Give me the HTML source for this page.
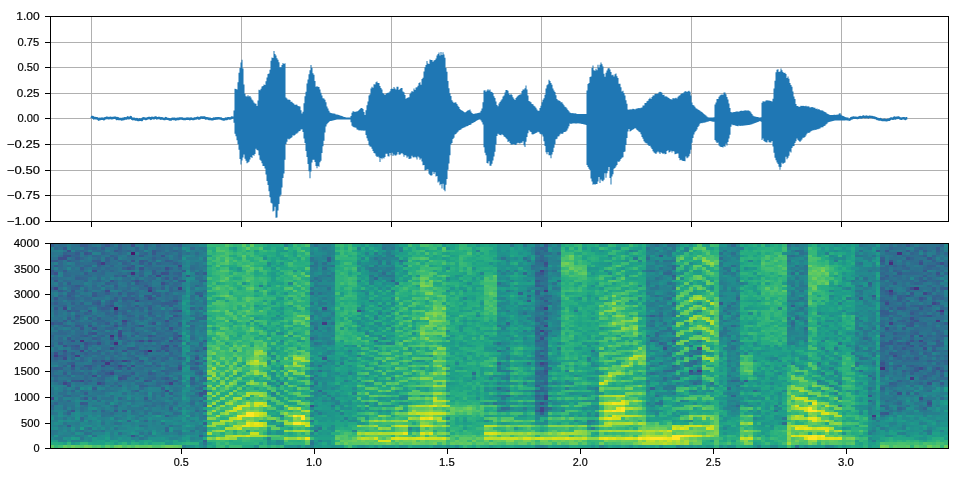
<!DOCTYPE html><html><head><meta charset="utf-8"><style>
html,body{margin:0;padding:0;background:#fff;width:960px;height:480px;overflow:hidden}
svg{display:block}
text{font-family:"Liberation Sans",sans-serif;font-size:11.1px;fill:#000}
.tx{will-change:transform}
.tx text{stroke:#000;stroke-width:0.2px}
</style></head><body>
<svg width="960" height="480" viewBox="0 0 960 480">
<defs><clipPath id="c1"><rect x="50" y="16" width="899" height="206"/></clipPath>
<clipPath id="c2"><rect x="50" y="243" width="899" height="206"/></clipPath></defs>
<g shape-rendering="crispEdges"><rect x="51" y="42" width="897" height="1" fill="#b0b0b0"/><rect x="51" y="67" width="897" height="1" fill="#b0b0b0"/><rect x="51" y="93" width="897" height="1" fill="#b0b0b0"/><rect x="51" y="118" width="897" height="1" fill="#b0b0b0"/><rect x="51" y="144" width="897" height="1" fill="#b0b0b0"/><rect x="51" y="170" width="897" height="1" fill="#b0b0b0"/><rect x="51" y="195" width="897" height="1" fill="#b0b0b0"/><rect x="91" y="17" width="1" height="204" fill="#b0b0b0"/><rect x="241" y="17" width="1" height="204" fill="#b0b0b0"/><rect x="391" y="17" width="1" height="204" fill="#b0b0b0"/><rect x="541" y="17" width="1" height="204" fill="#b0b0b0"/><rect x="691" y="17" width="1" height="204" fill="#b0b0b0"/><rect x="841" y="17" width="1" height="204" fill="#b0b0b0"/></g>
<g clip-path="url(#c1)"><polygon fill="#1f77b4" points="233.5,110.6 234.5,110.6 234.5,88.8 235.5,88.8 235.5,88.9 236.5,88.9 236.5,89.4 237.5,89.4 237.5,82.2 238.5,82.2 238.5,72.7 239.5,72.7 239.5,67.9 240.5,67.9 240.5,62.4 241.5,62.4 241.5,59.7 242.5,59.7 242.5,68.4 243.5,68.4 243.5,84.6 244.5,84.6 244.5,93.8 245.5,93.8 245.5,96.2 246.5,96.2 246.5,96.5 247.5,96.5 247.5,95.3 248.5,95.3 248.5,96.5 249.5,96.5 249.5,96.0 250.5,96.0 250.5,97.6 251.5,97.6 251.5,99.4 252.5,99.4 252.5,100.5 253.5,100.5 253.5,102.5 254.5,102.5 254.5,103.6 255.5,103.6 255.5,103.7 256.5,103.7 256.5,106.1 257.5,106.1 257.5,100.5 258.5,100.5 258.5,89.8 259.5,89.8 259.5,90.2 260.5,90.2 260.5,88.7 261.5,88.7 261.5,86.5 262.5,86.5 262.5,86.1 263.5,86.1 263.5,84.5 264.5,84.5 264.5,85.1 265.5,85.1 265.5,81.2 266.5,81.2 266.5,77.4 267.5,77.4 267.5,73.9 268.5,73.9 268.5,73.4 269.5,73.4 269.5,69.7 270.5,69.7 270.5,60.7 271.5,60.7 271.5,57.4 272.5,57.4 272.5,58.1 273.5,58.1 273.5,51.0 274.5,51.0 274.5,54.1 275.5,54.1 275.5,55.5 276.5,55.5 276.5,58.3 277.5,58.3 277.5,59.8 278.5,59.8 278.5,62.2 279.5,62.2 279.5,67.2 280.5,67.2 280.5,67.2 281.5,67.2 281.5,65.1 282.5,65.1 282.5,63.1 283.5,63.1 283.5,64.0 284.5,64.0 284.5,63.2 285.5,63.2 285.5,97.6 286.5,97.6 286.5,98.5 287.5,98.5 287.5,99.8 288.5,99.8 288.5,99.4 289.5,99.4 289.5,100.0 290.5,100.0 290.5,101.8 291.5,101.8 291.5,101.7 292.5,101.7 292.5,103.0 293.5,103.0 293.5,103.8 294.5,103.8 294.5,105.0 295.5,105.0 295.5,104.4 296.5,104.4 296.5,104.8 297.5,104.8 297.5,106.0 298.5,106.0 298.5,106.3 299.5,106.3 299.5,106.5 300.5,106.5 300.5,110.2 301.5,110.2 301.5,113.4 302.5,113.4 302.5,111.7 303.5,111.7 303.5,103.2 304.5,103.2 304.5,96.3 305.5,96.3 305.5,91.7 306.5,91.7 306.5,83.4 307.5,83.4 307.5,79.4 308.5,79.4 308.5,74.2 309.5,74.2 309.5,70.3 310.5,70.3 310.5,65.0 311.5,65.0 311.5,67.7 312.5,67.7 312.5,73.2 313.5,73.2 313.5,74.8 314.5,74.8 314.5,81.0 315.5,81.0 315.5,86.8 316.5,86.8 316.5,86.2 317.5,86.2 317.5,86.7 318.5,86.7 318.5,87.0 319.5,87.0 319.5,89.5 320.5,89.5 320.5,92.8 321.5,92.8 321.5,95.6 322.5,95.6 322.5,98.2 323.5,98.2 323.5,98.5 324.5,98.5 324.5,99.7 325.5,99.7 325.5,102.3 326.5,102.3 326.5,106.5 327.5,106.5 327.5,108.6 328.5,108.6 328.5,110.7 329.5,110.7 329.5,112.6 330.5,112.6 330.5,112.9 331.5,112.9 331.5,113.2 332.5,113.2 332.5,113.4 333.5,113.4 333.5,113.6 334.5,113.6 334.5,113.8 335.5,113.8 335.5,114.4 336.5,114.4 336.5,114.5 337.5,114.5 337.5,114.8 338.5,114.8 338.5,115.1 339.5,115.1 339.5,115.4 340.5,115.4 340.5,115.8 341.5,115.8 341.5,116.1 342.5,116.1 342.5,116.5 343.5,116.5 343.5,116.9 344.5,116.9 344.5,117.1 345.5,117.1 345.5,117.4 346.5,117.4 346.5,117.5 347.5,117.5 347.5,117.5 348.5,117.5 348.5,117.5 349.5,117.5 349.5,117.5 350.5,117.5 350.5,116.0 351.5,116.0 351.5,112.8 352.5,112.8 352.5,111.3 353.5,111.3 353.5,111.4 354.5,111.4 354.5,111.9 355.5,111.9 355.5,111.6 356.5,111.6 356.5,111.4 357.5,111.4 357.5,110.9 358.5,110.9 358.5,110.1 359.5,110.1 359.5,108.9 360.5,108.9 360.5,108.1 361.5,108.1 361.5,107.9 362.5,107.9 362.5,108.9 363.5,108.9 363.5,112.0 364.5,112.0 364.5,115.0 365.5,115.0 365.5,110.3 366.5,110.3 366.5,105.2 367.5,105.2 367.5,101.5 368.5,101.5 368.5,95.6 369.5,95.6 369.5,94.2 370.5,94.2 370.5,88.5 371.5,88.5 371.5,86.8 372.5,86.8 372.5,87.7 373.5,87.7 373.5,84.2 374.5,84.2 374.5,84.5 375.5,84.5 375.5,82.3 376.5,82.3 376.5,81.4 377.5,81.4 377.5,83.1 378.5,83.1 378.5,83.0 379.5,83.0 379.5,85.9 380.5,85.9 380.5,88.1 381.5,88.1 381.5,89.6 382.5,89.6 382.5,92.9 383.5,92.9 383.5,94.0 384.5,94.0 384.5,94.9 385.5,94.9 385.5,93.8 386.5,93.8 386.5,93.0 387.5,93.0 387.5,92.8 388.5,92.8 388.5,92.5 389.5,92.5 389.5,91.2 390.5,91.2 390.5,89.0 391.5,89.0 391.5,88.4 392.5,88.4 392.5,89.1 393.5,89.1 393.5,86.9 394.5,86.9 394.5,88.6 395.5,88.6 395.5,89.6 396.5,89.6 396.5,86.8 397.5,86.8 397.5,86.8 398.5,86.8 398.5,89.9 399.5,89.9 399.5,88.9 400.5,88.9 400.5,87.9 401.5,87.9 401.5,88.1 402.5,88.1 402.5,91.5 403.5,91.5 403.5,92.3 404.5,92.3 404.5,95.0 405.5,95.0 405.5,98.8 406.5,98.8 406.5,98.0 407.5,98.0 407.5,97.4 408.5,97.4 408.5,97.2 409.5,97.2 409.5,94.1 410.5,94.1 410.5,92.6 411.5,92.6 411.5,91.1 412.5,91.1 412.5,91.7 413.5,91.7 413.5,88.4 414.5,88.4 414.5,89.9 415.5,89.9 415.5,87.4 416.5,87.4 416.5,87.2 417.5,87.2 417.5,85.7 418.5,85.7 418.5,82.9 419.5,82.9 419.5,82.2 420.5,82.2 420.5,84.8 421.5,84.8 421.5,79.0 422.5,79.0 422.5,77.8 423.5,77.8 423.5,71.5 424.5,71.5 424.5,67.3 425.5,67.3 425.5,64.9 426.5,64.9 426.5,61.1 427.5,61.1 427.5,63.4 428.5,63.4 428.5,64.0 429.5,64.0 429.5,59.4 430.5,59.4 430.5,59.9 431.5,59.9 431.5,60.1 432.5,60.1 432.5,61.8 433.5,61.8 433.5,60.6 434.5,60.6 434.5,60.1 435.5,60.1 435.5,58.6 436.5,58.6 436.5,55.6 437.5,55.6 437.5,53.9 438.5,53.9 438.5,52.5 439.5,52.5 439.5,55.6 440.5,55.6 440.5,51.9 441.5,51.9 441.5,55.1 442.5,55.1 442.5,52.3 443.5,52.3 443.5,54.6 444.5,54.6 444.5,57.8 445.5,57.8 445.5,67.9 446.5,67.9 446.5,71.7 447.5,71.7 447.5,80.9 448.5,80.9 448.5,88.2 449.5,88.2 449.5,93.3 450.5,93.3 450.5,96.0 451.5,96.0 451.5,100.2 452.5,100.2 452.5,101.7 453.5,101.7 453.5,103.1 454.5,103.1 454.5,102.2 455.5,102.2 455.5,102.5 456.5,102.5 456.5,104.1 457.5,104.1 457.5,105.7 458.5,105.7 458.5,107.1 459.5,107.1 459.5,108.9 460.5,108.9 460.5,109.9 461.5,109.9 461.5,110.4 462.5,110.4 462.5,111.0 463.5,111.0 463.5,111.9 464.5,111.9 464.5,112.6 465.5,112.6 465.5,111.9 466.5,111.9 466.5,111.0 467.5,111.0 467.5,110.3 468.5,110.3 468.5,110.3 469.5,110.3 469.5,109.5 470.5,109.5 470.5,111.4 471.5,111.4 471.5,113.1 472.5,113.1 472.5,113.8 473.5,113.8 473.5,113.9 474.5,113.9 474.5,113.4 475.5,113.4 475.5,113.4 476.5,113.4 476.5,113.2 477.5,113.2 477.5,112.9 478.5,112.9 478.5,112.7 479.5,112.7 479.5,112.6 480.5,112.6 480.5,110.8 481.5,110.8 481.5,108.6 482.5,108.6 482.5,102.3 483.5,102.3 483.5,90.4 484.5,90.4 484.5,90.3 485.5,90.3 485.5,91.7 486.5,91.7 486.5,90.4 487.5,90.4 487.5,89.3 488.5,89.3 488.5,90.6 489.5,90.6 489.5,89.5 490.5,89.5 490.5,91.8 491.5,91.8 491.5,92.1 492.5,92.1 492.5,93.0 493.5,93.0 493.5,96.3 494.5,96.3 494.5,98.0 495.5,98.0 495.5,101.4 496.5,101.4 496.5,104.9 497.5,104.9 497.5,106.3 498.5,106.3 498.5,103.6 499.5,103.6 499.5,102.1 500.5,102.1 500.5,100.6 501.5,100.6 501.5,99.3 502.5,99.3 502.5,96.4 503.5,96.4 503.5,95.4 504.5,95.4 504.5,92.5 505.5,92.5 505.5,90.1 506.5,90.1 506.5,89.9 507.5,89.9 507.5,90.8 508.5,90.8 508.5,93.6 509.5,93.6 509.5,95.1 510.5,95.1 510.5,93.8 511.5,93.8 511.5,95.1 512.5,95.1 512.5,97.2 513.5,97.2 513.5,98.7 514.5,98.7 514.5,100.1 515.5,100.1 515.5,97.9 516.5,97.9 516.5,96.8 517.5,96.8 517.5,95.8 518.5,95.8 518.5,95.1 519.5,95.1 519.5,94.5 520.5,94.5 520.5,94.3 521.5,94.3 521.5,91.0 522.5,91.0 522.5,89.6 523.5,89.6 523.5,89.4 524.5,89.4 524.5,88.2 525.5,88.2 525.5,85.4 526.5,85.4 526.5,89.5 527.5,89.5 527.5,95.5 528.5,95.5 528.5,101.0 529.5,101.0 529.5,101.4 530.5,101.4 530.5,102.3 531.5,102.3 531.5,103.9 532.5,103.9 532.5,104.3 533.5,104.3 533.5,105.7 534.5,105.7 534.5,106.6 535.5,106.6 535.5,107.8 536.5,107.8 536.5,109.5 537.5,109.5 537.5,110.8 538.5,110.8 538.5,110.7 539.5,110.7 539.5,108.0 540.5,108.0 540.5,105.7 541.5,105.7 541.5,102.3 542.5,102.3 542.5,99.7 543.5,99.7 543.5,98.3 544.5,98.3 544.5,94.8 545.5,94.8 545.5,88.5 546.5,88.5 546.5,85.2 547.5,85.2 547.5,84.3 548.5,84.3 548.5,79.8 549.5,79.8 549.5,81.1 550.5,81.1 550.5,83.0 551.5,83.0 551.5,84.8 552.5,84.8 552.5,88.4 553.5,88.4 553.5,90.5 554.5,90.5 554.5,92.1 555.5,92.1 555.5,95.3 556.5,95.3 556.5,99.1 557.5,99.1 557.5,100.3 558.5,100.3 558.5,100.6 559.5,100.6 559.5,101.1 560.5,101.1 560.5,102.2 561.5,102.2 561.5,102.3 562.5,102.3 562.5,103.7 563.5,103.7 563.5,105.2 564.5,105.2 564.5,106.8 565.5,106.8 565.5,107.3 566.5,107.3 566.5,108.5 567.5,108.5 567.5,109.9 568.5,109.9 568.5,111.3 569.5,111.3 569.5,112.5 570.5,112.5 570.5,112.9 571.5,112.9 571.5,113.2 572.5,113.2 572.5,113.0 573.5,113.0 573.5,113.6 574.5,113.6 574.5,113.3 575.5,113.3 575.5,113.5 576.5,113.5 576.5,114.0 577.5,114.0 577.5,113.9 578.5,113.9 578.5,113.9 579.5,113.9 579.5,114.1 580.5,114.1 580.5,113.9 581.5,113.9 581.5,114.1 582.5,114.1 582.5,113.9 583.5,113.9 583.5,113.9 584.5,113.9 584.5,114.1 585.5,114.1 585.5,114.1 586.5,114.1 586.5,90.6 587.5,90.6 587.5,84.0 588.5,84.0 588.5,83.1 589.5,83.1 589.5,77.1 590.5,77.1 590.5,76.5 591.5,76.5 591.5,67.9 592.5,67.9 592.5,65.6 593.5,65.6 593.5,70.2 594.5,70.2 594.5,70.7 595.5,70.7 595.5,68.7 596.5,68.7 596.5,70.3 597.5,70.3 597.5,64.7 598.5,64.7 598.5,67.6 599.5,67.6 599.5,64.8 600.5,64.8 600.5,62.4 601.5,62.4 601.5,64.3 602.5,64.3 602.5,66.6 603.5,66.6 603.5,73.8 604.5,73.8 604.5,76.8 605.5,76.8 605.5,72.7 606.5,72.7 606.5,70.6 607.5,70.6 607.5,68.4 608.5,68.4 608.5,68.0 609.5,68.0 609.5,69.4 610.5,69.4 610.5,71.9 611.5,71.9 611.5,75.2 612.5,75.2 612.5,74.8 613.5,74.8 613.5,76.5 614.5,76.5 614.5,74.3 615.5,74.3 615.5,73.4 616.5,73.4 616.5,76.2 617.5,76.2 617.5,77.9 618.5,77.9 618.5,83.8 619.5,83.8 619.5,83.8 620.5,83.8 620.5,87.2 621.5,87.2 621.5,91.5 622.5,91.5 622.5,90.7 623.5,90.7 623.5,93.1 624.5,93.1 624.5,95.4 625.5,95.4 625.5,100.3 626.5,100.3 626.5,103.8 627.5,103.8 627.5,109.4 628.5,109.4 628.5,109.8 629.5,109.8 629.5,109.3 630.5,109.3 630.5,109.6 631.5,109.6 631.5,109.3 632.5,109.3 632.5,108.8 633.5,108.8 633.5,108.9 634.5,108.9 634.5,109.5 635.5,109.5 635.5,108.8 636.5,108.8 636.5,108.5 637.5,108.5 637.5,108.2 638.5,108.2 638.5,108.0 639.5,108.0 639.5,108.2 640.5,108.2 640.5,107.7 641.5,107.7 641.5,107.5 642.5,107.5 642.5,105.5 643.5,105.5 643.5,105.4 644.5,105.4 644.5,103.1 645.5,103.1 645.5,103.1 646.5,103.1 646.5,101.2 647.5,101.2 647.5,100.7 648.5,100.7 648.5,99.0 649.5,99.0 649.5,97.8 650.5,97.8 650.5,98.9 651.5,98.9 651.5,97.1 652.5,97.1 652.5,95.5 653.5,95.5 653.5,95.4 654.5,95.4 654.5,93.9 655.5,93.9 655.5,93.8 656.5,93.8 656.5,93.9 657.5,93.9 657.5,93.5 658.5,93.5 658.5,92.2 659.5,92.2 659.5,91.8 660.5,91.8 660.5,91.9 661.5,91.9 661.5,92.7 662.5,92.7 662.5,94.9 663.5,94.9 663.5,94.8 664.5,94.8 664.5,96.5 665.5,96.5 665.5,96.3 666.5,96.3 666.5,96.8 667.5,96.8 667.5,97.6 668.5,97.6 668.5,98.1 669.5,98.1 669.5,99.0 670.5,99.0 670.5,99.2 671.5,99.2 671.5,99.5 672.5,99.5 672.5,97.9 673.5,97.9 673.5,98.5 674.5,98.5 674.5,98.3 675.5,98.3 675.5,97.8 676.5,97.8 676.5,98.5 677.5,98.5 677.5,96.7 678.5,96.7 678.5,95.7 679.5,95.7 679.5,95.3 680.5,95.3 680.5,93.9 681.5,93.9 681.5,93.3 682.5,93.3 682.5,93.2 683.5,93.2 683.5,92.3 684.5,92.3 684.5,91.3 685.5,91.3 685.5,91.3 686.5,91.3 686.5,91.9 687.5,91.9 687.5,91.3 688.5,91.3 688.5,90.7 689.5,90.7 689.5,91.7 690.5,91.7 690.5,95.5 691.5,95.5 691.5,102.4 692.5,102.4 692.5,104.9 693.5,104.9 693.5,105.5 694.5,105.5 694.5,106.8 695.5,106.8 695.5,108.2 696.5,108.2 696.5,108.7 697.5,108.7 697.5,109.4 698.5,109.4 698.5,109.9 699.5,109.9 699.5,110.7 700.5,110.7 700.5,111.6 701.5,111.6 701.5,112.1 702.5,112.1 702.5,113.0 703.5,113.0 703.5,114.0 704.5,114.0 704.5,114.8 705.5,114.8 705.5,115.6 706.5,115.6 706.5,116.4 707.5,116.4 707.5,117.3 708.5,117.3 708.5,117.5 709.5,117.5 709.5,117.5 710.5,117.5 710.5,117.5 711.5,117.5 711.5,117.5 712.5,117.5 712.5,117.5 713.5,117.5 713.5,117.2 714.5,117.2 714.5,104.6 715.5,104.6 715.5,102.5 716.5,102.5 716.5,98.9 717.5,98.9 717.5,99.0 718.5,99.0 718.5,96.7 719.5,96.7 719.5,95.5 720.5,95.5 720.5,94.8 721.5,94.8 721.5,94.4 722.5,94.4 722.5,94.8 723.5,94.8 723.5,92.5 724.5,92.5 724.5,92.6 725.5,92.6 725.5,94.2 726.5,94.2 726.5,97.1 727.5,97.1 727.5,99.6 728.5,99.6 728.5,103.5 729.5,103.5 729.5,108.0 730.5,108.0 730.5,111.9 731.5,111.9 731.5,112.4 732.5,112.4 732.5,112.3 733.5,112.3 733.5,112.0 734.5,112.0 734.5,112.0 735.5,112.0 735.5,111.6 736.5,111.6 736.5,111.4 737.5,111.4 737.5,111.4 738.5,111.4 738.5,111.7 739.5,111.7 739.5,110.9 740.5,110.9 740.5,110.8 741.5,110.8 741.5,110.7 742.5,110.7 742.5,111.1 743.5,111.1 743.5,110.5 744.5,110.5 744.5,110.4 745.5,110.4 745.5,110.3 746.5,110.3 746.5,110.7 747.5,110.7 747.5,110.3 748.5,110.3 748.5,110.8 749.5,110.8 749.5,111.2 750.5,111.2 750.5,112.6 751.5,112.6 751.5,113.9 752.5,113.9 752.5,115.4 753.5,115.4 753.5,116.3 754.5,116.3 754.5,116.6 755.5,116.6 755.5,116.7 756.5,116.7 756.5,117.0 757.5,117.0 757.5,117.1 758.5,117.1 758.5,117.4 759.5,117.4 759.5,117.5 760.5,117.5 760.5,117.2 761.5,117.2 761.5,102.7 762.5,102.7 762.5,101.2 763.5,101.2 763.5,101.5 764.5,101.5 764.5,101.6 765.5,101.6 765.5,100.4 766.5,100.4 766.5,100.2 767.5,100.2 767.5,100.5 768.5,100.5 768.5,100.6 769.5,100.6 769.5,100.8 770.5,100.8 770.5,101.0 771.5,101.0 771.5,101.4 772.5,101.4 772.5,98.8 773.5,98.8 773.5,88.6 774.5,88.6 774.5,80.8 775.5,80.8 775.5,72.3 776.5,72.3 776.5,69.7 777.5,69.7 777.5,69.2 778.5,69.2 778.5,72.1 779.5,72.1 779.5,71.5 780.5,71.5 780.5,68.6 781.5,68.6 781.5,70.3 782.5,70.3 782.5,72.1 783.5,72.1 783.5,72.9 784.5,72.9 784.5,72.7 785.5,72.7 785.5,73.9 786.5,73.9 786.5,77.9 787.5,77.9 787.5,76.6 788.5,76.6 788.5,78.8 789.5,78.8 789.5,83.0 790.5,83.0 790.5,85.1 791.5,85.1 791.5,86.7 792.5,86.7 792.5,91.5 793.5,91.5 793.5,96.4 794.5,96.4 794.5,98.9 795.5,98.9 795.5,104.0 796.5,104.0 796.5,106.1 797.5,106.1 797.5,105.9 798.5,105.9 798.5,107.0 799.5,107.0 799.5,106.4 800.5,106.4 800.5,105.7 801.5,105.7 801.5,106.0 802.5,106.0 802.5,105.8 803.5,105.8 803.5,105.9 804.5,105.9 804.5,106.2 805.5,106.2 805.5,105.8 806.5,105.8 806.5,106.4 807.5,106.4 807.5,106.2 808.5,106.2 808.5,106.5 809.5,106.5 809.5,107.4 810.5,107.4 810.5,107.3 811.5,107.3 811.5,107.1 812.5,107.1 812.5,107.2 813.5,107.2 813.5,107.7 814.5,107.7 814.5,107.7 815.5,107.7 815.5,108.9 816.5,108.9 816.5,108.4 817.5,108.4 817.5,109.5 818.5,109.5 818.5,109.1 819.5,109.1 819.5,110.1 820.5,110.1 820.5,110.5 821.5,110.5 821.5,110.3 822.5,110.3 822.5,110.8 823.5,110.8 823.5,111.6 824.5,111.6 824.5,112.0 825.5,112.0 825.5,112.5 826.5,112.5 826.5,113.4 827.5,113.4 827.5,113.9 828.5,113.9 828.5,114.4 829.5,114.4 829.5,115.0 830.5,115.0 830.5,115.0 831.5,115.0 831.5,114.9 832.5,114.9 832.5,115.1 833.5,115.1 833.5,114.8 834.5,114.8 834.5,114.7 835.5,114.7 835.5,114.9 836.5,114.9 836.5,114.6 837.5,114.6 837.5,114.8 838.5,114.8 838.5,113.7 839.5,113.7 839.5,113.0 840.5,113.0 840.5,114.4 841.5,114.4 841.5,115.5 842.5,115.5 842.5,115.9 843.5,115.9 843.5,116.3 844.5,116.3 844.5,116.9 845.5,116.9 845.5,117.3 846.5,117.3 846.5,117.5 847.5,117.5 847.5,117.5 848.5,117.5 848.5,120.5 847.5,120.5 847.5,120.5 846.5,120.5 846.5,120.3 845.5,120.3 845.5,120.5 844.5,120.5 844.5,120.4 843.5,120.4 843.5,120.4 842.5,120.4 842.5,120.5 841.5,120.5 841.5,120.4 840.5,120.4 840.5,120.4 839.5,120.4 839.5,120.4 838.5,120.4 838.5,120.5 837.5,120.5 837.5,120.4 836.5,120.4 836.5,120.4 835.5,120.4 835.5,120.4 834.5,120.4 834.5,120.8 833.5,120.8 833.5,120.9 832.5,120.9 832.5,121.3 831.5,121.3 831.5,121.4 830.5,121.4 830.5,121.7 829.5,121.7 829.5,122.1 828.5,122.1 828.5,122.6 827.5,122.6 827.5,123.7 826.5,123.7 826.5,124.5 825.5,124.5 825.5,125.8 824.5,125.8 824.5,126.1 823.5,126.1 823.5,127.3 822.5,127.3 822.5,127.3 821.5,127.3 821.5,127.5 820.5,127.5 820.5,128.6 819.5,128.6 819.5,128.7 818.5,128.7 818.5,129.2 817.5,129.2 817.5,129.3 816.5,129.3 816.5,129.9 815.5,129.9 815.5,129.7 814.5,129.7 814.5,130.2 813.5,130.2 813.5,130.2 812.5,130.2 812.5,130.8 811.5,130.8 811.5,131.3 810.5,131.3 810.5,132.3 809.5,132.3 809.5,133.1 808.5,133.1 808.5,132.8 807.5,132.8 807.5,133.7 806.5,133.7 806.5,135.6 805.5,135.6 805.5,136.9 804.5,136.9 804.5,137.8 803.5,137.8 803.5,137.7 802.5,137.7 802.5,139.4 801.5,139.4 801.5,140.8 800.5,140.8 800.5,142.1 799.5,142.1 799.5,141.0 798.5,141.0 798.5,140.1 797.5,140.1 797.5,138.6 796.5,138.6 796.5,141.3 795.5,141.3 795.5,143.1 794.5,143.1 794.5,145.9 793.5,145.9 793.5,146.2 792.5,146.2 792.5,148.1 791.5,148.1 791.5,152.5 790.5,152.5 790.5,151.4 789.5,151.4 789.5,155.7 788.5,155.7 788.5,157.7 787.5,157.7 787.5,159.3 786.5,159.3 786.5,156.8 785.5,156.8 785.5,162.5 784.5,162.5 784.5,163.1 783.5,163.1 783.5,164.0 782.5,164.0 782.5,162.7 781.5,162.7 781.5,166.9 780.5,166.9 780.5,169.7 779.5,169.7 779.5,166.7 778.5,166.7 778.5,164.1 777.5,164.1 777.5,162.4 776.5,162.4 776.5,160.2 775.5,160.2 775.5,157.7 774.5,157.7 774.5,152.7 773.5,152.7 773.5,146.6 772.5,146.6 772.5,140.9 771.5,140.9 771.5,142.5 770.5,142.5 770.5,142.4 769.5,142.4 769.5,142.3 768.5,142.3 768.5,140.2 767.5,140.2 767.5,142.5 766.5,142.5 766.5,142.2 765.5,142.2 765.5,141.8 764.5,141.8 764.5,140.9 763.5,140.9 763.5,138.6 762.5,138.6 762.5,139.9 761.5,139.9 761.5,121.7 760.5,121.7 760.5,121.1 759.5,121.1 759.5,121.6 758.5,121.6 758.5,122.0 757.5,122.0 757.5,122.3 756.5,122.3 756.5,122.7 755.5,122.7 755.5,123.1 754.5,123.1 754.5,123.4 753.5,123.4 753.5,123.8 752.5,123.8 752.5,124.2 751.5,124.2 751.5,124.6 750.5,124.6 750.5,124.7 749.5,124.7 749.5,125.0 748.5,125.0 748.5,125.0 747.5,125.0 747.5,125.3 746.5,125.3 746.5,125.3 745.5,125.3 745.5,125.5 744.5,125.5 744.5,125.6 743.5,125.6 743.5,125.7 742.5,125.7 742.5,125.7 741.5,125.7 741.5,125.8 740.5,125.8 740.5,126.0 739.5,126.0 739.5,125.5 738.5,125.5 738.5,126.2 737.5,126.2 737.5,126.1 736.5,126.1 736.5,125.8 735.5,125.8 735.5,125.5 734.5,125.5 734.5,124.9 733.5,124.9 733.5,125.2 732.5,125.2 732.5,124.5 731.5,124.5 731.5,126.8 730.5,126.8 730.5,134.8 729.5,134.8 729.5,138.6 728.5,138.6 728.5,142.1 727.5,142.1 727.5,145.5 726.5,145.5 726.5,143.8 725.5,143.8 725.5,146.8 724.5,146.8 724.5,146.3 723.5,146.3 723.5,147.5 722.5,147.5 722.5,147.1 721.5,147.1 721.5,147.1 720.5,147.1 720.5,146.4 719.5,146.4 719.5,145.5 718.5,145.5 718.5,142.6 717.5,142.6 717.5,143.1 716.5,143.1 716.5,141.4 715.5,141.4 715.5,140.0 714.5,140.0 714.5,121.8 713.5,121.8 713.5,121.7 712.5,121.7 712.5,121.5 711.5,121.5 711.5,121.2 710.5,121.2 710.5,121.0 709.5,121.0 709.5,121.3 708.5,121.3 708.5,121.7 707.5,121.7 707.5,121.8 706.5,121.8 706.5,122.2 705.5,122.2 705.5,122.5 704.5,122.5 704.5,122.7 703.5,122.7 703.5,122.8 702.5,122.8 702.5,123.2 701.5,123.2 701.5,123.0 700.5,123.0 700.5,123.7 699.5,123.7 699.5,125.7 698.5,125.7 698.5,127.1 697.5,127.1 697.5,129.5 696.5,129.5 696.5,131.1 695.5,131.1 695.5,132.3 694.5,132.3 694.5,134.6 693.5,134.6 693.5,137.9 692.5,137.9 692.5,142.8 691.5,142.8 691.5,149.7 690.5,149.7 690.5,153.7 689.5,153.7 689.5,156.2 688.5,156.2 688.5,157.5 687.5,157.5 687.5,158.2 686.5,158.2 686.5,156.5 685.5,156.5 685.5,161.2 684.5,161.2 684.5,160.9 683.5,160.9 683.5,160.9 682.5,160.9 682.5,160.6 681.5,160.6 681.5,159.8 680.5,159.8 680.5,160.3 679.5,160.3 679.5,158.1 678.5,158.1 678.5,153.6 677.5,153.6 677.5,153.5 676.5,153.5 676.5,154.0 675.5,154.0 675.5,154.2 674.5,154.2 674.5,151.4 673.5,151.4 673.5,151.1 672.5,151.1 672.5,152.6 671.5,152.6 671.5,150.7 670.5,150.7 670.5,152.0 669.5,152.0 669.5,152.5 668.5,152.5 668.5,150.3 667.5,150.3 667.5,150.9 666.5,150.9 666.5,154.1 665.5,154.1 665.5,154.3 664.5,154.3 664.5,153.3 663.5,153.3 663.5,153.9 662.5,153.9 662.5,153.1 661.5,153.1 661.5,152.2 660.5,152.2 660.5,153.9 659.5,153.9 659.5,152.5 658.5,152.5 658.5,151.6 657.5,151.6 657.5,152.6 656.5,152.6 656.5,153.9 655.5,153.9 655.5,153.3 654.5,153.3 654.5,152.5 653.5,152.5 653.5,151.2 652.5,151.2 652.5,148.9 651.5,148.9 651.5,147.5 650.5,147.5 650.5,145.8 649.5,145.8 649.5,145.9 648.5,145.9 648.5,144.9 647.5,144.9 647.5,143.6 646.5,143.6 646.5,143.2 645.5,143.2 645.5,142.4 644.5,142.4 644.5,141.2 643.5,141.2 643.5,138.8 642.5,138.8 642.5,137.1 641.5,137.1 641.5,134.2 640.5,134.2 640.5,132.3 639.5,132.3 639.5,131.7 638.5,131.7 638.5,130.7 637.5,130.7 637.5,130.1 636.5,130.1 636.5,128.8 635.5,128.8 635.5,127.9 634.5,127.9 634.5,128.9 633.5,128.9 633.5,129.5 632.5,129.5 632.5,130.0 631.5,130.0 631.5,131.1 630.5,131.1 630.5,131.5 629.5,131.5 629.5,129.0 628.5,129.0 628.5,131.5 627.5,131.5 627.5,138.1 626.5,138.1 626.5,144.9 625.5,144.9 625.5,151.5 624.5,151.5 624.5,152.1 623.5,152.1 623.5,157.2 622.5,157.2 622.5,157.8 621.5,157.8 621.5,159.0 620.5,159.0 620.5,160.8 619.5,160.8 619.5,162.1 618.5,162.1 618.5,161.5 617.5,161.5 617.5,164.9 616.5,164.9 616.5,166.4 615.5,166.4 615.5,168.1 614.5,168.1 614.5,168.8 613.5,168.8 613.5,174.3 612.5,174.3 612.5,176.4 611.5,176.4 611.5,184.6 610.5,184.6 610.5,177.9 609.5,177.9 609.5,166.9 608.5,166.9 608.5,170.7 607.5,170.7 607.5,173.3 606.5,173.3 606.5,177.8 605.5,177.8 605.5,173.3 604.5,173.3 604.5,179.8 603.5,179.8 603.5,181.2 602.5,181.2 602.5,180.8 601.5,180.8 601.5,179.5 600.5,179.5 600.5,183.0 599.5,183.0 599.5,176.9 598.5,176.9 598.5,181.5 597.5,181.5 597.5,184.0 596.5,184.0 596.5,183.9 595.5,183.9 595.5,184.8 594.5,184.8 594.5,184.1 593.5,184.1 593.5,184.7 592.5,184.7 592.5,181.6 591.5,181.6 591.5,178.6 590.5,178.6 590.5,169.9 589.5,169.9 589.5,168.7 588.5,168.7 588.5,166.9 587.5,166.9 587.5,164.9 586.5,164.9 586.5,124.9 585.5,124.9 585.5,124.4 584.5,124.4 584.5,124.5 583.5,124.5 583.5,124.0 582.5,124.0 582.5,124.0 581.5,124.0 581.5,123.7 580.5,123.7 580.5,123.4 579.5,123.4 579.5,123.4 578.5,123.4 578.5,123.2 577.5,123.2 577.5,123.6 576.5,123.6 576.5,123.5 575.5,123.5 575.5,123.4 574.5,123.4 574.5,123.3 573.5,123.3 573.5,123.4 572.5,123.4 572.5,123.4 571.5,123.4 571.5,123.9 570.5,123.9 570.5,123.6 569.5,123.6 569.5,126.3 568.5,126.3 568.5,128.4 567.5,128.4 567.5,130.4 566.5,130.4 566.5,131.5 565.5,131.5 565.5,132.0 564.5,132.0 564.5,132.0 563.5,132.0 563.5,133.5 562.5,133.5 562.5,134.1 561.5,134.1 561.5,133.4 560.5,133.4 560.5,134.4 559.5,134.4 559.5,136.2 558.5,136.2 558.5,136.6 557.5,136.6 557.5,138.7 556.5,138.7 556.5,139.3 555.5,139.3 555.5,144.2 554.5,144.2 554.5,147.7 553.5,147.7 553.5,151.9 552.5,151.9 552.5,154.5 551.5,154.5 551.5,158.3 550.5,158.3 550.5,155.2 549.5,155.2 549.5,155.2 548.5,155.2 548.5,151.9 547.5,151.9 547.5,154.3 546.5,154.3 546.5,152.3 545.5,152.3 545.5,145.9 544.5,145.9 544.5,141.2 543.5,141.2 543.5,136.6 542.5,136.6 542.5,134.6 541.5,134.6 541.5,134.2 540.5,134.2 540.5,133.7 539.5,133.7 539.5,132.3 538.5,132.3 538.5,131.8 537.5,131.8 537.5,132.4 536.5,132.4 536.5,133.1 535.5,133.1 535.5,133.5 534.5,133.5 534.5,134.1 533.5,134.1 533.5,134.5 532.5,134.5 532.5,134.2 531.5,134.2 531.5,132.0 530.5,132.0 530.5,131.4 529.5,131.4 529.5,130.3 528.5,130.3 528.5,133.2 527.5,133.2 527.5,137.1 526.5,137.1 526.5,141.8 525.5,141.8 525.5,147.1 524.5,147.1 524.5,145.3 523.5,145.3 523.5,141.3 522.5,141.3 522.5,142.7 521.5,142.7 521.5,142.8 520.5,142.8 520.5,143.5 519.5,143.5 519.5,143.2 518.5,143.2 518.5,142.7 517.5,142.7 517.5,143.6 516.5,143.6 516.5,145.0 515.5,145.0 515.5,144.7 514.5,144.7 514.5,144.3 513.5,144.3 513.5,144.3 512.5,144.3 512.5,144.7 511.5,144.7 511.5,144.4 510.5,144.4 510.5,143.0 509.5,143.0 509.5,141.3 508.5,141.3 508.5,142.0 507.5,142.0 507.5,139.3 506.5,139.3 506.5,138.2 505.5,138.2 505.5,137.0 504.5,137.0 504.5,136.5 503.5,136.5 503.5,135.1 502.5,135.1 502.5,134.3 501.5,134.3 501.5,135.2 500.5,135.2 500.5,135.0 499.5,135.0 499.5,134.5 498.5,134.5 498.5,133.8 497.5,133.8 497.5,136.0 496.5,136.0 496.5,144.6 495.5,144.6 495.5,151.7 494.5,151.7 494.5,156.5 493.5,156.5 493.5,160.5 492.5,160.5 492.5,163.7 491.5,163.7 491.5,165.8 490.5,165.8 490.5,165.8 489.5,165.8 489.5,161.3 488.5,161.3 488.5,163.5 487.5,163.5 487.5,163.0 486.5,163.0 486.5,155.3 485.5,155.3 485.5,152.8 484.5,152.8 484.5,147.3 483.5,147.3 483.5,124.5 482.5,124.5 482.5,122.3 481.5,122.3 481.5,120.6 480.5,120.6 480.5,119.5 479.5,119.5 479.5,119.5 478.5,119.5 478.5,119.9 477.5,119.9 477.5,120.5 476.5,120.5 476.5,121.0 475.5,121.0 475.5,121.9 474.5,121.9 474.5,122.3 473.5,122.3 473.5,123.1 472.5,123.1 472.5,123.3 471.5,123.3 471.5,124.4 470.5,124.4 470.5,124.9 469.5,124.9 469.5,125.0 468.5,125.0 468.5,125.9 467.5,125.9 467.5,126.3 466.5,126.3 466.5,126.5 465.5,126.5 465.5,127.2 464.5,127.2 464.5,127.4 463.5,127.4 463.5,127.9 462.5,127.9 462.5,128.4 461.5,128.4 461.5,129.4 460.5,129.4 460.5,130.0 459.5,130.0 459.5,130.5 458.5,130.5 458.5,131.8 457.5,131.8 457.5,132.8 456.5,132.8 456.5,134.0 455.5,134.0 455.5,134.4 454.5,134.4 454.5,137.7 453.5,137.7 453.5,138.9 452.5,138.9 452.5,142.9 451.5,142.9 451.5,144.4 450.5,144.4 450.5,155.3 449.5,155.3 449.5,163.6 448.5,163.6 448.5,169.7 447.5,169.7 447.5,178.9 446.5,178.9 446.5,184.8 445.5,184.8 445.5,191.3 444.5,191.3 444.5,189.7 443.5,189.7 443.5,183.8 442.5,183.8 442.5,188.4 441.5,188.4 441.5,184.1 440.5,184.1 440.5,185.3 439.5,185.3 439.5,181.4 438.5,181.4 438.5,182.5 437.5,182.5 437.5,175.9 436.5,175.9 436.5,176.6 435.5,176.6 435.5,172.2 434.5,172.2 434.5,174.1 433.5,174.1 433.5,171.8 432.5,171.8 432.5,175.2 431.5,175.2 431.5,175.7 430.5,175.7 430.5,175.1 429.5,175.1 429.5,173.7 428.5,173.7 428.5,169.4 427.5,169.4 427.5,169.6 426.5,169.6 426.5,170.1 425.5,170.1 425.5,170.6 424.5,170.6 424.5,165.0 423.5,165.0 423.5,165.2 422.5,165.2 422.5,161.4 421.5,161.4 421.5,158.5 420.5,158.5 420.5,159.7 419.5,159.7 419.5,157.4 418.5,157.4 418.5,156.4 417.5,156.4 417.5,159.6 416.5,159.6 416.5,157.4 415.5,157.4 415.5,156.7 414.5,156.7 414.5,157.5 413.5,157.5 413.5,157.3 412.5,157.3 412.5,155.7 411.5,155.7 411.5,158.5 410.5,158.5 410.5,158.8 409.5,158.8 409.5,158.9 408.5,158.9 408.5,156.5 407.5,156.5 407.5,157.7 406.5,157.7 406.5,155.6 405.5,155.6 405.5,155.1 404.5,155.1 404.5,156.8 403.5,156.8 403.5,154.3 402.5,154.3 402.5,153.1 401.5,153.1 401.5,153.7 400.5,153.7 400.5,154.8 399.5,154.8 399.5,154.4 398.5,154.4 398.5,152.0 397.5,152.0 397.5,154.5 396.5,154.5 396.5,155.6 395.5,155.6 395.5,155.4 394.5,155.4 394.5,154.5 393.5,154.5 393.5,156.0 392.5,156.0 392.5,152.8 391.5,152.8 391.5,155.3 390.5,155.3 390.5,153.0 389.5,153.0 389.5,156.5 388.5,156.5 388.5,156.2 387.5,156.2 387.5,153.7 386.5,153.7 386.5,153.8 385.5,153.8 385.5,156.9 384.5,156.9 384.5,158.5 383.5,158.5 383.5,157.8 382.5,157.8 382.5,159.3 381.5,159.3 381.5,158.1 380.5,158.1 380.5,162.1 379.5,162.1 379.5,157.5 378.5,157.5 378.5,156.4 377.5,156.4 377.5,157.1 376.5,157.1 376.5,155.8 375.5,155.8 375.5,153.4 374.5,153.4 374.5,152.9 373.5,152.9 373.5,151.0 372.5,151.0 372.5,148.7 371.5,148.7 371.5,146.8 370.5,146.8 370.5,146.4 369.5,146.4 369.5,145.3 368.5,145.3 368.5,140.7 367.5,140.7 367.5,138.3 366.5,138.3 366.5,134.9 365.5,134.9 365.5,130.6 364.5,130.6 364.5,130.8 363.5,130.8 363.5,130.4 362.5,130.4 362.5,130.4 361.5,130.4 361.5,130.6 360.5,130.6 360.5,130.2 359.5,130.2 359.5,130.6 358.5,130.6 358.5,129.7 357.5,129.7 357.5,129.4 356.5,129.4 356.5,127.8 355.5,127.8 355.5,127.5 354.5,127.5 354.5,127.2 353.5,127.2 353.5,126.8 352.5,126.8 352.5,125.7 351.5,125.7 351.5,122.2 350.5,122.2 350.5,119.5 349.5,119.5 349.5,119.5 348.5,119.5 348.5,119.5 347.5,119.5 347.5,119.5 346.5,119.5 346.5,119.5 345.5,119.5 345.5,119.5 344.5,119.5 344.5,119.5 343.5,119.5 343.5,119.5 342.5,119.5 342.5,119.5 341.5,119.5 341.5,119.5 340.5,119.5 340.5,119.5 339.5,119.5 339.5,119.5 338.5,119.5 338.5,119.5 337.5,119.5 337.5,119.6 336.5,119.6 336.5,119.8 335.5,119.8 335.5,119.9 334.5,119.9 334.5,120.2 333.5,120.2 333.5,120.5 332.5,120.5 332.5,120.7 331.5,120.7 331.5,120.9 330.5,120.9 330.5,121.1 329.5,121.1 329.5,121.9 328.5,121.9 328.5,123.0 327.5,123.0 327.5,124.2 326.5,124.2 326.5,126.6 325.5,126.6 325.5,132.4 324.5,132.4 324.5,140.7 323.5,140.7 323.5,146.3 322.5,146.3 322.5,153.1 321.5,153.1 321.5,160.7 320.5,160.7 320.5,162.2 319.5,162.2 319.5,166.8 318.5,166.8 318.5,166.0 317.5,166.0 317.5,168.2 316.5,168.2 316.5,166.1 315.5,166.1 315.5,162.1 314.5,162.1 314.5,159.8 313.5,159.8 313.5,159.7 312.5,159.7 312.5,162.5 311.5,162.5 311.5,171.4 310.5,171.4 310.5,178.3 309.5,178.3 309.5,171.3 308.5,171.3 308.5,164.1 307.5,164.1 307.5,157.0 306.5,157.0 306.5,151.0 305.5,151.0 305.5,143.1 304.5,143.1 304.5,138.5 303.5,138.5 303.5,132.0 302.5,132.0 302.5,129.2 301.5,129.2 301.5,129.6 300.5,129.6 300.5,131.0 299.5,131.0 299.5,131.2 298.5,131.2 298.5,132.6 297.5,132.6 297.5,133.4 296.5,133.4 296.5,133.7 295.5,133.7 295.5,135.0 294.5,135.0 294.5,135.7 293.5,135.7 293.5,135.2 292.5,135.2 292.5,137.2 291.5,137.2 291.5,137.9 290.5,137.9 290.5,138.7 289.5,138.7 289.5,139.5 288.5,139.5 288.5,138.8 287.5,138.8 287.5,141.7 286.5,141.7 286.5,144.1 285.5,144.1 285.5,159.8 284.5,159.8 284.5,173.5 283.5,173.5 283.5,177.9 282.5,177.9 282.5,187.5 281.5,187.5 281.5,194.7 280.5,194.7 280.5,196.6 279.5,196.6 279.5,204.0 278.5,204.0 278.5,210.6 277.5,210.6 277.5,217.6 276.5,217.6 276.5,217.7 275.5,217.7 275.5,206.7 274.5,206.7 274.5,210.7 273.5,210.7 273.5,211.6 272.5,211.6 272.5,203.5 271.5,203.5 271.5,202.8 270.5,202.8 270.5,197.3 269.5,197.3 269.5,191.2 268.5,191.2 268.5,185.1 267.5,185.1 267.5,181.1 266.5,181.1 266.5,174.4 265.5,174.4 265.5,168.4 264.5,168.4 264.5,166.1 263.5,166.1 263.5,166.0 262.5,166.0 262.5,163.3 261.5,163.3 261.5,160.7 260.5,160.7 260.5,159.7 259.5,159.7 259.5,155.3 258.5,155.3 258.5,150.6 257.5,150.6 257.5,149.9 256.5,149.9 256.5,148.7 255.5,148.7 255.5,154.1 254.5,154.1 254.5,155.7 253.5,155.7 253.5,154.9 252.5,154.9 252.5,158.1 251.5,158.1 251.5,157.1 250.5,157.1 250.5,159.4 249.5,159.4 249.5,161.8 248.5,161.8 248.5,162.4 247.5,162.4 247.5,163.3 246.5,163.3 246.5,160.8 245.5,160.8 245.5,158.7 244.5,158.7 244.5,154.5 243.5,154.5 243.5,157.4 242.5,157.4 242.5,160.4 241.5,160.4 241.5,164.6 240.5,164.6 240.5,159.1 239.5,159.1 239.5,149.7 238.5,149.7 238.5,144.2 237.5,144.2 237.5,140.2 236.5,140.2 236.5,136.3 235.5,136.3 235.5,133.7 234.5,133.7 234.5,122.7 233.5,122.7"/><polyline fill="none" stroke="#1f77b4" stroke-width="2.5" stroke-linejoin="round" stroke-linecap="butt" points="90.8,116.83 91.8,117.18 92.8,116.94 93.8,118.36 94.8,117.92 95.8,118.24 96.8,118.29 97.8,118.67 98.8,119.60 99.8,118.83 100.8,118.92 101.8,118.60 102.8,118.64 103.8,119.24 104.8,118.34 105.8,118.27 106.8,117.66 107.8,118.10 108.8,118.23 109.8,117.90 110.8,117.86 111.8,118.20 112.8,118.03 113.8,117.86 114.8,117.80 115.8,117.72 116.8,119.03 117.8,118.06 118.8,119.02 119.8,118.90 120.8,118.89 121.8,119.59 122.8,118.77 123.8,119.22 124.8,118.16 125.8,118.44 126.8,118.47 127.8,117.42 128.8,118.25 129.8,117.89 130.8,117.11 131.8,118.68 132.8,119.17 133.8,118.70 134.8,119.03 135.8,119.53 136.8,119.03 137.8,119.92 138.8,120.05 139.8,119.38 140.8,119.82 141.8,120.05 142.8,118.44 143.8,118.35 144.8,118.59 145.8,118.96 146.8,118.78 147.8,118.22 148.8,118.06 149.8,118.10 150.8,118.87 151.8,117.84 152.8,117.88 153.8,118.33 154.8,117.80 155.8,117.46 156.8,118.41 157.8,118.12 158.8,117.86 159.8,118.07 160.8,118.63 161.8,118.27 162.8,118.59 163.8,118.91 164.8,119.05 165.8,118.15 166.8,118.72 167.8,118.88 168.8,119.13 169.8,119.47 170.8,119.58 171.8,118.95 172.8,118.66 173.8,119.06 174.8,118.72 175.8,119.48 176.8,118.94 177.8,118.77 178.8,119.04 179.8,118.40 180.8,118.45 181.8,118.46 182.8,118.78 183.8,119.03 184.8,118.88 185.8,118.89 186.8,118.57 187.8,118.81 188.8,118.62 189.8,119.14 190.8,118.53 191.8,118.76 192.8,118.89 193.8,119.04 194.8,118.38 195.8,118.44 196.8,118.11 197.8,117.81 198.8,118.54 199.8,118.20 200.8,117.39 201.8,117.46 202.8,117.87 203.8,117.51 204.8,117.55 205.8,118.56 206.8,118.16 207.8,118.40 208.8,118.93 209.8,118.68 210.8,119.14 211.8,119.34 212.8,119.27 213.8,118.47 214.8,118.83 215.8,118.29 216.8,118.57 217.8,118.23 218.8,118.17 219.8,118.38 220.8,118.39 221.8,118.99 222.8,119.18 223.8,119.53 224.8,119.05 225.8,118.53 226.8,118.99 227.8,118.28 228.8,118.34 229.8,118.56 230.8,118.36 231.8,117.54 232.8,117.63 233.8,118.03"/><polyline fill="none" stroke="#1f77b4" stroke-width="2.5" stroke-linejoin="round" stroke-linecap="butt" points="848.3,120.15 849.3,119.64 850.3,119.40 851.3,117.97 852.3,118.26 853.3,117.50 854.3,117.66 855.3,117.63 856.3,117.81 857.3,117.93 858.3,117.68 859.3,117.38 860.3,117.06 861.3,117.59 862.3,117.19 863.3,116.44 864.3,117.00 865.3,117.15 866.3,116.60 867.3,116.97 868.3,117.39 869.3,116.72 870.3,116.85 871.3,117.12 872.3,117.06 873.3,117.50 874.3,117.59 875.3,118.11 876.3,118.19 877.3,119.09 878.3,118.98 879.3,119.59 880.3,119.07 881.3,119.62 882.3,119.95 883.3,120.11 884.3,119.77 885.3,120.07 886.3,120.26 887.3,120.00 888.3,119.71 889.3,119.78 890.3,118.92 891.3,118.44 892.3,118.65 893.3,118.66 894.3,117.49 895.3,118.52 896.3,117.81 897.3,117.93 898.3,117.51 899.3,117.88 900.3,118.62 901.3,118.72 902.3,118.37 903.3,118.13 904.3,118.27 905.3,118.86 906.3,118.23 907.3,118.23"/></g>
<g clip-path="url(#c2)"><g transform="translate(49.9,242.3) scale(4.259,2.5)" shape-rendering="crispEdges"><path fill="#48186a" d="M19 4h1v1h-1zM15 26h1v1h-1zM23 43h1v1h-1z"/><path fill="#472d7b" d="M197 8h1v1h-1zM14 37h1v1h-1zM7 39h1v1h-1zM15 40h1v1h-1zM195 50h1v1h-1z"/><path fill="#46327e" d="M199 4h1v1h-1zM19 12h1v1h-1zM203 18h1v1h-1zM209 27h1v1h-1z"/><path fill="#453781" d="M23 19h1v1h-1zM197 19h1v1h-1zM208 31h1v1h-1zM13 48h1v1h-1zM202 54h1v1h-1zM193 69h1v1h-1z"/><path fill="#433d84" d="M12 8h1v1h-1zM30 18h1v1h-1zM116 19h1v1h-1zM116 26h1v1h-1zM64 32h1v1h-1zM115 35h1v1h-1zM1 45h1v1h-1zM6 45h1v1h-1zM152 51h1v1h-1z"/><path fill="#424186" d="M115 11h1v1h-1zM17 31h1v1h-1zM197 32h1v1h-1zM7 43h1v1h-1zM17 47h1v1h-1zM28 56h1v1h-1zM115 67h1v1h-1z"/><path fill="#404688" d="M25 13h1v1h-1zM1 18h1v1h-1zM205 20h1v1h-1zM207 24h1v1h-1zM3 26h1v1h-1zM116 33h1v1h-1zM16 37h1v1h-1zM23 39h1v1h-1zM204 39h1v1h-1zM115 48h1v1h-1zM5 49h1v1h-1zM16 49h1v1h-1zM14 52h1v1h-1zM7 55h1v1h-1zM3 56h1v1h-1zM115 66h1v1h-1z"/><path fill="#3e4a89" d="M30 9h1v1h-1zM23 18h1v1h-1zM13 19h1v1h-1zM20 23h1v1h-1zM196 24h1v1h-1zM72 27h1v1h-1zM16 36h1v1h-1zM30 37h1v1h-1zM204 37h1v1h-1zM21 39h1v1h-1zM27 41h1v1h-1zM152 42h1v1h-1zM198 45h1v1h-1zM3 46h1v1h-1zM14 47h1v1h-1zM19 49h1v1h-1zM204 50h1v1h-1zM150 51h1v1h-1zM10 53h1v1h-1zM11 56h1v1h-1zM27 59h1v1h-1zM116 61h1v1h-1zM0 62h1v1h-1zM116 62h1v1h-1z"/><path fill="#3c4f8a" d="M19 0h1v1h-1zM19 1h1v1h-1zM4 3h1v1h-1zM4 5h1v1h-1zM2 6h2v1h-2zM116 8h1v1h-1zM204 8h1v1h-1zM209 8h1v1h-1zM27 10h1v1h-1zM10 11h1v1h-1zM1 12h1v1h-1zM26 12h1v1h-1zM20 15h1v1h-1zM26 16h1v1h-1zM202 18h1v1h-1zM197 20h1v1h-1zM23 22h1v1h-1zM29 23h1v1h-1zM14 25h1v1h-1zM64 26h1v1h-1zM30 27h1v1h-1zM202 30h1v1h-1zM27 31h1v1h-1zM15 33h1v1h-1zM28 34h1v1h-1zM16 35h1v1h-1zM115 38h1v1h-1zM5 39h1v1h-1zM28 39h1v1h-1zM11 40h1v1h-1zM3 41h1v1h-1zM14 42h1v1h-1zM205 42h1v1h-1zM3 43h1v1h-1zM1 44h1v1h-1zM12 47h1v1h-1zM12 49h1v1h-1zM30 50h1v1h-1zM16 54h1v1h-1zM199 60h1v1h-1zM204 62h1v1h-1zM115 64h1v1h-1zM206 64h1v1h-1zM61 65h1v1h-1z"/><path fill="#3a538b" d="M8 4h1v1h-1zM3 5h1v1h-1zM26 5h1v1h-1zM19 7h1v1h-1zM197 7h1v1h-1zM18 10h1v1h-1zM21 10h1v1h-1zM27 12h1v1h-1zM208 12h1v1h-1zM14 15h1v1h-1zM201 21h1v1h-1zM204 22h1v1h-1zM9 27h1v1h-1zM208 27h1v1h-1zM29 29h1v1h-1zM206 29h1v1h-1zM203 31h1v1h-1zM0 32h1v1h-1zM24 32h1v1h-1zM9 33h1v1h-1zM21 33h1v1h-1zM10 34h1v1h-1zM196 34h1v1h-1zM10 36h1v1h-1zM23 37h1v1h-1zM14 38h1v1h-1zM202 39h1v1h-1zM8 40h1v1h-1zM201 40h1v1h-1zM6 41h1v1h-1zM202 41h1v1h-1zM144 42h1v1h-1zM17 43h1v1h-1zM22 43h1v1h-1zM27 43h1v1h-1zM34 46h1v1h-1zM195 48h1v1h-1zM208 50h1v1h-1zM116 51h1v1h-1zM209 51h1v1h-1zM22 55h1v1h-1zM206 56h1v1h-1zM4 57h1v1h-1zM36 59h1v1h-1zM35 60h1v1h-1zM5 67h1v1h-1zM19 77h1v1h-1z"/><path fill="#38588c" d="M13 0h1v1h-1zM13 1h1v1h-1zM3 2h1v1h-1zM15 3h1v1h-1zM24 3h1v1h-1zM196 3h1v1h-1zM24 4h1v1h-1zM143 5h1v1h-1zM201 6h1v1h-1zM206 6h1v1h-1zM1 7h1v1h-1zM21 7h1v1h-1zM195 7h1v1h-1zM11 8h1v1h-1zM19 9h1v1h-1zM116 9h1v1h-1zM0 11h1v1h-1zM205 11h1v1h-1zM115 12h1v1h-1zM199 12h1v1h-1zM17 13h1v1h-1zM32 13h1v1h-1zM27 14h1v1h-1zM1 15h1v1h-1zM31 15h1v1h-1zM114 15h1v1h-1zM6 17h1v1h-1zM22 17h1v1h-1zM5 19h1v1h-1zM202 20h1v1h-1zM4 21h1v1h-1zM10 21h1v1h-1zM22 21h2v1h-2zM35 21h1v1h-1zM193 21h1v1h-1zM1 22h1v1h-1zM112 23h1v1h-1zM116 23h1v1h-1zM11 24h1v1h-1zM157 24h1v1h-1zM208 24h1v1h-1zM20 25h1v1h-1zM206 25h1v1h-1zM1 26h1v1h-1zM23 26h1v1h-1zM199 26h1v1h-1zM204 26h1v1h-1zM4 27h1v1h-1zM15 27h1v1h-1zM29 27h1v1h-1zM202 28h1v1h-1zM209 28h1v1h-1zM6 29h1v1h-1zM202 32h1v1h-1zM6 33h1v1h-1zM202 33h1v1h-1zM7 34h1v1h-1zM8 37h1v1h-1zM195 37h1v1h-1zM202 37h1v1h-1zM4 38h1v1h-1zM29 38h1v1h-1zM146 39h1v1h-1zM208 39h1v1h-1zM197 40h1v1h-1zM29 41h1v1h-1zM19 42h1v1h-1zM26 42h1v1h-1zM36 42h1v1h-1zM200 42h1v1h-1zM115 45h1v1h-1zM64 46h1v1h-1zM203 46h1v1h-1zM10 47h1v1h-1zM18 47h1v1h-1zM21 47h1v1h-1zM34 48h1v1h-1zM116 48h1v1h-1zM8 49h2v1h-2zM17 49h1v1h-1zM18 50h1v1h-1zM203 51h1v1h-1zM13 52h1v1h-1zM17 53h1v1h-1zM17 54h1v1h-1zM27 54h1v1h-1zM5 55h2v1h-2zM192 61h1v1h-1zM8 62h1v1h-1zM7 64h1v1h-1zM196 68h1v1h-1z"/><path fill="#365c8d" d="M0 0h1v1h-1zM7 0h2v1h-2zM116 0h1v1h-1zM201 0h1v1h-1zM0 1h1v1h-1zM7 1h2v1h-2zM116 1h1v1h-1zM201 1h1v1h-1zM12 2h1v1h-1zM208 2h1v1h-1zM194 3h1v1h-1zM201 3h1v1h-1zM205 3h1v1h-1zM6 4h1v1h-1zM9 4h1v1h-1zM21 5h1v1h-1zM205 5h1v1h-1zM6 6h1v1h-1zM15 6h1v1h-1zM65 6h1v1h-1zM0 7h1v1h-1zM4 7h1v1h-1zM10 7h2v1h-2zM27 7h1v1h-1zM204 7h1v1h-1zM21 8h1v1h-1zM23 8h1v1h-1zM1 9h1v1h-1zM7 10h1v1h-1zM3 11h1v1h-1zM24 11h1v1h-1zM31 11h1v1h-1zM0 12h1v1h-1zM8 12h1v1h-1zM24 12h1v1h-1zM36 12h1v1h-1zM196 13h1v1h-1zM205 13h1v1h-1zM29 14h1v1h-1zM30 15h1v1h-1zM205 15h1v1h-1zM4 16h1v1h-1zM20 16h1v1h-1zM198 16h1v1h-1zM15 17h1v1h-1zM114 17h1v1h-1zM210 18h1v1h-1zM2 19h1v1h-1zM196 19h1v1h-1zM10 20h1v1h-1zM16 20h1v1h-1zM25 21h1v1h-1zM15 22h1v1h-1zM17 22h1v1h-1zM19 22h1v1h-1zM190 22h1v1h-1zM199 22h1v1h-1zM14 23h1v1h-1zM1 24h1v1h-1zM27 24h1v1h-1zM13 25h1v1h-1zM28 25h1v1h-1zM174 25h1v1h-1zM12 26h1v1h-1zM200 26h1v1h-1zM195 27h1v1h-1zM15 28h1v1h-1zM23 28h1v1h-1zM196 28h1v1h-1zM141 29h1v1h-1zM4 30h1v1h-1zM11 30h1v1h-1zM116 30h1v1h-1zM3 31h1v1h-1zM2 32h1v1h-1zM13 32h1v1h-1zM17 32h1v1h-1zM30 32h1v1h-1zM201 33h1v1h-1zM200 34h1v1h-1zM9 36h1v1h-1zM116 36h1v1h-1zM198 36h1v1h-1zM24 37h1v1h-1zM10 38h1v1h-1zM16 38h1v1h-1zM30 39h1v1h-1zM197 39h1v1h-1zM2 40h1v1h-1zM196 40h1v1h-1zM199 40h1v1h-1zM5 41h1v1h-1zM8 41h1v1h-1zM26 41h1v1h-1zM195 41h1v1h-1zM204 41h1v1h-1zM208 41h1v1h-1zM8 42h1v1h-1zM18 42h1v1h-1zM25 43h1v1h-1zM34 43h1v1h-1zM115 43h1v1h-1zM202 43h1v1h-1zM207 43h1v1h-1zM5 44h1v1h-1zM22 44h1v1h-1zM197 44h1v1h-1zM2 45h2v1h-2zM5 48h1v1h-1zM30 49h1v1h-1zM195 49h1v1h-1zM199 49h1v1h-1zM202 49h1v1h-1zM1 50h1v1h-1zM5 50h1v1h-1zM9 50h1v1h-1zM16 50h1v1h-1zM203 50h1v1h-1zM200 51h1v1h-1zM3 52h1v1h-1zM19 52h1v1h-1zM23 52h1v1h-1zM116 52h1v1h-1zM205 53h1v1h-1zM209 53h1v1h-1zM33 54h1v1h-1zM29 55h1v1h-1zM163 55h1v1h-1zM4 56h1v1h-1zM12 56h1v1h-1zM209 56h1v1h-1zM10 58h1v1h-1zM114 59h1v1h-1zM8 60h1v1h-1zM36 60h1v1h-1zM35 61h1v1h-1zM114 61h1v1h-1zM22 62h1v1h-1zM8 64h1v1h-1zM15 67h1v1h-1zM17 67h1v1h-1zM114 67h1v1h-1zM195 68h1v1h-1zM4 73h1v1h-1z"/><path fill="#34608d" d="M16 0h1v1h-1zM30 0h1v1h-1zM16 1h1v1h-1zM30 1h1v1h-1zM16 2h1v1h-1zM115 2h1v1h-1zM208 3h1v1h-1zM3 4h1v1h-1zM14 5h1v1h-1zM13 6h1v1h-1zM24 6h1v1h-1zM195 6h1v1h-1zM13 7h1v1h-1zM22 7h1v1h-1zM28 7h1v1h-1zM65 7h1v1h-1zM115 7h1v1h-1zM207 7h1v1h-1zM17 8h1v1h-1zM29 8h1v1h-1zM208 8h1v1h-1zM11 9h1v1h-1zM198 9h1v1h-1zM200 9h1v1h-1zM206 9h2v1h-2zM17 10h1v1h-1zM19 10h1v1h-1zM198 11h1v1h-1zM30 12h1v1h-1zM114 12h1v1h-1zM15 13h1v1h-1zM21 13h1v1h-1zM146 13h1v1h-1zM6 14h1v1h-1zM195 14h1v1h-1zM204 14h1v1h-1zM19 15h1v1h-1zM21 15h1v1h-1zM13 16h1v1h-1zM192 16h1v1h-1zM0 18h1v1h-1zM26 18h1v1h-1zM207 18h1v1h-1zM209 18h1v1h-1zM8 19h1v1h-1zM114 19h1v1h-1zM4 20h2v1h-2zM13 20h1v1h-1zM18 20h2v1h-2zM24 20h1v1h-1zM34 20h1v1h-1zM114 20h1v1h-1zM206 20h1v1h-1zM199 21h1v1h-1zM208 21h1v1h-1zM5 22h1v1h-1zM24 22h1v1h-1zM205 22h1v1h-1zM207 22h1v1h-1zM11 23h1v1h-1zM15 23h1v1h-1zM196 23h1v1h-1zM199 23h1v1h-1zM201 23h1v1h-1zM204 23h1v1h-1zM5 24h1v1h-1zM7 24h1v1h-1zM10 24h1v1h-1zM14 24h1v1h-1zM26 24h1v1h-1zM28 24h1v1h-1zM3 25h1v1h-1zM23 25h1v1h-1zM203 25h2v1h-2zM13 26h1v1h-1zM197 26h1v1h-1zM6 27h1v1h-1zM196 27h1v1h-1zM8 28h1v1h-1zM17 28h1v1h-1zM195 28h1v1h-1zM18 29h1v1h-1zM205 29h1v1h-1zM9 30h1v1h-1zM28 30h1v1h-1zM5 31h1v1h-1zM200 31h1v1h-1zM202 31h1v1h-1zM1 32h1v1h-1zM210 32h1v1h-1zM3 33h1v1h-1zM19 35h1v1h-1zM20 36h1v1h-1zM29 36h1v1h-1zM114 36h1v1h-1zM203 36h1v1h-1zM7 37h1v1h-1zM12 37h1v1h-1zM19 37h1v1h-1zM29 37h1v1h-1zM209 37h2v1h-2zM198 38h1v1h-1zM20 39h1v1h-1zM24 39h1v1h-1zM36 39h1v1h-1zM114 39h1v1h-1zM9 40h1v1h-1zM195 40h1v1h-1zM205 40h1v1h-1zM208 40h1v1h-1zM0 41h1v1h-1zM207 41h1v1h-1zM6 42h1v1h-1zM27 42h1v1h-1zM207 42h1v1h-1zM11 43h1v1h-1zM21 43h1v1h-1zM3 44h1v1h-1zM8 44h1v1h-1zM198 44h1v1h-1zM205 44h1v1h-1zM1 46h1v1h-1zM20 46h1v1h-1zM24 46h1v1h-1zM30 46h1v1h-1zM206 47h1v1h-1zM3 49h1v1h-1zM14 49h1v1h-1zM25 49h1v1h-1zM115 49h1v1h-1zM2 50h1v1h-1zM33 50h1v1h-1zM12 51h1v1h-1zM26 51h1v1h-1zM207 51h1v1h-1zM35 52h1v1h-1zM150 52h1v1h-1zM202 52h1v1h-1zM18 53h1v1h-1zM20 54h1v1h-1zM9 55h1v1h-1zM23 55h1v1h-1zM199 55h1v1h-1zM27 56h1v1h-1zM116 56h1v1h-1zM197 56h1v1h-1zM16 57h1v1h-1zM21 57h2v1h-2zM114 57h1v1h-1zM26 58h1v1h-1zM20 59h1v1h-1zM115 59h1v1h-1zM28 60h1v1h-1zM206 63h1v1h-1zM15 65h1v1h-1zM206 65h1v1h-1zM28 66h1v1h-1zM115 68h1v1h-1zM27 69h1v1h-1zM36 72h1v1h-1z"/><path fill="#32648e" d="M22 0h1v1h-1zM25 0h1v1h-1zM209 0h1v1h-1zM22 1h1v1h-1zM25 1h1v1h-1zM209 1h1v1h-1zM8 2h1v1h-1zM10 2h1v1h-1zM20 2h1v1h-1zM197 2h1v1h-1zM204 2h1v1h-1zM7 3h1v1h-1zM16 3h1v1h-1zM18 3h1v1h-1zM20 3h1v1h-1zM25 3h1v1h-1zM29 3h1v1h-1zM116 3h1v1h-1zM203 3h1v1h-1zM12 4h1v1h-1zM22 4h1v1h-1zM114 4h1v1h-1zM202 4h1v1h-1zM5 5h2v1h-2zM10 5h1v1h-1zM30 5h1v1h-1zM207 5h1v1h-1zM202 6h1v1h-1zM16 7h1v1h-1zM25 8h1v1h-1zM195 8h1v1h-1zM8 9h2v1h-2zM14 9h1v1h-1zM210 9h1v1h-1zM28 10h1v1h-1zM30 10h1v1h-1zM201 10h1v1h-1zM206 10h1v1h-1zM14 11h1v1h-1zM27 11h1v1h-1zM29 12h1v1h-1zM34 12h1v1h-1zM23 13h1v1h-1zM30 13h1v1h-1zM114 13h1v1h-1zM198 13h1v1h-1zM208 13h1v1h-1zM7 14h1v1h-1zM206 14h1v1h-1zM8 15h1v1h-1zM11 15h1v1h-1zM36 15h1v1h-1zM80 15h1v1h-1zM204 15h1v1h-1zM208 15h1v1h-1zM27 16h1v1h-1zM203 16h1v1h-1zM5 17h1v1h-1zM7 17h1v1h-1zM12 17h1v1h-1zM34 17h1v1h-1zM115 17h1v1h-1zM5 18h2v1h-2zM15 18h1v1h-1zM28 18h1v1h-1zM195 18h1v1h-1zM28 19h1v1h-1zM201 19h1v1h-1zM207 19h1v1h-1zM25 20h1v1h-1zM27 20h1v1h-1zM35 20h1v1h-1zM110 20h1v1h-1zM196 20h1v1h-1zM198 20h1v1h-1zM2 21h1v1h-1zM18 21h1v1h-1zM112 21h1v1h-1zM197 21h1v1h-1zM200 21h1v1h-1zM202 21h1v1h-1zM207 21h1v1h-1zM4 22h1v1h-1zM18 22h1v1h-1zM115 22h1v1h-1zM209 22h1v1h-1zM17 23h1v1h-1zM28 23h1v1h-1zM195 23h1v1h-1zM29 24h1v1h-1zM200 24h1v1h-1zM11 25h1v1h-1zM26 25h1v1h-1zM200 25h1v1h-1zM202 25h1v1h-1zM5 26h1v1h-1zM11 26h1v1h-1zM19 26h1v1h-1zM21 26h1v1h-1zM33 26h1v1h-1zM115 26h1v1h-1zM209 26h1v1h-1zM5 27h1v1h-1zM17 27h1v1h-1zM202 27h2v1h-2zM13 28h1v1h-1zM197 28h1v1h-1zM19 29h1v1h-1zM24 29h1v1h-1zM30 29h1v1h-1zM36 29h1v1h-1zM195 29h1v1h-1zM204 29h1v1h-1zM6 30h1v1h-1zM21 30h1v1h-1zM114 30h1v1h-1zM197 30h1v1h-1zM12 31h1v1h-1zM18 31h1v1h-1zM114 31h1v1h-1zM199 31h1v1h-1zM15 32h1v1h-1zM201 32h1v1h-1zM205 32h1v1h-1zM4 33h1v1h-1zM7 33h1v1h-1zM17 33h1v1h-1zM20 33h1v1h-1zM27 33h1v1h-1zM30 33h1v1h-1zM195 33h1v1h-1zM13 34h2v1h-2zM19 34h1v1h-1zM114 34h1v1h-1zM24 35h1v1h-1zM208 35h1v1h-1zM0 37h1v1h-1zM115 37h2v1h-2zM206 37h1v1h-1zM11 38h1v1h-1zM26 38h1v1h-1zM202 38h1v1h-1zM18 39h1v1h-1zM25 39h1v1h-1zM141 39h1v1h-1zM160 39h1v1h-1zM10 40h1v1h-1zM14 40h1v1h-1zM143 40h1v1h-1zM200 40h1v1h-1zM209 40h1v1h-1zM201 41h1v1h-1zM5 42h1v1h-1zM20 42h1v1h-1zM30 42h1v1h-1zM198 42h1v1h-1zM9 43h1v1h-1zM30 43h1v1h-1zM15 44h1v1h-1zM28 44h1v1h-1zM34 45h1v1h-1zM208 45h1v1h-1zM5 46h1v1h-1zM7 46h1v1h-1zM27 46h1v1h-1zM199 46h1v1h-1zM201 46h1v1h-1zM7 47h1v1h-1zM15 47h2v1h-2zM26 47h1v1h-1zM195 47h1v1h-1zM210 47h1v1h-1zM4 48h1v1h-1zM15 48h1v1h-1zM24 48h1v1h-1zM105 48h1v1h-1zM208 48h1v1h-1zM15 49h1v1h-1zM22 49h2v1h-2zM116 49h1v1h-1zM146 49h1v1h-1zM198 49h1v1h-1zM201 49h1v1h-1zM0 50h1v1h-1zM7 50h1v1h-1zM34 50h1v1h-1zM116 50h1v1h-1zM198 50h1v1h-1zM205 50h1v1h-1zM207 50h1v1h-1zM14 51h1v1h-1zM202 51h1v1h-1zM5 52h1v1h-1zM7 52h1v1h-1zM9 52h1v1h-1zM11 52h1v1h-1zM24 52h1v1h-1zM114 52h1v1h-1zM207 52h1v1h-1zM209 52h1v1h-1zM1 53h1v1h-1zM4 53h1v1h-1zM12 53h1v1h-1zM12 54h1v1h-1zM24 54h1v1h-1zM26 54h1v1h-1zM205 54h1v1h-1zM1 55h1v1h-1zM207 55h1v1h-1zM33 56h1v1h-1zM198 56h1v1h-1zM204 56h1v1h-1zM36 57h1v1h-1zM115 58h1v1h-1zM141 58h1v1h-1zM195 58h1v1h-1zM5 59h1v1h-1zM201 60h1v1h-1zM4 61h1v1h-1zM160 61h1v1h-1zM10 62h1v1h-1zM192 63h1v1h-1zM1 64h1v1h-1zM0 65h1v1h-1zM36 65h1v1h-1zM195 65h1v1h-1zM199 66h1v1h-1zM205 66h1v1h-1zM12 67h1v1h-1zM4 68h1v1h-1zM18 71h1v1h-1zM27 75h1v1h-1zM35 77h1v1h-1zM36 79h1v1h-1z"/><path fill="#31688e" d="M12 0h1v1h-1zM160 0h1v1h-1zM12 1h1v1h-1zM160 1h1v1h-1zM1 2h1v1h-1zM22 2h1v1h-1zM33 2h1v1h-1zM116 2h1v1h-1zM11 3h1v1h-1zM4 4h2v1h-2zM16 4h1v1h-1zM27 4h1v1h-1zM30 4h1v1h-1zM208 4h1v1h-1zM210 4h1v1h-1zM11 5h1v1h-1zM15 5h1v1h-1zM18 5h1v1h-1zM115 5h1v1h-1zM200 5h1v1h-1zM204 5h1v1h-1zM7 6h1v1h-1zM11 6h1v1h-1zM30 6h1v1h-1zM115 6h1v1h-1zM2 7h1v1h-1zM5 7h1v1h-1zM17 7h1v1h-1zM24 7h1v1h-1zM114 7h1v1h-1zM200 7h1v1h-1zM2 8h1v1h-1zM6 8h1v1h-1zM13 8h1v1h-1zM18 8h1v1h-1zM210 8h1v1h-1zM2 9h1v1h-1zM18 9h1v1h-1zM22 9h2v1h-2zM146 9h1v1h-1zM196 9h1v1h-1zM10 10h2v1h-2zM13 10h1v1h-1zM25 10h1v1h-1zM146 10h1v1h-1zM195 10h2v1h-2zM200 10h1v1h-1zM205 10h1v1h-1zM208 10h1v1h-1zM7 11h1v1h-1zM12 11h1v1h-1zM21 11h1v1h-1zM116 11h1v1h-1zM196 11h1v1h-1zM199 11h1v1h-1zM3 12h1v1h-1zM12 12h1v1h-1zM18 12h1v1h-1zM21 12h1v1h-1zM111 12h1v1h-1zM144 12h2v1h-2zM195 12h1v1h-1zM200 12h4v1h-4zM206 12h1v1h-1zM210 12h1v1h-1zM3 13h2v1h-2zM6 13h1v1h-1zM9 13h1v1h-1zM16 13h1v1h-1zM115 13h1v1h-1zM209 13h1v1h-1zM0 14h2v1h-2zM8 14h1v1h-1zM11 14h1v1h-1zM24 14h1v1h-1zM26 14h1v1h-1zM76 14h1v1h-1zM196 14h1v1h-1zM3 15h1v1h-1zM15 15h1v1h-1zM23 15h1v1h-1zM28 15h1v1h-1zM35 15h1v1h-1zM115 15h1v1h-1zM119 15h1v1h-1zM197 15h1v1h-1zM202 15h1v1h-1zM207 15h1v1h-1zM209 15h1v1h-1zM2 16h1v1h-1zM15 16h1v1h-1zM18 16h1v1h-1zM21 16h2v1h-2zM29 16h1v1h-1zM114 16h1v1h-1zM204 16h1v1h-1zM208 16h1v1h-1zM2 17h1v1h-1zM10 17h1v1h-1zM26 17h1v1h-1zM29 17h1v1h-1zM206 17h1v1h-1zM8 18h1v1h-1zM18 18h1v1h-1zM21 18h1v1h-1zM24 18h1v1h-1zM116 18h1v1h-1zM201 18h1v1h-1zM3 19h1v1h-1zM17 19h1v1h-1zM195 19h1v1h-1zM61 20h1v1h-1zM5 21h1v1h-1zM7 21h1v1h-1zM11 21h1v1h-1zM20 21h1v1h-1zM29 21h1v1h-1zM116 21h1v1h-1zM209 21h1v1h-1zM8 22h2v1h-2zM20 22h1v1h-1zM22 22h1v1h-1zM29 22h1v1h-1zM161 22h1v1h-1zM195 22h1v1h-1zM200 22h1v1h-1zM208 22h1v1h-1zM1 23h1v1h-1zM10 23h1v1h-1zM21 23h1v1h-1zM30 23h1v1h-1zM207 23h1v1h-1zM0 24h1v1h-1zM13 24h1v1h-1zM18 24h1v1h-1zM24 24h2v1h-2zM146 24h1v1h-1zM2 25h1v1h-1zM6 25h1v1h-1zM8 25h2v1h-2zM18 25h1v1h-1zM22 25h1v1h-1zM115 25h1v1h-1zM205 25h1v1h-1zM209 25h1v1h-1zM8 26h1v1h-1zM18 26h1v1h-1zM29 26h1v1h-1zM35 26h1v1h-1zM1 27h1v1h-1zM12 27h1v1h-1zM16 27h1v1h-1zM21 27h1v1h-1zM23 27h1v1h-1zM28 27h1v1h-1zM204 27h1v1h-1zM206 27h1v1h-1zM1 28h1v1h-1zM9 28h1v1h-1zM116 28h1v1h-1zM198 28h1v1h-1zM203 28h1v1h-1zM10 29h1v1h-1zM14 29h1v1h-1zM21 29h1v1h-1zM23 29h1v1h-1zM143 29h1v1h-1zM196 29h1v1h-1zM199 29h1v1h-1zM207 29h1v1h-1zM15 30h1v1h-1zM25 30h1v1h-1zM35 30h2v1h-2zM175 30h1v1h-1zM203 30h1v1h-1zM1 31h1v1h-1zM10 31h2v1h-2zM33 31h1v1h-1zM6 32h1v1h-1zM9 32h1v1h-1zM11 32h1v1h-1zM19 32h1v1h-1zM23 32h1v1h-1zM27 32h1v1h-1zM107 32h1v1h-1zM115 32h1v1h-1zM174 32h1v1h-1zM204 32h1v1h-1zM16 33h1v1h-1zM33 33h1v1h-1zM160 33h1v1h-1zM205 33h1v1h-1zM24 34h1v1h-1zM198 34h1v1h-1zM207 34h1v1h-1zM2 35h1v1h-1zM12 35h1v1h-1zM17 35h1v1h-1zM27 35h2v1h-2zM114 35h1v1h-1zM116 35h1v1h-1zM196 35h1v1h-1zM202 35h2v1h-2zM207 35h1v1h-1zM2 36h2v1h-2zM7 36h1v1h-1zM13 36h1v1h-1zM25 36h1v1h-1zM199 36h2v1h-2zM202 36h1v1h-1zM208 36h2v1h-2zM9 37h1v1h-1zM11 37h1v1h-1zM17 37h1v1h-1zM22 37h1v1h-1zM208 37h1v1h-1zM2 38h1v1h-1zM6 38h1v1h-1zM17 38h1v1h-1zM23 38h1v1h-1zM61 38h1v1h-1zM191 38h1v1h-1zM199 38h1v1h-1zM205 38h1v1h-1zM208 38h2v1h-2zM4 39h1v1h-1zM11 39h1v1h-1zM22 39h1v1h-1zM29 39h1v1h-1zM207 39h1v1h-1zM17 40h1v1h-1zM35 40h1v1h-1zM116 40h1v1h-1zM4 41h1v1h-1zM15 41h1v1h-1zM20 41h1v1h-1zM22 41h1v1h-1zM24 41h1v1h-1zM198 41h1v1h-1zM209 41h1v1h-1zM15 42h1v1h-1zM195 42h2v1h-2zM201 42h1v1h-1zM2 43h1v1h-1zM195 43h1v1h-1zM199 43h1v1h-1zM208 43h1v1h-1zM10 44h2v1h-2zM13 44h1v1h-1zM20 44h1v1h-1zM199 44h1v1h-1zM202 44h2v1h-2zM206 44h1v1h-1zM0 45h1v1h-1zM5 45h1v1h-1zM8 45h1v1h-1zM12 45h1v1h-1zM18 45h2v1h-2zM28 45h2v1h-2zM114 45h1v1h-1zM150 45h1v1h-1zM196 45h1v1h-1zM199 45h1v1h-1zM206 45h1v1h-1zM210 45h1v1h-1zM2 46h1v1h-1zM14 46h1v1h-1zM26 46h1v1h-1zM115 46h2v1h-2zM11 47h1v1h-1zM13 47h1v1h-1zM33 47h1v1h-1zM36 47h1v1h-1zM151 47h1v1h-1zM200 47h1v1h-1zM202 47h2v1h-2zM207 47h1v1h-1zM209 47h1v1h-1zM10 48h1v1h-1zM210 48h1v1h-1zM10 49h1v1h-1zM27 49h1v1h-1zM196 49h1v1h-1zM203 49h1v1h-1zM15 50h1v1h-1zM28 50h1v1h-1zM209 50h1v1h-1zM0 51h1v1h-1zM27 51h1v1h-1zM115 51h1v1h-1zM145 51h1v1h-1zM196 51h1v1h-1zM210 51h1v1h-1zM6 52h1v1h-1zM12 52h1v1h-1zM27 52h1v1h-1zM34 52h1v1h-1zM115 52h1v1h-1zM152 52h1v1h-1zM206 52h1v1h-1zM0 53h1v1h-1zM8 53h1v1h-1zM13 53h1v1h-1zM16 53h1v1h-1zM115 53h1v1h-1zM192 53h1v1h-1zM195 53h1v1h-1zM206 53h1v1h-1zM8 54h1v1h-1zM11 54h1v1h-1zM23 54h1v1h-1zM30 54h1v1h-1zM36 54h1v1h-1zM204 54h1v1h-1zM209 54h2v1h-2zM3 55h1v1h-1zM16 55h1v1h-1zM33 55h1v1h-1zM160 55h1v1h-1zM208 55h1v1h-1zM8 56h1v1h-1zM15 56h1v1h-1zM25 56h1v1h-1zM115 56h1v1h-1zM151 56h1v1h-1zM14 57h1v1h-1zM25 57h1v1h-1zM198 57h1v1h-1zM6 58h1v1h-1zM35 58h1v1h-1zM159 58h1v1h-1zM63 59h1v1h-1zM116 59h1v1h-1zM203 60h1v1h-1zM3 61h1v1h-1zM26 61h1v1h-1zM107 61h1v1h-1zM115 61h1v1h-1zM16 62h1v1h-1zM114 62h1v1h-1zM4 63h1v1h-1zM35 63h1v1h-1zM114 64h1v1h-1zM116 64h1v1h-1zM199 64h1v1h-1zM22 65h1v1h-1zM161 65h1v1h-1zM116 66h1v1h-1zM34 67h1v1h-1zM36 67h1v1h-1zM7 70h1v1h-1zM22 71h1v1h-1zM27 74h1v1h-1z"/><path fill="#2f6c8e" d="M2 0h1v1h-1zM9 0h1v1h-1zM14 0h1v1h-1zM29 0h1v1h-1zM197 0h1v1h-1zM199 0h1v1h-1zM2 1h1v1h-1zM9 1h1v1h-1zM14 1h1v1h-1zM29 1h1v1h-1zM197 1h1v1h-1zM199 1h1v1h-1zM9 2h1v1h-1zM25 2h2v1h-2zM28 2h1v1h-1zM114 2h1v1h-1zM198 2h1v1h-1zM203 2h1v1h-1zM205 2h1v1h-1zM6 3h1v1h-1zM8 3h1v1h-1zM10 3h1v1h-1zM12 3h1v1h-1zM17 3h1v1h-1zM21 3h1v1h-1zM26 3h1v1h-1zM28 3h1v1h-1zM30 3h1v1h-1zM114 3h1v1h-1zM175 3h1v1h-1zM209 3h1v1h-1zM13 4h1v1h-1zM21 4h1v1h-1zM34 4h1v1h-1zM119 4h1v1h-1zM197 4h2v1h-2zM203 4h1v1h-1zM2 5h1v1h-1zM8 5h1v1h-1zM19 5h1v1h-1zM24 5h1v1h-1zM174 5h1v1h-1zM198 5h1v1h-1zM201 5h1v1h-1zM5 6h1v1h-1zM19 6h1v1h-1zM25 6h1v1h-1zM27 6h1v1h-1zM140 6h1v1h-1zM157 6h1v1h-1zM207 6h1v1h-1zM6 7h1v1h-1zM116 7h1v1h-1zM202 7h1v1h-1zM7 8h1v1h-1zM9 8h2v1h-2zM26 8h1v1h-1zM28 8h1v1h-1zM30 8h1v1h-1zM200 8h1v1h-1zM203 8h1v1h-1zM206 8h2v1h-2zM4 9h1v1h-1zM6 9h1v1h-1zM12 9h1v1h-1zM113 9h1v1h-1zM160 9h1v1h-1zM197 9h1v1h-1zM199 9h1v1h-1zM205 9h1v1h-1zM2 10h1v1h-1zM23 10h2v1h-2zM33 10h1v1h-1zM64 10h1v1h-1zM198 10h1v1h-1zM207 10h1v1h-1zM1 11h1v1h-1zM141 11h1v1h-1zM202 11h1v1h-1zM209 11h1v1h-1zM4 12h1v1h-1zM11 12h1v1h-1zM16 12h1v1h-1zM25 12h1v1h-1zM78 12h1v1h-1zM174 12h1v1h-1zM204 12h1v1h-1zM7 13h2v1h-2zM11 13h1v1h-1zM19 13h1v1h-1zM199 13h1v1h-1zM18 14h1v1h-1zM20 14h1v1h-1zM23 14h1v1h-1zM115 14h2v1h-2zM199 14h1v1h-1zM201 14h1v1h-1zM203 14h1v1h-1zM4 15h1v1h-1zM10 15h1v1h-1zM17 15h1v1h-1zM200 15h2v1h-2zM206 15h1v1h-1zM14 16h1v1h-1zM30 16h1v1h-1zM81 16h1v1h-1zM202 16h1v1h-1zM4 17h1v1h-1zM18 17h2v1h-2zM21 17h1v1h-1zM23 17h1v1h-1zM28 17h1v1h-1zM192 17h1v1h-1zM200 17h1v1h-1zM209 17h1v1h-1zM10 18h2v1h-2zM13 18h1v1h-1zM22 18h1v1h-1zM197 18h1v1h-1zM12 19h1v1h-1zM20 19h1v1h-1zM24 19h1v1h-1zM29 19h2v1h-2zM209 19h1v1h-1zM6 20h1v1h-1zM11 20h2v1h-2zM14 20h1v1h-1zM20 20h1v1h-1zM195 20h1v1h-1zM208 20h1v1h-1zM12 21h1v1h-1zM16 21h1v1h-1zM27 21h1v1h-1zM117 21h1v1h-1zM142 21h1v1h-1zM3 22h1v1h-1zM6 22h1v1h-1zM27 22h1v1h-1zM145 22h1v1h-1zM203 22h1v1h-1zM5 23h1v1h-1zM8 23h2v1h-2zM13 23h1v1h-1zM22 23h4v1h-4zM198 23h1v1h-1zM2 24h1v1h-1zM17 24h1v1h-1zM117 24h1v1h-1zM197 24h1v1h-1zM7 25h1v1h-1zM159 25h1v1h-1zM196 25h1v1h-1zM198 25h2v1h-2zM6 26h2v1h-2zM14 26h1v1h-1zM17 26h1v1h-1zM114 26h1v1h-1zM195 26h1v1h-1zM201 26h1v1h-1zM205 26h2v1h-2zM210 26h1v1h-1zM13 27h1v1h-1zM19 27h1v1h-1zM24 27h1v1h-1zM26 27h1v1h-1zM198 27h1v1h-1zM200 27h1v1h-1zM6 28h1v1h-1zM14 28h1v1h-1zM18 28h1v1h-1zM26 28h1v1h-1zM28 28h1v1h-1zM205 28h1v1h-1zM207 28h1v1h-1zM4 29h1v1h-1zM7 29h1v1h-1zM26 29h1v1h-1zM146 29h1v1h-1zM198 29h1v1h-1zM203 29h1v1h-1zM209 29h1v1h-1zM18 30h1v1h-1zM34 30h1v1h-1zM200 30h2v1h-2zM209 30h1v1h-1zM26 31h1v1h-1zM195 31h1v1h-1zM7 32h1v1h-1zM12 32h1v1h-1zM116 32h1v1h-1zM195 32h1v1h-1zM198 32h1v1h-1zM200 32h1v1h-1zM207 32h1v1h-1zM209 32h1v1h-1zM0 33h1v1h-1zM14 33h1v1h-1zM26 33h1v1h-1zM204 33h1v1h-1zM207 33h1v1h-1zM1 34h1v1h-1zM5 34h1v1h-1zM15 34h1v1h-1zM23 34h1v1h-1zM26 34h1v1h-1zM29 34h1v1h-1zM62 34h1v1h-1zM177 34h1v1h-1zM203 34h1v1h-1zM4 35h1v1h-1zM6 35h2v1h-2zM9 35h1v1h-1zM11 35h1v1h-1zM197 35h1v1h-1zM1 36h1v1h-1zM6 36h1v1h-1zM26 36h1v1h-1zM142 36h1v1h-1zM195 36h1v1h-1zM5 37h2v1h-2zM21 37h1v1h-1zM27 37h2v1h-2zM142 37h1v1h-1zM207 37h1v1h-1zM0 38h1v1h-1zM25 38h1v1h-1zM27 38h1v1h-1zM33 38h1v1h-1zM2 39h1v1h-1zM9 39h1v1h-1zM14 39h1v1h-1zM26 39h1v1h-1zM115 39h2v1h-2zM195 39h1v1h-1zM198 39h1v1h-1zM201 39h1v1h-1zM203 39h1v1h-1zM0 40h1v1h-1zM4 40h1v1h-1zM12 40h1v1h-1zM25 40h1v1h-1zM28 40h1v1h-1zM198 40h1v1h-1zM204 40h1v1h-1zM9 41h1v1h-1zM16 41h1v1h-1zM35 41h1v1h-1zM115 41h2v1h-2zM200 41h1v1h-1zM206 41h1v1h-1zM12 42h2v1h-2zM29 42h1v1h-1zM116 42h1v1h-1zM199 42h1v1h-1zM202 42h1v1h-1zM12 43h1v1h-1zM105 43h1v1h-1zM114 43h1v1h-1zM116 43h1v1h-1zM203 43h1v1h-1zM205 43h1v1h-1zM210 43h1v1h-1zM0 44h1v1h-1zM4 44h1v1h-1zM7 44h1v1h-1zM9 44h1v1h-1zM18 44h1v1h-1zM114 44h1v1h-1zM200 44h1v1h-1zM9 45h1v1h-1zM14 45h1v1h-1zM16 45h1v1h-1zM22 45h1v1h-1zM25 45h1v1h-1zM27 45h1v1h-1zM203 45h2v1h-2zM207 45h1v1h-1zM0 46h1v1h-1zM10 46h1v1h-1zM12 46h1v1h-1zM19 46h1v1h-1zM23 46h1v1h-1zM196 46h1v1h-1zM198 46h1v1h-1zM202 46h1v1h-1zM208 46h1v1h-1zM1 47h1v1h-1zM6 47h1v1h-1zM23 47h1v1h-1zM197 47h1v1h-1zM201 47h1v1h-1zM11 48h2v1h-2zM20 48h2v1h-2zM30 48h1v1h-1zM33 48h1v1h-1zM35 48h1v1h-1zM114 48h1v1h-1zM151 48h1v1h-1zM196 48h1v1h-1zM13 49h1v1h-1zM205 49h1v1h-1zM207 49h1v1h-1zM8 50h1v1h-1zM12 50h1v1h-1zM21 50h1v1h-1zM29 50h1v1h-1zM196 50h1v1h-1zM202 50h1v1h-1zM3 51h1v1h-1zM5 51h1v1h-1zM13 51h1v1h-1zM23 51h1v1h-1zM28 51h3v1h-3zM35 51h1v1h-1zM63 51h1v1h-1zM114 51h1v1h-1zM144 51h1v1h-1zM146 51h1v1h-1zM190 51h1v1h-1zM201 51h1v1h-1zM0 52h1v1h-1zM15 52h2v1h-2zM18 52h1v1h-1zM99 52h1v1h-1zM151 52h1v1h-1zM200 52h1v1h-1zM2 53h1v1h-1zM21 53h1v1h-1zM23 53h2v1h-2zM30 53h1v1h-1zM200 53h1v1h-1zM1 54h1v1h-1zM5 54h1v1h-1zM28 54h1v1h-1zM61 54h1v1h-1zM115 54h2v1h-2zM144 54h1v1h-1zM147 54h1v1h-1zM193 54h1v1h-1zM8 55h1v1h-1zM11 55h2v1h-2zM19 55h1v1h-1zM27 55h2v1h-2zM35 55h2v1h-2zM116 55h1v1h-1zM161 55h1v1h-1zM2 56h1v1h-1zM20 56h2v1h-2zM26 56h1v1h-1zM30 56h1v1h-1zM197 57h1v1h-1zM202 57h1v1h-1zM205 57h1v1h-1zM21 58h1v1h-1zM105 58h1v1h-1zM3 59h1v1h-1zM7 59h1v1h-1zM12 59h1v1h-1zM19 59h1v1h-1zM165 59h1v1h-1zM198 59h1v1h-1zM206 59h1v1h-1zM26 60h1v1h-1zM34 60h1v1h-1zM7 62h1v1h-1zM36 62h1v1h-1zM209 62h1v1h-1zM11 63h1v1h-1zM23 63h1v1h-1zM196 63h1v1h-1zM204 63h1v1h-1zM26 64h1v1h-1zM29 64h1v1h-1zM33 64h1v1h-1zM24 65h1v1h-1zM0 66h1v1h-1zM3 66h1v1h-1zM106 66h1v1h-1zM196 66h1v1h-1zM4 67h1v1h-1zM10 67h1v1h-1zM19 67h1v1h-1zM116 67h1v1h-1zM14 68h1v1h-1zM29 68h1v1h-1zM193 70h1v1h-1zM172 72h1v1h-1zM62 75h1v1h-1z"/><path fill="#2d708e" d="M1 0h1v1h-1zM3 0h1v1h-1zM6 0h1v1h-1zM17 0h1v1h-1zM26 0h1v1h-1zM28 0h1v1h-1zM62 0h1v1h-1zM142 0h1v1h-1zM145 0h1v1h-1zM173 0h1v1h-1zM202 0h1v1h-1zM205 0h1v1h-1zM208 0h1v1h-1zM1 1h1v1h-1zM3 1h1v1h-1zM6 1h1v1h-1zM17 1h1v1h-1zM26 1h1v1h-1zM28 1h1v1h-1zM62 1h1v1h-1zM142 1h1v1h-1zM145 1h1v1h-1zM173 1h1v1h-1zM202 1h1v1h-1zM205 1h1v1h-1zM208 1h1v1h-1zM2 2h1v1h-1zM11 2h1v1h-1zM15 2h1v1h-1zM17 2h1v1h-1zM30 2h1v1h-1zM199 2h2v1h-2zM207 2h1v1h-1zM176 3h1v1h-1zM190 3h1v1h-1zM206 3h1v1h-1zM17 4h1v1h-1zM25 4h1v1h-1zM28 4h1v1h-1zM32 4h1v1h-1zM115 4h1v1h-1zM157 4h1v1h-1zM160 4h1v1h-1zM176 4h1v1h-1zM196 4h1v1h-1zM205 4h1v1h-1zM20 5h1v1h-1zM25 5h1v1h-1zM29 5h1v1h-1zM202 5h2v1h-2zM0 6h2v1h-2zM10 6h1v1h-1zM14 6h1v1h-1zM18 6h1v1h-1zM23 6h1v1h-1zM26 6h1v1h-1zM29 6h1v1h-1zM111 6h1v1h-1zM114 6h1v1h-1zM116 6h1v1h-1zM197 6h3v1h-3zM203 6h1v1h-1zM14 7h1v1h-1zM26 7h1v1h-1zM29 7h1v1h-1zM82 7h1v1h-1zM112 7h1v1h-1zM144 7h1v1h-1zM198 7h1v1h-1zM201 7h1v1h-1zM203 7h1v1h-1zM210 7h1v1h-1zM8 8h1v1h-1zM14 8h2v1h-2zM22 8h1v1h-1zM27 8h1v1h-1zM64 8h1v1h-1zM114 8h2v1h-2zM198 8h1v1h-1zM202 8h1v1h-1zM0 9h1v1h-1zM33 9h1v1h-1zM61 9h1v1h-1zM175 9h1v1h-1zM0 10h1v1h-1zM5 10h1v1h-1zM8 10h1v1h-1zM14 10h2v1h-2zM26 10h1v1h-1zM199 10h1v1h-1zM203 10h1v1h-1zM2 11h1v1h-1zM6 11h1v1h-1zM13 11h1v1h-1zM15 11h1v1h-1zM35 11h1v1h-1zM118 11h1v1h-1zM145 11h1v1h-1zM159 11h1v1h-1zM195 11h1v1h-1zM203 11h1v1h-1zM208 11h1v1h-1zM5 12h2v1h-2zM9 12h2v1h-2zM28 12h1v1h-1zM35 12h1v1h-1zM116 12h1v1h-1zM176 12h1v1h-1zM196 12h1v1h-1zM1 13h1v1h-1zM12 13h1v1h-1zM27 13h3v1h-3zM65 13h1v1h-1zM195 13h1v1h-1zM201 13h1v1h-1zM2 14h1v1h-1zM17 14h1v1h-1zM22 14h1v1h-1zM30 14h1v1h-1zM34 14h2v1h-2zM62 14h1v1h-1zM114 14h1v1h-1zM146 14h1v1h-1zM191 14h1v1h-1zM197 14h1v1h-1zM207 14h1v1h-1zM5 15h1v1h-1zM7 15h1v1h-1zM12 15h1v1h-1zM18 15h1v1h-1zM26 15h1v1h-1zM63 15h1v1h-1zM116 15h1v1h-1zM195 15h1v1h-1zM198 15h1v1h-1zM7 16h1v1h-1zM10 16h1v1h-1zM23 16h1v1h-1zM145 16h1v1h-1zM196 16h1v1h-1zM200 16h1v1h-1zM207 16h1v1h-1zM0 17h1v1h-1zM3 17h1v1h-1zM20 17h1v1h-1zM116 17h1v1h-1zM190 17h1v1h-1zM196 17h1v1h-1zM4 18h1v1h-1zM17 18h1v1h-1zM65 18h1v1h-1zM146 18h1v1h-1zM204 18h1v1h-1zM0 19h2v1h-2zM9 19h1v1h-1zM31 19h1v1h-1zM36 19h1v1h-1zM204 19h1v1h-1zM28 20h1v1h-1zM200 20h1v1h-1zM209 20h1v1h-1zM3 21h1v1h-1zM8 21h1v1h-1zM14 21h1v1h-1zM28 21h1v1h-1zM30 21h1v1h-1zM33 21h1v1h-1zM196 21h1v1h-1zM0 22h1v1h-1zM2 22h1v1h-1zM14 22h1v1h-1zM116 22h1v1h-1zM176 22h1v1h-1zM196 22h2v1h-2zM210 22h1v1h-1zM2 23h1v1h-1zM4 23h1v1h-1zM6 23h1v1h-1zM18 23h2v1h-2zM27 23h1v1h-1zM197 23h1v1h-1zM3 24h1v1h-1zM6 24h1v1h-1zM22 24h1v1h-1zM33 24h1v1h-1zM36 24h1v1h-1zM116 24h1v1h-1zM198 24h1v1h-1zM202 24h1v1h-1zM205 24h1v1h-1zM1 25h1v1h-1zM10 25h1v1h-1zM12 25h1v1h-1zM24 25h1v1h-1zM177 25h1v1h-1zM195 25h1v1h-1zM197 25h1v1h-1zM208 25h1v1h-1zM20 26h1v1h-1zM198 26h1v1h-1zM202 26h1v1h-1zM11 27h1v1h-1zM25 27h1v1h-1zM114 27h2v1h-2zM158 27h1v1h-1zM205 27h1v1h-1zM4 28h1v1h-1zM7 28h1v1h-1zM24 28h1v1h-1zM29 28h1v1h-1zM34 28h1v1h-1zM111 28h1v1h-1zM143 28h1v1h-1zM1 29h1v1h-1zM13 29h1v1h-1zM17 29h1v1h-1zM33 29h2v1h-2zM140 29h1v1h-1zM161 29h1v1h-1zM202 29h1v1h-1zM2 30h1v1h-1zM12 30h2v1h-2zM19 30h1v1h-1zM22 30h1v1h-1zM24 30h1v1h-1zM26 30h1v1h-1zM29 30h2v1h-2zM208 30h1v1h-1zM6 31h1v1h-1zM13 31h1v1h-1zM19 31h1v1h-1zM21 31h1v1h-1zM24 31h2v1h-2zM29 31h1v1h-1zM115 31h1v1h-1zM141 31h1v1h-1zM197 31h1v1h-1zM204 31h1v1h-1zM206 31h1v1h-1zM8 32h1v1h-1zM26 32h1v1h-1zM28 32h1v1h-1zM144 32h1v1h-1zM203 32h1v1h-1zM2 33h1v1h-1zM11 33h1v1h-1zM19 33h1v1h-1zM25 33h1v1h-1zM114 33h1v1h-1zM141 33h1v1h-1zM174 33h1v1h-1zM206 33h1v1h-1zM209 33h1v1h-1zM11 34h2v1h-2zM17 34h1v1h-1zM33 34h1v1h-1zM145 34h1v1h-1zM190 34h1v1h-1zM193 34h1v1h-1zM197 34h1v1h-1zM204 34h2v1h-2zM208 34h1v1h-1zM210 34h1v1h-1zM3 35h1v1h-1zM14 35h1v1h-1zM18 35h1v1h-1zM21 35h1v1h-1zM25 35h1v1h-1zM117 35h1v1h-1zM144 35h1v1h-1zM204 35h1v1h-1zM209 35h1v1h-1zM0 36h1v1h-1zM4 36h1v1h-1zM12 36h1v1h-1zM14 36h1v1h-1zM19 36h1v1h-1zM21 36h2v1h-2zM28 36h1v1h-1zM201 36h1v1h-1zM206 36h1v1h-1zM25 37h2v1h-2zM33 37h1v1h-1zM114 37h1v1h-1zM140 37h1v1h-1zM198 37h3v1h-3zM5 38h1v1h-1zM7 38h1v1h-1zM9 38h1v1h-1zM24 38h1v1h-1zM206 38h1v1h-1zM1 39h1v1h-1zM3 39h1v1h-1zM12 39h1v1h-1zM15 39h1v1h-1zM17 39h1v1h-1zM19 39h1v1h-1zM76 39h1v1h-1zM142 39h1v1h-1zM205 39h1v1h-1zM5 40h3v1h-3zM20 40h2v1h-2zM29 40h1v1h-1zM114 40h1v1h-1zM144 40h1v1h-1zM203 40h1v1h-1zM12 41h2v1h-2zM23 41h1v1h-1zM25 41h1v1h-1zM150 41h1v1h-1zM196 41h1v1h-1zM199 41h1v1h-1zM205 41h1v1h-1zM1 42h1v1h-1zM7 42h1v1h-1zM25 42h1v1h-1zM28 42h1v1h-1zM203 42h1v1h-1zM1 43h1v1h-1zM6 43h1v1h-1zM15 43h1v1h-1zM20 43h1v1h-1zM28 43h1v1h-1zM33 43h1v1h-1zM127 43h1v1h-1zM197 43h1v1h-1zM200 43h1v1h-1zM209 43h1v1h-1zM2 44h1v1h-1zM16 44h1v1h-1zM21 44h1v1h-1zM30 44h1v1h-1zM152 44h1v1h-1zM195 44h1v1h-1zM4 45h1v1h-1zM11 45h1v1h-1zM24 45h1v1h-1zM36 45h1v1h-1zM116 45h1v1h-1zM193 45h1v1h-1zM195 45h1v1h-1zM197 45h1v1h-1zM209 45h1v1h-1zM11 46h1v1h-1zM15 46h1v1h-1zM29 46h1v1h-1zM31 46h1v1h-1zM114 46h1v1h-1zM190 46h1v1h-1zM195 46h1v1h-1zM200 46h1v1h-1zM206 46h1v1h-1zM210 46h1v1h-1zM0 47h1v1h-1zM8 47h1v1h-1zM20 47h1v1h-1zM196 47h1v1h-1zM198 47h1v1h-1zM204 47h2v1h-2zM208 47h1v1h-1zM2 48h1v1h-1zM14 48h1v1h-1zM16 48h1v1h-1zM18 48h1v1h-1zM150 48h1v1h-1zM189 48h1v1h-1zM199 48h2v1h-2zM206 48h1v1h-1zM209 48h1v1h-1zM6 49h2v1h-2zM63 49h1v1h-1zM197 49h1v1h-1zM208 49h1v1h-1zM13 50h1v1h-1zM20 50h1v1h-1zM27 50h1v1h-1zM1 51h1v1h-1zM11 51h1v1h-1zM17 51h1v1h-1zM205 51h1v1h-1zM17 52h1v1h-1zM141 52h1v1h-1zM195 52h1v1h-1zM198 52h1v1h-1zM204 52h1v1h-1zM3 53h1v1h-1zM9 53h1v1h-1zM14 53h1v1h-1zM116 53h1v1h-1zM204 53h1v1h-1zM6 54h1v1h-1zM9 54h1v1h-1zM22 54h1v1h-1zM25 54h1v1h-1zM114 54h1v1h-1zM208 54h1v1h-1zM0 55h1v1h-1zM2 55h1v1h-1zM18 55h1v1h-1zM25 55h1v1h-1zM152 55h1v1h-1zM200 55h2v1h-2zM206 55h1v1h-1zM34 56h1v1h-1zM114 56h1v1h-1zM201 56h1v1h-1zM203 56h1v1h-1zM12 57h1v1h-1zM23 57h2v1h-2zM61 57h1v1h-1zM196 57h1v1h-1zM209 57h1v1h-1zM34 58h1v1h-1zM10 59h1v1h-1zM14 59h1v1h-1zM29 59h1v1h-1zM107 59h1v1h-1zM195 59h1v1h-1zM2 60h2v1h-2zM17 60h1v1h-1zM22 60h1v1h-1zM24 60h1v1h-1zM6 61h1v1h-1zM14 61h1v1h-1zM24 61h1v1h-1zM29 61h1v1h-1zM142 61h1v1h-1zM2 62h1v1h-1zM24 62h1v1h-1zM28 62h1v1h-1zM115 62h1v1h-1zM2 63h1v1h-1zM19 63h1v1h-1zM22 63h1v1h-1zM33 63h1v1h-1zM0 64h1v1h-1zM13 64h1v1h-1zM24 64h1v1h-1zM143 64h1v1h-1zM3 65h1v1h-1zM8 65h1v1h-1zM26 65h1v1h-1zM28 65h1v1h-1zM196 65h1v1h-1zM201 65h1v1h-1zM7 66h1v1h-1zM15 66h1v1h-1zM30 66h1v1h-1zM107 66h1v1h-1zM114 66h1v1h-1zM117 66h1v1h-1zM200 66h1v1h-1zM7 67h1v1h-1zM22 67h1v1h-1zM28 67h1v1h-1zM197 67h1v1h-1zM199 67h1v1h-1zM22 68h1v1h-1zM25 68h1v1h-1zM30 68h1v1h-1zM12 69h1v1h-1zM21 69h1v1h-1zM36 69h1v1h-1zM15 72h1v1h-1zM26 72h1v1h-1zM21 73h1v1h-1zM28 73h1v1h-1zM9 74h1v1h-1zM7 75h1v1h-1zM12 75h1v1h-1zM36 75h1v1h-1zM8 76h1v1h-1zM16 76h1v1h-1zM23 76h1v1h-1zM10 77h1v1h-1z"/><path fill="#2c738e" d="M5 0h1v1h-1zM18 0h1v1h-1zM23 0h1v1h-1zM27 0h1v1h-1zM114 0h1v1h-1zM146 0h1v1h-1zM190 0h1v1h-1zM200 0h1v1h-1zM204 0h1v1h-1zM206 0h2v1h-2zM5 1h1v1h-1zM18 1h1v1h-1zM23 1h1v1h-1zM27 1h1v1h-1zM114 1h1v1h-1zM146 1h1v1h-1zM190 1h1v1h-1zM200 1h1v1h-1zM204 1h1v1h-1zM206 1h2v1h-2zM5 2h1v1h-1zM13 2h1v1h-1zM27 2h1v1h-1zM35 2h1v1h-1zM78 2h1v1h-1zM140 2h1v1h-1zM146 2h1v1h-1zM196 2h1v1h-1zM206 2h1v1h-1zM209 2h1v1h-1zM14 3h1v1h-1zM19 3h1v1h-1zM115 3h1v1h-1zM200 3h1v1h-1zM0 4h1v1h-1zM15 4h1v1h-1zM26 4h1v1h-1zM116 4h2v1h-2zM200 4h1v1h-1zM209 4h1v1h-1zM12 5h1v1h-1zM22 5h1v1h-1zM173 5h1v1h-1zM189 5h2v1h-2zM193 5h1v1h-1zM195 5h1v1h-1zM208 5h1v1h-1zM210 5h1v1h-1zM8 6h1v1h-1zM20 6h1v1h-1zM36 6h1v1h-1zM61 6h1v1h-1zM76 6h1v1h-1zM106 6h1v1h-1zM204 6h2v1h-2zM209 6h1v1h-1zM8 7h1v1h-1zM15 7h1v1h-1zM36 7h1v1h-1zM142 7h1v1h-1zM145 7h2v1h-2zM173 7h1v1h-1zM20 8h1v1h-1zM34 8h1v1h-1zM62 8h1v1h-1zM190 8h1v1h-1zM205 8h1v1h-1zM3 9h1v1h-1zM7 9h1v1h-1zM13 9h1v1h-1zM16 9h2v1h-2zM24 9h1v1h-1zM27 9h1v1h-1zM34 9h1v1h-1zM36 9h1v1h-1zM66 9h1v1h-1zM114 9h2v1h-2zM177 9h1v1h-1zM201 9h2v1h-2zM3 10h1v1h-1zM12 10h1v1h-1zM22 10h1v1h-1zM29 10h1v1h-1zM34 10h1v1h-1zM113 10h1v1h-1zM143 10h1v1h-1zM158 10h1v1h-1zM202 10h1v1h-1zM204 10h1v1h-1zM209 10h2v1h-2zM4 11h2v1h-2zM11 11h1v1h-1zM25 11h2v1h-2zM28 11h3v1h-3zM33 11h1v1h-1zM76 11h1v1h-1zM140 11h1v1h-1zM175 11h1v1h-1zM192 11h1v1h-1zM204 11h1v1h-1zM15 12h1v1h-1zM17 12h1v1h-1zM20 12h1v1h-1zM197 12h1v1h-1zM205 12h1v1h-1zM207 12h1v1h-1zM5 13h1v1h-1zM10 13h1v1h-1zM24 13h1v1h-1zM35 13h1v1h-1zM79 13h1v1h-1zM197 13h1v1h-1zM202 13h1v1h-1zM204 13h1v1h-1zM206 13h2v1h-2zM3 14h1v1h-1zM5 14h1v1h-1zM13 14h1v1h-1zM28 14h1v1h-1zM142 14h1v1h-1zM198 14h1v1h-1zM200 14h1v1h-1zM6 15h1v1h-1zM16 15h1v1h-1zM22 15h1v1h-1zM61 15h1v1h-1zM199 15h1v1h-1zM5 16h2v1h-2zM28 16h1v1h-1zM35 16h1v1h-1zM105 16h1v1h-1zM116 16h1v1h-1zM118 16h1v1h-1zM197 16h1v1h-1zM8 17h1v1h-1zM30 17h1v1h-1zM35 17h1v1h-1zM142 17h1v1h-1zM174 17h1v1h-1zM195 17h1v1h-1zM208 17h1v1h-1zM2 18h1v1h-1zM14 18h1v1h-1zM16 18h1v1h-1zM25 18h1v1h-1zM29 18h1v1h-1zM33 18h1v1h-1zM61 18h1v1h-1zM205 18h2v1h-2zM208 18h1v1h-1zM7 19h1v1h-1zM18 19h1v1h-1zM22 19h1v1h-1zM112 19h1v1h-1zM115 19h1v1h-1zM176 19h1v1h-1zM189 19h2v1h-2zM202 19h2v1h-2zM206 19h1v1h-1zM2 20h1v1h-1zM15 20h1v1h-1zM17 20h1v1h-1zM26 20h1v1h-1zM63 20h1v1h-1zM0 21h1v1h-1zM15 21h1v1h-1zM26 21h1v1h-1zM114 21h1v1h-1zM146 21h1v1h-1zM195 21h1v1h-1zM204 21h1v1h-1zM206 21h1v1h-1zM7 22h1v1h-1zM11 22h2v1h-2zM16 22h1v1h-1zM21 22h1v1h-1zM26 22h1v1h-1zM28 22h1v1h-1zM30 22h1v1h-1zM33 22h1v1h-1zM114 22h1v1h-1zM193 22h1v1h-1zM36 23h1v1h-1zM119 23h1v1h-1zM142 23h1v1h-1zM175 23h1v1h-1zM200 23h1v1h-1zM205 23h1v1h-1zM210 23h1v1h-1zM16 24h1v1h-1zM19 24h1v1h-1zM115 24h1v1h-1zM160 24h1v1h-1zM195 24h1v1h-1zM203 24h1v1h-1zM0 25h1v1h-1zM5 25h1v1h-1zM17 25h1v1h-1zM19 25h1v1h-1zM21 25h1v1h-1zM27 25h1v1h-1zM116 25h1v1h-1zM146 25h1v1h-1zM201 25h1v1h-1zM2 26h1v1h-1zM16 26h1v1h-1zM24 26h2v1h-2zM27 26h1v1h-1zM143 26h1v1h-1zM176 26h1v1h-1zM203 26h1v1h-1zM2 27h2v1h-2zM27 27h1v1h-1zM146 27h1v1h-1zM201 27h1v1h-1zM2 28h1v1h-1zM11 28h1v1h-1zM16 28h1v1h-1zM19 28h1v1h-1zM21 28h2v1h-2zM25 28h1v1h-1zM146 28h1v1h-1zM159 28h1v1h-1zM201 28h1v1h-1zM15 29h1v1h-1zM61 29h1v1h-1zM114 29h2v1h-2zM142 29h1v1h-1zM175 29h1v1h-1zM208 29h1v1h-1zM1 30h1v1h-1zM7 30h1v1h-1zM10 30h1v1h-1zM14 30h1v1h-1zM17 30h1v1h-1zM20 30h1v1h-1zM115 30h1v1h-1zM173 30h1v1h-1zM189 30h1v1h-1zM204 30h2v1h-2zM0 31h1v1h-1zM2 31h1v1h-1zM8 31h1v1h-1zM14 31h1v1h-1zM23 31h1v1h-1zM28 31h1v1h-1zM34 31h1v1h-1zM143 31h1v1h-1zM158 31h1v1h-1zM174 31h1v1h-1zM177 31h1v1h-1zM196 31h1v1h-1zM201 31h1v1h-1zM207 31h1v1h-1zM3 32h1v1h-1zM32 32h1v1h-1zM61 32h1v1h-1zM66 32h1v1h-1zM199 32h1v1h-1zM208 32h1v1h-1zM5 33h1v1h-1zM10 33h1v1h-1zM18 33h1v1h-1zM29 33h1v1h-1zM115 33h1v1h-1zM198 33h1v1h-1zM6 34h1v1h-1zM9 34h1v1h-1zM18 34h1v1h-1zM22 34h1v1h-1zM158 34h1v1h-1zM206 34h1v1h-1zM209 34h1v1h-1zM20 35h1v1h-1zM23 35h1v1h-1zM26 35h1v1h-1zM30 35h1v1h-1zM33 35h1v1h-1zM145 35h1v1h-1zM158 35h1v1h-1zM191 35h1v1h-1zM200 35h1v1h-1zM205 35h2v1h-2zM11 36h1v1h-1zM15 36h1v1h-1zM23 36h1v1h-1zM27 36h1v1h-1zM146 36h1v1h-1zM157 36h1v1h-1zM197 36h1v1h-1zM2 37h2v1h-2zM15 37h1v1h-1zM157 37h1v1h-1zM159 37h1v1h-1zM196 37h1v1h-1zM205 37h1v1h-1zM8 38h1v1h-1zM13 38h1v1h-1zM18 38h1v1h-1zM20 38h2v1h-2zM30 38h1v1h-1zM114 38h1v1h-1zM195 38h1v1h-1zM201 38h1v1h-1zM207 38h1v1h-1zM0 39h1v1h-1zM6 39h1v1h-1zM8 39h1v1h-1zM206 39h1v1h-1zM209 39h1v1h-1zM3 40h1v1h-1zM23 40h1v1h-1zM27 40h1v1h-1zM30 40h1v1h-1zM32 40h1v1h-1zM62 40h1v1h-1zM105 40h1v1h-1zM115 40h1v1h-1zM185 40h1v1h-1zM11 41h1v1h-1zM21 41h1v1h-1zM28 41h1v1h-1zM33 41h1v1h-1zM114 41h1v1h-1zM144 41h1v1h-1zM203 41h1v1h-1zM10 42h1v1h-1zM16 42h2v1h-2zM22 42h1v1h-1zM34 42h1v1h-1zM160 42h1v1h-1zM189 42h1v1h-1zM18 43h2v1h-2zM24 43h1v1h-1zM26 43h1v1h-1zM29 43h1v1h-1zM35 43h1v1h-1zM151 43h2v1h-2zM201 43h1v1h-1zM204 43h1v1h-1zM6 44h1v1h-1zM14 44h1v1h-1zM26 44h1v1h-1zM29 44h1v1h-1zM116 44h1v1h-1zM145 44h1v1h-1zM193 44h1v1h-1zM209 44h1v1h-1zM13 45h1v1h-1zM17 45h1v1h-1zM23 45h1v1h-1zM33 45h1v1h-1zM144 45h1v1h-1zM201 45h1v1h-1zM8 46h1v1h-1zM18 46h1v1h-1zM25 46h1v1h-1zM146 46h1v1h-1zM191 46h1v1h-1zM204 46h1v1h-1zM5 47h1v1h-1zM19 47h1v1h-1zM25 47h1v1h-1zM27 47h1v1h-1zM3 48h1v1h-1zM25 48h1v1h-1zM29 48h1v1h-1zM112 48h1v1h-1zM143 48h1v1h-1zM193 48h1v1h-1zM198 48h1v1h-1zM201 48h4v1h-4zM2 49h1v1h-1zM24 49h1v1h-1zM26 49h1v1h-1zM114 49h1v1h-1zM149 49h2v1h-2zM204 49h1v1h-1zM206 49h1v1h-1zM209 49h1v1h-1zM3 50h2v1h-2zM10 50h1v1h-1zM17 50h1v1h-1zM23 50h2v1h-2zM117 50h1v1h-1zM146 50h1v1h-1zM201 50h1v1h-1zM4 51h1v1h-1zM6 51h1v1h-1zM8 51h2v1h-2zM19 51h3v1h-3zM34 51h1v1h-1zM195 51h1v1h-1zM208 51h1v1h-1zM8 52h1v1h-1zM21 52h2v1h-2zM25 52h1v1h-1zM28 52h1v1h-1zM196 52h1v1h-1zM203 52h1v1h-1zM6 53h2v1h-2zM22 53h1v1h-1zM26 53h1v1h-1zM29 53h1v1h-1zM35 53h1v1h-1zM4 54h1v1h-1zM7 54h1v1h-1zM197 54h1v1h-1zM206 54h1v1h-1zM10 55h1v1h-1zM17 55h1v1h-1zM204 55h1v1h-1zM6 56h1v1h-1zM9 56h1v1h-1zM13 56h1v1h-1zM62 56h1v1h-1zM155 56h1v1h-1zM199 56h1v1h-1zM205 56h1v1h-1zM18 57h1v1h-1zM35 57h1v1h-1zM195 57h1v1h-1zM3 58h1v1h-1zM13 58h1v1h-1zM29 58h1v1h-1zM116 58h1v1h-1zM146 58h1v1h-1zM192 58h1v1h-1zM197 58h1v1h-1zM8 59h1v1h-1zM13 59h1v1h-1zM26 59h1v1h-1zM202 59h1v1h-1zM0 60h1v1h-1zM5 60h1v1h-1zM7 60h1v1h-1zM11 60h2v1h-2zM116 60h1v1h-1zM197 60h1v1h-1zM5 61h1v1h-1zM9 61h1v1h-1zM33 61h1v1h-1zM106 61h1v1h-1zM198 61h1v1h-1zM12 62h3v1h-3zM198 62h1v1h-1zM18 63h1v1h-1zM199 63h1v1h-1zM3 64h1v1h-1zM16 64h1v1h-1zM25 64h1v1h-1zM27 64h1v1h-1zM36 64h1v1h-1zM104 64h1v1h-1zM142 64h1v1h-1zM198 64h1v1h-1zM5 65h1v1h-1zM10 65h1v1h-1zM14 65h1v1h-1zM18 65h1v1h-1zM23 65h1v1h-1zM204 65h1v1h-1zM5 66h1v1h-1zM21 66h1v1h-1zM204 66h1v1h-1zM23 67h1v1h-1zM170 67h1v1h-1zM0 68h1v1h-1zM3 68h1v1h-1zM12 68h2v1h-2zM19 68h1v1h-1zM24 68h1v1h-1zM195 69h1v1h-1zM3 70h1v1h-1zM15 70h1v1h-1zM7 71h1v1h-1zM3 72h1v1h-1zM12 72h1v1h-1zM16 72h1v1h-1zM15 74h1v1h-1zM33 75h1v1h-1zM9 76h1v1h-1zM21 76h1v1h-1zM30 76h1v1h-1zM20 77h1v1h-1zM21 78h1v1h-1zM175 81h1v1h-1zM175 82h1v1h-1z"/><path fill="#2a778e" d="M10 0h1v1h-1zM108 0h1v1h-1zM111 0h1v1h-1zM175 0h1v1h-1zM195 0h1v1h-1zM10 1h1v1h-1zM108 1h1v1h-1zM111 1h1v1h-1zM175 1h1v1h-1zM195 1h1v1h-1zM6 2h1v1h-1zM14 2h1v1h-1zM18 2h2v1h-2zM21 2h1v1h-1zM24 2h1v1h-1zM36 2h1v1h-1zM64 2h1v1h-1zM80 2h1v1h-1zM144 2h1v1h-1zM195 2h1v1h-1zM3 3h1v1h-1zM23 3h1v1h-1zM31 3h1v1h-1zM36 3h1v1h-1zM142 3h1v1h-1zM145 3h1v1h-1zM158 3h1v1h-1zM195 3h1v1h-1zM197 3h2v1h-2zM202 3h1v1h-1zM1 4h2v1h-2zM7 4h1v1h-1zM14 4h1v1h-1zM23 4h1v1h-1zM29 4h1v1h-1zM31 4h1v1h-1zM145 4h1v1h-1zM177 4h1v1h-1zM0 5h1v1h-1zM7 5h1v1h-1zM9 5h1v1h-1zM13 5h1v1h-1zM16 5h1v1h-1zM23 5h1v1h-1zM27 5h1v1h-1zM34 5h1v1h-1zM80 5h1v1h-1zM175 5h1v1h-1zM197 5h1v1h-1zM199 5h1v1h-1zM4 6h1v1h-1zM17 6h1v1h-1zM22 6h1v1h-1zM137 6h1v1h-1zM200 6h1v1h-1zM3 7h1v1h-1zM9 7h1v1h-1zM18 7h1v1h-1zM23 7h1v1h-1zM61 7h1v1h-1zM77 7h1v1h-1zM205 7h2v1h-2zM208 7h1v1h-1zM0 8h1v1h-1zM3 8h1v1h-1zM24 8h1v1h-1zM77 8h1v1h-1zM79 8h1v1h-1zM157 8h1v1h-1zM199 8h1v1h-1zM5 9h1v1h-1zM15 9h1v1h-1zM25 9h2v1h-2zM28 9h2v1h-2zM62 9h1v1h-1zM76 9h1v1h-1zM145 9h1v1h-1zM204 9h1v1h-1zM208 9h2v1h-2zM6 10h1v1h-1zM9 10h1v1h-1zM16 10h1v1h-1zM20 10h1v1h-1zM35 10h1v1h-1zM75 10h1v1h-1zM114 10h1v1h-1zM116 10h1v1h-1zM159 10h1v1h-1zM177 10h1v1h-1zM197 10h1v1h-1zM8 11h1v1h-1zM16 11h1v1h-1zM22 11h2v1h-2zM114 11h1v1h-1zM161 11h1v1h-1zM201 11h1v1h-1zM7 12h1v1h-1zM13 12h2v1h-2zM158 12h1v1h-1zM160 12h1v1h-1zM13 13h2v1h-2zM20 13h1v1h-1zM26 13h1v1h-1zM75 13h1v1h-1zM77 13h1v1h-1zM80 13h1v1h-1zM116 13h1v1h-1zM200 13h1v1h-1zM203 13h1v1h-1zM4 14h1v1h-1zM9 14h1v1h-1zM15 14h1v1h-1zM175 14h1v1h-1zM189 14h1v1h-1zM205 14h1v1h-1zM208 14h1v1h-1zM0 15h1v1h-1zM2 15h1v1h-1zM25 15h1v1h-1zM27 15h1v1h-1zM161 15h1v1h-1zM188 15h1v1h-1zM203 15h1v1h-1zM0 16h1v1h-1zM11 16h1v1h-1zM17 16h1v1h-1zM115 16h1v1h-1zM140 16h1v1h-1zM195 16h1v1h-1zM199 16h1v1h-1zM205 16h1v1h-1zM1 17h1v1h-1zM13 17h1v1h-1zM16 17h1v1h-1zM25 17h1v1h-1zM62 17h1v1h-1zM176 17h2v1h-2zM199 17h1v1h-1zM201 17h2v1h-2zM205 17h1v1h-1zM9 18h1v1h-1zM20 18h1v1h-1zM115 18h1v1h-1zM118 18h1v1h-1zM141 18h2v1h-2zM198 18h1v1h-1zM200 18h1v1h-1zM4 19h1v1h-1zM6 19h1v1h-1zM11 19h1v1h-1zM19 19h1v1h-1zM107 19h1v1h-1zM160 19h1v1h-1zM198 19h1v1h-1zM8 20h1v1h-1zM21 20h3v1h-3zM30 20h1v1h-1zM145 20h1v1h-1zM174 20h1v1h-1zM190 20h1v1h-1zM199 20h1v1h-1zM9 21h1v1h-1zM13 21h1v1h-1zM19 21h1v1h-1zM115 21h1v1h-1zM143 21h1v1h-1zM157 21h1v1h-1zM161 21h1v1h-1zM174 21h1v1h-1zM189 21h1v1h-1zM198 21h1v1h-1zM203 21h1v1h-1zM205 21h1v1h-1zM10 22h1v1h-1zM25 22h1v1h-1zM36 22h1v1h-1zM117 22h1v1h-1zM144 22h1v1h-1zM202 22h1v1h-1zM0 23h1v1h-1zM34 23h1v1h-1zM115 23h1v1h-1zM173 23h2v1h-2zM203 23h1v1h-1zM206 23h1v1h-1zM208 23h1v1h-1zM4 24h1v1h-1zM12 24h1v1h-1zM21 24h1v1h-1zM23 24h1v1h-1zM61 24h1v1h-1zM199 24h1v1h-1zM206 24h1v1h-1zM4 25h1v1h-1zM15 25h1v1h-1zM30 25h1v1h-1zM114 25h1v1h-1zM207 25h1v1h-1zM9 26h1v1h-1zM22 26h1v1h-1zM30 26h1v1h-1zM34 26h1v1h-1zM159 26h1v1h-1zM196 26h1v1h-1zM207 26h1v1h-1zM0 27h1v1h-1zM8 27h1v1h-1zM14 27h1v1h-1zM20 27h1v1h-1zM36 27h1v1h-1zM64 27h1v1h-1zM116 27h1v1h-1zM175 27h1v1h-1zM199 27h1v1h-1zM207 27h1v1h-1zM12 28h1v1h-1zM20 28h1v1h-1zM30 28h1v1h-1zM35 28h1v1h-1zM114 28h1v1h-1zM117 28h1v1h-1zM204 28h1v1h-1zM208 28h1v1h-1zM2 29h2v1h-2zM5 29h1v1h-1zM8 29h2v1h-2zM12 29h1v1h-1zM116 29h1v1h-1zM157 29h1v1h-1zM201 29h1v1h-1zM210 29h1v1h-1zM0 30h1v1h-1zM5 30h1v1h-1zM65 30h1v1h-1zM157 30h1v1h-1zM195 30h1v1h-1zM199 30h1v1h-1zM206 30h2v1h-2zM210 30h1v1h-1zM4 31h1v1h-1zM9 31h1v1h-1zM16 31h1v1h-1zM190 31h1v1h-1zM205 31h1v1h-1zM209 31h1v1h-1zM5 32h1v1h-1zM14 32h1v1h-1zM18 32h1v1h-1zM20 32h1v1h-1zM29 32h1v1h-1zM36 32h1v1h-1zM146 32h1v1h-1zM196 32h1v1h-1zM206 32h1v1h-1zM13 33h1v1h-1zM28 33h1v1h-1zM105 33h1v1h-1zM197 33h1v1h-1zM210 33h1v1h-1zM2 34h1v1h-1zM8 34h1v1h-1zM20 34h1v1h-1zM27 34h1v1h-1zM30 34h1v1h-1zM36 34h1v1h-1zM115 34h1v1h-1zM195 34h1v1h-1zM202 34h1v1h-1zM8 35h1v1h-1zM35 35h1v1h-1zM143 35h1v1h-1zM146 35h1v1h-1zM159 35h1v1h-1zM177 35h1v1h-1zM192 35h1v1h-1zM198 35h2v1h-2zM201 35h1v1h-1zM5 36h1v1h-1zM8 36h1v1h-1zM33 36h1v1h-1zM158 36h1v1h-1zM189 36h1v1h-1zM191 36h1v1h-1zM196 36h1v1h-1zM204 36h2v1h-2zM1 37h1v1h-1zM13 37h1v1h-1zM197 37h1v1h-1zM201 37h1v1h-1zM1 38h1v1h-1zM12 38h1v1h-1zM19 38h1v1h-1zM141 38h1v1h-1zM146 38h2v1h-2zM192 38h1v1h-1zM196 38h2v1h-2zM200 38h1v1h-1zM203 38h2v1h-2zM10 39h1v1h-1zM13 39h1v1h-1zM177 39h1v1h-1zM192 39h1v1h-1zM1 40h1v1h-1zM13 40h1v1h-1zM18 40h1v1h-1zM202 40h1v1h-1zM17 41h1v1h-1zM145 41h1v1h-1zM160 41h1v1h-1zM3 42h1v1h-1zM21 42h1v1h-1zM23 42h2v1h-2zM35 42h1v1h-1zM184 42h1v1h-1zM192 42h1v1h-1zM204 42h1v1h-1zM208 42h1v1h-1zM4 43h2v1h-2zM13 43h1v1h-1zM16 43h1v1h-1zM146 43h1v1h-1zM150 43h1v1h-1zM191 43h2v1h-2zM196 43h1v1h-1zM206 43h1v1h-1zM23 44h3v1h-3zM151 44h1v1h-1zM196 44h1v1h-1zM201 44h1v1h-1zM210 44h1v1h-1zM7 45h1v1h-1zM21 45h1v1h-1zM26 45h1v1h-1zM30 45h1v1h-1zM189 45h1v1h-1zM202 45h1v1h-1zM4 46h1v1h-1zM16 46h1v1h-1zM205 46h1v1h-1zM209 46h1v1h-1zM2 47h2v1h-2zM24 47h1v1h-1zM28 47h3v1h-3zM150 47h1v1h-1zM152 47h1v1h-1zM159 47h1v1h-1zM199 47h1v1h-1zM0 48h2v1h-2zM6 48h2v1h-2zM9 48h1v1h-1zM27 48h2v1h-2zM32 48h1v1h-1zM11 49h1v1h-1zM18 49h1v1h-1zM20 49h2v1h-2zM33 49h2v1h-2zM141 49h1v1h-1zM147 49h1v1h-1zM6 50h1v1h-1zM11 50h1v1h-1zM14 50h1v1h-1zM22 50h1v1h-1zM25 50h1v1h-1zM147 50h1v1h-1zM152 50h1v1h-1zM199 50h1v1h-1zM18 51h1v1h-1zM25 51h1v1h-1zM105 51h3v1h-3zM198 51h1v1h-1zM204 51h1v1h-1zM206 51h1v1h-1zM1 52h2v1h-2zM10 52h1v1h-1zM36 52h1v1h-1zM201 52h1v1h-1zM205 52h1v1h-1zM208 52h1v1h-1zM19 53h1v1h-1zM25 53h1v1h-1zM27 53h1v1h-1zM62 53h1v1h-1zM114 53h1v1h-1zM159 53h1v1h-1zM198 53h2v1h-2zM203 53h1v1h-1zM207 53h2v1h-2zM2 54h2v1h-2zM10 54h1v1h-1zM13 54h1v1h-1zM18 54h2v1h-2zM35 54h1v1h-1zM107 54h1v1h-1zM146 54h1v1h-1zM200 54h1v1h-1zM14 55h1v1h-1zM26 55h1v1h-1zM30 55h1v1h-1zM144 55h1v1h-1zM150 55h2v1h-2zM159 55h1v1h-1zM203 55h1v1h-1zM1 56h1v1h-1zM7 56h1v1h-1zM10 56h1v1h-1zM14 56h1v1h-1zM16 56h1v1h-1zM18 56h1v1h-1zM24 56h1v1h-1zM29 56h1v1h-1zM54 56h1v1h-1zM152 56h1v1h-1zM200 56h1v1h-1zM202 56h1v1h-1zM6 57h1v1h-1zM10 57h1v1h-1zM15 57h1v1h-1zM28 57h1v1h-1zM33 57h1v1h-1zM145 57h2v1h-2zM161 57h1v1h-1zM183 57h1v1h-1zM199 57h1v1h-1zM206 57h1v1h-1zM0 58h1v1h-1zM15 58h1v1h-1zM18 58h1v1h-1zM30 58h1v1h-1zM144 58h1v1h-1zM203 58h1v1h-1zM205 58h2v1h-2zM0 59h1v1h-1zM4 59h1v1h-1zM11 59h1v1h-1zM15 59h1v1h-1zM30 59h1v1h-1zM33 59h1v1h-1zM201 59h1v1h-1zM205 59h1v1h-1zM6 60h1v1h-1zM10 60h1v1h-1zM19 60h1v1h-1zM21 60h1v1h-1zM25 60h1v1h-1zM114 60h1v1h-1zM10 61h1v1h-1zM30 61h1v1h-1zM34 61h1v1h-1zM202 61h1v1h-1zM17 62h1v1h-1zM19 62h1v1h-1zM106 62h1v1h-1zM195 62h1v1h-1zM197 62h1v1h-1zM205 62h3v1h-3zM3 63h1v1h-1zM14 63h1v1h-1zM25 63h1v1h-1zM29 63h1v1h-1zM143 63h1v1h-1zM197 63h1v1h-1zM205 63h1v1h-1zM2 64h1v1h-1zM4 64h2v1h-2zM19 64h1v1h-1zM203 64h1v1h-1zM4 65h1v1h-1zM7 65h1v1h-1zM11 65h1v1h-1zM33 65h1v1h-1zM66 65h1v1h-1zM114 65h1v1h-1zM170 65h1v1h-1zM8 66h1v1h-1zM12 66h1v1h-1zM18 66h3v1h-3zM23 66h1v1h-1zM26 66h1v1h-1zM34 66h1v1h-1zM13 67h1v1h-1zM204 67h2v1h-2zM1 68h1v1h-1zM20 68h1v1h-1zM8 69h1v1h-1zM13 69h2v1h-2zM28 69h1v1h-1zM33 69h1v1h-1zM20 70h1v1h-1zM172 70h1v1h-1zM9 71h1v1h-1zM24 71h1v1h-1zM61 71h1v1h-1zM2 73h1v1h-1zM22 73h1v1h-1zM34 74h1v1h-1zM63 74h1v1h-1zM0 75h2v1h-2zM6 75h1v1h-1zM10 75h1v1h-1zM29 75h2v1h-2zM206 75h1v1h-1zM0 76h1v1h-1zM22 77h1v1h-1zM7 78h1v1h-1zM36 80h1v1h-1zM61 80h1v1h-1z"/><path fill="#297b8e" d="M11 0h1v1h-1zM15 0h1v1h-1zM20 0h2v1h-2zM24 0h1v1h-1zM33 0h1v1h-1zM78 0h2v1h-2zM119 0h1v1h-1zM141 0h1v1h-1zM191 0h1v1h-1zM196 0h1v1h-1zM198 0h1v1h-1zM11 1h1v1h-1zM15 1h1v1h-1zM20 1h2v1h-2zM24 1h1v1h-1zM33 1h1v1h-1zM78 1h2v1h-2zM119 1h1v1h-1zM141 1h1v1h-1zM191 1h1v1h-1zM196 1h1v1h-1zM198 1h1v1h-1zM7 2h1v1h-1zM23 2h1v1h-1zM29 2h1v1h-1zM34 2h1v1h-1zM162 2h1v1h-1zM192 2h1v1h-1zM0 3h1v1h-1zM27 3h1v1h-1zM34 3h1v1h-1zM82 3h1v1h-1zM146 3h1v1h-1zM199 3h1v1h-1zM204 3h1v1h-1zM207 3h1v1h-1zM33 4h1v1h-1zM35 4h1v1h-1zM76 4h1v1h-1zM79 4h1v1h-1zM195 4h1v1h-1zM201 4h1v1h-1zM207 4h1v1h-1zM1 5h1v1h-1zM17 5h1v1h-1zM114 5h1v1h-1zM140 5h1v1h-1zM145 5h1v1h-1zM160 5h1v1h-1zM191 5h1v1h-1zM196 5h1v1h-1zM209 5h1v1h-1zM9 6h1v1h-1zM12 6h1v1h-1zM21 6h1v1h-1zM28 6h1v1h-1zM32 6h3v1h-3zM78 6h1v1h-1zM192 6h1v1h-1zM196 6h1v1h-1zM7 7h1v1h-1zM12 7h1v1h-1zM20 7h1v1h-1zM30 7h1v1h-1zM62 7h1v1h-1zM119 7h1v1h-1zM158 7h1v1h-1zM184 7h1v1h-1zM196 7h1v1h-1zM5 8h1v1h-1zM16 8h1v1h-1zM19 8h1v1h-1zM33 8h1v1h-1zM35 8h1v1h-1zM142 8h1v1h-1zM189 8h1v1h-1zM196 8h1v1h-1zM201 8h1v1h-1zM20 9h1v1h-1zM35 9h1v1h-1zM65 9h1v1h-1zM157 9h1v1h-1zM195 9h1v1h-1zM203 9h1v1h-1zM36 10h1v1h-1zM62 10h1v1h-1zM79 10h2v1h-2zM174 10h1v1h-1zM176 10h1v1h-1zM193 10h1v1h-1zM18 11h2v1h-2zM75 11h1v1h-1zM78 11h2v1h-2zM107 11h1v1h-1zM117 11h1v1h-1zM142 11h1v1h-1zM144 11h1v1h-1zM177 11h1v1h-1zM197 11h1v1h-1zM200 11h1v1h-1zM207 11h1v1h-1zM66 12h1v1h-1zM177 12h1v1h-1zM198 12h1v1h-1zM209 12h1v1h-1zM18 13h1v1h-1zM22 13h1v1h-1zM34 13h1v1h-1zM63 13h2v1h-2zM78 13h1v1h-1zM143 13h1v1h-1zM10 14h1v1h-1zM19 14h1v1h-1zM21 14h1v1h-1zM63 14h1v1h-1zM143 14h1v1h-1zM210 14h1v1h-1zM9 15h1v1h-1zM13 15h1v1h-1zM24 15h1v1h-1zM140 15h1v1h-1zM191 15h1v1h-1zM3 16h1v1h-1zM9 16h1v1h-1zM12 16h1v1h-1zM16 16h1v1h-1zM24 16h2v1h-2zM33 16h2v1h-2zM146 16h1v1h-1zM157 16h1v1h-1zM162 16h1v1h-1zM174 16h1v1h-1zM176 16h1v1h-1zM201 16h1v1h-1zM206 16h1v1h-1zM210 16h1v1h-1zM9 17h1v1h-1zM11 17h1v1h-1zM14 17h1v1h-1zM17 17h1v1h-1zM24 17h1v1h-1zM27 17h1v1h-1zM33 17h1v1h-1zM36 17h1v1h-1zM49 17h1v1h-1zM63 17h2v1h-2zM140 17h1v1h-1zM146 17h1v1h-1zM189 17h1v1h-1zM198 17h1v1h-1zM203 17h2v1h-2zM207 17h1v1h-1zM19 18h1v1h-1zM27 18h1v1h-1zM119 18h1v1h-1zM158 18h1v1h-1zM175 18h1v1h-1zM191 18h1v1h-1zM196 18h1v1h-1zM10 19h1v1h-1zM16 19h1v1h-1zM21 19h1v1h-1zM35 19h1v1h-1zM174 19h1v1h-1zM208 19h1v1h-1zM0 20h1v1h-1zM7 20h1v1h-1zM9 20h1v1h-1zM31 20h1v1h-1zM36 20h1v1h-1zM116 20h1v1h-1zM140 20h1v1h-1zM203 20h2v1h-2zM207 20h1v1h-1zM6 21h1v1h-1zM17 21h1v1h-1zM141 21h1v1h-1zM13 22h1v1h-1zM35 22h1v1h-1zM64 22h1v1h-1zM187 22h1v1h-1zM198 22h1v1h-1zM201 22h1v1h-1zM7 23h1v1h-1zM26 23h1v1h-1zM33 23h1v1h-1zM176 23h2v1h-2zM191 23h1v1h-1zM209 23h1v1h-1zM8 24h2v1h-2zM30 24h1v1h-1zM34 24h2v1h-2zM63 24h2v1h-2zM114 24h1v1h-1zM118 24h1v1h-1zM141 24h1v1h-1zM143 24h2v1h-2zM201 24h1v1h-1zM209 24h1v1h-1zM25 25h1v1h-1zM29 25h1v1h-1zM118 25h1v1h-1zM140 25h2v1h-2zM0 26h1v1h-1zM118 26h1v1h-1zM160 26h1v1h-1zM7 27h1v1h-1zM34 27h1v1h-1zM62 27h1v1h-1zM107 27h1v1h-1zM123 27h1v1h-1zM176 27h1v1h-1zM210 27h1v1h-1zM0 28h1v1h-1zM3 28h1v1h-1zM10 28h1v1h-1zM27 28h1v1h-1zM66 28h1v1h-1zM177 28h1v1h-1zM199 28h2v1h-2zM206 28h1v1h-1zM11 29h1v1h-1zM20 29h1v1h-1zM27 29h1v1h-1zM35 29h1v1h-1zM197 29h1v1h-1zM200 29h1v1h-1zM3 30h1v1h-1zM16 30h1v1h-1zM64 30h1v1h-1zM112 30h1v1h-1zM143 30h1v1h-1zM160 30h1v1h-1zM176 30h1v1h-1zM196 30h1v1h-1zM198 30h1v1h-1zM7 31h1v1h-1zM30 31h1v1h-1zM198 31h1v1h-1zM10 32h1v1h-1zM16 32h1v1h-1zM22 32h1v1h-1zM33 32h3v1h-3zM62 32h1v1h-1zM141 32h1v1h-1zM192 32h1v1h-1zM1 33h1v1h-1zM8 33h1v1h-1zM12 33h1v1h-1zM22 33h3v1h-3zM34 33h1v1h-1zM62 33h1v1h-1zM140 33h1v1h-1zM143 33h1v1h-1zM161 33h1v1h-1zM189 33h1v1h-1zM0 34h1v1h-1zM4 34h1v1h-1zM21 34h1v1h-1zM25 34h1v1h-1zM32 34h1v1h-1zM35 34h1v1h-1zM65 34h1v1h-1zM116 34h1v1h-1zM119 34h1v1h-1zM174 34h1v1h-1zM189 34h1v1h-1zM199 34h1v1h-1zM201 34h1v1h-1zM0 35h2v1h-2zM5 35h1v1h-1zM61 35h1v1h-1zM111 35h1v1h-1zM195 35h1v1h-1zM17 36h2v1h-2zM30 36h1v1h-1zM143 36h1v1h-1zM177 36h1v1h-1zM4 37h1v1h-1zM18 37h1v1h-1zM36 37h1v1h-1zM191 37h1v1h-1zM3 38h1v1h-1zM34 38h1v1h-1zM62 38h1v1h-1zM116 38h1v1h-1zM142 38h1v1h-1zM27 39h1v1h-1zM33 39h2v1h-2zM145 39h1v1h-1zM152 39h1v1h-1zM196 39h1v1h-1zM200 39h1v1h-1zM22 40h1v1h-1zM26 40h1v1h-1zM63 40h1v1h-1zM65 40h1v1h-1zM146 40h1v1h-1zM159 40h1v1h-1zM174 40h1v1h-1zM191 40h1v1h-1zM206 40h1v1h-1zM1 41h2v1h-2zM7 41h1v1h-1zM10 41h1v1h-1zM14 41h1v1h-1zM30 41h1v1h-1zM189 41h1v1h-1zM197 41h1v1h-1zM4 42h1v1h-1zM9 42h1v1h-1zM33 42h1v1h-1zM107 42h1v1h-1zM115 42h1v1h-1zM119 42h1v1h-1zM146 42h1v1h-1zM197 42h1v1h-1zM209 42h1v1h-1zM0 43h1v1h-1zM8 43h1v1h-1zM147 43h1v1h-1zM189 43h1v1h-1zM194 43h1v1h-1zM12 44h1v1h-1zM19 44h1v1h-1zM32 44h1v1h-1zM34 44h1v1h-1zM161 44h1v1h-1zM188 44h1v1h-1zM208 44h1v1h-1zM10 45h1v1h-1zM15 45h1v1h-1zM20 45h1v1h-1zM72 45h1v1h-1zM145 45h1v1h-1zM200 45h1v1h-1zM9 46h1v1h-1zM13 46h1v1h-1zM17 46h1v1h-1zM33 46h1v1h-1zM35 46h1v1h-1zM107 46h1v1h-1zM126 46h1v1h-1zM141 46h1v1h-1zM148 46h1v1h-1zM152 46h1v1h-1zM4 47h1v1h-1zM22 47h1v1h-1zM8 48h1v1h-1zM22 48h1v1h-1zM68 48h1v1h-1zM149 48h1v1h-1zM180 48h1v1h-1zM205 48h1v1h-1zM28 49h2v1h-2zM36 49h1v1h-1zM159 49h1v1h-1zM189 49h1v1h-1zM210 49h1v1h-1zM19 50h1v1h-1zM35 50h1v1h-1zM105 50h1v1h-1zM200 50h1v1h-1zM210 50h1v1h-1zM2 51h1v1h-1zM15 51h1v1h-1zM22 51h1v1h-1zM160 51h1v1h-1zM199 51h1v1h-1zM4 52h1v1h-1zM20 52h1v1h-1zM26 52h1v1h-1zM29 52h1v1h-1zM142 52h1v1h-1zM181 52h1v1h-1zM184 52h1v1h-1zM193 52h1v1h-1zM197 52h1v1h-1zM199 52h1v1h-1zM20 53h1v1h-1zM107 53h1v1h-1zM146 53h1v1h-1zM202 53h1v1h-1zM0 54h1v1h-1zM14 54h1v1h-1zM21 54h1v1h-1zM161 54h1v1h-1zM199 54h1v1h-1zM207 54h1v1h-1zM15 55h1v1h-1zM21 55h1v1h-1zM114 55h1v1h-1zM140 55h1v1h-1zM180 55h1v1h-1zM195 55h1v1h-1zM198 55h1v1h-1zM205 55h1v1h-1zM0 56h1v1h-1zM5 56h1v1h-1zM17 56h1v1h-1zM22 56h2v1h-2zM35 56h1v1h-1zM111 56h1v1h-1zM162 56h1v1h-1zM185 56h1v1h-1zM208 56h1v1h-1zM210 56h1v1h-1zM7 57h1v1h-1zM11 57h1v1h-1zM19 57h1v1h-1zM26 57h1v1h-1zM29 57h1v1h-1zM31 57h1v1h-1zM115 57h1v1h-1zM200 57h1v1h-1zM208 57h1v1h-1zM5 58h1v1h-1zM14 58h1v1h-1zM16 58h1v1h-1zM22 58h1v1h-1zM28 58h1v1h-1zM128 58h1v1h-1zM145 58h1v1h-1zM198 58h1v1h-1zM200 58h1v1h-1zM207 58h1v1h-1zM9 59h1v1h-1zM22 59h1v1h-1zM199 59h1v1h-1zM9 60h1v1h-1zM29 60h1v1h-1zM64 60h1v1h-1zM146 60h1v1h-1zM195 60h1v1h-1zM198 60h1v1h-1zM209 60h1v1h-1zM1 61h2v1h-2zM8 61h1v1h-1zM12 61h1v1h-1zM22 61h1v1h-1zM65 61h1v1h-1zM105 61h1v1h-1zM195 61h2v1h-2zM199 61h1v1h-1zM201 61h1v1h-1zM204 61h1v1h-1zM206 61h1v1h-1zM208 61h1v1h-1zM5 62h1v1h-1zM25 62h1v1h-1zM30 62h1v1h-1zM33 62h1v1h-1zM66 62h1v1h-1zM196 62h1v1h-1zM1 63h1v1h-1zM9 63h1v1h-1zM13 63h1v1h-1zM17 63h1v1h-1zM20 63h2v1h-2zM26 63h1v1h-1zM30 63h1v1h-1zM34 63h1v1h-1zM148 63h1v1h-1zM202 63h1v1h-1zM22 64h2v1h-2zM32 64h1v1h-1zM106 64h1v1h-1zM193 64h1v1h-1zM196 64h1v1h-1zM204 64h1v1h-1zM16 65h1v1h-1zM21 65h1v1h-1zM25 65h1v1h-1zM29 65h1v1h-1zM160 65h1v1h-1zM185 65h1v1h-1zM199 65h1v1h-1zM205 65h1v1h-1zM208 65h1v1h-1zM111 66h1v1h-1zM192 66h1v1h-1zM197 66h1v1h-1zM203 66h1v1h-1zM0 67h1v1h-1zM8 67h1v1h-1zM20 67h2v1h-2zM29 67h1v1h-1zM35 67h1v1h-1zM105 67h1v1h-1zM198 67h1v1h-1zM206 67h1v1h-1zM15 68h1v1h-1zM26 68h1v1h-1zM33 68h1v1h-1zM35 68h1v1h-1zM63 68h1v1h-1zM197 68h1v1h-1zM205 68h1v1h-1zM4 69h1v1h-1zM17 69h1v1h-1zM29 69h1v1h-1zM35 69h1v1h-1zM1 70h1v1h-1zM5 70h1v1h-1zM16 70h1v1h-1zM35 70h2v1h-2zM12 71h1v1h-1zM21 71h1v1h-1zM33 71h1v1h-1zM126 71h2v1h-2zM194 71h1v1h-1zM6 72h1v1h-1zM29 73h2v1h-2zM35 73h1v1h-1zM8 74h1v1h-1zM36 74h1v1h-1zM127 74h1v1h-1zM195 74h1v1h-1zM4 75h1v1h-1zM11 75h1v1h-1zM35 75h1v1h-1zM193 75h1v1h-1zM1 76h1v1h-1zM5 76h1v1h-1zM192 76h1v1h-1zM206 76h1v1h-1zM3 77h1v1h-1zM6 77h1v1h-1zM2 78h1v1h-1z"/><path fill="#277f8e" d="M4 0h1v1h-1zM31 0h1v1h-1zM34 0h1v1h-1zM65 0h1v1h-1zM80 0h1v1h-1zM117 0h1v1h-1zM143 0h1v1h-1zM159 0h1v1h-1zM203 0h1v1h-1zM4 1h1v1h-1zM31 1h1v1h-1zM34 1h1v1h-1zM65 1h1v1h-1zM80 1h1v1h-1zM117 1h1v1h-1zM143 1h1v1h-1zM159 1h1v1h-1zM203 1h1v1h-1zM79 2h1v1h-1zM113 2h1v1h-1zM141 2h1v1h-1zM161 2h1v1h-1zM173 2h1v1h-1zM201 2h1v1h-1zM1 3h1v1h-1zM9 3h1v1h-1zM13 3h1v1h-1zM33 3h1v1h-1zM35 3h1v1h-1zM65 3h1v1h-1zM113 3h1v1h-1zM136 3h1v1h-1zM140 3h2v1h-2zM149 3h1v1h-1zM161 3h1v1h-1zM174 3h1v1h-1zM210 3h1v1h-1zM11 4h1v1h-1zM65 4h1v1h-1zM141 4h1v1h-1zM144 4h1v1h-1zM182 4h1v1h-1zM189 4h1v1h-1zM191 4h1v1h-1zM206 4h1v1h-1zM28 5h1v1h-1zM35 5h1v1h-1zM64 5h2v1h-2zM79 5h1v1h-1zM161 5h1v1h-1zM176 5h1v1h-1zM206 5h1v1h-1zM16 6h1v1h-1zM117 6h1v1h-1zM161 6h1v1h-1zM173 6h1v1h-1zM177 6h1v1h-1zM191 6h1v1h-1zM210 6h1v1h-1zM33 7h1v1h-1zM35 7h1v1h-1zM79 7h1v1h-1zM118 7h1v1h-1zM176 7h1v1h-1zM192 7h1v1h-1zM199 7h1v1h-1zM209 7h1v1h-1zM31 8h1v1h-1zM144 8h2v1h-2zM173 8h1v1h-1zM64 9h1v1h-1zM141 9h1v1h-1zM1 10h1v1h-1zM31 10h1v1h-1zM76 10h2v1h-2zM115 10h1v1h-1zM118 10h1v1h-1zM144 10h2v1h-2zM192 10h1v1h-1zM17 11h1v1h-1zM61 11h1v1h-1zM64 11h2v1h-2zM105 11h1v1h-1zM109 11h1v1h-1zM139 11h1v1h-1zM193 11h2v1h-2zM210 11h1v1h-1zM22 12h2v1h-2zM64 12h1v1h-1zM77 12h1v1h-1zM80 12h1v1h-1zM106 12h1v1h-1zM119 12h1v1h-1zM146 12h1v1h-1zM159 12h1v1h-1zM0 13h1v1h-1zM33 13h1v1h-1zM66 13h1v1h-1zM119 13h1v1h-1zM160 13h1v1h-1zM190 13h1v1h-1zM193 13h1v1h-1zM210 13h1v1h-1zM12 14h1v1h-1zM16 14h1v1h-1zM25 14h1v1h-1zM36 14h1v1h-1zM66 14h1v1h-1zM80 14h1v1h-1zM161 14h1v1h-1zM29 15h1v1h-1zM34 15h1v1h-1zM65 15h1v1h-1zM79 15h1v1h-1zM141 15h2v1h-2zM157 15h1v1h-1zM173 15h2v1h-2zM176 15h1v1h-1zM193 15h1v1h-1zM1 16h1v1h-1zM19 16h1v1h-1zM62 16h1v1h-1zM158 16h1v1h-1zM173 16h1v1h-1zM209 16h1v1h-1zM144 17h1v1h-1zM158 17h1v1h-1zM197 17h1v1h-1zM7 18h1v1h-1zM31 18h1v1h-1zM114 18h1v1h-1zM160 18h1v1h-1zM176 18h1v1h-1zM187 18h1v1h-1zM199 18h1v1h-1zM27 19h1v1h-1zM33 19h2v1h-2zM65 19h1v1h-1zM157 19h2v1h-2zM199 19h2v1h-2zM205 19h1v1h-1zM3 20h1v1h-1zM29 20h1v1h-1zM33 20h1v1h-1zM64 20h1v1h-1zM141 20h1v1h-1zM146 20h1v1h-1zM21 21h1v1h-1zM24 21h1v1h-1zM144 21h1v1h-1zM177 21h1v1h-1zM192 21h1v1h-1zM210 21h1v1h-1zM119 22h1v1h-1zM206 22h1v1h-1zM3 23h1v1h-1zM16 23h1v1h-1zM63 23h1v1h-1zM75 23h1v1h-1zM114 23h1v1h-1zM118 23h1v1h-1zM144 23h1v1h-1zM161 23h1v1h-1zM15 24h1v1h-1zM20 24h1v1h-1zM119 24h1v1h-1zM174 24h1v1h-1zM185 24h1v1h-1zM191 24h1v1h-1zM204 24h1v1h-1zM210 24h1v1h-1zM16 25h1v1h-1zM34 25h3v1h-3zM63 25h1v1h-1zM77 25h1v1h-1zM111 25h1v1h-1zM145 25h1v1h-1zM192 25h1v1h-1zM10 26h1v1h-1zM28 26h1v1h-1zM36 26h1v1h-1zM119 26h1v1h-1zM144 26h2v1h-2zM158 26h1v1h-1zM208 26h1v1h-1zM18 27h1v1h-1zM22 27h1v1h-1zM33 27h1v1h-1zM65 27h1v1h-1zM73 27h1v1h-1zM111 27h1v1h-1zM142 27h2v1h-2zM192 27h1v1h-1zM62 28h1v1h-1zM113 28h1v1h-1zM145 28h1v1h-1zM161 28h1v1h-1zM174 28h1v1h-1zM193 28h1v1h-1zM0 29h1v1h-1zM16 29h1v1h-1zM22 29h1v1h-1zM25 29h1v1h-1zM119 29h1v1h-1zM145 29h1v1h-1zM160 29h1v1h-1zM23 30h1v1h-1zM27 30h1v1h-1zM61 30h1v1h-1zM76 30h1v1h-1zM193 30h1v1h-1zM15 31h1v1h-1zM20 31h1v1h-1zM22 31h1v1h-1zM64 31h1v1h-1zM146 31h1v1h-1zM159 31h1v1h-1zM189 31h1v1h-1zM193 31h1v1h-1zM4 32h1v1h-1zM114 32h1v1h-1zM140 32h1v1h-1zM173 32h1v1h-1zM177 32h1v1h-1zM189 32h1v1h-1zM191 32h1v1h-1zM36 33h1v1h-1zM192 33h2v1h-2zM200 33h1v1h-1zM203 33h1v1h-1zM208 33h1v1h-1zM3 34h1v1h-1zM34 34h1v1h-1zM106 34h1v1h-1zM142 34h1v1h-1zM173 34h1v1h-1zM10 35h1v1h-1zM15 35h1v1h-1zM29 35h1v1h-1zM36 35h1v1h-1zM63 35h1v1h-1zM65 35h1v1h-1zM157 35h1v1h-1zM173 35h1v1h-1zM35 36h1v1h-1zM74 36h1v1h-1zM115 36h1v1h-1zM207 36h1v1h-1zM210 36h1v1h-1zM10 37h1v1h-1zM20 37h1v1h-1zM34 37h1v1h-1zM62 37h1v1h-1zM66 37h1v1h-1zM118 37h1v1h-1zM158 37h1v1h-1zM161 37h1v1h-1zM203 37h1v1h-1zM15 38h1v1h-1zM22 38h1v1h-1zM64 38h1v1h-1zM78 38h1v1h-1zM143 38h1v1h-1zM145 38h1v1h-1zM175 38h1v1h-1zM177 38h1v1h-1zM190 38h1v1h-1zM31 39h1v1h-1zM161 39h1v1h-1zM181 39h1v1h-1zM16 40h1v1h-1zM19 40h1v1h-1zM24 40h1v1h-1zM36 40h1v1h-1zM79 40h1v1h-1zM173 40h1v1h-1zM190 40h1v1h-1zM193 40h1v1h-1zM207 40h1v1h-1zM18 41h1v1h-1zM34 41h1v1h-1zM159 41h1v1h-1zM187 41h1v1h-1zM0 42h1v1h-1zM2 42h1v1h-1zM11 42h1v1h-1zM158 42h2v1h-2zM181 42h1v1h-1zM193 42h1v1h-1zM206 42h1v1h-1zM10 43h1v1h-1zM14 43h1v1h-1zM36 43h1v1h-1zM70 43h1v1h-1zM141 43h1v1h-1zM159 43h1v1h-1zM198 43h1v1h-1zM17 44h1v1h-1zM27 44h1v1h-1zM35 44h1v1h-1zM150 44h1v1h-1zM204 44h1v1h-1zM107 45h1v1h-1zM159 45h1v1h-1zM190 45h1v1h-1zM205 45h1v1h-1zM6 46h1v1h-1zM21 46h1v1h-1zM28 46h1v1h-1zM197 46h1v1h-1zM207 46h1v1h-1zM9 47h1v1h-1zM34 47h1v1h-1zM65 47h1v1h-1zM114 47h1v1h-1zM116 47h1v1h-1zM145 47h2v1h-2zM193 47h1v1h-1zM17 48h1v1h-1zM19 48h1v1h-1zM61 48h1v1h-1zM190 48h1v1h-1zM207 48h1v1h-1zM0 49h1v1h-1zM4 49h1v1h-1zM61 49h1v1h-1zM200 49h1v1h-1zM160 50h1v1h-1zM183 50h1v1h-1zM197 50h1v1h-1zM206 50h1v1h-1zM7 51h1v1h-1zM10 51h1v1h-1zM16 51h1v1h-1zM33 51h1v1h-1zM61 51h1v1h-1zM121 51h1v1h-1zM197 51h1v1h-1zM30 52h1v1h-1zM70 52h1v1h-1zM144 52h1v1h-1zM148 52h1v1h-1zM11 53h1v1h-1zM34 53h1v1h-1zM193 53h1v1h-1zM197 53h1v1h-1zM106 54h1v1h-1zM160 54h1v1h-1zM195 54h1v1h-1zM198 54h1v1h-1zM203 54h1v1h-1zM4 55h1v1h-1zM13 55h1v1h-1zM20 55h1v1h-1zM24 55h1v1h-1zM62 55h1v1h-1zM69 55h1v1h-1zM210 55h1v1h-1zM19 56h1v1h-1zM105 56h1v1h-1zM118 56h1v1h-1zM147 56h1v1h-1zM196 56h1v1h-1zM3 57h1v1h-1zM13 57h1v1h-1zM17 57h1v1h-1zM30 57h1v1h-1zM144 57h1v1h-1zM149 57h1v1h-1zM210 57h1v1h-1zM2 58h1v1h-1zM19 58h1v1h-1zM121 58h1v1h-1zM193 58h1v1h-1zM196 58h1v1h-1zM201 58h1v1h-1zM1 59h2v1h-2zM25 59h1v1h-1zM106 59h1v1h-1zM113 59h1v1h-1zM150 59h2v1h-2zM197 59h1v1h-1zM200 59h1v1h-1zM204 59h1v1h-1zM1 60h1v1h-1zM4 60h1v1h-1zM13 60h1v1h-1zM30 60h1v1h-1zM159 60h1v1h-1zM192 60h1v1h-1zM204 60h1v1h-1zM210 60h1v1h-1zM0 61h1v1h-1zM11 61h1v1h-1zM20 61h2v1h-2zM25 61h1v1h-1zM197 61h1v1h-1zM200 61h1v1h-1zM11 62h1v1h-1zM21 62h1v1h-1zM26 62h2v1h-2zM34 62h1v1h-1zM210 62h1v1h-1zM0 63h1v1h-1zM5 63h1v1h-1zM16 63h1v1h-1zM24 63h1v1h-1zM116 63h2v1h-2zM160 63h1v1h-1zM193 63h1v1h-1zM195 63h1v1h-1zM198 63h1v1h-1zM200 63h1v1h-1zM10 64h1v1h-1zM12 64h1v1h-1zM17 64h1v1h-1zM20 64h1v1h-1zM28 64h1v1h-1zM35 64h1v1h-1zM67 64h1v1h-1zM105 64h1v1h-1zM161 64h1v1h-1zM197 64h1v1h-1zM1 65h1v1h-1zM27 65h1v1h-1zM31 65h1v1h-1zM34 65h2v1h-2zM116 65h1v1h-1zM200 65h1v1h-1zM1 66h2v1h-2zM6 66h1v1h-1zM11 66h1v1h-1zM14 66h1v1h-1zM17 66h1v1h-1zM25 66h1v1h-1zM27 66h1v1h-1zM32 66h1v1h-1zM14 67h1v1h-1zM24 67h2v1h-2zM27 67h1v1h-1zM62 67h1v1h-1zM106 67h1v1h-1zM10 68h1v1h-1zM16 68h2v1h-2zM68 68h1v1h-1zM114 68h1v1h-1zM192 68h1v1h-1zM201 68h2v1h-2zM206 68h3v1h-3zM20 69h1v1h-1zM54 69h1v1h-1zM116 69h1v1h-1zM128 69h1v1h-1zM198 69h1v1h-1zM205 69h1v1h-1zM12 70h1v1h-1zM22 70h1v1h-1zM69 70h1v1h-1zM0 71h2v1h-2zM30 71h1v1h-1zM208 71h1v1h-1zM4 72h2v1h-2zM9 72h1v1h-1zM14 72h1v1h-1zM19 72h1v1h-1zM24 72h1v1h-1zM126 72h1v1h-1zM204 72h1v1h-1zM3 73h1v1h-1zM6 73h1v1h-1zM194 73h1v1h-1zM200 73h1v1h-1zM2 74h1v1h-1zM4 74h1v1h-1zM6 74h1v1h-1zM13 74h1v1h-1zM22 74h1v1h-1zM35 74h1v1h-1zM200 74h1v1h-1zM8 75h1v1h-1zM23 75h1v1h-1zM205 75h1v1h-1zM14 76h1v1h-1zM27 76h1v1h-1zM29 76h1v1h-1zM35 76h1v1h-1zM200 76h1v1h-1zM0 77h1v1h-1zM2 77h1v1h-1zM4 77h1v1h-1zM7 77h1v1h-1zM24 77h1v1h-1zM36 77h1v1h-1zM1 78h1v1h-1zM22 78h1v1h-1zM5 79h2v1h-2zM61 79h1v1h-1zM193 79h1v1h-1z"/><path fill="#26828e" d="M32 0h1v1h-1zM55 0h1v1h-1zM61 0h1v1h-1zM63 0h2v1h-2zM174 0h1v1h-1zM176 0h1v1h-1zM192 0h2v1h-2zM32 1h1v1h-1zM55 1h1v1h-1zM61 1h1v1h-1zM63 1h2v1h-2zM174 1h1v1h-1zM176 1h1v1h-1zM192 1h2v1h-2zM0 2h1v1h-1zM4 2h1v1h-1zM63 2h1v1h-1zM65 2h1v1h-1zM72 2h1v1h-1zM82 2h1v1h-1zM118 2h1v1h-1zM149 2h1v1h-1zM176 2h1v1h-1zM191 2h1v1h-1zM202 2h1v1h-1zM210 2h1v1h-1zM2 3h1v1h-1zM5 3h1v1h-1zM64 3h1v1h-1zM66 3h1v1h-1zM79 3h1v1h-1zM100 3h1v1h-1zM144 3h1v1h-1zM10 4h1v1h-1zM18 4h1v1h-1zM20 4h1v1h-1zM36 4h1v1h-1zM61 4h1v1h-1zM66 4h1v1h-1zM74 4h1v1h-1zM113 4h1v1h-1zM118 4h1v1h-1zM143 4h1v1h-1zM159 4h1v1h-1zM31 5h1v1h-1zM33 5h1v1h-1zM36 5h1v1h-1zM77 5h1v1h-1zM118 5h1v1h-1zM142 5h1v1h-1zM158 5h1v1h-1zM62 6h1v1h-1zM64 6h1v1h-1zM66 6h1v1h-1zM77 6h1v1h-1zM79 6h1v1h-1zM81 6h1v1h-1zM112 6h1v1h-1zM118 6h1v1h-1zM146 6h1v1h-1zM158 6h2v1h-2zM208 6h1v1h-1zM31 7h1v1h-1zM34 7h1v1h-1zM107 7h1v1h-1zM117 7h1v1h-1zM138 7h1v1h-1zM140 7h1v1h-1zM164 7h1v1h-1zM1 8h1v1h-1zM4 8h1v1h-1zM117 8h3v1h-3zM143 8h1v1h-1zM193 8h1v1h-1zM10 9h1v1h-1zM21 9h1v1h-1zM80 9h1v1h-1zM140 9h1v1h-1zM144 9h1v1h-1zM161 9h1v1h-1zM176 9h1v1h-1zM189 9h2v1h-2zM193 9h1v1h-1zM32 10h1v1h-1zM61 10h1v1h-1zM74 10h1v1h-1zM78 10h1v1h-1zM119 10h1v1h-1zM140 10h2v1h-2zM173 10h1v1h-1zM175 10h1v1h-1zM191 10h1v1h-1zM194 10h1v1h-1zM9 11h1v1h-1zM20 11h1v1h-1zM34 11h1v1h-1zM36 11h1v1h-1zM62 11h1v1h-1zM190 11h1v1h-1zM206 11h1v1h-1zM2 12h1v1h-1zM61 12h1v1h-1zM101 12h1v1h-1zM118 12h1v1h-1zM142 12h1v1h-1zM2 13h1v1h-1zM31 13h1v1h-1zM36 13h1v1h-1zM117 13h1v1h-1zM145 13h1v1h-1zM175 13h1v1h-1zM14 14h1v1h-1zM31 14h1v1h-1zM61 14h1v1h-1zM64 14h1v1h-1zM75 14h1v1h-1zM140 14h1v1h-1zM33 15h1v1h-1zM62 15h1v1h-1zM66 15h1v1h-1zM75 15h1v1h-1zM108 15h1v1h-1zM112 15h1v1h-1zM190 15h1v1h-1zM196 15h1v1h-1zM8 16h1v1h-1zM75 16h1v1h-1zM31 17h1v1h-1zM65 17h1v1h-1zM106 17h2v1h-2zM210 17h1v1h-1zM3 18h1v1h-1zM12 18h1v1h-1zM35 18h2v1h-2zM63 18h1v1h-1zM113 18h1v1h-1zM140 18h1v1h-1zM143 18h3v1h-3zM177 18h1v1h-1zM192 18h1v1h-1zM14 19h2v1h-2zM25 19h2v1h-2zM62 19h1v1h-1zM80 19h1v1h-1zM141 19h1v1h-1zM145 19h1v1h-1zM161 19h1v1h-1zM1 20h1v1h-1zM144 20h1v1h-1zM161 20h1v1h-1zM189 20h1v1h-1zM201 20h1v1h-1zM210 20h1v1h-1zM1 21h1v1h-1zM34 21h1v1h-1zM62 21h1v1h-1zM118 21h1v1h-1zM158 21h1v1h-1zM190 21h1v1h-1zM106 22h1v1h-1zM112 22h1v1h-1zM118 22h1v1h-1zM173 22h1v1h-1zM175 22h1v1h-1zM66 23h1v1h-1zM117 23h1v1h-1zM202 23h1v1h-1zM66 24h1v1h-1zM140 24h1v1h-1zM142 24h1v1h-1zM159 24h1v1h-1zM192 24h1v1h-1zM105 25h1v1h-1zM142 25h1v1h-1zM193 25h1v1h-1zM210 25h1v1h-1zM4 26h1v1h-1zM142 26h1v1h-1zM161 26h1v1h-1zM171 26h1v1h-1zM175 26h1v1h-1zM10 27h1v1h-1zM61 27h1v1h-1zM118 27h1v1h-1zM174 27h1v1h-1zM177 27h1v1h-1zM5 28h1v1h-1zM33 28h1v1h-1zM63 28h1v1h-1zM77 28h1v1h-1zM110 28h1v1h-1zM115 28h1v1h-1zM118 28h1v1h-1zM142 28h1v1h-1zM173 28h1v1h-1zM189 28h1v1h-1zM210 28h1v1h-1zM63 29h1v1h-1zM66 29h1v1h-1zM113 29h1v1h-1zM117 29h1v1h-1zM144 29h1v1h-1zM174 29h1v1h-1zM190 29h1v1h-1zM193 29h1v1h-1zM8 30h1v1h-1zM113 30h1v1h-1zM117 30h1v1h-1zM192 30h1v1h-1zM116 31h1v1h-1zM119 31h1v1h-1zM161 31h1v1h-1zM21 32h1v1h-1zM25 32h1v1h-1zM65 32h1v1h-1zM119 32h1v1h-1zM157 32h1v1h-1zM107 33h1v1h-1zM144 33h1v1h-1zM159 33h1v1h-1zM196 33h1v1h-1zM199 33h1v1h-1zM16 34h1v1h-1zM118 34h1v1h-1zM192 34h1v1h-1zM13 35h1v1h-1zM22 35h1v1h-1zM113 35h1v1h-1zM174 35h1v1h-1zM194 35h1v1h-1zM210 35h1v1h-1zM24 36h1v1h-1zM36 36h1v1h-1zM144 36h1v1h-1zM173 36h3v1h-3zM193 36h1v1h-1zM35 37h1v1h-1zM173 37h1v1h-1zM189 37h1v1h-1zM28 38h1v1h-1zM36 38h1v1h-1zM65 38h1v1h-1zM111 38h1v1h-1zM159 38h1v1h-1zM176 38h1v1h-1zM210 38h1v1h-1zM16 39h1v1h-1zM35 39h1v1h-1zM61 39h1v1h-1zM65 39h2v1h-2zM190 39h1v1h-1zM199 39h1v1h-1zM66 40h1v1h-1zM140 40h1v1h-1zM19 41h1v1h-1zM142 41h1v1h-1zM161 41h1v1h-1zM210 41h1v1h-1zM190 42h1v1h-1zM65 43h2v1h-2zM106 43h1v1h-1zM144 43h1v1h-1zM182 43h1v1h-1zM190 43h1v1h-1zM33 44h1v1h-1zM36 44h1v1h-1zM65 44h1v1h-1zM115 44h1v1h-1zM149 44h1v1h-1zM163 44h1v1h-1zM192 44h1v1h-1zM63 45h2v1h-2zM143 45h1v1h-1zM157 45h1v1h-1zM22 46h1v1h-1zM161 46h1v1h-1zM170 46h1v1h-1zM192 46h1v1h-1zM31 47h1v1h-1zM35 47h1v1h-1zM140 47h1v1h-1zM23 48h1v1h-1zM26 48h1v1h-1zM64 48h1v1h-1zM117 48h1v1h-1zM152 48h1v1h-1zM161 48h1v1h-1zM174 48h1v1h-1zM31 49h1v1h-1zM107 49h1v1h-1zM142 49h1v1h-1zM161 49h1v1h-1zM193 49h1v1h-1zM26 50h1v1h-1zM36 50h1v1h-1zM114 50h2v1h-2zM151 51h1v1h-1zM184 51h1v1h-1zM61 52h1v1h-1zM140 52h1v1h-1zM210 52h1v1h-1zM5 53h1v1h-1zM15 53h1v1h-1zM28 53h1v1h-1zM104 53h1v1h-1zM148 53h2v1h-2zM196 53h1v1h-1zM201 53h1v1h-1zM210 53h1v1h-1zM29 54h1v1h-1zM145 54h1v1h-1zM34 55h1v1h-1zM115 55h1v1h-1zM143 55h1v1h-1zM196 55h1v1h-1zM202 55h1v1h-1zM209 55h1v1h-1zM150 56h1v1h-1zM159 56h1v1h-1zM192 56h2v1h-2zM207 56h1v1h-1zM1 57h2v1h-2zM5 57h1v1h-1zM8 57h2v1h-2zM27 57h1v1h-1zM34 57h1v1h-1zM53 57h1v1h-1zM4 58h1v1h-1zM8 58h1v1h-1zM12 58h1v1h-1zM20 58h1v1h-1zM24 58h2v1h-2zM33 58h1v1h-1zM106 58h1v1h-1zM117 58h1v1h-1zM199 58h1v1h-1zM209 58h1v1h-1zM6 59h1v1h-1zM16 59h1v1h-1zM18 59h1v1h-1zM21 59h1v1h-1zM23 59h2v1h-2zM34 59h2v1h-2zM140 59h1v1h-1zM155 59h1v1h-1zM192 59h1v1h-1zM196 59h1v1h-1zM209 59h1v1h-1zM15 60h1v1h-1zM18 60h1v1h-1zM20 60h1v1h-1zM27 60h1v1h-1zM32 60h1v1h-1zM52 60h1v1h-1zM62 60h1v1h-1zM71 60h1v1h-1zM160 60h1v1h-1zM184 60h1v1h-1zM193 60h1v1h-1zM205 60h1v1h-1zM208 60h1v1h-1zM7 61h1v1h-1zM13 61h1v1h-1zM15 61h1v1h-1zM17 61h1v1h-1zM19 61h1v1h-1zM27 61h1v1h-1zM32 61h1v1h-1zM203 61h1v1h-1zM209 61h1v1h-1zM3 62h2v1h-2zM6 62h1v1h-1zM9 62h1v1h-1zM23 62h1v1h-1zM29 62h1v1h-1zM185 62h1v1h-1zM199 62h2v1h-2zM202 62h1v1h-1zM28 63h1v1h-1zM61 63h1v1h-1zM64 63h1v1h-1zM159 63h1v1h-1zM6 64h1v1h-1zM9 64h1v1h-1zM11 64h1v1h-1zM15 64h1v1h-1zM21 64h1v1h-1zM30 64h1v1h-1zM140 64h1v1h-1zM200 64h1v1h-1zM205 64h1v1h-1zM2 65h1v1h-1zM9 65h1v1h-1zM12 65h1v1h-1zM17 65h1v1h-1zM115 65h1v1h-1zM141 65h1v1h-1zM159 65h1v1h-1zM192 65h1v1h-1zM4 66h1v1h-1zM13 66h1v1h-1zM16 66h1v1h-1zM24 66h1v1h-1zM33 66h1v1h-1zM35 66h1v1h-1zM159 66h1v1h-1zM161 66h1v1h-1zM3 67h1v1h-1zM9 67h1v1h-1zM11 67h1v1h-1zM16 67h1v1h-1zM26 67h1v1h-1zM120 67h1v1h-1zM160 67h1v1h-1zM192 67h1v1h-1zM195 67h2v1h-2zM200 67h1v1h-1zM202 67h1v1h-1zM7 68h1v1h-1zM11 68h1v1h-1zM21 68h1v1h-1zM28 68h1v1h-1zM142 68h1v1h-1zM199 68h1v1h-1zM1 69h1v1h-1zM10 69h1v1h-1zM23 69h1v1h-1zM61 69h1v1h-1zM115 69h1v1h-1zM2 70h1v1h-1zM8 70h1v1h-1zM11 70h1v1h-1zM13 70h1v1h-1zM17 70h1v1h-1zM19 70h1v1h-1zM28 70h1v1h-1zM32 70h1v1h-1zM14 71h2v1h-2zM25 71h1v1h-1zM17 72h1v1h-1zM21 72h2v1h-2zM197 72h2v1h-2zM205 72h1v1h-1zM0 73h2v1h-2zM5 73h1v1h-1zM10 73h1v1h-1zM12 73h3v1h-3zM16 73h1v1h-1zM19 73h1v1h-1zM24 73h2v1h-2zM27 73h1v1h-1zM34 73h1v1h-1zM11 74h1v1h-1zM16 74h2v1h-2zM25 74h2v1h-2zM30 74h1v1h-1zM206 74h1v1h-1zM2 75h1v1h-1zM14 75h1v1h-1zM20 75h2v1h-2zM25 75h1v1h-1zM209 75h1v1h-1zM3 76h2v1h-2zM17 76h1v1h-1zM22 76h1v1h-1zM26 76h1v1h-1zM28 76h1v1h-1zM31 76h1v1h-1zM33 76h1v1h-1zM199 76h1v1h-1zM14 77h1v1h-1zM18 77h1v1h-1zM23 77h1v1h-1zM30 77h1v1h-1zM19 78h1v1h-1zM28 78h2v1h-2zM33 78h1v1h-1zM51 78h1v1h-1zM2 79h2v1h-2zM63 79h1v1h-1zM31 81h1v1h-1zM61 81h1v1h-1zM115 81h1v1h-1zM129 81h1v1h-1zM166 81h1v1h-1zM31 82h1v1h-1zM61 82h1v1h-1zM115 82h1v1h-1zM129 82h1v1h-1zM166 82h1v1h-1z"/><path fill="#24868e" d="M115 0h1v1h-1zM177 0h1v1h-1zM115 1h1v1h-1zM177 1h1v1h-1zM119 2h1v1h-1zM143 2h1v1h-1zM157 2h1v1h-1zM159 2h2v1h-2zM22 3h1v1h-1zM63 3h1v1h-1zM160 3h1v1h-1zM177 3h1v1h-1zM78 4h1v1h-1zM140 4h1v1h-1zM174 4h1v1h-1zM192 4h1v1h-1zM204 4h1v1h-1zM116 5h1v1h-1zM119 5h1v1h-1zM192 5h1v1h-1zM63 6h1v1h-1zM73 6h1v1h-1zM75 6h1v1h-1zM80 6h1v1h-1zM174 6h1v1h-1zM25 7h1v1h-1zM63 7h1v1h-1zM66 7h1v1h-1zM76 7h1v1h-1zM83 7h1v1h-1zM141 7h1v1h-1zM159 7h1v1h-1zM189 7h1v1h-1zM32 8h1v1h-1zM36 8h1v1h-1zM63 8h1v1h-1zM72 8h1v1h-1zM113 8h1v1h-1zM161 8h1v1h-1zM174 8h1v1h-1zM176 8h1v1h-1zM31 9h1v1h-1zM63 9h1v1h-1zM74 9h1v1h-1zM83 9h1v1h-1zM118 9h1v1h-1zM147 9h1v1h-1zM4 10h1v1h-1zM117 10h1v1h-1zM161 10h1v1h-1zM190 10h1v1h-1zM143 11h1v1h-1zM157 11h2v1h-2zM174 11h1v1h-1zM189 11h1v1h-1zM191 11h1v1h-1zM31 12h1v1h-1zM33 12h1v1h-1zM113 12h1v1h-1zM173 12h1v1h-1zM192 12h1v1h-1zM61 13h1v1h-1zM112 13h2v1h-2zM118 13h1v1h-1zM141 13h1v1h-1zM191 13h2v1h-2zM65 14h1v1h-1zM78 14h2v1h-2zM107 14h1v1h-1zM117 14h1v1h-1zM141 14h1v1h-1zM144 14h1v1h-1zM157 14h2v1h-2zM173 14h1v1h-1zM176 14h1v1h-1zM192 14h2v1h-2zM202 14h1v1h-1zM209 14h1v1h-1zM72 15h1v1h-1zM145 15h1v1h-1zM158 15h1v1h-1zM189 15h1v1h-1zM194 15h1v1h-1zM31 16h1v1h-1zM56 16h1v1h-1zM106 16h1v1h-1zM117 16h1v1h-1zM141 16h2v1h-2zM159 16h1v1h-1zM161 16h1v1h-1zM163 16h1v1h-1zM189 16h1v1h-1zM66 17h1v1h-1zM105 17h1v1h-1zM118 17h1v1h-1zM143 17h1v1h-1zM185 17h1v1h-1zM64 18h1v1h-1zM112 18h1v1h-1zM189 18h2v1h-2zM61 19h1v1h-1zM63 19h2v1h-2zM73 19h1v1h-1zM119 19h1v1h-1zM140 19h1v1h-1zM144 19h1v1h-1zM173 19h1v1h-1zM183 19h1v1h-1zM193 19h1v1h-1zM210 19h1v1h-1zM62 20h1v1h-1zM65 20h2v1h-2zM74 20h1v1h-1zM115 20h1v1h-1zM117 20h1v1h-1zM157 20h1v1h-1zM175 20h2v1h-2zM192 20h1v1h-1zM65 21h1v1h-1zM145 21h1v1h-1zM173 21h1v1h-1zM175 21h1v1h-1zM183 21h1v1h-1zM34 22h1v1h-1zM63 22h1v1h-1zM65 22h2v1h-2zM97 22h1v1h-1zM105 22h1v1h-1zM142 22h1v1h-1zM174 22h1v1h-1zM177 22h1v1h-1zM189 22h1v1h-1zM12 23h1v1h-1zM35 23h1v1h-1zM65 23h1v1h-1zM140 23h1v1h-1zM143 23h1v1h-1zM194 23h1v1h-1zM106 24h1v1h-1zM161 24h1v1h-1zM177 24h1v1h-1zM73 25h1v1h-1zM144 25h1v1h-1zM161 25h1v1h-1zM173 25h1v1h-1zM175 25h1v1h-1zM190 25h1v1h-1zM61 26h1v1h-1zM140 26h2v1h-2zM173 26h1v1h-1zM105 27h1v1h-1zM110 27h1v1h-1zM112 27h1v1h-1zM117 27h1v1h-1zM140 27h1v1h-1zM144 27h1v1h-1zM152 27h1v1h-1zM159 27h2v1h-2zM186 27h1v1h-1zM190 27h1v1h-1zM194 27h1v1h-1zM197 27h1v1h-1zM112 28h1v1h-1zM141 28h1v1h-1zM157 28h2v1h-2zM164 28h1v1h-1zM180 28h1v1h-1zM192 28h1v1h-1zM28 29h1v1h-1zM31 29h2v1h-2zM65 29h1v1h-1zM76 29h1v1h-1zM100 29h1v1h-1zM118 29h1v1h-1zM192 29h1v1h-1zM31 30h1v1h-1zM106 30h1v1h-1zM141 30h2v1h-2zM177 30h1v1h-1zM35 31h2v1h-2zM62 31h2v1h-2zM117 31h2v1h-2zM140 31h1v1h-1zM142 31h1v1h-1zM157 31h1v1h-1zM173 31h1v1h-1zM176 31h1v1h-1zM192 31h1v1h-1zM63 32h1v1h-1zM111 32h1v1h-1zM118 32h1v1h-1zM194 32h1v1h-1zM35 33h1v1h-1zM73 33h1v1h-1zM79 33h1v1h-1zM106 33h1v1h-1zM113 33h1v1h-1zM158 33h1v1h-1zM64 34h1v1h-1zM117 34h1v1h-1zM141 34h1v1h-1zM176 34h1v1h-1zM34 35h1v1h-1zM66 35h1v1h-1zM190 35h1v1h-1zM32 36h1v1h-1zM34 36h1v1h-1zM64 36h2v1h-2zM117 36h1v1h-1zM160 36h1v1h-1zM61 37h1v1h-1zM77 37h1v1h-1zM177 37h1v1h-1zM190 37h1v1h-1zM63 38h1v1h-1zM144 38h1v1h-1zM157 38h1v1h-1zM161 38h1v1h-1zM173 38h1v1h-1zM144 39h1v1h-1zM159 39h1v1h-1zM173 39h3v1h-3zM193 39h1v1h-1zM33 40h2v1h-2zM64 40h1v1h-1zM80 40h1v1h-1zM104 40h1v1h-1zM106 40h1v1h-1zM119 40h1v1h-1zM142 40h1v1h-1zM161 40h2v1h-2zM189 40h1v1h-1zM192 40h1v1h-1zM31 41h1v1h-1zM61 41h2v1h-2zM147 41h1v1h-1zM193 41h1v1h-1zM114 42h1v1h-1zM145 42h1v1h-1zM210 42h1v1h-1zM142 43h1v1h-1zM145 43h1v1h-1zM160 43h1v1h-1zM159 44h1v1h-1zM207 44h1v1h-1zM35 45h1v1h-1zM52 45h1v1h-1zM142 45h1v1h-1zM160 45h2v1h-2zM113 46h1v1h-1zM159 46h1v1h-1zM169 46h1v1h-1zM185 46h1v1h-1zM53 47h1v1h-1zM117 47h1v1h-1zM126 47h1v1h-1zM144 47h1v1h-1zM160 47h1v1h-1zM171 47h1v1h-1zM95 48h1v1h-1zM106 48h1v1h-1zM118 48h1v1h-1zM144 48h1v1h-1zM159 48h1v1h-1zM184 48h1v1h-1zM191 48h2v1h-2zM1 49h1v1h-1zM105 49h1v1h-1zM127 49h2v1h-2zM172 49h1v1h-1zM140 50h1v1h-1zM145 50h1v1h-1zM65 51h1v1h-1zM142 51h1v1h-1zM33 52h1v1h-1zM143 52h1v1h-1zM159 52h1v1h-1zM171 52h1v1h-1zM191 52h2v1h-2zM33 53h1v1h-1zM105 53h2v1h-2zM143 53h1v1h-1zM63 54h1v1h-1zM80 54h1v1h-1zM99 54h1v1h-1zM103 54h1v1h-1zM201 54h1v1h-1zM32 55h1v1h-1zM53 55h1v1h-1zM142 55h1v1h-1zM184 55h2v1h-2zM193 55h1v1h-1zM197 55h1v1h-1zM31 56h1v1h-1zM64 56h1v1h-1zM107 56h1v1h-1zM122 56h1v1h-1zM140 56h1v1h-1zM160 56h1v1h-1zM169 56h1v1h-1zM0 57h1v1h-1zM20 57h1v1h-1zM116 57h1v1h-1zM156 57h1v1h-1zM159 57h1v1h-1zM193 57h1v1h-1zM203 57h2v1h-2zM207 57h1v1h-1zM11 58h1v1h-1zM17 58h1v1h-1zM23 58h1v1h-1zM27 58h1v1h-1zM66 58h1v1h-1zM126 58h2v1h-2zM161 58h2v1h-2zM184 58h1v1h-1zM202 58h1v1h-1zM105 59h1v1h-1zM161 59h1v1h-1zM166 59h1v1h-1zM172 59h1v1h-1zM189 59h1v1h-1zM16 60h1v1h-1zM33 60h1v1h-1zM61 60h1v1h-1zM115 60h1v1h-1zM142 60h4v1h-4zM158 60h1v1h-1zM161 60h1v1h-1zM200 60h1v1h-1zM206 60h2v1h-2zM16 61h1v1h-1zM28 61h1v1h-1zM62 61h1v1h-1zM113 61h1v1h-1zM117 61h1v1h-1zM125 61h1v1h-1zM1 62h1v1h-1zM15 62h1v1h-1zM20 62h1v1h-1zM35 62h1v1h-1zM82 62h1v1h-1zM208 62h1v1h-1zM7 63h2v1h-2zM10 63h1v1h-1zM12 63h1v1h-1zM66 63h2v1h-2zM114 63h1v1h-1zM149 63h1v1h-1zM161 63h1v1h-1zM208 63h1v1h-1zM31 64h1v1h-1zM74 64h1v1h-1zM102 64h1v1h-1zM111 64h1v1h-1zM118 64h1v1h-1zM159 64h1v1h-1zM163 64h1v1h-1zM195 64h1v1h-1zM202 64h1v1h-1zM208 64h1v1h-1zM6 65h1v1h-1zM13 65h1v1h-1zM19 65h2v1h-2zM62 65h1v1h-1zM164 65h1v1h-1zM193 65h1v1h-1zM203 65h1v1h-1zM22 66h1v1h-1zM61 66h1v1h-1zM158 66h1v1h-1zM160 66h1v1h-1zM171 66h1v1h-1zM207 66h1v1h-1zM1 67h2v1h-2zM6 67h1v1h-1zM30 67h1v1h-1zM33 67h1v1h-1zM67 67h1v1h-1zM141 67h2v1h-2zM201 67h1v1h-1zM209 67h1v1h-1zM5 68h1v1h-1zM8 68h2v1h-2zM18 68h1v1h-1zM23 68h1v1h-1zM27 68h1v1h-1zM32 68h1v1h-1zM34 68h1v1h-1zM116 68h1v1h-1zM190 68h1v1h-1zM203 68h2v1h-2zM3 69h1v1h-1zM5 69h1v1h-1zM7 69h1v1h-1zM15 69h2v1h-2zM22 69h1v1h-1zM26 69h1v1h-1zM34 69h1v1h-1zM114 69h1v1h-1zM196 69h1v1h-1zM4 70h1v1h-1zM21 70h1v1h-1zM24 70h4v1h-4zM114 70h1v1h-1zM165 70h1v1h-1zM195 70h1v1h-1zM203 70h1v1h-1zM6 71h1v1h-1zM10 71h1v1h-1zM13 71h1v1h-1zM23 71h1v1h-1zM29 71h1v1h-1zM35 71h1v1h-1zM116 71h1v1h-1zM0 72h1v1h-1zM8 72h1v1h-1zM10 72h1v1h-1zM13 72h1v1h-1zM18 72h1v1h-1zM20 72h1v1h-1zM23 72h1v1h-1zM25 72h1v1h-1zM27 72h2v1h-2zM31 72h1v1h-1zM34 72h1v1h-1zM7 73h1v1h-1zM23 73h1v1h-1zM26 73h1v1h-1zM197 73h1v1h-1zM3 74h1v1h-1zM23 74h2v1h-2zM29 74h1v1h-1zM32 74h2v1h-2zM62 74h1v1h-1zM84 74h1v1h-1zM158 74h1v1h-1zM193 74h1v1h-1zM196 74h1v1h-1zM9 75h1v1h-1zM13 75h1v1h-1zM15 75h1v1h-1zM71 75h1v1h-1zM192 75h1v1h-1zM196 75h1v1h-1zM2 76h1v1h-1zM10 76h3v1h-3zM32 76h1v1h-1zM61 76h1v1h-1zM5 77h1v1h-1zM8 77h1v1h-1zM16 77h1v1h-1zM9 78h1v1h-1zM14 78h1v1h-1zM20 78h1v1h-1zM35 78h1v1h-1zM9 79h1v1h-1zM36 81h1v1h-1zM147 81h1v1h-1zM182 81h1v1h-1zM36 82h1v1h-1zM147 82h1v1h-1zM182 82h1v1h-1z"/><path fill="#238a8d" d="M35 0h2v1h-2zM140 0h1v1h-1zM147 0h1v1h-1zM161 0h1v1h-1zM210 0h1v1h-1zM35 1h2v1h-2zM140 1h1v1h-1zM147 1h1v1h-1zM161 1h1v1h-1zM210 1h1v1h-1zM32 2h1v1h-1zM61 2h1v1h-1zM66 2h1v1h-1zM145 2h1v1h-1zM158 2h1v1h-1zM190 2h1v1h-1zM194 2h1v1h-1zM61 3h1v1h-1zM112 3h1v1h-1zM118 3h2v1h-2zM137 3h1v1h-1zM184 3h1v1h-1zM189 3h1v1h-1zM191 3h2v1h-2zM64 4h1v1h-1zM142 4h1v1h-1zM158 4h1v1h-1zM161 4h1v1h-1zM173 4h1v1h-1zM193 4h1v1h-1zM32 5h1v1h-1zM62 5h2v1h-2zM66 5h1v1h-1zM112 5h1v1h-1zM117 5h1v1h-1zM157 5h1v1h-1zM183 5h1v1h-1zM35 6h1v1h-1zM105 6h1v1h-1zM107 6h1v1h-1zM109 6h1v1h-1zM119 6h1v1h-1zM141 6h1v1h-1zM160 6h1v1h-1zM175 6h1v1h-1zM184 6h1v1h-1zM186 6h1v1h-1zM193 6h1v1h-1zM32 7h1v1h-1zM75 7h1v1h-1zM160 7h1v1h-1zM175 7h1v1h-1zM177 7h1v1h-1zM51 8h1v1h-1zM65 8h1v1h-1zM75 8h1v1h-1zM82 8h1v1h-1zM160 8h1v1h-1zM32 9h1v1h-1zM73 9h1v1h-1zM78 9h1v1h-1zM110 9h1v1h-1zM112 9h1v1h-1zM159 9h1v1h-1zM173 9h1v1h-1zM65 10h1v1h-1zM72 10h1v1h-1zM142 10h1v1h-1zM157 10h1v1h-1zM63 11h1v1h-1zM72 11h1v1h-1zM113 11h1v1h-1zM130 11h1v1h-1zM176 11h1v1h-1zM65 12h1v1h-1zM75 12h2v1h-2zM108 12h1v1h-1zM117 12h1v1h-1zM131 12h1v1h-1zM140 12h1v1h-1zM148 12h1v1h-1zM157 12h1v1h-1zM189 12h3v1h-3zM193 12h1v1h-1zM62 13h1v1h-1zM140 13h1v1h-1zM142 13h1v1h-1zM144 13h1v1h-1zM157 13h1v1h-1zM174 13h1v1h-1zM176 13h1v1h-1zM93 14h1v1h-1zM105 14h1v1h-1zM148 14h1v1h-1zM177 14h1v1h-1zM186 14h1v1h-1zM64 15h1v1h-1zM143 15h1v1h-1zM192 15h1v1h-1zM210 15h1v1h-1zM32 16h1v1h-1zM36 16h1v1h-1zM63 16h3v1h-3zM78 16h1v1h-1zM144 16h1v1h-1zM175 16h1v1h-1zM177 16h1v1h-1zM188 16h1v1h-1zM193 16h1v1h-1zM32 17h1v1h-1zM109 17h1v1h-1zM113 17h1v1h-1zM138 17h1v1h-1zM145 17h1v1h-1zM159 17h3v1h-3zM193 17h1v1h-1zM34 18h1v1h-1zM62 18h1v1h-1zM77 18h1v1h-1zM79 18h1v1h-1zM186 18h1v1h-1zM193 18h1v1h-1zM66 19h1v1h-1zM108 19h1v1h-1zM117 19h2v1h-2zM142 19h2v1h-2zM159 19h1v1h-1zM191 19h1v1h-1zM191 20h1v1h-1zM36 21h1v1h-1zM159 21h2v1h-2zM31 22h1v1h-1zM61 22h1v1h-1zM80 22h1v1h-1zM110 22h1v1h-1zM138 22h1v1h-1zM141 22h1v1h-1zM158 22h1v1h-1zM160 22h1v1h-1zM191 22h2v1h-2zM62 23h1v1h-1zM107 23h1v1h-1zM111 23h1v1h-1zM145 23h1v1h-1zM159 23h1v1h-1zM189 23h1v1h-1zM193 23h1v1h-1zM32 24h1v1h-1zM65 24h1v1h-1zM80 24h1v1h-1zM105 24h1v1h-1zM107 24h1v1h-1zM158 24h1v1h-1zM173 24h1v1h-1zM33 25h1v1h-1zM62 25h1v1h-1zM65 25h2v1h-2zM110 25h1v1h-1zM112 25h2v1h-2zM119 25h1v1h-1zM157 25h1v1h-1zM160 25h1v1h-1zM176 25h1v1h-1zM189 25h1v1h-1zM26 26h1v1h-1zM62 26h1v1h-1zM65 26h1v1h-1zM72 26h1v1h-1zM106 26h1v1h-1zM117 26h1v1h-1zM177 26h1v1h-1zM191 26h1v1h-1zM35 27h1v1h-1zM63 27h1v1h-1zM66 27h1v1h-1zM80 27h1v1h-1zM106 27h1v1h-1zM113 27h1v1h-1zM145 27h1v1h-1zM193 27h1v1h-1zM31 28h1v1h-1zM79 28h1v1h-1zM188 28h1v1h-1zM191 28h1v1h-1zM53 29h1v1h-1zM176 29h1v1h-1zM32 30h1v1h-1zM63 30h1v1h-1zM105 30h1v1h-1zM118 30h1v1h-1zM140 30h1v1h-1zM144 30h2v1h-2zM159 30h1v1h-1zM32 31h1v1h-1zM66 31h1v1h-1zM105 31h1v1h-1zM110 31h1v1h-1zM113 31h1v1h-1zM160 31h1v1h-1zM182 31h2v1h-2zM210 31h1v1h-1zM76 32h2v1h-2zM143 32h1v1h-1zM145 32h1v1h-1zM160 32h1v1h-1zM180 32h1v1h-1zM193 32h1v1h-1zM61 33h1v1h-1zM63 33h1v1h-1zM65 33h1v1h-1zM118 33h2v1h-2zM157 33h1v1h-1zM182 33h1v1h-1zM31 34h1v1h-1zM66 34h1v1h-1zM140 34h1v1h-1zM159 34h2v1h-2zM191 34h1v1h-1zM93 35h1v1h-1zM105 35h1v1h-1zM118 35h2v1h-2zM160 35h1v1h-1zM175 35h2v1h-2zM184 35h1v1h-1zM54 36h1v1h-1zM61 36h2v1h-2zM66 36h1v1h-1zM112 36h1v1h-1zM141 36h1v1h-1zM152 36h1v1h-1zM159 36h1v1h-1zM161 36h1v1h-1zM176 36h1v1h-1zM184 36h1v1h-1zM192 36h1v1h-1zM31 37h1v1h-1zM64 37h2v1h-2zM107 37h1v1h-1zM117 37h1v1h-1zM174 37h3v1h-3zM192 37h2v1h-2zM108 38h1v1h-1zM182 38h1v1h-1zM54 39h1v1h-1zM64 39h1v1h-1zM140 39h1v1h-1zM143 39h1v1h-1zM157 39h1v1h-1zM189 39h1v1h-1zM191 39h1v1h-1zM210 39h1v1h-1zM61 40h1v1h-1zM77 40h1v1h-1zM107 40h1v1h-1zM149 40h1v1h-1zM165 40h1v1h-1zM175 40h1v1h-1zM36 41h1v1h-1zM63 41h1v1h-1zM69 41h1v1h-1zM71 41h1v1h-1zM143 41h1v1h-1zM175 41h1v1h-1zM191 41h2v1h-2zM64 42h1v1h-1zM76 42h1v1h-1zM140 42h1v1h-1zM161 42h1v1h-1zM164 43h1v1h-1zM64 44h1v1h-1zM128 44h1v1h-1zM144 44h1v1h-1zM157 44h1v1h-1zM160 44h1v1h-1zM184 45h1v1h-1zM68 46h1v1h-1zM106 46h1v1h-1zM140 46h1v1h-1zM144 46h1v1h-1zM160 46h1v1h-1zM177 46h1v1h-1zM181 46h1v1h-1zM66 47h1v1h-1zM70 47h1v1h-1zM115 47h1v1h-1zM165 47h1v1h-1zM192 47h1v1h-1zM66 48h1v1h-1zM107 48h1v1h-1zM119 48h1v1h-1zM127 48h1v1h-1zM141 48h1v1h-1zM145 48h1v1h-1zM183 48h1v1h-1zM197 48h1v1h-1zM35 49h1v1h-1zM62 49h1v1h-1zM67 49h1v1h-1zM74 49h1v1h-1zM140 49h1v1h-1zM145 49h1v1h-1zM180 49h1v1h-1zM54 50h1v1h-1zM144 50h1v1h-1zM24 51h1v1h-1zM62 51h1v1h-1zM64 51h1v1h-1zM108 51h1v1h-1zM128 51h1v1h-1zM143 51h1v1h-1zM159 51h1v1h-1zM193 51h1v1h-1zM31 52h2v1h-2zM67 52h1v1h-1zM145 52h1v1h-1zM161 52h1v1h-1zM65 53h1v1h-1zM123 53h1v1h-1zM147 53h1v1h-1zM160 53h1v1h-1zM166 53h2v1h-2zM183 53h1v1h-1zM185 53h1v1h-1zM15 54h1v1h-1zM31 54h1v1h-1zM34 54h1v1h-1zM64 54h1v1h-1zM66 54h1v1h-1zM112 54h1v1h-1zM143 54h1v1h-1zM152 54h1v1h-1zM159 54h1v1h-1zM121 55h1v1h-1zM192 55h1v1h-1zM32 56h1v1h-1zM51 56h1v1h-1zM74 56h1v1h-1zM106 56h1v1h-1zM117 56h1v1h-1zM119 56h1v1h-1zM143 56h1v1h-1zM145 56h1v1h-1zM148 56h1v1h-1zM161 56h1v1h-1zM181 56h2v1h-2zM190 56h1v1h-1zM195 56h1v1h-1zM64 57h1v1h-1zM67 57h1v1h-1zM143 57h1v1h-1zM154 57h2v1h-2zM160 57h1v1h-1zM192 57h1v1h-1zM201 57h1v1h-1zM1 58h1v1h-1zM31 58h1v1h-1zM61 58h1v1h-1zM64 58h1v1h-1zM71 58h1v1h-1zM107 58h1v1h-1zM140 58h1v1h-1zM17 59h1v1h-1zM28 59h1v1h-1zM111 59h2v1h-2zM145 59h1v1h-1zM154 59h1v1h-1zM159 59h1v1h-1zM14 60h1v1h-1zM128 60h1v1h-1zM171 60h1v1h-1zM196 60h1v1h-1zM202 60h1v1h-1zM18 61h1v1h-1zM23 61h1v1h-1zM63 61h1v1h-1zM83 61h1v1h-1zM104 61h1v1h-1zM110 61h2v1h-2zM143 61h1v1h-1zM159 61h1v1h-1zM193 61h1v1h-1zM207 61h1v1h-1zM60 62h2v1h-2zM83 62h1v1h-1zM159 62h4v1h-4zM165 62h1v1h-1zM167 62h1v1h-1zM193 62h1v1h-1zM201 62h1v1h-1zM203 62h1v1h-1zM6 63h1v1h-1zM15 63h1v1h-1zM27 63h1v1h-1zM31 63h1v1h-1zM65 63h1v1h-1zM115 63h1v1h-1zM125 63h3v1h-3zM203 63h1v1h-1zM18 64h1v1h-1zM34 64h1v1h-1zM113 64h1v1h-1zM119 64h1v1h-1zM160 64h1v1h-1zM162 64h1v1h-1zM171 64h1v1h-1zM192 64h1v1h-1zM201 64h1v1h-1zM207 64h1v1h-1zM30 65h1v1h-1zM68 65h1v1h-1zM127 65h2v1h-2zM190 65h1v1h-1zM197 65h2v1h-2zM202 65h1v1h-1zM207 65h1v1h-1zM9 66h1v1h-1zM29 66h1v1h-1zM105 66h1v1h-1zM108 66h1v1h-1zM118 66h1v1h-1zM125 66h1v1h-1zM128 66h1v1h-1zM193 66h1v1h-1zM195 66h1v1h-1zM198 66h1v1h-1zM206 66h1v1h-1zM209 66h2v1h-2zM18 67h1v1h-1zM107 67h1v1h-1zM117 67h1v1h-1zM161 67h1v1h-1zM166 67h1v1h-1zM193 67h2v1h-2zM207 67h1v1h-1zM2 68h1v1h-1zM61 68h1v1h-1zM126 68h1v1h-1zM128 68h1v1h-1zM160 68h2v1h-2zM193 68h1v1h-1zM200 68h1v1h-1zM209 68h1v1h-1zM0 69h1v1h-1zM18 69h2v1h-2zM30 69h2v1h-2zM126 69h1v1h-1zM200 69h1v1h-1zM207 69h1v1h-1zM9 70h1v1h-1zM29 70h2v1h-2zM93 70h1v1h-1zM200 70h2v1h-2zM206 70h2v1h-2zM3 71h1v1h-1zM5 71h1v1h-1zM17 71h1v1h-1zM19 71h1v1h-1zM70 71h2v1h-2zM102 71h1v1h-1zM123 71h1v1h-1zM150 71h1v1h-1zM202 71h1v1h-1zM204 71h1v1h-1zM209 71h1v1h-1zM2 72h1v1h-1zM7 72h1v1h-1zM11 72h1v1h-1zM30 72h1v1h-1zM33 72h1v1h-1zM115 72h2v1h-2zM193 72h1v1h-1zM200 72h1v1h-1zM208 72h1v1h-1zM17 73h2v1h-2zM20 73h1v1h-1zM54 73h1v1h-1zM66 73h1v1h-1zM208 73h1v1h-1zM0 74h1v1h-1zM14 74h1v1h-1zM18 74h2v1h-2zM21 74h1v1h-1zM199 74h1v1h-1zM3 75h1v1h-1zM5 75h1v1h-1zM18 75h1v1h-1zM22 75h1v1h-1zM26 75h1v1h-1zM7 76h1v1h-1zM18 76h1v1h-1zM25 76h1v1h-1zM34 76h1v1h-1zM193 76h1v1h-1zM204 76h1v1h-1zM15 77h1v1h-1zM25 77h3v1h-3zM29 77h1v1h-1zM196 77h2v1h-2zM201 77h1v1h-1zM0 78h1v1h-1zM8 78h1v1h-1zM15 78h1v1h-1zM30 78h1v1h-1zM34 78h1v1h-1zM192 78h1v1h-1zM7 79h1v1h-1zM53 79h1v1h-1zM58 81h1v1h-1zM114 81h1v1h-1zM116 81h1v1h-1zM169 81h2v1h-2zM183 81h1v1h-1zM58 82h1v1h-1zM114 82h1v1h-1zM116 82h1v1h-1zM169 82h2v1h-2zM183 82h1v1h-1z"/><path fill="#218e8d" d="M66 0h1v1h-1zM76 0h1v1h-1zM112 0h1v1h-1zM118 0h1v1h-1zM144 0h1v1h-1zM184 0h1v1h-1zM66 1h1v1h-1zM76 1h1v1h-1zM112 1h1v1h-1zM118 1h1v1h-1zM144 1h1v1h-1zM184 1h1v1h-1zM111 2h1v1h-1zM142 2h1v1h-1zM174 2h2v1h-2zM177 2h1v1h-1zM189 2h1v1h-1zM80 3h1v1h-1zM105 3h1v1h-1zM107 3h1v1h-1zM148 3h1v1h-1zM157 3h1v1h-1zM159 3h1v1h-1zM62 4h2v1h-2zM80 4h1v1h-1zM172 4h1v1h-1zM190 4h1v1h-1zM76 5h1v1h-1zM106 5h1v1h-1zM131 5h1v1h-1zM144 5h1v1h-1zM159 5h1v1h-1zM177 5h1v1h-1zM186 5h1v1h-1zM194 5h1v1h-1zM50 6h1v1h-1zM143 6h3v1h-3zM176 6h1v1h-1zM185 6h1v1h-1zM189 6h2v1h-2zM64 7h1v1h-1zM72 7h1v1h-1zM80 7h1v1h-1zM111 7h1v1h-1zM113 7h1v1h-1zM143 7h1v1h-1zM157 7h1v1h-1zM161 7h1v1h-1zM190 7h1v1h-1zM61 8h1v1h-1zM74 8h1v1h-1zM76 8h1v1h-1zM80 8h1v1h-1zM107 8h1v1h-1zM110 8h1v1h-1zM140 8h2v1h-2zM150 8h1v1h-1zM158 8h2v1h-2zM177 8h1v1h-1zM77 9h1v1h-1zM79 9h1v1h-1zM107 9h1v1h-1zM111 9h1v1h-1zM142 9h1v1h-1zM174 9h1v1h-1zM63 10h1v1h-1zM93 10h1v1h-1zM111 10h2v1h-2zM163 10h1v1h-1zM80 11h1v1h-1zM83 11h1v1h-1zM112 11h1v1h-1zM146 11h1v1h-1zM149 11h1v1h-1zM173 11h1v1h-1zM62 12h1v1h-1zM79 12h1v1h-1zM105 12h1v1h-1zM107 12h1v1h-1zM141 12h1v1h-1zM147 12h1v1h-1zM161 12h1v1h-1zM159 13h1v1h-1zM161 13h1v1h-1zM177 13h1v1h-1zM33 14h1v1h-1zM106 14h1v1h-1zM111 14h1v1h-1zM145 14h1v1h-1zM159 14h2v1h-2zM174 14h1v1h-1zM77 15h1v1h-1zM144 15h1v1h-1zM159 15h2v1h-2zM175 15h1v1h-1zM177 15h1v1h-1zM187 15h1v1h-1zM66 16h1v1h-1zM98 16h1v1h-1zM160 16h1v1h-1zM190 16h1v1h-1zM111 17h2v1h-2zM119 17h1v1h-1zM127 17h1v1h-1zM141 17h1v1h-1zM157 17h1v1h-1zM175 17h1v1h-1zM66 18h1v1h-1zM155 18h1v1h-1zM157 18h1v1h-1zM173 18h1v1h-1zM93 19h1v1h-1zM97 19h1v1h-1zM105 19h1v1h-1zM111 19h1v1h-1zM175 19h1v1h-1zM192 19h1v1h-1zM32 20h1v1h-1zM105 20h2v1h-2zM112 20h2v1h-2zM118 20h1v1h-1zM143 20h1v1h-1zM158 20h3v1h-3zM177 20h1v1h-1zM193 20h1v1h-1zM31 21h1v1h-1zM61 21h1v1h-1zM63 21h2v1h-2zM66 21h1v1h-1zM113 21h1v1h-1zM119 21h1v1h-1zM191 21h1v1h-1zM32 22h1v1h-1zM62 22h1v1h-1zM124 22h1v1h-1zM143 22h1v1h-1zM157 22h1v1h-1zM159 22h1v1h-1zM188 22h1v1h-1zM61 23h1v1h-1zM136 23h1v1h-1zM157 23h2v1h-2zM192 23h1v1h-1zM78 24h1v1h-1zM109 24h1v1h-1zM175 24h1v1h-1zM193 24h1v1h-1zM64 25h1v1h-1zM106 25h1v1h-1zM191 25h1v1h-1zM32 26h1v1h-1zM78 26h1v1h-1zM110 26h1v1h-1zM112 26h1v1h-1zM157 26h1v1h-1zM189 26h2v1h-2zM193 26h1v1h-1zM77 27h1v1h-1zM119 27h1v1h-1zM173 27h1v1h-1zM189 27h1v1h-1zM191 27h1v1h-1zM64 28h2v1h-2zM119 28h1v1h-1zM140 28h1v1h-1zM144 28h1v1h-1zM147 28h1v1h-1zM160 28h1v1h-1zM175 28h1v1h-1zM190 28h1v1h-1zM64 29h1v1h-1zM110 29h1v1h-1zM173 29h1v1h-1zM183 29h1v1h-1zM191 29h1v1h-1zM33 30h1v1h-1zM66 30h1v1h-1zM73 30h1v1h-1zM161 30h1v1h-1zM65 31h1v1h-1zM72 31h1v1h-1zM106 31h1v1h-1zM144 31h1v1h-1zM185 31h1v1h-1zM72 32h1v1h-1zM105 32h1v1h-1zM112 32h1v1h-1zM142 32h1v1h-1zM159 32h1v1h-1zM161 32h1v1h-1zM175 32h1v1h-1zM190 32h1v1h-1zM31 33h1v1h-1zM64 33h1v1h-1zM66 33h1v1h-1zM77 33h1v1h-1zM112 33h1v1h-1zM145 33h1v1h-1zM175 33h2v1h-2zM191 33h1v1h-1zM61 34h1v1h-1zM63 34h1v1h-1zM72 34h1v1h-1zM80 34h1v1h-1zM143 34h2v1h-2zM31 35h2v1h-2zM62 35h1v1h-1zM74 35h1v1h-1zM76 35h1v1h-1zM80 35h1v1h-1zM106 35h2v1h-2zM141 35h1v1h-1zM161 35h1v1h-1zM53 36h1v1h-1zM63 36h1v1h-1zM111 36h1v1h-1zM118 36h2v1h-2zM145 36h1v1h-1zM187 36h1v1h-1zM190 36h1v1h-1zM194 36h1v1h-1zM63 37h1v1h-1zM75 37h2v1h-2zM141 37h1v1h-1zM143 37h2v1h-2zM163 37h1v1h-1zM185 37h1v1h-1zM35 38h1v1h-1zM140 38h1v1h-1zM174 38h1v1h-1zM158 39h1v1h-1zM111 40h2v1h-2zM128 40h1v1h-1zM157 40h2v1h-2zM160 40h1v1h-1zM177 40h1v1h-1zM210 40h1v1h-1zM65 41h1v1h-1zM105 41h2v1h-2zM126 41h1v1h-1zM140 41h1v1h-1zM188 41h1v1h-1zM104 42h1v1h-1zM72 43h1v1h-1zM117 43h1v1h-1zM140 43h1v1h-1zM162 43h1v1h-1zM167 43h1v1h-1zM193 43h1v1h-1zM66 44h1v1h-1zM113 44h1v1h-1zM119 44h1v1h-1zM142 44h2v1h-2zM174 44h1v1h-1zM189 44h2v1h-2zM194 44h1v1h-1zM32 45h1v1h-1zM89 45h1v1h-1zM106 45h1v1h-1zM128 45h1v1h-1zM141 45h1v1h-1zM147 45h1v1h-1zM181 45h1v1h-1zM192 45h1v1h-1zM61 46h1v1h-1zM112 46h1v1h-1zM176 46h1v1h-1zM86 47h1v1h-1zM161 47h1v1h-1zM169 47h1v1h-1zM190 47h1v1h-1zM51 48h1v1h-1zM63 48h1v1h-1zM111 48h1v1h-1zM142 48h1v1h-1zM148 48h1v1h-1zM160 48h1v1h-1zM70 49h1v1h-1zM168 49h1v1h-1zM176 49h1v1h-1zM192 49h1v1h-1zM148 50h1v1h-1zM159 50h1v1h-1zM176 50h1v1h-1zM181 50h1v1h-1zM188 50h1v1h-1zM36 51h1v1h-1zM93 51h1v1h-1zM180 51h1v1h-1zM189 51h1v1h-1zM192 51h1v1h-1zM52 52h1v1h-1zM65 52h1v1h-1zM128 52h1v1h-1zM149 52h1v1h-1zM160 52h1v1h-1zM68 53h1v1h-1zM74 53h1v1h-1zM117 53h1v1h-1zM140 53h1v1h-1zM144 53h1v1h-1zM62 54h1v1h-1zM65 54h1v1h-1zM113 54h1v1h-1zM127 54h1v1h-1zM141 54h2v1h-2zM169 54h1v1h-1zM185 54h1v1h-1zM192 54h1v1h-1zM196 54h1v1h-1zM61 55h1v1h-1zM63 55h2v1h-2zM66 55h1v1h-1zM72 55h1v1h-1zM76 55h1v1h-1zM145 55h1v1h-1zM149 55h1v1h-1zM157 55h1v1h-1zM162 55h1v1h-1zM165 55h1v1h-1zM181 55h1v1h-1zM52 56h1v1h-1zM108 56h1v1h-1zM113 56h1v1h-1zM121 56h1v1h-1zM166 56h1v1h-1zM180 56h1v1h-1zM142 57h1v1h-1zM7 58h1v1h-1zM9 58h1v1h-1zM32 58h1v1h-1zM62 58h1v1h-1zM102 58h1v1h-1zM104 58h1v1h-1zM114 58h1v1h-1zM142 58h1v1h-1zM160 58h1v1h-1zM204 58h1v1h-1zM62 59h1v1h-1zM81 59h1v1h-1zM102 59h1v1h-1zM128 59h1v1h-1zM160 59h1v1h-1zM163 59h1v1h-1zM181 59h1v1h-1zM203 59h1v1h-1zM208 59h1v1h-1zM23 60h1v1h-1zM31 60h1v1h-1zM63 60h1v1h-1zM122 60h1v1h-1zM151 60h1v1h-1zM189 60h1v1h-1zM52 61h1v1h-1zM67 61h1v1h-1zM93 61h1v1h-1zM108 61h1v1h-1zM119 61h1v1h-1zM145 61h1v1h-1zM148 61h1v1h-1zM161 61h1v1h-1zM164 61h1v1h-1zM205 61h1v1h-1zM18 62h1v1h-1zM32 62h1v1h-1zM62 62h1v1h-1zM64 62h1v1h-1zM100 62h1v1h-1zM128 62h1v1h-1zM141 62h1v1h-1zM164 62h1v1h-1zM32 63h1v1h-1zM118 63h1v1h-1zM128 63h1v1h-1zM141 63h1v1h-1zM190 63h1v1h-1zM207 63h1v1h-1zM70 64h1v1h-1zM76 64h1v1h-1zM82 64h1v1h-1zM107 64h3v1h-3zM141 64h1v1h-1zM147 64h1v1h-1zM151 64h1v1h-1zM157 64h1v1h-1zM166 64h1v1h-1zM32 65h1v1h-1zM76 65h1v1h-1zM78 65h1v1h-1zM80 65h1v1h-1zM143 65h1v1h-1zM189 65h1v1h-1zM191 65h1v1h-1zM209 65h2v1h-2zM10 66h1v1h-1zM31 66h1v1h-1zM66 66h1v1h-1zM68 66h1v1h-1zM70 66h1v1h-1zM74 66h1v1h-1zM170 66h1v1h-1zM191 66h1v1h-1zM202 66h1v1h-1zM72 67h1v1h-1zM77 67h1v1h-1zM110 67h2v1h-2zM143 67h1v1h-1zM164 67h1v1h-1zM190 67h1v1h-1zM6 68h1v1h-1zM64 68h1v1h-1zM159 68h1v1h-1zM166 68h1v1h-1zM198 68h1v1h-1zM210 68h1v1h-1zM2 69h1v1h-1zM6 69h1v1h-1zM9 69h1v1h-1zM11 69h1v1h-1zM24 69h1v1h-1zM147 69h1v1h-1zM160 69h1v1h-1zM170 69h1v1h-1zM197 69h1v1h-1zM208 69h2v1h-2zM10 70h1v1h-1zM18 70h1v1h-1zM23 70h1v1h-1zM33 70h1v1h-1zM158 70h1v1h-1zM192 70h1v1h-1zM196 70h1v1h-1zM198 70h1v1h-1zM210 70h1v1h-1zM4 71h1v1h-1zM27 71h2v1h-2zM32 71h1v1h-1zM34 71h1v1h-1zM52 71h1v1h-1zM68 71h1v1h-1zM198 71h1v1h-1zM201 71h1v1h-1zM1 72h1v1h-1zM29 72h1v1h-1zM32 72h1v1h-1zM114 72h1v1h-1zM127 72h1v1h-1zM194 72h1v1h-1zM196 72h1v1h-1zM8 73h1v1h-1zM11 73h1v1h-1zM15 73h1v1h-1zM62 73h1v1h-1zM169 73h1v1h-1zM193 73h1v1h-1zM198 73h1v1h-1zM201 73h2v1h-2zM206 73h1v1h-1zM1 74h1v1h-1zM10 74h1v1h-1zM12 74h1v1h-1zM31 74h1v1h-1zM61 74h1v1h-1zM66 74h1v1h-1zM204 74h1v1h-1zM207 74h1v1h-1zM16 75h2v1h-2zM19 75h1v1h-1zM34 75h1v1h-1zM201 75h2v1h-2zM15 76h1v1h-1zM20 76h1v1h-1zM51 76h1v1h-1zM11 77h1v1h-1zM17 77h1v1h-1zM28 77h1v1h-1zM31 77h1v1h-1zM33 77h2v1h-2zM4 78h1v1h-1zM17 78h1v1h-1zM27 78h1v1h-1zM20 79h1v1h-1zM33 79h1v1h-1zM35 80h1v1h-1zM53 80h1v1h-1zM48 81h1v1h-1zM60 81h1v1h-1zM93 81h1v1h-1zM95 81h1v1h-1zM157 81h1v1h-1zM159 81h1v1h-1zM177 81h1v1h-1zM48 82h1v1h-1zM60 82h1v1h-1zM93 82h1v1h-1zM95 82h1v1h-1zM157 82h1v1h-1zM159 82h1v1h-1zM177 82h1v1h-1z"/><path fill="#20928c" d="M81 0h1v1h-1zM105 0h1v1h-1zM113 0h1v1h-1zM150 0h1v1h-1zM157 0h1v1h-1zM81 1h1v1h-1zM105 1h1v1h-1zM113 1h1v1h-1zM150 1h1v1h-1zM157 1h1v1h-1zM31 2h1v1h-1zM74 2h1v1h-1zM81 2h1v1h-1zM93 2h1v1h-1zM105 2h1v1h-1zM112 2h1v1h-1zM133 2h1v1h-1zM181 2h1v1h-1zM186 2h1v1h-1zM32 3h1v1h-1zM62 3h1v1h-1zM129 3h1v1h-1zM143 3h1v1h-1zM173 3h1v1h-1zM183 3h1v1h-1zM187 3h1v1h-1zM105 4h2v1h-2zM110 4h1v1h-1zM147 4h1v1h-1zM175 4h1v1h-1zM61 5h1v1h-1zM75 5h1v1h-1zM105 5h1v1h-1zM107 5h1v1h-1zM31 6h1v1h-1zM108 6h1v1h-1zM142 6h1v1h-1zM78 7h1v1h-1zM81 7h1v1h-1zM135 7h1v1h-1zM174 7h1v1h-1zM54 8h1v1h-1zM66 8h1v1h-1zM73 8h1v1h-1zM103 8h1v1h-1zM105 8h1v1h-1zM112 8h1v1h-1zM131 8h1v1h-1zM175 8h1v1h-1zM191 8h2v1h-2zM51 9h1v1h-1zM105 9h2v1h-2zM108 9h1v1h-1zM119 9h1v1h-1zM143 9h1v1h-1zM158 9h1v1h-1zM66 10h1v1h-1zM99 10h1v1h-1zM106 10h1v1h-1zM160 10h1v1h-1zM188 10h2v1h-2zM32 11h1v1h-1zM57 11h1v1h-1zM66 11h1v1h-1zM77 11h1v1h-1zM106 11h1v1h-1zM63 12h1v1h-1zM110 12h1v1h-1zM112 12h1v1h-1zM143 12h1v1h-1zM186 12h1v1h-1zM72 13h1v1h-1zM76 13h1v1h-1zM95 13h1v1h-1zM105 13h2v1h-2zM135 13h1v1h-1zM188 13h2v1h-2zM32 14h1v1h-1zM77 14h1v1h-1zM112 14h2v1h-2zM118 14h2v1h-2zM132 14h1v1h-1zM190 14h1v1h-1zM32 15h1v1h-1zM83 15h1v1h-1zM107 15h1v1h-1zM111 15h1v1h-1zM45 16h1v1h-1zM79 16h2v1h-2zM107 16h1v1h-1zM143 16h1v1h-1zM147 16h1v1h-1zM51 17h1v1h-1zM74 17h1v1h-1zM76 17h1v1h-1zM78 17h1v1h-1zM80 17h1v1h-1zM110 17h1v1h-1zM117 17h1v1h-1zM173 17h1v1h-1zM32 18h1v1h-1zM161 18h1v1h-1zM174 18h1v1h-1zM72 19h1v1h-1zM74 19h1v1h-1zM110 19h1v1h-1zM76 20h1v1h-1zM80 20h1v1h-1zM142 20h1v1h-1zM173 20h1v1h-1zM126 21h1v1h-1zM74 22h1v1h-1zM111 22h1v1h-1zM140 22h1v1h-1zM183 22h1v1h-1zM64 23h1v1h-1zM77 23h1v1h-1zM141 23h1v1h-1zM160 23h1v1h-1zM166 23h1v1h-1zM186 23h1v1h-1zM190 23h1v1h-1zM101 24h1v1h-1zM113 24h1v1h-1zM139 24h1v1h-1zM152 24h1v1h-1zM189 24h1v1h-1zM31 25h1v1h-1zM61 25h1v1h-1zM79 25h2v1h-2zM108 25h1v1h-1zM158 25h1v1h-1zM54 26h1v1h-1zM73 26h1v1h-1zM174 26h1v1h-1zM192 26h1v1h-1zM31 27h1v1h-1zM109 27h1v1h-1zM157 27h1v1h-1zM161 27h1v1h-1zM36 28h1v1h-1zM61 28h1v1h-1zM107 28h2v1h-2zM181 28h1v1h-1zM185 28h1v1h-1zM187 28h1v1h-1zM62 29h1v1h-1zM72 29h1v1h-1zM105 29h1v1h-1zM138 29h2v1h-2zM148 29h1v1h-1zM177 29h1v1h-1zM189 29h1v1h-1zM107 30h1v1h-1zM110 30h2v1h-2zM190 30h1v1h-1zM31 31h1v1h-1zM61 31h1v1h-1zM74 31h1v1h-1zM97 31h1v1h-1zM108 31h1v1h-1zM145 31h1v1h-1zM31 32h1v1h-1zM110 32h1v1h-1zM117 32h1v1h-1zM149 32h1v1h-1zM158 32h1v1h-1zM49 33h1v1h-1zM75 33h1v1h-1zM96 33h1v1h-1zM109 33h1v1h-1zM111 33h1v1h-1zM117 33h1v1h-1zM142 33h1v1h-1zM173 33h1v1h-1zM177 33h1v1h-1zM181 33h1v1h-1zM76 34h1v1h-1zM96 34h1v1h-1zM129 34h1v1h-1zM157 34h1v1h-1zM161 34h1v1h-1zM175 34h1v1h-1zM185 34h1v1h-1zM64 35h1v1h-1zM72 35h1v1h-1zM96 35h1v1h-1zM109 35h1v1h-1zM142 35h1v1h-1zM183 35h1v1h-1zM189 35h1v1h-1zM193 35h1v1h-1zM85 36h1v1h-1zM105 36h1v1h-1zM110 36h1v1h-1zM113 36h1v1h-1zM140 36h1v1h-1zM188 36h1v1h-1zM51 37h1v1h-1zM56 37h1v1h-1zM80 37h1v1h-1zM94 37h1v1h-1zM102 37h1v1h-1zM106 37h1v1h-1zM145 37h1v1h-1zM31 38h1v1h-1zM77 38h1v1h-1zM93 38h1v1h-1zM112 38h1v1h-1zM158 38h1v1h-1zM160 38h1v1h-1zM184 38h1v1h-1zM186 38h1v1h-1zM188 38h2v1h-2zM193 38h1v1h-1zM58 39h1v1h-1zM62 39h1v1h-1zM106 39h1v1h-1zM111 39h1v1h-1zM78 40h1v1h-1zM109 40h1v1h-1zM113 40h1v1h-1zM125 40h1v1h-1zM151 40h1v1h-1zM187 40h1v1h-1zM66 41h1v1h-1zM73 41h1v1h-1zM112 41h1v1h-1zM165 41h1v1h-1zM168 41h1v1h-1zM170 41h1v1h-1zM173 41h1v1h-1zM176 41h2v1h-2zM190 41h1v1h-1zM32 42h1v1h-1zM62 42h2v1h-2zM84 42h1v1h-1zM117 42h1v1h-1zM143 42h1v1h-1zM147 42h1v1h-1zM171 42h1v1h-1zM188 42h1v1h-1zM61 43h4v1h-4zM107 43h1v1h-1zM111 43h1v1h-1zM161 43h1v1h-1zM166 43h1v1h-1zM184 43h2v1h-2zM31 44h1v1h-1zM51 44h1v1h-1zM61 44h2v1h-2zM70 44h1v1h-1zM106 44h2v1h-2zM127 44h1v1h-1zM166 44h1v1h-1zM182 44h1v1h-1zM191 44h1v1h-1zM31 45h1v1h-1zM118 45h1v1h-1zM127 45h1v1h-1zM148 45h2v1h-2zM174 45h1v1h-1zM177 45h1v1h-1zM183 45h1v1h-1zM191 45h1v1h-1zM69 46h1v1h-1zM75 46h1v1h-1zM97 46h1v1h-1zM105 46h1v1h-1zM109 46h2v1h-2zM143 46h1v1h-1zM168 46h1v1h-1zM51 47h1v1h-1zM62 47h1v1h-1zM68 47h1v1h-1zM71 47h1v1h-1zM87 47h1v1h-1zM189 47h1v1h-1zM191 47h1v1h-1zM31 48h1v1h-1zM36 48h1v1h-1zM62 48h1v1h-1zM65 48h1v1h-1zM77 48h1v1h-1zM157 48h1v1h-1zM65 49h1v1h-1zM93 49h1v1h-1zM111 49h2v1h-2zM148 49h1v1h-1zM160 49h1v1h-1zM175 49h1v1h-1zM184 49h1v1h-1zM63 50h1v1h-1zM65 50h1v1h-1zM76 50h1v1h-1zM106 50h1v1h-1zM151 50h1v1h-1zM161 50h1v1h-1zM170 50h1v1h-1zM193 50h1v1h-1zM32 51h1v1h-1zM70 51h1v1h-1zM112 51h1v1h-1zM119 51h1v1h-1zM157 51h1v1h-1zM169 51h1v1h-1zM62 52h1v1h-1zM66 52h1v1h-1zM71 52h1v1h-1zM107 52h1v1h-1zM129 52h1v1h-1zM165 52h1v1h-1zM170 52h1v1h-1zM180 52h1v1h-1zM185 52h1v1h-1zM36 53h1v1h-1zM52 53h1v1h-1zM69 53h1v1h-1zM113 53h1v1h-1zM145 53h1v1h-1zM157 53h1v1h-1zM181 53h1v1h-1zM126 54h1v1h-1zM182 54h1v1h-1zM65 55h1v1h-1zM70 55h1v1h-1zM118 55h1v1h-1zM141 55h1v1h-1zM93 56h1v1h-1zM102 56h1v1h-1zM109 56h1v1h-1zM149 56h1v1h-1zM154 56h1v1h-1zM157 56h1v1h-1zM59 57h1v1h-1zM62 57h1v1h-1zM65 57h1v1h-1zM126 57h1v1h-1zM147 57h1v1h-1zM158 57h1v1h-1zM184 57h1v1h-1zM63 58h1v1h-1zM65 58h1v1h-1zM67 58h1v1h-1zM118 58h1v1h-1zM152 58h1v1h-1zM163 58h4v1h-4zM169 58h1v1h-1zM185 58h1v1h-1zM191 58h1v1h-1zM208 58h1v1h-1zM32 59h1v1h-1zM37 59h1v1h-1zM53 59h1v1h-1zM93 59h1v1h-1zM103 59h1v1h-1zM117 59h1v1h-1zM153 59h1v1h-1zM185 59h1v1h-1zM187 59h1v1h-1zM207 59h1v1h-1zM67 60h1v1h-1zM123 60h1v1h-1zM140 60h1v1h-1zM153 60h1v1h-1zM194 60h1v1h-1zM31 61h1v1h-1zM69 61h1v1h-1zM82 61h1v1h-1zM140 61h1v1h-1zM166 61h1v1h-1zM169 61h1v1h-1zM171 61h1v1h-1zM210 61h1v1h-1zM77 62h1v1h-1zM80 62h1v1h-1zM107 62h1v1h-1zM158 62h1v1h-1zM166 62h1v1h-1zM171 62h1v1h-1zM190 62h1v1h-1zM192 62h1v1h-1zM70 63h1v1h-1zM105 63h2v1h-2zM120 63h1v1h-1zM14 64h1v1h-1zM66 64h1v1h-1zM69 64h1v1h-1zM83 64h1v1h-1zM103 64h1v1h-1zM112 64h1v1h-1zM154 64h1v1h-1zM38 65h1v1h-1zM79 65h1v1h-1zM140 65h1v1h-1zM163 65h1v1h-1zM69 66h1v1h-1zM110 66h1v1h-1zM113 66h1v1h-1zM120 66h1v1h-1zM126 66h2v1h-2zM168 66h1v1h-1zM190 66h1v1h-1zM201 66h1v1h-1zM32 67h1v1h-1zM63 67h1v1h-1zM73 67h1v1h-1zM79 67h1v1h-1zM82 67h1v1h-1zM118 67h1v1h-1zM140 67h1v1h-1zM147 67h1v1h-1zM159 67h1v1h-1zM208 67h1v1h-1zM62 68h1v1h-1zM146 68h1v1h-1zM148 68h1v1h-1zM165 68h1v1h-1zM168 68h1v1h-1zM194 68h1v1h-1zM65 69h1v1h-1zM110 69h2v1h-2zM124 69h1v1h-1zM157 69h1v1h-1zM192 69h1v1h-1zM203 69h2v1h-2zM210 69h1v1h-1zM0 70h1v1h-1zM6 70h1v1h-1zM14 70h1v1h-1zM34 70h1v1h-1zM166 70h2v1h-2zM170 70h2v1h-2zM194 70h1v1h-1zM202 70h1v1h-1zM208 70h2v1h-2zM2 71h1v1h-1zM8 71h1v1h-1zM11 71h1v1h-1zM63 71h1v1h-1zM128 71h1v1h-1zM158 71h1v1h-1zM193 71h1v1h-1zM195 71h1v1h-1zM203 71h1v1h-1zM207 71h1v1h-1zM210 71h1v1h-1zM35 72h1v1h-1zM167 72h1v1h-1zM171 72h1v1h-1zM192 72h1v1h-1zM195 72h1v1h-1zM199 72h1v1h-1zM201 72h1v1h-1zM206 72h1v1h-1zM9 73h1v1h-1zM31 73h1v1h-1zM33 73h1v1h-1zM53 73h1v1h-1zM63 73h1v1h-1zM159 73h1v1h-1zM192 73h1v1h-1zM195 73h1v1h-1zM199 73h1v1h-1zM203 73h1v1h-1zM207 73h1v1h-1zM209 73h2v1h-2zM5 74h1v1h-1zM20 74h1v1h-1zM65 74h1v1h-1zM126 74h1v1h-1zM192 74h1v1h-1zM197 74h2v1h-2zM202 74h1v1h-1zM24 75h1v1h-1zM32 75h1v1h-1zM53 75h1v1h-1zM66 75h1v1h-1zM194 75h1v1h-1zM203 75h1v1h-1zM6 76h1v1h-1zM13 76h1v1h-1zM36 76h1v1h-1zM53 76h1v1h-1zM158 76h1v1h-1zM186 76h1v1h-1zM194 76h1v1h-1zM201 76h1v1h-1zM12 77h1v1h-1zM21 77h1v1h-1zM3 78h1v1h-1zM11 78h2v1h-2zM18 78h1v1h-1zM23 78h3v1h-3zM204 78h2v1h-2zM8 79h1v1h-1zM16 79h1v1h-1zM18 79h1v1h-1zM25 79h2v1h-2zM30 79h1v1h-1zM34 79h1v1h-1zM51 79h1v1h-1zM54 79h1v1h-1zM65 79h1v1h-1zM51 80h1v1h-1zM54 80h1v1h-1zM62 80h1v1h-1zM32 81h2v1h-2zM35 81h1v1h-1zM56 81h1v1h-1zM66 81h1v1h-1zM73 81h1v1h-1zM82 81h1v1h-1zM90 81h2v1h-2zM127 81h1v1h-1zM136 81h1v1h-1zM143 81h1v1h-1zM148 81h1v1h-1zM150 81h1v1h-1zM160 81h1v1h-1zM32 82h2v1h-2zM35 82h1v1h-1zM56 82h1v1h-1zM66 82h1v1h-1zM73 82h1v1h-1zM82 82h1v1h-1zM90 82h2v1h-2zM127 82h1v1h-1zM136 82h1v1h-1zM143 82h1v1h-1zM148 82h1v1h-1zM150 82h1v1h-1zM160 82h1v1h-1z"/><path fill="#1f968b" d="M73 0h1v1h-1zM75 0h1v1h-1zM77 0h1v1h-1zM92 0h1v1h-1zM100 0h1v1h-1zM106 0h2v1h-2zM109 0h1v1h-1zM129 0h1v1h-1zM158 0h1v1h-1zM180 0h1v1h-1zM185 0h1v1h-1zM187 0h1v1h-1zM189 0h1v1h-1zM73 1h1v1h-1zM75 1h1v1h-1zM77 1h1v1h-1zM92 1h1v1h-1zM100 1h1v1h-1zM106 1h2v1h-2zM109 1h1v1h-1zM129 1h1v1h-1zM158 1h1v1h-1zM180 1h1v1h-1zM185 1h1v1h-1zM187 1h1v1h-1zM189 1h1v1h-1zM62 2h1v1h-1zM77 2h1v1h-1zM106 2h2v1h-2zM109 2h1v1h-1zM117 2h1v1h-1zM125 2h1v1h-1zM183 2h1v1h-1zM193 2h1v1h-1zM55 3h1v1h-1zM72 3h1v1h-1zM77 3h1v1h-1zM111 3h1v1h-1zM117 3h1v1h-1zM127 3h1v1h-1zM185 3h2v1h-2zM193 3h1v1h-1zM77 4h1v1h-1zM81 4h1v1h-1zM107 4h1v1h-1zM112 4h1v1h-1zM135 4h1v1h-1zM148 4h1v1h-1zM72 5h1v1h-1zM74 5h1v1h-1zM78 5h1v1h-1zM141 5h1v1h-1zM146 5h1v1h-1zM184 5h1v1h-1zM83 6h1v1h-1zM183 6h1v1h-1zM191 7h1v1h-1zM146 8h1v1h-1zM186 8h1v1h-1zM117 9h1v1h-1zM191 9h2v1h-2zM44 10h1v1h-1zM52 10h1v1h-1zM81 10h1v1h-1zM105 10h1v1h-1zM108 10h2v1h-2zM126 10h3v1h-3zM134 10h1v1h-1zM149 10h1v1h-1zM165 10h1v1h-1zM74 11h1v1h-1zM81 11h1v1h-1zM108 11h1v1h-1zM119 11h1v1h-1zM148 11h1v1h-1zM32 12h1v1h-1zM74 12h1v1h-1zM83 12h1v1h-1zM127 12h1v1h-1zM165 12h1v1h-1zM82 13h1v1h-1zM84 13h1v1h-1zM86 13h1v1h-1zM96 13h1v1h-1zM158 13h1v1h-1zM173 13h1v1h-1zM99 14h1v1h-1zM164 14h1v1h-1zM76 15h1v1h-1zM93 15h1v1h-1zM96 15h1v1h-1zM109 15h2v1h-2zM117 15h2v1h-2zM186 15h1v1h-1zM61 16h1v1h-1zM119 16h1v1h-1zM150 16h1v1h-1zM191 16h1v1h-1zM61 17h1v1h-1zM73 17h1v1h-1zM77 17h1v1h-1zM155 17h1v1h-1zM165 17h1v1h-1zM191 17h1v1h-1zM75 18h1v1h-1zM94 18h1v1h-1zM96 18h1v1h-1zM110 18h2v1h-2zM117 18h1v1h-1zM129 18h1v1h-1zM159 18h1v1h-1zM32 19h1v1h-1zM76 19h1v1h-1zM78 19h1v1h-1zM146 19h1v1h-1zM162 19h1v1h-1zM177 19h1v1h-1zM188 19h1v1h-1zM52 20h1v1h-1zM55 20h1v1h-1zM107 20h1v1h-1zM111 20h1v1h-1zM119 20h1v1h-1zM166 20h1v1h-1zM74 21h1v1h-1zM78 21h1v1h-1zM105 21h1v1h-1zM140 21h1v1h-1zM176 21h1v1h-1zM184 21h1v1h-1zM54 22h1v1h-1zM73 22h1v1h-1zM107 22h1v1h-1zM113 22h1v1h-1zM128 22h1v1h-1zM185 22h1v1h-1zM31 23h1v1h-1zM76 23h1v1h-1zM79 23h1v1h-1zM130 23h1v1h-1zM52 24h1v1h-1zM62 24h1v1h-1zM73 24h1v1h-1zM76 24h1v1h-1zM176 24h1v1h-1zM190 24h1v1h-1zM32 25h1v1h-1zM48 25h1v1h-1zM107 25h1v1h-1zM117 25h1v1h-1zM143 25h1v1h-1zM31 26h1v1h-1zM66 26h1v1h-1zM107 26h1v1h-1zM109 26h1v1h-1zM123 26h1v1h-1zM163 26h1v1h-1zM141 27h1v1h-1zM151 27h1v1h-1zM185 27h1v1h-1zM32 28h1v1h-1zM54 28h1v1h-1zM73 28h1v1h-1zM105 28h1v1h-1zM109 28h1v1h-1zM151 28h1v1h-1zM176 28h1v1h-1zM183 28h2v1h-2zM80 29h1v1h-1zM111 29h1v1h-1zM194 29h1v1h-1zM52 30h1v1h-1zM54 30h1v1h-1zM62 30h1v1h-1zM74 30h1v1h-1zM79 30h1v1h-1zM127 30h1v1h-1zM147 30h1v1h-1zM158 30h1v1h-1zM185 30h1v1h-1zM191 30h1v1h-1zM71 31h1v1h-1zM75 31h1v1h-1zM79 31h1v1h-1zM85 31h1v1h-1zM99 31h1v1h-1zM111 31h1v1h-1zM191 31h1v1h-1zM73 32h1v1h-1zM80 32h1v1h-1zM106 32h1v1h-1zM108 32h1v1h-1zM164 32h1v1h-1zM184 32h1v1h-1zM97 33h1v1h-1zM190 33h1v1h-1zM38 34h1v1h-1zM50 34h1v1h-1zM68 34h1v1h-1zM75 34h1v1h-1zM85 34h1v1h-1zM180 34h1v1h-1zM112 35h1v1h-1zM75 36h1v1h-1zM180 36h1v1h-1zM182 36h1v1h-1zM79 37h1v1h-1zM105 37h1v1h-1zM111 37h1v1h-1zM119 37h1v1h-1zM138 37h1v1h-1zM146 37h1v1h-1zM160 37h1v1h-1zM32 38h1v1h-1zM66 38h1v1h-1zM103 38h4v1h-4zM109 38h1v1h-1zM113 38h1v1h-1zM117 38h1v1h-1zM148 38h1v1h-1zM32 39h1v1h-1zM63 39h1v1h-1zM80 39h1v1h-1zM107 39h1v1h-1zM112 39h2v1h-2zM150 39h2v1h-2zM176 39h1v1h-1zM188 39h1v1h-1zM194 39h1v1h-1zM54 40h1v1h-1zM76 40h1v1h-1zM96 40h1v1h-1zM118 40h1v1h-1zM141 40h1v1h-1zM152 40h1v1h-1zM180 40h1v1h-1zM32 41h1v1h-1zM70 41h1v1h-1zM98 41h1v1h-1zM166 41h1v1h-1zM180 41h1v1h-1zM31 42h1v1h-1zM66 42h1v1h-1zM95 42h1v1h-1zM102 42h2v1h-2zM106 42h1v1h-1zM123 42h2v1h-2zM173 42h1v1h-1zM31 43h1v1h-1zM43 43h1v1h-1zM52 43h1v1h-1zM103 43h1v1h-1zM113 43h1v1h-1zM119 43h1v1h-1zM168 43h1v1h-1zM174 43h1v1h-1zM177 43h1v1h-1zM98 44h1v1h-1zM140 44h1v1h-1zM154 44h1v1h-1zM70 45h2v1h-2zM77 45h1v1h-1zM105 45h1v1h-1zM111 45h1v1h-1zM119 45h1v1h-1zM169 45h1v1h-1zM171 45h2v1h-2zM175 45h2v1h-2zM52 46h1v1h-1zM65 46h2v1h-2zM74 46h1v1h-1zM117 46h1v1h-1zM142 46h1v1h-1zM145 46h1v1h-1zM182 46h1v1h-1zM184 46h1v1h-1zM189 46h1v1h-1zM193 46h1v1h-1zM77 47h1v1h-1zM118 47h1v1h-1zM123 47h1v1h-1zM158 47h1v1h-1zM173 47h2v1h-2zM183 47h1v1h-1zM84 48h1v1h-1zM113 48h1v1h-1zM128 48h1v1h-1zM32 49h1v1h-1zM64 49h1v1h-1zM106 49h1v1h-1zM109 49h1v1h-1zM113 49h1v1h-1zM118 49h1v1h-1zM123 49h1v1h-1zM143 49h1v1h-1zM177 49h1v1h-1zM181 49h1v1h-1zM185 49h1v1h-1zM191 49h1v1h-1zM31 50h2v1h-2zM64 50h1v1h-1zM87 50h1v1h-1zM96 50h1v1h-1zM143 50h1v1h-1zM166 50h1v1h-1zM171 50h1v1h-1zM182 50h1v1h-1zM192 50h1v1h-1zM31 51h1v1h-1zM66 51h1v1h-1zM73 51h1v1h-1zM117 51h1v1h-1zM141 51h1v1h-1zM154 51h1v1h-1zM167 51h1v1h-1zM172 51h1v1h-1zM191 51h1v1h-1zM63 52h1v1h-1zM80 52h1v1h-1zM126 52h2v1h-2zM146 52h1v1h-1zM167 52h1v1h-1zM190 52h1v1h-1zM31 53h1v1h-1zM63 53h1v1h-1zM66 53h1v1h-1zM77 53h1v1h-1zM84 53h1v1h-1zM93 53h1v1h-1zM103 53h1v1h-1zM109 53h1v1h-1zM124 53h1v1h-1zM161 53h1v1h-1zM170 53h1v1h-1zM52 54h1v1h-1zM55 54h1v1h-1zM59 54h1v1h-1zM76 54h1v1h-1zM105 54h1v1h-1zM111 54h1v1h-1zM167 54h1v1h-1zM170 54h1v1h-1zM183 54h2v1h-2zM189 54h1v1h-1zM191 54h1v1h-1zM98 55h1v1h-1zM107 55h1v1h-1zM166 55h1v1h-1zM172 55h1v1h-1zM68 56h1v1h-1zM75 56h1v1h-1zM104 56h1v1h-1zM112 56h1v1h-1zM146 56h1v1h-1zM168 56h1v1h-1zM189 56h1v1h-1zM66 57h1v1h-1zM112 57h2v1h-2zM140 57h1v1h-1zM171 57h1v1h-1zM191 57h1v1h-1zM36 58h1v1h-1zM86 58h1v1h-1zM119 58h1v1h-1zM123 58h1v1h-1zM143 58h1v1h-1zM31 59h1v1h-1zM51 59h1v1h-1zM54 59h1v1h-1zM68 59h1v1h-1zM104 59h1v1h-1zM110 59h1v1h-1zM119 59h1v1h-1zM164 59h1v1h-1zM168 59h1v1h-1zM193 59h1v1h-1zM54 60h1v1h-1zM65 60h1v1h-1zM79 60h1v1h-1zM124 60h3v1h-3zM129 60h1v1h-1zM150 60h1v1h-1zM152 60h1v1h-1zM170 60h1v1h-1zM183 60h1v1h-1zM36 61h1v1h-1zM66 61h1v1h-1zM68 61h1v1h-1zM103 61h1v1h-1zM112 61h1v1h-1zM118 61h1v1h-1zM146 61h1v1h-1zM162 61h2v1h-2zM185 61h1v1h-1zM194 61h1v1h-1zM71 62h1v1h-1zM78 62h1v1h-1zM103 62h1v1h-1zM105 62h1v1h-1zM109 62h2v1h-2zM112 62h2v1h-2zM140 62h1v1h-1zM157 62h1v1h-1zM169 62h1v1h-1zM194 62h1v1h-1zM51 63h1v1h-1zM63 63h1v1h-1zM79 63h1v1h-1zM122 63h1v1h-1zM171 63h1v1h-1zM201 63h1v1h-1zM209 63h1v1h-1zM62 64h1v1h-1zM64 64h1v1h-1zM120 64h2v1h-2zM123 64h1v1h-1zM168 64h1v1h-1zM209 64h1v1h-1zM65 65h1v1h-1zM146 65h1v1h-1zM158 65h1v1h-1zM165 65h1v1h-1zM168 65h1v1h-1zM54 66h1v1h-1zM72 66h1v1h-1zM109 66h1v1h-1zM112 66h1v1h-1zM119 66h1v1h-1zM141 66h1v1h-1zM189 66h1v1h-1zM208 66h1v1h-1zM64 67h2v1h-2zM75 67h1v1h-1zM108 67h2v1h-2zM119 67h1v1h-1zM203 67h1v1h-1zM31 68h1v1h-1zM65 68h2v1h-2zM141 68h1v1h-1zM149 68h1v1h-1zM66 69h1v1h-1zM119 69h1v1h-1zM122 69h1v1h-1zM127 69h1v1h-1zM146 69h1v1h-1zM159 69h1v1h-1zM167 69h1v1h-1zM171 69h1v1h-1zM206 69h1v1h-1zM31 70h1v1h-1zM64 70h1v1h-1zM66 70h1v1h-1zM71 70h1v1h-1zM74 70h1v1h-1zM159 70h1v1h-1zM199 70h1v1h-1zM204 70h2v1h-2zM16 71h1v1h-1zM20 71h1v1h-1zM31 71h1v1h-1zM64 71h1v1h-1zM66 71h1v1h-1zM97 71h1v1h-1zM140 71h1v1h-1zM146 71h1v1h-1zM149 71h1v1h-1zM157 71h1v1h-1zM169 71h1v1h-1zM205 71h1v1h-1zM54 72h1v1h-1zM72 72h2v1h-2zM93 72h1v1h-1zM128 72h1v1h-1zM168 72h1v1h-1zM203 72h1v1h-1zM209 72h2v1h-2zM158 73h1v1h-1zM167 73h1v1h-1zM204 73h1v1h-1zM28 74h1v1h-1zM109 74h1v1h-1zM169 74h1v1h-1zM186 74h1v1h-1zM203 74h1v1h-1zM28 75h1v1h-1zM51 75h1v1h-1zM198 75h1v1h-1zM204 75h1v1h-1zM207 75h2v1h-2zM19 76h1v1h-1zM54 76h1v1h-1zM63 76h1v1h-1zM65 76h1v1h-1zM196 76h1v1h-1zM202 76h1v1h-1zM205 76h1v1h-1zM209 76h2v1h-2zM1 77h1v1h-1zM13 77h1v1h-1zM61 77h2v1h-2zM193 77h1v1h-1zM205 77h1v1h-1zM209 77h1v1h-1zM16 78h1v1h-1zM26 78h1v1h-1zM193 78h2v1h-2zM4 79h1v1h-1zM13 79h1v1h-1zM17 79h1v1h-1zM24 79h1v1h-1zM28 79h1v1h-1zM31 79h1v1h-1zM64 79h1v1h-1zM192 79h1v1h-1zM5 80h1v1h-1zM27 80h2v1h-2zM65 80h1v1h-1zM55 81h1v1h-1zM57 81h1v1h-1zM63 81h1v1h-1zM67 81h2v1h-2zM72 81h1v1h-1zM76 81h1v1h-1zM78 81h1v1h-1zM83 81h1v1h-1zM121 81h1v1h-1zM130 81h1v1h-1zM152 81h1v1h-1zM154 81h1v1h-1zM165 81h1v1h-1zM55 82h1v1h-1zM57 82h1v1h-1zM63 82h1v1h-1zM67 82h2v1h-2zM72 82h1v1h-1zM76 82h1v1h-1zM78 82h1v1h-1zM83 82h1v1h-1zM121 82h1v1h-1zM130 82h1v1h-1zM152 82h1v1h-1zM154 82h1v1h-1zM165 82h1v1h-1z"/><path fill="#1f9a8a" d="M110 0h1v1h-1zM130 0h1v1h-1zM154 0h1v1h-1zM168 0h1v1h-1zM183 0h1v1h-1zM194 0h1v1h-1zM110 1h1v1h-1zM130 1h1v1h-1zM154 1h1v1h-1zM168 1h1v1h-1zM183 1h1v1h-1zM194 1h1v1h-1zM43 2h1v1h-1zM76 2h1v1h-1zM127 2h1v1h-1zM138 2h1v1h-1zM147 2h1v1h-1zM54 3h1v1h-1zM74 3h2v1h-2zM78 3h1v1h-1zM106 3h1v1h-1zM110 3h1v1h-1zM135 3h1v1h-1zM181 3h1v1h-1zM73 4h1v1h-1zM111 4h1v1h-1zM180 4h1v1h-1zM187 4h1v1h-1zM194 4h1v1h-1zM111 5h1v1h-1zM113 5h1v1h-1zM137 5h1v1h-1zM162 5h1v1h-1zM187 5h1v1h-1zM54 6h1v1h-1zM92 6h1v1h-1zM110 6h1v1h-1zM131 6h1v1h-1zM106 7h1v1h-1zM108 7h2v1h-2zM134 7h1v1h-1zM186 7h1v1h-1zM193 7h2v1h-2zM78 8h1v1h-1zM106 8h1v1h-1zM111 8h1v1h-1zM129 8h2v1h-2zM138 8h1v1h-1zM53 9h1v1h-1zM75 9h1v1h-1zM104 9h1v1h-1zM109 9h1v1h-1zM130 9h1v1h-1zM149 9h1v1h-1zM194 9h1v1h-1zM73 10h1v1h-1zM82 10h1v1h-1zM164 10h1v1h-1zM44 11h1v1h-1zM110 11h1v1h-1zM126 11h1v1h-1zM136 11h2v1h-2zM151 11h2v1h-2zM160 11h1v1h-1zM52 12h1v1h-1zM73 12h1v1h-1zM82 12h1v1h-1zM175 12h1v1h-1zM188 12h1v1h-1zM52 13h1v1h-1zM81 13h1v1h-1zM107 13h1v1h-1zM166 13h1v1h-1zM184 13h1v1h-1zM73 14h1v1h-1zM81 14h1v1h-1zM83 14h1v1h-1zM95 14h1v1h-1zM101 14h1v1h-1zM110 14h1v1h-1zM74 15h1v1h-1zM105 15h1v1h-1zM113 15h1v1h-1zM155 15h1v1h-1zM76 16h1v1h-1zM128 16h1v1h-1zM153 16h1v1h-1zM172 16h1v1h-1zM194 16h1v1h-1zM86 17h1v1h-1zM100 17h1v1h-1zM162 17h1v1h-1zM183 17h2v1h-2zM194 17h1v1h-1zM78 18h1v1h-1zM97 18h1v1h-1zM99 18h1v1h-1zM107 18h1v1h-1zM165 18h1v1h-1zM188 18h1v1h-1zM48 19h1v1h-1zM99 19h1v1h-1zM106 19h1v1h-1zM109 19h1v1h-1zM139 19h1v1h-1zM151 19h1v1h-1zM165 19h1v1h-1zM184 19h2v1h-2zM68 20h1v1h-1zM77 20h1v1h-1zM79 20h1v1h-1zM109 20h1v1h-1zM138 20h1v1h-1zM150 20h1v1h-1zM186 20h1v1h-1zM188 20h1v1h-1zM32 21h1v1h-1zM72 21h1v1h-1zM79 21h1v1h-1zM107 21h1v1h-1zM110 21h2v1h-2zM136 21h1v1h-1zM185 21h1v1h-1zM188 21h1v1h-1zM53 22h1v1h-1zM76 22h2v1h-2zM99 22h1v1h-1zM109 22h1v1h-1zM126 22h1v1h-1zM194 22h1v1h-1zM32 23h1v1h-1zM50 23h1v1h-1zM80 23h1v1h-1zM106 23h1v1h-1zM146 23h1v1h-1zM164 23h1v1h-1zM184 23h1v1h-1zM97 24h1v1h-1zM112 24h1v1h-1zM137 24h1v1h-1zM145 24h1v1h-1zM183 24h1v1h-1zM56 25h1v1h-1zM74 25h1v1h-1zM181 25h1v1h-1zM184 25h1v1h-1zM63 26h1v1h-1zM105 26h1v1h-1zM108 26h1v1h-1zM111 26h1v1h-1zM113 26h1v1h-1zM138 26h1v1h-1zM146 26h1v1h-1zM164 26h1v1h-1zM180 26h1v1h-1zM187 26h1v1h-1zM53 27h1v1h-1zM74 27h1v1h-1zM76 27h1v1h-1zM96 27h1v1h-1zM98 27h1v1h-1zM108 27h1v1h-1zM180 27h1v1h-1zM74 28h2v1h-2zM78 28h1v1h-1zM82 28h1v1h-1zM100 28h1v1h-1zM127 28h1v1h-1zM166 28h1v1h-1zM182 28h1v1h-1zM73 29h1v1h-1zM78 29h1v1h-1zM94 29h1v1h-1zM106 29h2v1h-2zM109 29h1v1h-1zM112 29h1v1h-1zM158 29h2v1h-2zM184 29h1v1h-1zM48 30h1v1h-1zM80 30h1v1h-1zM83 30h1v1h-1zM109 30h1v1h-1zM119 30h1v1h-1zM180 30h1v1h-1zM194 30h1v1h-1zM42 31h1v1h-1zM47 31h1v1h-1zM78 31h1v1h-1zM94 31h1v1h-1zM112 31h1v1h-1zM147 31h1v1h-1zM175 31h1v1h-1zM113 32h1v1h-1zM176 32h1v1h-1zM53 33h1v1h-1zM74 33h1v1h-1zM78 33h1v1h-1zM149 33h1v1h-1zM184 33h1v1h-1zM78 34h1v1h-1zM100 34h1v1h-1zM110 34h1v1h-1zM113 34h1v1h-1zM139 34h1v1h-1zM182 34h1v1h-1zM194 34h1v1h-1zM51 35h2v1h-2zM73 35h1v1h-1zM77 35h1v1h-1zM79 35h1v1h-1zM102 35h2v1h-2zM127 35h1v1h-1zM140 35h1v1h-1zM187 35h1v1h-1zM78 36h1v1h-1zM106 36h2v1h-2zM151 36h1v1h-1zM100 37h1v1h-1zM108 37h1v1h-1zM110 37h1v1h-1zM126 37h1v1h-1zM133 37h1v1h-1zM162 37h1v1h-1zM79 38h1v1h-1zM126 38h1v1h-1zM128 38h1v1h-1zM138 38h1v1h-1zM181 38h1v1h-1zM183 38h1v1h-1zM194 38h1v1h-1zM59 39h1v1h-1zM68 39h1v1h-1zM82 39h1v1h-1zM94 39h1v1h-1zM136 39h1v1h-1zM184 39h1v1h-1zM94 40h1v1h-1zM97 40h1v1h-1zM108 40h1v1h-1zM110 40h1v1h-1zM120 40h1v1h-1zM126 40h2v1h-2zM145 40h1v1h-1zM186 40h1v1h-1zM64 41h1v1h-1zM96 41h1v1h-1zM107 41h1v1h-1zM113 41h1v1h-1zM136 41h1v1h-1zM149 41h1v1h-1zM157 41h1v1h-1zM181 41h1v1h-1zM184 41h1v1h-1zM194 41h1v1h-1zM52 42h1v1h-1zM58 42h1v1h-1zM68 42h1v1h-1zM94 42h1v1h-1zM127 42h1v1h-1zM142 42h1v1h-1zM168 42h1v1h-1zM170 42h1v1h-1zM175 42h1v1h-1zM177 42h1v1h-1zM180 42h1v1h-1zM191 42h1v1h-1zM67 43h3v1h-3zM73 43h1v1h-1zM77 43h1v1h-1zM84 43h1v1h-1zM102 43h1v1h-1zM104 43h1v1h-1zM108 43h1v1h-1zM112 43h1v1h-1zM129 43h1v1h-1zM143 43h1v1h-1zM158 43h1v1h-1zM165 43h1v1h-1zM69 44h1v1h-1zM94 44h1v1h-1zM125 44h1v1h-1zM155 44h1v1h-1zM162 44h1v1h-1zM165 44h1v1h-1zM172 44h1v1h-1zM175 44h1v1h-1zM180 44h1v1h-1zM183 44h1v1h-1zM62 45h1v1h-1zM66 45h1v1h-1zM73 45h1v1h-1zM96 45h1v1h-1zM104 45h1v1h-1zM108 45h2v1h-2zM117 45h1v1h-1zM158 45h1v1h-1zM166 45h3v1h-3zM180 45h1v1h-1zM32 46h1v1h-1zM36 46h1v1h-1zM82 46h1v1h-1zM108 46h1v1h-1zM111 46h1v1h-1zM118 46h1v1h-1zM128 46h1v1h-1zM194 46h1v1h-1zM67 47h1v1h-1zM107 47h1v1h-1zM120 47h1v1h-1zM142 47h1v1h-1zM177 47h2v1h-2zM181 47h1v1h-1zM110 48h1v1h-1zM133 48h1v1h-1zM54 49h1v1h-1zM66 49h1v1h-1zM121 49h1v1h-1zM144 49h1v1h-1zM155 49h1v1h-1zM158 49h1v1h-1zM167 49h1v1h-1zM170 49h1v1h-1zM182 49h1v1h-1zM194 49h1v1h-1zM52 50h1v1h-1zM62 50h1v1h-1zM66 50h1v1h-1zM70 50h2v1h-2zM95 50h1v1h-1zM101 50h1v1h-1zM142 50h1v1h-1zM157 50h1v1h-1zM60 51h1v1h-1zM74 51h2v1h-2zM101 51h1v1h-1zM113 51h1v1h-1zM118 51h1v1h-1zM140 51h1v1h-1zM161 51h1v1h-1zM182 51h1v1h-1zM69 52h1v1h-1zM75 52h2v1h-2zM82 52h1v1h-1zM101 52h1v1h-1zM122 52h1v1h-1zM166 52h1v1h-1zM175 52h2v1h-2zM32 53h1v1h-1zM71 53h1v1h-1zM99 53h1v1h-1zM112 53h1v1h-1zM119 53h1v1h-1zM141 53h1v1h-1zM152 53h1v1h-1zM155 53h1v1h-1zM182 53h1v1h-1zM32 54h1v1h-1zM53 54h1v1h-1zM69 54h1v1h-1zM71 54h1v1h-1zM94 54h1v1h-1zM128 54h1v1h-1zM157 54h2v1h-2zM179 54h1v1h-1zM190 54h1v1h-1zM78 55h1v1h-1zM80 55h1v1h-1zM119 55h1v1h-1zM128 55h1v1h-1zM158 55h1v1h-1zM164 55h1v1h-1zM170 55h1v1h-1zM45 56h1v1h-1zM65 56h1v1h-1zM69 56h1v1h-1zM71 56h1v1h-1zM94 56h1v1h-1zM120 56h1v1h-1zM164 56h1v1h-1zM170 56h2v1h-2zM194 56h1v1h-1zM63 57h1v1h-1zM75 57h1v1h-1zM82 57h1v1h-1zM128 57h1v1h-1zM148 57h1v1h-1zM150 57h1v1h-1zM189 57h1v1h-1zM83 58h1v1h-1zM100 58h1v1h-1zM103 58h1v1h-1zM122 58h1v1h-1zM57 59h1v1h-1zM64 59h3v1h-3zM71 59h1v1h-1zM83 59h1v1h-1zM118 59h1v1h-1zM142 59h1v1h-1zM146 59h1v1h-1zM158 59h1v1h-1zM162 59h1v1h-1zM167 59h1v1h-1zM190 59h1v1h-1zM194 59h1v1h-1zM210 59h1v1h-1zM81 60h1v1h-1zM100 60h1v1h-1zM105 60h1v1h-1zM127 60h1v1h-1zM147 60h1v1h-1zM167 60h1v1h-1zM191 60h1v1h-1zM53 61h1v1h-1zM56 61h1v1h-1zM87 61h1v1h-1zM102 61h1v1h-1zM126 61h1v1h-1zM141 61h1v1h-1zM147 61h1v1h-1zM149 61h1v1h-1zM155 61h1v1h-1zM178 61h1v1h-1zM31 62h1v1h-1zM53 62h2v1h-2zM58 62h1v1h-1zM63 62h1v1h-1zM65 62h1v1h-1zM69 62h1v1h-1zM74 62h1v1h-1zM81 62h1v1h-1zM104 62h1v1h-1zM143 62h1v1h-1zM156 62h1v1h-1zM36 63h1v1h-1zM62 63h1v1h-1zM119 63h1v1h-1zM124 63h1v1h-1zM162 63h1v1h-1zM189 63h1v1h-1zM210 63h1v1h-1zM65 64h1v1h-1zM68 64h1v1h-1zM72 64h1v1h-1zM101 64h1v1h-1zM117 64h1v1h-1zM144 64h1v1h-1zM146 64h1v1h-1zM158 64h1v1h-1zM164 64h2v1h-2zM63 65h2v1h-2zM70 65h1v1h-1zM75 65h1v1h-1zM107 65h1v1h-1zM126 65h1v1h-1zM147 65h2v1h-2zM166 65h1v1h-1zM172 65h1v1h-1zM188 65h1v1h-1zM64 66h2v1h-2zM124 66h1v1h-1zM140 66h1v1h-1zM157 66h1v1h-1zM31 67h1v1h-1zM66 67h1v1h-1zM127 67h1v1h-1zM169 67h1v1h-1zM171 67h2v1h-2zM36 68h1v1h-1zM67 68h1v1h-1zM70 68h1v1h-1zM122 68h1v1h-1zM124 68h1v1h-1zM140 68h1v1h-1zM163 68h1v1h-1zM25 69h1v1h-1zM62 69h1v1h-1zM72 69h3v1h-3zM102 69h2v1h-2zM118 69h1v1h-1zM142 69h1v1h-1zM161 69h1v1h-1zM201 69h2v1h-2zM62 70h2v1h-2zM65 70h1v1h-1zM67 70h1v1h-1zM144 70h1v1h-1zM165 71h1v1h-1zM171 71h1v1h-1zM192 71h1v1h-1zM196 71h2v1h-2zM199 71h1v1h-1zM206 71h1v1h-1zM52 72h1v1h-1zM61 72h1v1h-1zM106 72h1v1h-1zM125 72h1v1h-1zM169 72h1v1h-1zM202 72h1v1h-1zM36 73h1v1h-1zM69 73h1v1h-1zM161 73h1v1h-1zM166 73h1v1h-1zM189 73h1v1h-1zM196 73h1v1h-1zM86 74h1v1h-1zM97 74h1v1h-1zM157 74h1v1h-1zM159 74h2v1h-2zM194 74h1v1h-1zM205 74h1v1h-1zM208 74h1v1h-1zM31 75h1v1h-1zM54 75h1v1h-1zM64 75h1v1h-1zM84 75h1v1h-1zM86 75h1v1h-1zM115 75h1v1h-1zM160 75h1v1h-1zM195 75h1v1h-1zM200 75h1v1h-1zM210 75h1v1h-1zM24 76h1v1h-1zM64 76h1v1h-1zM167 76h1v1h-1zM195 76h1v1h-1zM203 76h1v1h-1zM9 77h1v1h-1zM32 77h1v1h-1zM66 77h1v1h-1zM168 77h1v1h-1zM194 77h1v1h-1zM198 77h1v1h-1zM202 77h1v1h-1zM207 77h1v1h-1zM6 78h1v1h-1zM10 78h1v1h-1zM31 78h2v1h-2zM203 78h1v1h-1zM210 78h1v1h-1zM10 79h1v1h-1zM35 79h1v1h-1zM62 79h1v1h-1zM15 80h1v1h-1zM52 80h1v1h-1zM62 81h1v1h-1zM65 81h1v1h-1zM74 81h1v1h-1zM79 81h2v1h-2zM92 81h1v1h-1zM103 81h1v1h-1zM120 81h1v1h-1zM133 81h1v1h-1zM138 81h1v1h-1zM149 81h1v1h-1zM155 81h1v1h-1zM179 81h2v1h-2zM184 81h1v1h-1zM186 81h1v1h-1zM192 81h1v1h-1zM62 82h1v1h-1zM65 82h1v1h-1zM74 82h1v1h-1zM79 82h2v1h-2zM92 82h1v1h-1zM103 82h1v1h-1zM120 82h1v1h-1zM133 82h1v1h-1zM138 82h1v1h-1zM149 82h1v1h-1zM155 82h1v1h-1zM179 82h2v1h-2zM184 82h1v1h-1zM186 82h1v1h-1zM192 82h1v1h-1z"/><path fill="#1f9e89" d="M56 0h1v1h-1zM133 0h1v1h-1zM148 0h1v1h-1zM182 0h1v1h-1zM186 0h1v1h-1zM56 1h1v1h-1zM133 1h1v1h-1zM148 1h1v1h-1zM182 1h1v1h-1zM186 1h1v1h-1zM110 2h1v1h-1zM121 2h1v1h-1zM137 2h1v1h-1zM155 2h1v1h-1zM187 2h1v1h-1zM48 3h1v1h-1zM53 3h1v1h-1zM81 3h1v1h-1zM88 3h1v1h-1zM109 3h1v1h-1zM128 3h1v1h-1zM130 3h1v1h-1zM180 3h1v1h-1zM53 4h1v1h-1zM57 4h1v1h-1zM75 4h1v1h-1zM82 4h2v1h-2zM93 4h1v1h-1zM129 4h1v1h-1zM146 4h1v1h-1zM181 4h1v1h-1zM37 5h1v1h-1zM53 5h1v1h-1zM57 5h1v1h-1zM94 5h1v1h-1zM110 5h1v1h-1zM132 5h1v1h-1zM136 5h1v1h-1zM180 5h1v1h-1zM55 6h1v1h-1zM104 6h1v1h-1zM113 6h1v1h-1zM135 6h1v1h-1zM187 6h1v1h-1zM194 6h1v1h-1zM67 7h1v1h-1zM74 7h1v1h-1zM88 7h1v1h-1zM93 7h1v1h-1zM110 7h1v1h-1zM166 7h1v1h-1zM183 7h1v1h-1zM52 8h1v1h-1zM67 8h1v1h-1zM128 8h1v1h-1zM136 8h1v1h-1zM151 8h1v1h-1zM183 8h1v1h-1zM185 8h1v1h-1zM89 9h1v1h-1zM129 9h1v1h-1zM135 9h2v1h-2zM188 9h1v1h-1zM42 10h1v1h-1zM107 10h1v1h-1zM187 10h1v1h-1zM53 11h1v1h-1zM73 11h1v1h-1zM90 11h1v1h-1zM92 11h1v1h-1zM128 11h1v1h-1zM131 11h1v1h-1zM97 12h1v1h-1zM135 12h2v1h-2zM152 12h1v1h-1zM187 12h1v1h-1zM73 13h2v1h-2zM100 13h1v1h-1zM139 13h1v1h-1zM186 13h2v1h-2zM52 14h1v1h-1zM84 14h1v1h-1zM94 14h1v1h-1zM108 14h1v1h-1zM137 14h1v1h-1zM187 14h1v1h-1zM194 14h1v1h-1zM52 15h1v1h-1zM78 15h1v1h-1zM82 15h1v1h-1zM99 15h1v1h-1zM106 15h1v1h-1zM152 15h1v1h-1zM51 16h1v1h-1zM54 16h1v1h-1zM72 16h2v1h-2zM77 16h1v1h-1zM110 16h2v1h-2zM113 16h1v1h-1zM124 16h1v1h-1zM132 16h1v1h-1zM166 16h1v1h-1zM168 16h1v1h-1zM183 16h1v1h-1zM186 16h1v1h-1zM99 17h1v1h-1zM101 17h1v1h-1zM108 17h1v1h-1zM130 17h1v1h-1zM149 17h1v1h-1zM153 17h1v1h-1zM186 17h1v1h-1zM74 18h1v1h-1zM105 18h1v1h-1zM126 18h1v1h-1zM194 18h1v1h-1zM52 19h1v1h-1zM71 19h1v1h-1zM113 19h1v1h-1zM138 19h1v1h-1zM153 19h1v1h-1zM51 20h1v1h-1zM73 20h1v1h-1zM108 20h1v1h-1zM151 20h1v1h-1zM184 20h2v1h-2zM187 20h1v1h-1zM73 21h1v1h-1zM75 21h1v1h-1zM77 21h1v1h-1zM106 21h1v1h-1zM180 21h1v1h-1zM56 22h1v1h-1zM72 22h1v1h-1zM96 22h1v1h-1zM123 22h1v1h-1zM38 23h1v1h-1zM41 23h1v1h-1zM72 23h2v1h-2zM78 23h1v1h-1zM88 23h1v1h-1zM96 23h1v1h-1zM101 23h1v1h-1zM108 23h3v1h-3zM113 23h1v1h-1zM138 23h1v1h-1zM155 23h1v1h-1zM165 23h1v1h-1zM181 23h1v1h-1zM31 24h1v1h-1zM75 24h1v1h-1zM81 24h1v1h-1zM108 24h1v1h-1zM111 24h1v1h-1zM126 24h1v1h-1zM147 24h1v1h-1zM186 24h3v1h-3zM194 24h1v1h-1zM76 25h1v1h-1zM78 25h1v1h-1zM96 25h1v1h-1zM109 25h1v1h-1zM180 25h1v1h-1zM183 25h1v1h-1zM186 25h1v1h-1zM52 26h1v1h-1zM68 26h1v1h-1zM75 26h1v1h-1zM79 26h1v1h-1zM81 26h1v1h-1zM84 26h1v1h-1zM99 26h1v1h-1zM165 26h1v1h-1zM182 26h1v1h-1zM184 26h1v1h-1zM186 26h1v1h-1zM188 26h1v1h-1zM32 27h1v1h-1zM97 27h1v1h-1zM147 27h1v1h-1zM182 27h1v1h-1zM188 27h1v1h-1zM124 28h1v1h-1zM75 29h1v1h-1zM53 30h1v1h-1zM70 30h1v1h-1zM77 30h1v1h-1zM97 30h1v1h-1zM148 30h2v1h-2zM182 30h1v1h-1zM184 30h1v1h-1zM73 31h1v1h-1zM86 31h1v1h-1zM96 31h1v1h-1zM98 31h1v1h-1zM100 31h1v1h-1zM103 31h1v1h-1zM107 31h1v1h-1zM164 31h1v1h-1zM180 31h1v1h-1zM184 31h1v1h-1zM194 31h1v1h-1zM46 32h1v1h-1zM51 32h1v1h-1zM97 32h1v1h-1zM102 32h1v1h-1zM165 32h1v1h-1zM182 32h1v1h-1zM32 33h1v1h-1zM108 33h1v1h-1zM162 33h1v1h-1zM185 33h1v1h-1zM194 33h1v1h-1zM54 34h1v1h-1zM73 34h1v1h-1zM82 34h1v1h-1zM107 34h1v1h-1zM130 34h1v1h-1zM164 34h1v1h-1zM183 34h1v1h-1zM110 35h1v1h-1zM124 35h1v1h-1zM138 35h1v1h-1zM164 35h1v1h-1zM180 35h2v1h-2zM186 35h1v1h-1zM188 35h1v1h-1zM31 36h1v1h-1zM57 36h1v1h-1zM97 36h1v1h-1zM109 36h1v1h-1zM125 36h1v1h-1zM183 36h1v1h-1zM186 36h1v1h-1zM49 37h1v1h-1zM98 37h1v1h-1zM123 37h1v1h-1zM148 37h1v1h-1zM164 37h1v1h-1zM180 37h1v1h-1zM182 37h2v1h-2zM188 37h1v1h-1zM37 38h1v1h-1zM73 38h1v1h-1zM97 38h1v1h-1zM107 38h1v1h-1zM110 38h1v1h-1zM119 38h1v1h-1zM123 38h1v1h-1zM135 38h1v1h-1zM164 38h1v1h-1zM52 39h1v1h-1zM75 39h1v1h-1zM105 39h1v1h-1zM108 39h1v1h-1zM117 39h1v1h-1zM123 39h1v1h-1zM131 39h1v1h-1zM133 39h1v1h-1zM147 39h1v1h-1zM166 39h1v1h-1zM117 40h1v1h-1zM139 40h1v1h-1zM163 40h1v1h-1zM166 40h1v1h-1zM176 40h1v1h-1zM188 40h1v1h-1zM51 41h1v1h-1zM99 41h1v1h-1zM102 41h2v1h-2zM111 41h1v1h-1zM118 41h1v1h-1zM141 41h1v1h-1zM155 41h1v1h-1zM163 41h1v1h-1zM167 41h1v1h-1zM54 42h1v1h-1zM65 42h1v1h-1zM70 42h1v1h-1zM86 42h1v1h-1zM118 42h1v1h-1zM133 42h1v1h-1zM141 42h1v1h-1zM148 42h1v1h-1zM150 42h1v1h-1zM155 42h1v1h-1zM157 42h1v1h-1zM163 42h2v1h-2zM174 42h1v1h-1zM176 42h1v1h-1zM32 43h1v1h-1zM51 43h1v1h-1zM53 43h1v1h-1zM71 43h1v1h-1zM74 43h1v1h-1zM79 43h1v1h-1zM93 43h1v1h-1zM96 43h1v1h-1zM118 43h1v1h-1zM126 43h1v1h-1zM128 43h1v1h-1zM169 43h1v1h-1zM171 43h1v1h-1zM181 43h1v1h-1zM71 44h1v1h-1zM75 44h2v1h-2zM111 44h2v1h-2zM171 44h1v1h-1zM173 44h1v1h-1zM185 44h1v1h-1zM65 45h1v1h-1zM67 45h2v1h-2zM84 45h1v1h-1zM87 45h1v1h-1zM101 45h1v1h-1zM113 45h1v1h-1zM133 45h1v1h-1zM140 45h1v1h-1zM165 45h1v1h-1zM62 46h2v1h-2zM71 46h1v1h-1zM93 46h1v1h-1zM100 46h1v1h-1zM124 46h1v1h-1zM131 46h1v1h-1zM147 46h1v1h-1zM157 46h1v1h-1zM165 46h1v1h-1zM167 46h1v1h-1zM171 46h1v1h-1zM174 46h1v1h-1zM32 47h1v1h-1zM63 47h2v1h-2zM85 47h1v1h-1zM97 47h2v1h-2zM119 47h1v1h-1zM121 47h2v1h-2zM127 47h1v1h-1zM141 47h1v1h-1zM143 47h1v1h-1zM166 47h1v1h-1zM170 47h1v1h-1zM182 47h1v1h-1zM74 48h1v1h-1zM82 48h1v1h-1zM88 48h1v1h-1zM109 48h1v1h-1zM167 48h1v1h-1zM172 48h1v1h-1zM175 48h1v1h-1zM185 48h1v1h-1zM44 49h1v1h-1zM69 49h1v1h-1zM110 49h1v1h-1zM126 49h1v1h-1zM152 49h1v1h-1zM157 49h1v1h-1zM77 50h1v1h-1zM80 50h1v1h-1zM112 50h1v1h-1zM118 50h2v1h-2zM126 50h1v1h-1zM150 50h1v1h-1zM68 51h1v1h-1zM78 51h1v1h-1zM89 51h1v1h-1zM94 51h1v1h-1zM103 51h1v1h-1zM111 51h1v1h-1zM171 51h1v1h-1zM179 51h1v1h-1zM183 51h1v1h-1zM188 51h1v1h-1zM51 52h1v1h-1zM54 52h1v1h-1zM60 52h1v1h-1zM68 52h1v1h-1zM79 52h1v1h-1zM95 52h1v1h-1zM138 52h1v1h-1zM154 52h1v1h-1zM172 52h1v1h-1zM189 52h1v1h-1zM194 52h1v1h-1zM67 53h1v1h-1zM72 53h2v1h-2zM79 53h1v1h-1zM101 53h1v1h-1zM118 53h1v1h-1zM158 53h1v1h-1zM165 53h1v1h-1zM172 53h1v1h-1zM189 53h1v1h-1zM194 53h1v1h-1zM58 54h1v1h-1zM68 54h1v1h-1zM97 54h1v1h-1zM102 54h1v1h-1zM109 54h1v1h-1zM140 54h1v1h-1zM151 54h1v1h-1zM166 54h1v1h-1zM194 54h1v1h-1zM31 55h1v1h-1zM51 55h1v1h-1zM54 55h2v1h-2zM77 55h1v1h-1zM79 55h1v1h-1zM97 55h1v1h-1zM105 55h1v1h-1zM126 55h2v1h-2zM169 55h1v1h-1zM171 55h1v1h-1zM191 55h1v1h-1zM36 56h1v1h-1zM44 56h1v1h-1zM56 56h1v1h-1zM63 56h1v1h-1zM66 56h1v1h-1zM70 56h1v1h-1zM95 56h1v1h-1zM137 56h2v1h-2zM144 56h1v1h-1zM153 56h1v1h-1zM158 56h1v1h-1zM165 56h1v1h-1zM167 56h1v1h-1zM173 56h1v1h-1zM52 57h1v1h-1zM55 57h1v1h-1zM58 57h1v1h-1zM60 57h1v1h-1zM68 57h1v1h-1zM74 57h1v1h-1zM127 57h1v1h-1zM151 57h1v1h-1zM164 57h1v1h-1zM57 58h1v1h-1zM70 58h1v1h-1zM88 58h1v1h-1zM93 58h1v1h-1zM109 58h1v1h-1zM124 58h1v1h-1zM178 58h1v1h-1zM180 58h1v1h-1zM210 58h1v1h-1zM69 59h2v1h-2zM74 59h1v1h-1zM82 59h1v1h-1zM88 59h1v1h-1zM109 59h1v1h-1zM141 59h1v1h-1zM152 59h1v1h-1zM188 59h1v1h-1zM66 60h1v1h-1zM68 60h1v1h-1zM75 60h1v1h-1zM78 60h1v1h-1zM80 60h1v1h-1zM98 60h1v1h-1zM155 60h1v1h-1zM168 60h1v1h-1zM64 61h1v1h-1zM70 61h1v1h-1zM74 61h1v1h-1zM121 61h2v1h-2zM144 61h1v1h-1zM157 61h1v1h-1zM172 61h1v1h-1zM67 62h2v1h-2zM70 62h1v1h-1zM73 62h1v1h-1zM76 62h1v1h-1zM79 62h1v1h-1zM102 62h1v1h-1zM111 62h1v1h-1zM142 62h1v1h-1zM146 62h1v1h-1zM163 62h1v1h-1zM189 62h1v1h-1zM191 62h1v1h-1zM77 63h1v1h-1zM123 63h1v1h-1zM144 63h1v1h-1zM157 63h2v1h-2zM167 63h1v1h-1zM170 63h1v1h-1zM184 63h1v1h-1zM194 63h1v1h-1zM40 64h1v1h-1zM52 64h1v1h-1zM56 64h1v1h-1zM63 64h1v1h-1zM71 64h1v1h-1zM73 64h1v1h-1zM110 64h1v1h-1zM148 64h2v1h-2zM153 64h1v1h-1zM169 64h1v1h-1zM210 64h1v1h-1zM54 65h1v1h-1zM67 65h1v1h-1zM71 65h1v1h-1zM77 65h1v1h-1zM157 65h1v1h-1zM62 66h2v1h-2zM142 66h1v1h-1zM151 66h1v1h-1zM167 66h1v1h-1zM194 66h1v1h-1zM52 67h1v1h-1zM71 67h1v1h-1zM76 67h1v1h-1zM78 67h1v1h-1zM102 67h1v1h-1zM113 67h1v1h-1zM125 67h1v1h-1zM148 67h2v1h-2zM165 67h1v1h-1zM187 67h1v1h-1zM210 67h1v1h-1zM69 68h1v1h-1zM77 68h1v1h-1zM79 68h1v1h-1zM127 68h1v1h-1zM171 68h2v1h-2zM186 68h1v1h-1zM52 69h1v1h-1zM63 69h1v1h-1zM67 69h2v1h-2zM70 69h1v1h-1zM107 69h1v1h-1zM125 69h1v1h-1zM145 69h1v1h-1zM172 69h1v1h-1zM199 69h1v1h-1zM54 70h1v1h-1zM68 70h1v1h-1zM70 70h1v1h-1zM97 70h1v1h-1zM140 70h1v1h-1zM142 70h2v1h-2zM145 70h1v1h-1zM168 70h1v1h-1zM197 70h1v1h-1zM26 71h1v1h-1zM36 71h1v1h-1zM65 71h1v1h-1zM72 71h1v1h-1zM114 71h1v1h-1zM124 71h1v1h-1zM141 71h1v1h-1zM147 71h1v1h-1zM166 71h1v1h-1zM168 71h1v1h-1zM170 71h1v1h-1zM172 71h1v1h-1zM188 71h2v1h-2zM200 71h1v1h-1zM51 72h1v1h-1zM65 72h1v1h-1zM97 72h1v1h-1zM107 72h1v1h-1zM113 72h1v1h-1zM119 72h1v1h-1zM161 72h1v1h-1zM170 72h1v1h-1zM207 72h1v1h-1zM32 73h1v1h-1zM65 73h1v1h-1zM7 74h1v1h-1zM166 74h3v1h-3zM187 74h1v1h-1zM201 74h1v1h-1zM210 74h1v1h-1zM65 75h1v1h-1zM93 75h1v1h-1zM159 75h1v1h-1zM161 75h1v1h-1zM168 75h1v1h-1zM199 75h1v1h-1zM52 76h1v1h-1zM159 76h2v1h-2zM63 77h3v1h-3zM166 77h1v1h-1zM190 77h1v1h-1zM195 77h1v1h-1zM200 77h1v1h-1zM208 77h1v1h-1zM5 78h1v1h-1zM13 78h1v1h-1zM0 79h2v1h-2zM11 79h1v1h-1zM21 79h1v1h-1zM27 79h1v1h-1zM155 79h1v1h-1zM160 79h1v1h-1zM189 79h1v1h-1zM195 79h1v1h-1zM205 79h1v1h-1zM3 80h1v1h-1zM18 80h1v1h-1zM23 80h1v1h-1zM37 80h1v1h-1zM49 80h1v1h-1zM63 80h1v1h-1zM165 80h1v1h-1zM192 80h2v1h-2zM64 81h1v1h-1zM87 81h2v1h-2zM94 81h1v1h-1zM110 81h1v1h-1zM118 81h2v1h-2zM126 81h1v1h-1zM132 81h1v1h-1zM135 81h1v1h-1zM139 81h1v1h-1zM141 81h1v1h-1zM151 81h1v1h-1zM158 81h1v1h-1zM168 81h1v1h-1zM176 81h1v1h-1zM178 81h1v1h-1zM64 82h1v1h-1zM87 82h2v1h-2zM94 82h1v1h-1zM110 82h1v1h-1zM118 82h2v1h-2zM126 82h1v1h-1zM132 82h1v1h-1zM135 82h1v1h-1zM139 82h1v1h-1zM141 82h1v1h-1zM151 82h1v1h-1zM158 82h1v1h-1zM168 82h1v1h-1zM176 82h1v1h-1zM178 82h1v1h-1z"/><path fill="#1fa187" d="M51 0h1v1h-1zM72 0h1v1h-1zM82 0h2v1h-2zM94 0h1v1h-1zM103 0h1v1h-1zM125 0h1v1h-1zM134 0h1v1h-1zM138 0h1v1h-1zM163 0h1v1h-1zM166 0h1v1h-1zM181 0h1v1h-1zM188 0h1v1h-1zM51 1h1v1h-1zM72 1h1v1h-1zM82 1h2v1h-2zM94 1h1v1h-1zM103 1h1v1h-1zM125 1h1v1h-1zM134 1h1v1h-1zM138 1h1v1h-1zM163 1h1v1h-1zM166 1h1v1h-1zM181 1h1v1h-1zM188 1h1v1h-1zM50 2h2v1h-2zM53 2h2v1h-2zM84 2h1v1h-1zM86 2h1v1h-1zM91 2h1v1h-1zM94 2h1v1h-1zM99 2h1v1h-1zM104 2h1v1h-1zM128 2h1v1h-1zM132 2h1v1h-1zM154 2h1v1h-1zM164 2h1v1h-1zM185 2h1v1h-1zM57 3h1v1h-1zM73 3h1v1h-1zM83 3h2v1h-2zM103 3h2v1h-2zM108 3h1v1h-1zM182 3h1v1h-1zM67 4h1v1h-1zM92 4h1v1h-1zM101 4h1v1h-1zM108 4h2v1h-2zM128 4h1v1h-1zM130 4h1v1h-1zM134 4h1v1h-1zM150 4h1v1h-1zM166 4h1v1h-1zM188 4h1v1h-1zM50 5h1v1h-1zM54 5h1v1h-1zM82 5h1v1h-1zM84 5h1v1h-1zM90 5h1v1h-1zM100 5h1v1h-1zM109 5h1v1h-1zM165 5h1v1h-1zM52 6h1v1h-1zM58 6h1v1h-1zM72 6h1v1h-1zM93 6h1v1h-1zM125 6h1v1h-1zM129 6h2v1h-2zM52 7h1v1h-1zM56 7h1v1h-1zM73 7h1v1h-1zM86 7h1v1h-1zM100 7h2v1h-2zM133 7h1v1h-1zM148 7h1v1h-1zM152 7h1v1h-1zM188 7h1v1h-1zM81 8h1v1h-1zM99 8h1v1h-1zM104 8h1v1h-1zM127 8h1v1h-1zM137 8h1v1h-1zM162 8h1v1h-1zM187 8h1v1h-1zM37 9h1v1h-1zM54 9h1v1h-1zM72 9h1v1h-1zM92 9h2v1h-2zM128 9h1v1h-1zM131 9h1v1h-1zM153 9h1v1h-1zM186 9h1v1h-1zM129 10h1v1h-1zM133 10h1v1h-1zM138 10h1v1h-1zM185 10h1v1h-1zM59 11h1v1h-1zM82 11h1v1h-1zM111 11h1v1h-1zM127 11h1v1h-1zM133 11h1v1h-1zM138 11h1v1h-1zM163 11h1v1h-1zM188 11h1v1h-1zM51 12h1v1h-1zM54 12h1v1h-1zM60 12h1v1h-1zM70 12h1v1h-1zM100 12h1v1h-1zM128 12h1v1h-1zM137 12h1v1h-1zM151 12h1v1h-1zM194 12h1v1h-1zM53 13h1v1h-1zM110 13h2v1h-2zM126 13h2v1h-2zM133 13h1v1h-1zM109 14h1v1h-1zM136 14h1v1h-1zM154 14h1v1h-1zM162 14h1v1h-1zM166 14h1v1h-1zM188 14h1v1h-1zM81 15h1v1h-1zM53 16h1v1h-1zM97 16h1v1h-1zM112 16h1v1h-1zM148 16h1v1h-1zM152 16h1v1h-1zM79 17h1v1h-1zM93 17h1v1h-1zM123 17h1v1h-1zM126 17h1v1h-1zM188 17h1v1h-1zM72 18h1v1h-1zM106 18h1v1h-1zM108 18h1v1h-1zM127 18h1v1h-1zM135 18h1v1h-1zM154 18h1v1h-1zM164 18h1v1h-1zM184 18h2v1h-2zM75 19h1v1h-1zM95 19h1v1h-1zM100 19h1v1h-1zM131 19h1v1h-1zM147 19h1v1h-1zM166 19h1v1h-1zM187 19h1v1h-1zM194 19h1v1h-1zM60 20h1v1h-1zM72 20h1v1h-1zM121 20h1v1h-1zM126 20h1v1h-1zM130 20h1v1h-1zM194 20h1v1h-1zM48 21h1v1h-1zM68 21h1v1h-1zM94 21h1v1h-1zM98 21h2v1h-2zM127 21h1v1h-1zM39 22h1v1h-1zM98 22h1v1h-1zM108 22h1v1h-1zM146 22h1v1h-1zM149 22h1v1h-1zM184 22h1v1h-1zM37 23h1v1h-1zM52 23h2v1h-2zM74 23h1v1h-1zM82 23h1v1h-1zM123 23h1v1h-1zM126 23h1v1h-1zM129 23h1v1h-1zM163 23h1v1h-1zM179 23h1v1h-1zM183 23h1v1h-1zM72 24h1v1h-1zM74 24h1v1h-1zM92 24h1v1h-1zM124 24h2v1h-2zM127 24h1v1h-1zM135 24h2v1h-2zM182 24h1v1h-1zM50 25h1v1h-1zM83 25h1v1h-1zM93 25h1v1h-1zM97 25h1v1h-1zM101 25h1v1h-1zM122 25h1v1h-1zM125 25h1v1h-1zM164 25h1v1h-1zM182 25h1v1h-1zM188 25h1v1h-1zM194 25h1v1h-1zM53 26h1v1h-1zM60 26h1v1h-1zM86 26h1v1h-1zM101 26h1v1h-1zM120 26h1v1h-1zM122 26h1v1h-1zM128 26h1v1h-1zM166 26h2v1h-2zM181 26h1v1h-1zM194 26h1v1h-1zM54 27h1v1h-1zM58 27h1v1h-1zM126 27h1v1h-1zM181 27h1v1h-1zM184 27h1v1h-1zM187 27h1v1h-1zM51 28h1v1h-1zM93 28h1v1h-1zM106 28h1v1h-1zM138 28h1v1h-1zM162 28h1v1h-1zM194 28h1v1h-1zM95 29h1v1h-1zM136 29h1v1h-1zM155 29h1v1h-1zM166 29h1v1h-1zM68 30h1v1h-1zM108 30h1v1h-1zM146 30h1v1h-1zM174 30h1v1h-1zM81 31h1v1h-1zM109 31h1v1h-1zM138 31h1v1h-1zM151 31h1v1h-1zM162 31h1v1h-1zM165 31h1v1h-1zM43 32h1v1h-1zM48 32h1v1h-1zM54 32h1v1h-1zM56 32h1v1h-1zM74 32h1v1h-1zM79 32h1v1h-1zM85 32h1v1h-1zM104 32h1v1h-1zM109 32h1v1h-1zM124 32h1v1h-1zM126 32h1v1h-1zM128 32h1v1h-1zM138 32h1v1h-1zM162 32h2v1h-2zM181 32h1v1h-1zM183 32h1v1h-1zM76 33h1v1h-1zM83 33h1v1h-1zM98 33h1v1h-1zM103 33h1v1h-1zM110 33h1v1h-1zM124 33h1v1h-1zM126 33h1v1h-1zM187 33h1v1h-1zM56 34h1v1h-1zM70 34h1v1h-1zM111 34h1v1h-1zM122 34h1v1h-1zM138 34h1v1h-1zM146 34h3v1h-3zM162 34h1v1h-1zM166 34h1v1h-1zM181 34h1v1h-1zM184 34h1v1h-1zM186 34h1v1h-1zM54 35h2v1h-2zM83 35h1v1h-1zM100 35h1v1h-1zM104 35h1v1h-1zM108 35h1v1h-1zM123 35h1v1h-1zM126 35h1v1h-1zM147 35h1v1h-1zM151 35h2v1h-2zM165 35h2v1h-2zM51 36h1v1h-1zM79 36h1v1h-1zM93 36h1v1h-1zM101 36h1v1h-1zM181 36h1v1h-1zM32 37h1v1h-1zM44 37h1v1h-1zM84 37h1v1h-1zM99 37h1v1h-1zM112 37h1v1h-1zM129 37h1v1h-1zM149 37h1v1h-1zM166 37h2v1h-2zM181 37h1v1h-1zM184 37h1v1h-1zM186 37h2v1h-2zM98 38h1v1h-1zM129 38h1v1h-1zM134 38h1v1h-1zM149 38h1v1h-1zM162 38h1v1h-1zM179 38h2v1h-2zM96 39h1v1h-1zM99 39h1v1h-1zM101 39h1v1h-1zM118 39h1v1h-1zM122 39h1v1h-1zM153 39h1v1h-1zM171 39h1v1h-1zM185 39h1v1h-1zM41 40h1v1h-1zM53 40h1v1h-1zM83 40h1v1h-1zM92 40h2v1h-2zM102 40h1v1h-1zM150 40h1v1h-1zM164 40h1v1h-1zM181 40h1v1h-1zM47 41h1v1h-1zM56 41h1v1h-1zM74 41h2v1h-2zM94 41h1v1h-1zM97 41h1v1h-1zM104 41h1v1h-1zM108 41h2v1h-2zM162 41h1v1h-1zM172 41h1v1h-1zM174 41h1v1h-1zM179 41h1v1h-1zM61 42h1v1h-1zM71 42h2v1h-2zM88 42h1v1h-1zM105 42h1v1h-1zM113 42h1v1h-1zM126 42h1v1h-1zM130 42h1v1h-1zM135 42h1v1h-1zM167 42h1v1h-1zM169 42h1v1h-1zM185 42h1v1h-1zM187 42h1v1h-1zM194 42h1v1h-1zM82 43h1v1h-1zM88 43h2v1h-2zM94 43h2v1h-2zM153 43h1v1h-1zM157 43h1v1h-1zM170 43h1v1h-1zM178 43h2v1h-2zM183 43h1v1h-1zM186 43h3v1h-3zM53 44h1v1h-1zM63 44h1v1h-1zM99 44h1v1h-1zM118 44h1v1h-1zM126 44h1v1h-1zM141 44h1v1h-1zM153 44h1v1h-1zM167 44h4v1h-4zM186 44h1v1h-1zM51 45h1v1h-1zM76 45h1v1h-1zM88 45h1v1h-1zM95 45h1v1h-1zM99 45h1v1h-1zM103 45h1v1h-1zM132 45h1v1h-1zM185 45h1v1h-1zM67 46h1v1h-1zM73 46h1v1h-1zM99 46h1v1h-1zM102 46h1v1h-1zM127 46h1v1h-1zM166 46h1v1h-1zM72 47h1v1h-1zM75 47h1v1h-1zM79 47h2v1h-2zM95 47h1v1h-1zM105 47h1v1h-1zM133 47h1v1h-1zM154 47h1v1h-1zM168 47h1v1h-1zM176 47h1v1h-1zM179 47h1v1h-1zM184 47h2v1h-2zM194 47h1v1h-1zM45 48h1v1h-1zM73 48h1v1h-1zM108 48h1v1h-1zM129 48h1v1h-1zM158 48h1v1h-1zM170 48h2v1h-2zM176 48h1v1h-1zM181 48h1v1h-1zM52 49h1v1h-1zM71 49h1v1h-1zM75 49h2v1h-2zM100 49h1v1h-1zM117 49h1v1h-1zM129 49h2v1h-2zM154 49h1v1h-1zM183 49h1v1h-1zM53 50h1v1h-1zM68 50h2v1h-2zM84 50h1v1h-1zM97 50h1v1h-1zM102 50h2v1h-2zM123 50h1v1h-1zM125 50h1v1h-1zM158 50h1v1h-1zM168 50h1v1h-1zM184 50h1v1h-1zM51 51h1v1h-1zM53 51h1v1h-1zM69 51h1v1h-1zM71 51h1v1h-1zM127 51h1v1h-1zM153 51h1v1h-1zM158 51h1v1h-1zM178 51h1v1h-1zM194 51h1v1h-1zM44 52h1v1h-1zM64 52h1v1h-1zM77 52h1v1h-1zM81 52h1v1h-1zM85 52h1v1h-1zM94 52h1v1h-1zM124 52h2v1h-2zM153 52h1v1h-1zM155 52h1v1h-1zM179 52h1v1h-1zM43 53h1v1h-1zM57 53h1v1h-1zM64 53h1v1h-1zM78 53h1v1h-1zM83 53h1v1h-1zM94 53h1v1h-1zM96 53h1v1h-1zM102 53h1v1h-1zM108 53h1v1h-1zM110 53h2v1h-2zM122 53h1v1h-1zM139 53h1v1h-1zM142 53h1v1h-1zM151 53h1v1h-1zM168 53h2v1h-2zM178 53h1v1h-1zM74 54h1v1h-1zM95 54h1v1h-1zM98 54h1v1h-1zM104 54h1v1h-1zM117 54h1v1h-1zM134 54h1v1h-1zM150 54h1v1h-1zM180 54h1v1h-1zM39 55h1v1h-1zM50 55h1v1h-1zM67 55h2v1h-2zM122 55h1v1h-1zM138 55h2v1h-2zM153 55h1v1h-1zM168 55h1v1h-1zM186 55h1v1h-1zM190 55h1v1h-1zM73 56h1v1h-1zM101 56h1v1h-1zM103 56h1v1h-1zM135 56h1v1h-1zM141 56h1v1h-1zM163 56h1v1h-1zM32 57h1v1h-1zM46 57h1v1h-1zM70 57h2v1h-2zM77 57h1v1h-1zM79 57h1v1h-1zM81 57h1v1h-1zM93 57h2v1h-2zM96 57h1v1h-1zM106 57h1v1h-1zM124 57h1v1h-1zM132 57h1v1h-1zM167 57h1v1h-1zM169 57h1v1h-1zM172 57h1v1h-1zM190 57h1v1h-1zM45 58h1v1h-1zM48 58h1v1h-1zM68 58h2v1h-2zM98 58h1v1h-1zM120 58h1v1h-1zM125 58h1v1h-1zM154 58h1v1h-1zM156 58h2v1h-2zM42 59h1v1h-1zM59 59h1v1h-1zM72 59h1v1h-1zM84 59h1v1h-1zM96 59h1v1h-1zM99 59h2v1h-2zM108 59h1v1h-1zM143 59h2v1h-2zM170 59h2v1h-2zM51 60h1v1h-1zM55 60h1v1h-1zM69 60h1v1h-1zM102 60h1v1h-1zM113 60h1v1h-1zM121 60h1v1h-1zM141 60h1v1h-1zM148 60h1v1h-1zM163 60h1v1h-1zM188 60h1v1h-1zM190 60h1v1h-1zM72 61h1v1h-1zM84 61h1v1h-1zM100 61h1v1h-1zM109 61h1v1h-1zM120 61h1v1h-1zM124 61h1v1h-1zM170 61h1v1h-1zM46 62h1v1h-1zM56 62h1v1h-1zM95 62h1v1h-1zM108 62h1v1h-1zM181 62h1v1h-1zM54 63h1v1h-1zM69 63h1v1h-1zM72 63h1v1h-1zM78 63h1v1h-1zM94 63h1v1h-1zM107 63h1v1h-1zM121 63h1v1h-1zM140 63h1v1h-1zM145 63h1v1h-1zM168 63h1v1h-1zM182 63h1v1h-1zM191 63h1v1h-1zM57 64h1v1h-1zM75 64h1v1h-1zM81 64h1v1h-1zM84 64h1v1h-1zM145 64h1v1h-1zM150 64h1v1h-1zM58 65h1v1h-1zM142 65h1v1h-1zM167 65h1v1h-1zM194 65h1v1h-1zM36 66h1v1h-1zM53 66h1v1h-1zM71 66h1v1h-1zM83 66h1v1h-1zM122 66h2v1h-2zM69 67h2v1h-2zM74 67h1v1h-1zM83 67h1v1h-1zM112 67h1v1h-1zM144 67h1v1h-1zM53 68h1v1h-1zM71 68h1v1h-1zM123 68h1v1h-1zM144 68h1v1h-1zM147 68h1v1h-1zM164 68h1v1h-1zM167 68h1v1h-1zM169 68h1v1h-1zM189 68h1v1h-1zM191 68h1v1h-1zM32 69h1v1h-1zM53 69h1v1h-1zM80 69h1v1h-1zM104 69h3v1h-3zM112 69h1v1h-1zM117 69h1v1h-1zM168 69h1v1h-1zM194 69h1v1h-1zM95 70h1v1h-1zM109 70h3v1h-3zM141 70h1v1h-1zM160 70h2v1h-2zM169 70h1v1h-1zM69 71h1v1h-1zM95 71h1v1h-1zM100 71h2v1h-2zM142 71h1v1h-1zM148 71h1v1h-1zM160 71h1v1h-1zM167 71h1v1h-1zM186 71h1v1h-1zM63 72h2v1h-2zM66 72h1v1h-1zM69 72h1v1h-1zM74 72h1v1h-1zM95 72h1v1h-1zM98 72h1v1h-1zM105 72h1v1h-1zM122 72h1v1h-1zM124 72h1v1h-1zM146 72h1v1h-1zM157 72h1v1h-1zM165 72h1v1h-1zM191 72h1v1h-1zM64 73h1v1h-1zM165 73h1v1h-1zM205 73h1v1h-1zM51 74h1v1h-1zM85 74h1v1h-1zM128 74h1v1h-1zM161 74h1v1h-1zM209 74h1v1h-1zM46 75h1v1h-1zM63 75h1v1h-1zM157 75h2v1h-2zM167 75h1v1h-1zM197 75h1v1h-1zM128 76h1v1h-1zM157 76h1v1h-1zM191 76h1v1h-1zM197 76h2v1h-2zM207 76h2v1h-2zM192 77h1v1h-1zM203 77h2v1h-2zM206 77h1v1h-1zM210 77h1v1h-1zM63 78h3v1h-3zM206 78h1v1h-1zM12 79h1v1h-1zM14 79h2v1h-2zM19 79h1v1h-1zM52 79h1v1h-1zM194 79h1v1h-1zM6 80h1v1h-1zM10 80h3v1h-3zM21 80h1v1h-1zM190 80h1v1h-1zM34 81h1v1h-1zM38 81h1v1h-1zM59 81h1v1h-1zM85 81h2v1h-2zM106 81h1v1h-1zM109 81h1v1h-1zM111 81h2v1h-2zM125 81h1v1h-1zM128 81h1v1h-1zM153 81h1v1h-1zM167 81h1v1h-1zM171 81h2v1h-2zM181 81h1v1h-1zM34 82h1v1h-1zM38 82h1v1h-1zM59 82h1v1h-1zM85 82h2v1h-2zM106 82h1v1h-1zM109 82h1v1h-1zM111 82h2v1h-2zM125 82h1v1h-1zM128 82h1v1h-1zM153 82h1v1h-1zM167 82h1v1h-1zM171 82h2v1h-2zM181 82h1v1h-1z"/><path fill="#21a585" d="M52 0h2v1h-2zM71 0h1v1h-1zM93 0h1v1h-1zM98 0h1v1h-1zM101 0h1v1h-1zM104 0h1v1h-1zM135 0h1v1h-1zM149 0h1v1h-1zM153 0h1v1h-1zM178 0h1v1h-1zM52 1h2v1h-2zM71 1h1v1h-1zM93 1h1v1h-1zM98 1h1v1h-1zM101 1h1v1h-1zM104 1h1v1h-1zM135 1h1v1h-1zM149 1h1v1h-1zM153 1h1v1h-1zM178 1h1v1h-1zM42 2h1v1h-1zM108 2h1v1h-1zM123 2h1v1h-1zM131 2h1v1h-1zM136 2h1v1h-1zM165 2h1v1h-1zM182 2h1v1h-1zM184 2h1v1h-1zM43 3h1v1h-1zM71 3h1v1h-1zM99 3h1v1h-1zM131 3h1v1h-1zM151 3h1v1h-1zM188 3h1v1h-1zM72 4h1v1h-1zM99 4h1v1h-1zM103 4h2v1h-2zM124 4h1v1h-1zM133 4h1v1h-1zM139 4h1v1h-1zM184 4h1v1h-1zM186 4h1v1h-1zM43 5h1v1h-1zM73 5h1v1h-1zM81 5h1v1h-1zM83 5h1v1h-1zM88 5h1v1h-1zM95 5h1v1h-1zM125 5h1v1h-1zM138 5h1v1h-1zM163 5h1v1h-1zM89 6h2v1h-2zM99 6h1v1h-1zM150 6h1v1h-1zM182 6h1v1h-1zM188 6h1v1h-1zM94 7h1v1h-1zM105 7h1v1h-1zM126 7h1v1h-1zM129 7h1v1h-1zM132 7h1v1h-1zM151 7h1v1h-1zM163 7h1v1h-1zM87 8h1v1h-1zM95 8h1v1h-1zM102 8h1v1h-1zM139 8h1v1h-1zM152 8h1v1h-1zM165 8h2v1h-2zM50 9h1v1h-1zM81 9h1v1h-1zM90 9h1v1h-1zM95 9h1v1h-1zM100 9h3v1h-3zM126 9h1v1h-1zM137 9h1v1h-1zM150 9h1v1h-1zM187 9h1v1h-1zM43 10h1v1h-1zM54 10h2v1h-2zM92 10h1v1h-1zM97 10h1v1h-1zM139 10h1v1h-1zM154 10h1v1h-1zM48 11h1v1h-1zM52 11h1v1h-1zM95 11h1v1h-1zM99 11h1v1h-1zM102 11h2v1h-2zM135 11h1v1h-1zM162 11h1v1h-1zM164 11h1v1h-1zM48 12h1v1h-1zM81 12h1v1h-1zM91 12h1v1h-1zM96 12h1v1h-1zM104 12h1v1h-1zM109 12h1v1h-1zM129 12h2v1h-2zM139 12h1v1h-1zM37 13h1v1h-1zM51 13h1v1h-1zM94 13h1v1h-1zM98 13h1v1h-1zM101 13h1v1h-1zM138 13h1v1h-1zM167 13h1v1h-1zM171 13h1v1h-1zM194 13h1v1h-1zM43 14h1v1h-1zM72 14h1v1h-1zM74 14h1v1h-1zM130 14h2v1h-2zM135 14h1v1h-1zM138 14h2v1h-2zM165 14h1v1h-1zM94 15h2v1h-2zM100 15h1v1h-1zM135 15h1v1h-1zM138 15h2v1h-2zM146 15h2v1h-2zM163 15h1v1h-1zM39 16h1v1h-1zM52 16h1v1h-1zM90 16h2v1h-2zM108 16h1v1h-1zM139 16h1v1h-1zM164 16h1v1h-1zM185 16h1v1h-1zM72 17h1v1h-1zM75 17h1v1h-1zM82 17h1v1h-1zM96 17h1v1h-1zM98 17h1v1h-1zM131 17h1v1h-1zM147 17h1v1h-1zM164 17h1v1h-1zM187 17h1v1h-1zM37 18h1v1h-1zM44 18h1v1h-1zM50 18h1v1h-1zM54 18h1v1h-1zM68 18h1v1h-1zM76 18h1v1h-1zM109 18h1v1h-1zM128 18h1v1h-1zM134 18h1v1h-1zM148 18h1v1h-1zM163 18h1v1h-1zM84 19h1v1h-1zM94 19h1v1h-1zM101 19h1v1h-1zM133 19h2v1h-2zM152 19h1v1h-1zM155 19h1v1h-1zM186 19h1v1h-1zM37 20h2v1h-2zM42 20h1v1h-1zM54 20h1v1h-1zM93 20h1v1h-1zM95 20h1v1h-1zM97 20h1v1h-1zM122 20h1v1h-1zM127 20h1v1h-1zM147 20h1v1h-1zM152 20h1v1h-1zM163 20h1v1h-1zM80 21h1v1h-1zM84 21h1v1h-1zM109 21h1v1h-1zM125 21h1v1h-1zM128 21h1v1h-1zM134 21h1v1h-1zM186 21h1v1h-1zM78 22h2v1h-2zM83 22h2v1h-2zM122 22h1v1h-1zM164 22h2v1h-2zM167 22h1v1h-1zM54 23h1v1h-1zM68 23h1v1h-1zM85 23h1v1h-1zM93 23h1v1h-1zM99 23h1v1h-1zM105 23h1v1h-1zM124 23h1v1h-1zM128 23h1v1h-1zM131 23h1v1h-1zM162 23h1v1h-1zM188 23h1v1h-1zM54 24h1v1h-1zM88 24h1v1h-1zM110 24h1v1h-1zM151 24h1v1h-1zM165 24h1v1h-1zM172 24h1v1h-1zM184 24h1v1h-1zM54 25h1v1h-1zM123 25h1v1h-1zM149 25h1v1h-1zM154 25h1v1h-1zM165 25h1v1h-1zM167 25h1v1h-1zM185 25h1v1h-1zM49 26h1v1h-1zM57 26h1v1h-1zM76 26h1v1h-1zM94 26h1v1h-1zM96 26h1v1h-1zM100 26h1v1h-1zM137 26h1v1h-1zM148 26h1v1h-1zM168 26h1v1h-1zM178 26h1v1h-1zM183 26h1v1h-1zM57 27h1v1h-1zM79 27h1v1h-1zM122 27h1v1h-1zM127 27h1v1h-1zM183 27h1v1h-1zM76 28h1v1h-1zM84 28h1v1h-1zM94 28h2v1h-2zM123 28h1v1h-1zM139 28h1v1h-1zM163 28h1v1h-1zM37 29h1v1h-1zM47 29h1v1h-1zM49 29h1v1h-1zM55 29h1v1h-1zM101 29h1v1h-1zM126 29h1v1h-1zM181 29h2v1h-2zM185 29h1v1h-1zM49 30h1v1h-1zM71 30h1v1h-1zM93 30h1v1h-1zM124 30h1v1h-1zM126 30h1v1h-1zM128 30h1v1h-1zM163 30h1v1h-1zM165 30h1v1h-1zM169 30h1v1h-1zM183 30h1v1h-1zM52 31h1v1h-1zM68 31h1v1h-1zM88 31h1v1h-1zM124 31h1v1h-1zM129 31h1v1h-1zM139 31h1v1h-1zM148 31h1v1h-1zM163 31h1v1h-1zM166 31h1v1h-1zM171 31h1v1h-1zM181 31h1v1h-1zM71 32h1v1h-1zM94 32h1v1h-1zM99 32h1v1h-1zM101 32h1v1h-1zM123 32h1v1h-1zM125 32h1v1h-1zM139 32h1v1h-1zM154 32h1v1h-1zM169 32h1v1h-1zM185 32h1v1h-1zM42 33h1v1h-1zM57 33h1v1h-1zM95 33h1v1h-1zM99 33h1v1h-1zM102 33h1v1h-1zM168 33h1v1h-1zM171 33h1v1h-1zM183 33h1v1h-1zM52 34h1v1h-1zM74 34h1v1h-1zM77 34h1v1h-1zM95 34h1v1h-1zM99 34h1v1h-1zM105 34h1v1h-1zM108 34h1v1h-1zM112 34h1v1h-1zM120 34h1v1h-1zM123 34h1v1h-1zM131 34h1v1h-1zM149 34h1v1h-1zM101 35h1v1h-1zM128 35h1v1h-1zM162 35h1v1h-1zM182 35h1v1h-1zM185 35h1v1h-1zM76 36h2v1h-2zM80 36h1v1h-1zM94 36h1v1h-1zM96 36h1v1h-1zM108 36h1v1h-1zM121 36h1v1h-1zM126 36h1v1h-1zM128 36h1v1h-1zM149 36h2v1h-2zM169 36h1v1h-1zM178 36h1v1h-1zM72 37h1v1h-1zM85 37h1v1h-1zM95 37h1v1h-1zM104 37h1v1h-1zM113 37h1v1h-1zM125 37h1v1h-1zM48 38h1v1h-1zM55 38h1v1h-1zM74 38h1v1h-1zM80 38h1v1h-1zM94 38h1v1h-1zM100 38h1v1h-1zM102 38h1v1h-1zM118 38h1v1h-1zM124 38h1v1h-1zM137 38h1v1h-1zM166 38h1v1h-1zM185 38h1v1h-1zM37 39h1v1h-1zM95 39h1v1h-1zM98 39h1v1h-1zM104 39h1v1h-1zM119 39h1v1h-1zM134 39h1v1h-1zM139 39h1v1h-1zM180 39h1v1h-1zM183 39h1v1h-1zM187 39h1v1h-1zM31 40h1v1h-1zM68 40h1v1h-1zM95 40h1v1h-1zM98 40h1v1h-1zM103 40h1v1h-1zM178 40h1v1h-1zM182 40h1v1h-1zM194 40h1v1h-1zM52 41h1v1h-1zM67 41h1v1h-1zM92 41h2v1h-2zM110 41h1v1h-1zM124 41h1v1h-1zM148 41h1v1h-1zM182 41h1v1h-1zM67 42h1v1h-1zM75 42h1v1h-1zM112 42h1v1h-1zM125 42h1v1h-1zM134 42h1v1h-1zM172 42h1v1h-1zM186 42h1v1h-1zM83 43h1v1h-1zM85 43h1v1h-1zM110 43h1v1h-1zM125 43h1v1h-1zM132 43h1v1h-1zM163 43h1v1h-1zM172 43h2v1h-2zM55 44h1v1h-1zM67 44h1v1h-1zM82 44h1v1h-1zM85 44h1v1h-1zM96 44h1v1h-1zM105 44h1v1h-1zM122 44h1v1h-1zM124 44h1v1h-1zM135 44h1v1h-1zM146 44h1v1h-1zM158 44h1v1h-1zM176 44h1v1h-1zM181 44h1v1h-1zM61 45h1v1h-1zM74 45h1v1h-1zM79 45h2v1h-2zM86 45h1v1h-1zM97 45h1v1h-1zM110 45h1v1h-1zM120 45h1v1h-1zM124 45h1v1h-1zM155 45h1v1h-1zM170 45h1v1h-1zM173 45h1v1h-1zM70 46h1v1h-1zM94 46h1v1h-1zM96 46h1v1h-1zM101 46h1v1h-1zM61 47h1v1h-1zM69 47h1v1h-1zM89 47h1v1h-1zM100 47h2v1h-2zM113 47h1v1h-1zM180 47h1v1h-1zM53 48h1v1h-1zM67 48h1v1h-1zM69 48h1v1h-1zM71 48h1v1h-1zM78 48h1v1h-1zM97 48h1v1h-1zM104 48h1v1h-1zM132 48h1v1h-1zM140 48h1v1h-1zM169 48h1v1h-1zM173 48h1v1h-1zM194 48h1v1h-1zM60 49h1v1h-1zM68 49h1v1h-1zM81 49h1v1h-1zM95 49h1v1h-1zM98 49h1v1h-1zM108 49h1v1h-1zM169 49h1v1h-1zM171 49h1v1h-1zM190 49h1v1h-1zM61 50h1v1h-1zM72 50h1v1h-1zM78 50h1v1h-1zM89 50h1v1h-1zM94 50h1v1h-1zM98 50h1v1h-1zM107 50h1v1h-1zM111 50h1v1h-1zM124 50h1v1h-1zM127 50h1v1h-1zM141 50h1v1h-1zM172 50h1v1h-1zM177 50h2v1h-2zM190 50h2v1h-2zM67 51h1v1h-1zM72 51h1v1h-1zM99 51h1v1h-1zM102 51h1v1h-1zM109 51h1v1h-1zM126 51h1v1h-1zM129 51h1v1h-1zM148 51h1v1h-1zM166 51h1v1h-1zM168 51h1v1h-1zM96 52h2v1h-2zM106 52h1v1h-1zM113 52h1v1h-1zM121 52h1v1h-1zM123 52h1v1h-1zM157 52h2v1h-2zM169 52h1v1h-1zM41 53h1v1h-1zM44 53h1v1h-1zM54 53h1v1h-1zM61 53h1v1h-1zM70 53h1v1h-1zM95 53h1v1h-1zM120 53h1v1h-1zM125 53h1v1h-1zM135 53h1v1h-1zM150 53h1v1h-1zM187 53h2v1h-2zM191 53h1v1h-1zM45 54h1v1h-1zM48 54h1v1h-1zM67 54h1v1h-1zM70 54h1v1h-1zM100 54h1v1h-1zM119 54h1v1h-1zM125 54h1v1h-1zM135 54h1v1h-1zM163 54h1v1h-1zM168 54h1v1h-1zM48 55h1v1h-1zM84 55h1v1h-1zM120 55h1v1h-1zM123 55h2v1h-2zM156 55h1v1h-1zM167 55h1v1h-1zM189 55h1v1h-1zM194 55h1v1h-1zM53 56h1v1h-1zM57 56h1v1h-1zM61 56h1v1h-1zM78 56h1v1h-1zM83 56h1v1h-1zM86 56h1v1h-1zM97 56h1v1h-1zM99 56h1v1h-1zM110 56h1v1h-1zM132 56h1v1h-1zM142 56h1v1h-1zM172 56h1v1h-1zM186 56h1v1h-1zM191 56h1v1h-1zM95 57h1v1h-1zM98 57h1v1h-1zM105 57h1v1h-1zM107 57h1v1h-1zM125 57h1v1h-1zM131 57h1v1h-1zM134 57h1v1h-1zM141 57h1v1h-1zM166 57h1v1h-1zM170 57h1v1h-1zM194 57h1v1h-1zM53 58h1v1h-1zM73 58h1v1h-1zM87 58h1v1h-1zM94 58h1v1h-1zM96 58h2v1h-2zM167 58h2v1h-2zM170 58h1v1h-1zM172 58h1v1h-1zM190 58h1v1h-1zM194 58h1v1h-1zM56 59h1v1h-1zM67 59h1v1h-1zM75 59h2v1h-2zM87 59h1v1h-1zM127 59h1v1h-1zM149 59h1v1h-1zM157 59h1v1h-1zM169 59h1v1h-1zM191 59h1v1h-1zM76 60h2v1h-2zM99 60h1v1h-1zM106 60h1v1h-1zM156 60h1v1h-1zM169 60h1v1h-1zM172 60h1v1h-1zM55 61h1v1h-1zM57 61h1v1h-1zM73 61h1v1h-1zM89 61h1v1h-1zM94 61h1v1h-1zM123 61h1v1h-1zM167 61h2v1h-2zM179 61h1v1h-1zM190 61h2v1h-2zM98 62h2v1h-2zM139 62h1v1h-1zM170 62h1v1h-1zM172 62h1v1h-1zM182 62h1v1h-1zM55 63h1v1h-1zM59 63h1v1h-1zM68 63h1v1h-1zM97 63h1v1h-1zM142 63h1v1h-1zM150 63h1v1h-1zM152 63h1v1h-1zM154 63h1v1h-1zM169 63h1v1h-1zM172 63h1v1h-1zM51 64h1v1h-1zM127 64h2v1h-2zM152 64h1v1h-1zM155 64h1v1h-1zM167 64h1v1h-1zM170 64h1v1h-1zM190 64h2v1h-2zM194 64h1v1h-1zM53 65h1v1h-1zM106 65h1v1h-1zM169 65h1v1h-1zM171 65h1v1h-1zM121 66h1v1h-1zM144 66h2v1h-2zM165 66h1v1h-1zM51 67h1v1h-1zM153 67h2v1h-2zM158 67h1v1h-1zM162 67h1v1h-1zM168 67h1v1h-1zM184 67h1v1h-1zM78 68h1v1h-1zM111 68h1v1h-1zM157 68h1v1h-1zM170 68h1v1h-1zM64 69h1v1h-1zM69 69h1v1h-1zM108 69h1v1h-1zM113 69h1v1h-1zM121 69h1v1h-1zM158 69h1v1h-1zM169 69h1v1h-1zM191 69h1v1h-1zM101 70h1v1h-1zM157 70h1v1h-1zM187 70h1v1h-1zM51 71h1v1h-1zM67 71h1v1h-1zM103 71h1v1h-1zM143 71h1v1h-1zM159 71h1v1h-1zM53 72h1v1h-1zM67 72h2v1h-2zM85 72h1v1h-1zM96 72h1v1h-1zM148 72h2v1h-2zM158 72h1v1h-1zM160 72h1v1h-1zM182 72h1v1h-1zM67 73h2v1h-2zM56 74h1v1h-1zM64 74h1v1h-1zM93 74h1v1h-1zM115 74h1v1h-1zM165 74h1v1h-1zM52 75h1v1h-1zM96 75h1v1h-1zM56 76h1v1h-1zM62 76h1v1h-1zM161 76h1v1h-1zM166 76h1v1h-1zM168 76h1v1h-1zM93 77h1v1h-1zM161 77h1v1h-1zM199 77h1v1h-1zM62 78h1v1h-1zM66 78h1v1h-1zM158 78h1v1h-1zM195 78h1v1h-1zM198 78h5v1h-5zM22 79h2v1h-2zM29 79h1v1h-1zM32 79h1v1h-1zM66 79h1v1h-1zM158 79h1v1h-1zM168 79h2v1h-2zM9 80h1v1h-1zM29 80h1v1h-1zM66 80h1v1h-1zM166 80h1v1h-1zM170 80h1v1h-1zM47 81h1v1h-1zM71 81h1v1h-1zM75 81h1v1h-1zM81 81h1v1h-1zM89 81h1v1h-1zM96 81h1v1h-1zM99 81h1v1h-1zM104 81h1v1h-1zM107 81h1v1h-1zM113 81h1v1h-1zM117 81h1v1h-1zM124 81h1v1h-1zM131 81h1v1h-1zM134 81h1v1h-1zM137 81h1v1h-1zM140 81h1v1h-1zM144 81h3v1h-3zM164 81h1v1h-1zM187 81h1v1h-1zM190 81h1v1h-1zM193 81h2v1h-2zM47 82h1v1h-1zM71 82h1v1h-1zM75 82h1v1h-1zM81 82h1v1h-1zM89 82h1v1h-1zM96 82h1v1h-1zM99 82h1v1h-1zM104 82h1v1h-1zM107 82h1v1h-1zM113 82h1v1h-1zM117 82h1v1h-1zM124 82h1v1h-1zM131 82h1v1h-1zM134 82h1v1h-1zM137 82h1v1h-1zM140 82h1v1h-1zM144 82h3v1h-3zM164 82h1v1h-1zM187 82h1v1h-1zM190 82h1v1h-1zM193 82h2v1h-2z"/><path fill="#23a983" d="M74 0h1v1h-1zM86 0h1v1h-1zM95 0h1v1h-1zM99 0h1v1h-1zM102 0h1v1h-1zM120 0h1v1h-1zM126 0h2v1h-2zM151 0h1v1h-1zM162 0h1v1h-1zM164 0h1v1h-1zM169 0h1v1h-1zM171 0h1v1h-1zM74 1h1v1h-1zM86 1h1v1h-1zM95 1h1v1h-1zM99 1h1v1h-1zM102 1h1v1h-1zM120 1h1v1h-1zM126 1h2v1h-2zM151 1h1v1h-1zM162 1h1v1h-1zM164 1h1v1h-1zM169 1h1v1h-1zM171 1h1v1h-1zM59 2h2v1h-2zM69 2h1v1h-1zM75 2h1v1h-1zM87 2h1v1h-1zM126 2h1v1h-1zM139 2h1v1h-1zM150 2h1v1h-1zM163 2h1v1h-1zM180 2h1v1h-1zM188 2h1v1h-1zM38 3h1v1h-1zM46 3h1v1h-1zM60 3h1v1h-1zM89 3h2v1h-2zM97 3h1v1h-1zM121 3h1v1h-1zM125 3h2v1h-2zM134 3h1v1h-1zM139 3h1v1h-1zM147 3h1v1h-1zM162 3h1v1h-1zM164 3h1v1h-1zM48 4h1v1h-1zM51 4h2v1h-2zM56 4h1v1h-1zM85 4h1v1h-1zM87 4h1v1h-1zM94 4h2v1h-2zM123 4h1v1h-1zM152 4h1v1h-1zM168 4h1v1h-1zM185 4h1v1h-1zM42 5h1v1h-1zM49 5h1v1h-1zM70 5h1v1h-1zM91 5h1v1h-1zM103 5h1v1h-1zM108 5h1v1h-1zM126 5h1v1h-1zM129 5h1v1h-1zM181 5h1v1h-1zM188 5h1v1h-1zM44 6h1v1h-1zM51 6h1v1h-1zM53 6h1v1h-1zM60 6h1v1h-1zM74 6h1v1h-1zM82 6h1v1h-1zM91 6h1v1h-1zM95 6h1v1h-1zM98 6h1v1h-1zM133 6h1v1h-1zM149 6h1v1h-1zM47 7h1v1h-1zM55 7h1v1h-1zM58 7h1v1h-1zM60 7h1v1h-1zM85 7h1v1h-1zM97 7h2v1h-2zM165 7h1v1h-1zM185 7h1v1h-1zM187 7h1v1h-1zM53 8h1v1h-1zM71 8h1v1h-1zM100 8h2v1h-2zM108 8h1v1h-1zM133 8h1v1h-1zM163 8h1v1h-1zM184 8h1v1h-1zM194 8h1v1h-1zM42 9h2v1h-2zM52 9h1v1h-1zM55 9h1v1h-1zM60 9h1v1h-1zM82 9h1v1h-1zM94 9h1v1h-1zM99 9h1v1h-1zM103 9h1v1h-1zM139 9h1v1h-1zM154 9h1v1h-1zM50 10h1v1h-1zM56 10h1v1h-1zM58 10h2v1h-2zM67 10h1v1h-1zM84 10h1v1h-1zM86 10h1v1h-1zM95 10h1v1h-1zM100 10h1v1h-1zM110 10h1v1h-1zM135 10h1v1h-1zM162 10h1v1h-1zM43 11h1v1h-1zM70 11h1v1h-1zM101 11h1v1h-1zM155 11h2v1h-2zM166 11h1v1h-1zM186 11h2v1h-2zM42 12h1v1h-1zM49 12h1v1h-1zM92 12h4v1h-4zM169 12h1v1h-1zM185 12h1v1h-1zM48 13h1v1h-1zM70 13h1v1h-1zM90 13h1v1h-1zM99 13h1v1h-1zM108 13h2v1h-2zM128 13h1v1h-1zM147 13h1v1h-1zM153 13h1v1h-1zM162 13h2v1h-2zM183 13h1v1h-1zM44 14h1v1h-1zM60 14h1v1h-1zM82 14h1v1h-1zM91 14h1v1h-1zM97 14h1v1h-1zM155 14h1v1h-1zM163 14h1v1h-1zM168 14h1v1h-1zM53 15h1v1h-1zM57 15h1v1h-1zM73 15h1v1h-1zM86 15h1v1h-1zM92 15h1v1h-1zM98 15h1v1h-1zM120 15h1v1h-1zM122 15h1v1h-1zM127 15h2v1h-2zM130 15h1v1h-1zM136 15h2v1h-2zM149 15h1v1h-1zM151 15h1v1h-1zM183 15h1v1h-1zM46 16h1v1h-1zM74 16h1v1h-1zM96 16h1v1h-1zM99 16h2v1h-2zM123 16h1v1h-1zM126 16h2v1h-2zM138 16h1v1h-1zM187 16h1v1h-1zM52 17h1v1h-1zM56 17h1v1h-1zM69 17h1v1h-1zM91 17h1v1h-1zM94 17h1v1h-1zM132 17h1v1h-1zM154 17h1v1h-1zM58 18h1v1h-1zM81 18h1v1h-1zM95 18h1v1h-1zM137 18h1v1h-1zM149 18h1v1h-1zM172 18h1v1h-1zM183 18h1v1h-1zM53 19h1v1h-1zM56 19h1v1h-1zM81 19h1v1h-1zM98 19h1v1h-1zM127 19h1v1h-1zM132 19h1v1h-1zM148 19h1v1h-1zM163 19h1v1h-1zM182 19h1v1h-1zM78 20h1v1h-1zM92 20h1v1h-1zM98 20h2v1h-2zM101 20h1v1h-1zM123 20h1v1h-1zM137 20h1v1h-1zM139 20h1v1h-1zM165 20h1v1h-1zM183 20h1v1h-1zM37 21h1v1h-1zM53 21h1v1h-1zM67 21h1v1h-1zM85 21h2v1h-2zM97 21h1v1h-1zM100 21h1v1h-1zM129 21h1v1h-1zM164 21h1v1h-1zM194 21h1v1h-1zM40 22h1v1h-1zM59 22h1v1h-1zM82 22h1v1h-1zM93 22h1v1h-1zM127 22h1v1h-1zM131 22h1v1h-1zM139 22h1v1h-1zM163 22h1v1h-1zM169 22h1v1h-1zM69 23h1v1h-1zM71 23h1v1h-1zM95 23h1v1h-1zM120 23h1v1h-1zM127 23h1v1h-1zM137 23h1v1h-1zM167 23h1v1h-1zM185 23h1v1h-1zM187 23h1v1h-1zM37 24h1v1h-1zM67 24h1v1h-1zM83 24h2v1h-2zM95 24h1v1h-1zM49 25h1v1h-1zM86 25h1v1h-1zM124 25h1v1h-1zM128 25h1v1h-1zM138 25h1v1h-1zM150 25h1v1h-1zM166 25h1v1h-1zM168 25h1v1h-1zM187 25h1v1h-1zM44 26h1v1h-1zM48 26h1v1h-1zM55 26h1v1h-1zM74 26h1v1h-1zM77 26h1v1h-1zM85 26h1v1h-1zM87 26h1v1h-1zM125 26h1v1h-1zM127 26h1v1h-1zM149 26h1v1h-1zM42 27h1v1h-1zM51 27h1v1h-1zM78 27h1v1h-1zM84 27h1v1h-1zM93 27h1v1h-1zM101 27h1v1h-1zM124 27h1v1h-1zM136 27h1v1h-1zM139 27h1v1h-1zM178 27h1v1h-1zM52 28h2v1h-2zM70 28h1v1h-1zM83 28h1v1h-1zM96 28h1v1h-1zM126 28h1v1h-1zM150 28h1v1h-1zM152 28h1v1h-1zM186 28h1v1h-1zM48 29h1v1h-1zM51 29h1v1h-1zM54 29h1v1h-1zM69 29h1v1h-1zM71 29h1v1h-1zM77 29h1v1h-1zM98 29h2v1h-2zM108 29h1v1h-1zM124 29h1v1h-1zM128 29h1v1h-1zM131 29h1v1h-1zM149 29h2v1h-2zM50 30h2v1h-2zM75 30h1v1h-1zM78 30h1v1h-1zM84 30h1v1h-1zM94 30h1v1h-1zM96 30h1v1h-1zM99 30h1v1h-1zM122 30h1v1h-1zM125 30h1v1h-1zM139 30h1v1h-1zM179 30h1v1h-1zM187 30h1v1h-1zM37 31h1v1h-1zM43 31h1v1h-1zM51 31h1v1h-1zM87 31h1v1h-1zM101 31h1v1h-1zM120 31h1v1h-1zM123 31h1v1h-1zM130 31h1v1h-1zM188 31h1v1h-1zM37 32h2v1h-2zM81 32h1v1h-1zM103 32h1v1h-1zM127 32h1v1h-1zM170 32h1v1h-1zM172 32h1v1h-1zM186 32h1v1h-1zM51 33h1v1h-1zM54 33h1v1h-1zM58 33h1v1h-1zM69 33h1v1h-1zM72 33h1v1h-1zM85 33h1v1h-1zM93 33h1v1h-1zM101 33h1v1h-1zM125 33h1v1h-1zM127 33h2v1h-2zM150 33h1v1h-1zM172 33h1v1h-1zM178 33h2v1h-2zM49 34h1v1h-1zM71 34h1v1h-1zM97 34h1v1h-1zM109 34h1v1h-1zM125 34h3v1h-3zM132 34h1v1h-1zM165 34h1v1h-1zM129 35h1v1h-1zM163 35h1v1h-1zM44 36h2v1h-2zM55 36h1v1h-1zM58 36h1v1h-1zM82 36h1v1h-1zM95 36h1v1h-1zM98 36h1v1h-1zM100 36h1v1h-1zM127 36h1v1h-1zM37 37h1v1h-1zM42 37h1v1h-1zM73 37h1v1h-1zM86 37h1v1h-1zM97 37h1v1h-1zM103 37h1v1h-1zM124 37h1v1h-1zM130 37h1v1h-1zM150 37h1v1h-1zM172 37h1v1h-1zM194 37h1v1h-1zM43 38h1v1h-1zM50 38h1v1h-1zM52 38h1v1h-1zM54 38h1v1h-1zM58 38h1v1h-1zM82 38h2v1h-2zM125 38h1v1h-1zM139 38h1v1h-1zM187 38h1v1h-1zM51 39h1v1h-1zM77 39h1v1h-1zM100 39h1v1h-1zM102 39h1v1h-1zM110 39h1v1h-1zM124 39h1v1h-1zM186 39h1v1h-1zM47 40h1v1h-1zM51 40h1v1h-1zM56 40h1v1h-1zM67 40h1v1h-1zM73 40h1v1h-1zM75 40h1v1h-1zM85 40h1v1h-1zM91 40h1v1h-1zM99 40h3v1h-3zM169 40h1v1h-1zM172 40h1v1h-1zM42 41h1v1h-1zM53 41h1v1h-1zM68 41h1v1h-1zM83 41h1v1h-1zM100 41h1v1h-1zM119 41h1v1h-1zM127 41h2v1h-2zM134 41h1v1h-1zM146 41h1v1h-1zM154 41h1v1h-1zM158 41h1v1h-1zM164 41h1v1h-1zM183 41h1v1h-1zM185 41h2v1h-2zM69 42h1v1h-1zM77 42h1v1h-1zM79 42h1v1h-1zM81 42h1v1h-1zM99 42h1v1h-1zM108 42h1v1h-1zM111 42h1v1h-1zM121 42h1v1h-1zM128 42h1v1h-1zM136 42h1v1h-1zM162 42h1v1h-1zM165 42h1v1h-1zM182 42h1v1h-1zM54 43h1v1h-1zM97 43h1v1h-1zM101 43h1v1h-1zM123 43h2v1h-2zM54 44h1v1h-1zM68 44h1v1h-1zM81 44h1v1h-1zM97 44h1v1h-1zM104 44h1v1h-1zM164 44h1v1h-1zM54 45h1v1h-1zM69 45h1v1h-1zM78 45h1v1h-1zM85 45h1v1h-1zM126 45h1v1h-1zM130 45h2v1h-2zM134 45h1v1h-1zM182 45h1v1h-1zM194 45h1v1h-1zM43 46h1v1h-1zM54 46h1v1h-1zM84 46h1v1h-1zM119 46h1v1h-1zM125 46h1v1h-1zM150 46h1v1h-1zM158 46h1v1h-1zM172 46h2v1h-2zM178 46h1v1h-1zM183 46h1v1h-1zM188 46h1v1h-1zM76 47h1v1h-1zM128 47h1v1h-1zM157 47h1v1h-1zM167 47h1v1h-1zM70 48h1v1h-1zM87 48h1v1h-1zM93 48h1v1h-1zM96 48h1v1h-1zM100 48h1v1h-1zM131 48h1v1h-1zM146 48h1v1h-1zM94 49h1v1h-1zM99 49h1v1h-1zM124 49h1v1h-1zM137 49h1v1h-1zM151 49h1v1h-1zM166 49h1v1h-1zM67 50h1v1h-1zM73 50h1v1h-1zM99 50h2v1h-2zM104 50h1v1h-1zM137 50h1v1h-1zM156 50h1v1h-1zM169 50h1v1h-1zM173 50h1v1h-1zM180 50h1v1h-1zM194 50h1v1h-1zM81 51h1v1h-1zM88 51h1v1h-1zM98 51h1v1h-1zM104 51h1v1h-1zM130 51h1v1h-1zM135 51h1v1h-1zM156 51h1v1h-1zM173 51h1v1h-1zM185 51h1v1h-1zM56 52h1v1h-1zM98 52h1v1h-1zM117 52h1v1h-1zM119 52h2v1h-2zM137 52h1v1h-1zM156 52h1v1h-1zM168 52h1v1h-1zM183 52h1v1h-1zM49 53h1v1h-1zM56 53h1v1h-1zM75 53h1v1h-1zM85 53h1v1h-1zM126 53h1v1h-1zM136 53h2v1h-2zM162 53h2v1h-2zM171 53h1v1h-1zM184 53h1v1h-1zM46 54h1v1h-1zM60 54h1v1h-1zM73 54h1v1h-1zM75 54h1v1h-1zM93 54h1v1h-1zM96 54h1v1h-1zM101 54h1v1h-1zM108 54h1v1h-1zM110 54h1v1h-1zM148 54h1v1h-1zM156 54h1v1h-1zM162 54h1v1h-1zM171 54h2v1h-2zM37 55h1v1h-1zM41 55h1v1h-1zM49 55h1v1h-1zM56 55h2v1h-2zM71 55h1v1h-1zM85 55h1v1h-1zM95 55h1v1h-1zM99 55h3v1h-3zM103 55h1v1h-1zM106 55h1v1h-1zM137 55h1v1h-1zM146 55h1v1h-1zM148 55h1v1h-1zM59 56h1v1h-1zM72 56h1v1h-1zM96 56h1v1h-1zM134 56h1v1h-1zM136 56h1v1h-1zM139 56h1v1h-1zM188 56h1v1h-1zM38 57h1v1h-1zM69 57h1v1h-1zM76 57h1v1h-1zM100 57h1v1h-1zM102 57h1v1h-1zM104 57h1v1h-1zM111 57h1v1h-1zM117 57h1v1h-1zM119 57h1v1h-1zM133 57h1v1h-1zM162 57h1v1h-1zM168 57h1v1h-1zM182 57h1v1h-1zM43 58h1v1h-1zM55 58h1v1h-1zM72 58h1v1h-1zM78 58h2v1h-2zM95 58h1v1h-1zM108 58h1v1h-1zM139 58h1v1h-1zM158 58h1v1h-1zM171 58h1v1h-1zM189 58h1v1h-1zM60 59h1v1h-1zM80 59h1v1h-1zM95 59h1v1h-1zM179 59h1v1h-1zM186 59h1v1h-1zM40 60h2v1h-2zM60 60h1v1h-1zM101 60h1v1h-1zM111 60h1v1h-1zM118 60h1v1h-1zM154 60h1v1h-1zM164 60h1v1h-1zM40 61h1v1h-1zM71 61h1v1h-1zM101 61h1v1h-1zM158 61h1v1h-1zM165 61h1v1h-1zM184 61h1v1h-1zM38 62h1v1h-1zM57 62h1v1h-1zM59 62h1v1h-1zM93 62h1v1h-1zM96 62h1v1h-1zM118 62h1v1h-1zM152 62h1v1h-1zM180 62h1v1h-1zM37 63h1v1h-1zM60 63h1v1h-1zM96 63h1v1h-1zM151 63h1v1h-1zM163 63h1v1h-1zM165 63h1v1h-1zM55 64h1v1h-1zM61 64h1v1h-1zM80 64h1v1h-1zM122 64h1v1h-1zM139 64h1v1h-1zM184 64h2v1h-2zM52 65h1v1h-1zM69 65h1v1h-1zM81 65h1v1h-1zM112 65h1v1h-1zM118 65h1v1h-1zM139 65h1v1h-1zM162 65h1v1h-1zM186 65h1v1h-1zM67 66h1v1h-1zM73 66h1v1h-1zM102 66h2v1h-2zM172 66h1v1h-1zM61 67h1v1h-1zM80 67h1v1h-1zM104 67h1v1h-1zM126 67h1v1h-1zM150 67h3v1h-3zM167 67h1v1h-1zM185 67h2v1h-2zM191 67h1v1h-1zM51 68h2v1h-2zM125 68h1v1h-1zM152 68h1v1h-1zM158 68h1v1h-1zM188 68h1v1h-1zM123 69h1v1h-1zM112 70h2v1h-2zM116 70h1v1h-1zM146 70h1v1h-1zM188 70h1v1h-1zM62 71h1v1h-1zM120 71h3v1h-3zM161 71h1v1h-1zM187 71h1v1h-1zM62 72h1v1h-1zM70 72h2v1h-2zM99 72h1v1h-1zM108 72h1v1h-1zM110 72h1v1h-1zM118 72h1v1h-1zM143 72h1v1h-1zM147 72h1v1h-1zM159 72h1v1h-1zM97 73h1v1h-1zM100 73h1v1h-1zM157 73h1v1h-1zM168 73h1v1h-1zM170 73h1v1h-1zM67 74h1v1h-1zM69 74h2v1h-2zM98 74h1v1h-1zM116 74h1v1h-1zM171 74h1v1h-1zM191 74h1v1h-1zM43 75h1v1h-1zM85 75h1v1h-1zM90 75h1v1h-1zM94 76h1v1h-1zM127 76h1v1h-1zM178 76h1v1h-1zM188 76h1v1h-1zM127 77h1v1h-1zM157 77h1v1h-1zM165 77h1v1h-1zM191 77h1v1h-1zM36 78h1v1h-1zM50 78h1v1h-1zM196 78h1v1h-1zM42 79h1v1h-1zM157 79h1v1h-1zM165 79h2v1h-2zM204 79h1v1h-1zM2 80h1v1h-1zM14 80h1v1h-1zM16 80h1v1h-1zM30 80h1v1h-1zM38 80h1v1h-1zM64 80h1v1h-1zM169 80h1v1h-1zM189 80h1v1h-1zM194 80h1v1h-1zM37 81h1v1h-1zM41 81h1v1h-1zM45 81h2v1h-2zM77 81h1v1h-1zM101 81h2v1h-2zM105 81h1v1h-1zM108 81h1v1h-1zM122 81h2v1h-2zM142 81h1v1h-1zM162 81h2v1h-2zM174 81h1v1h-1zM185 81h1v1h-1zM189 81h1v1h-1zM37 82h1v1h-1zM41 82h1v1h-1zM45 82h2v1h-2zM77 82h1v1h-1zM101 82h2v1h-2zM105 82h1v1h-1zM108 82h1v1h-1zM122 82h2v1h-2zM142 82h1v1h-1zM162 82h2v1h-2zM174 82h1v1h-1zM185 82h1v1h-1zM189 82h1v1h-1z"/><path fill="#26ad81" d="M50 0h1v1h-1zM54 0h1v1h-1zM85 0h1v1h-1zM122 0h1v1h-1zM137 0h1v1h-1zM139 0h1v1h-1zM50 1h1v1h-1zM54 1h1v1h-1zM85 1h1v1h-1zM122 1h1v1h-1zM137 1h1v1h-1zM139 1h1v1h-1zM38 2h1v1h-1zM52 2h1v1h-1zM56 2h1v1h-1zM67 2h1v1h-1zM73 2h1v1h-1zM95 2h1v1h-1zM100 2h1v1h-1zM148 2h1v1h-1zM156 2h1v1h-1zM166 2h2v1h-2zM171 2h1v1h-1zM56 3h1v1h-1zM76 3h1v1h-1zM95 3h1v1h-1zM122 3h1v1h-1zM152 3h1v1h-1zM155 3h1v1h-1zM170 3h2v1h-2zM50 4h1v1h-1zM54 4h1v1h-1zM59 4h1v1h-1zM69 4h1v1h-1zM89 4h1v1h-1zM96 4h1v1h-1zM126 4h2v1h-2zM136 4h1v1h-1zM138 4h1v1h-1zM151 4h1v1h-1zM155 4h1v1h-1zM163 4h3v1h-3zM183 4h1v1h-1zM52 5h1v1h-1zM56 5h1v1h-1zM86 5h1v1h-1zM99 5h1v1h-1zM102 5h1v1h-1zM104 5h1v1h-1zM128 5h1v1h-1zM130 5h1v1h-1zM133 5h1v1h-1zM139 5h1v1h-1zM150 5h1v1h-1zM166 5h1v1h-1zM46 6h2v1h-2zM56 6h2v1h-2zM94 6h1v1h-1zM100 6h2v1h-2zM103 6h1v1h-1zM136 6h1v1h-1zM139 6h1v1h-1zM166 6h1v1h-1zM181 6h1v1h-1zM51 7h1v1h-1zM68 7h3v1h-3zM87 7h1v1h-1zM95 7h1v1h-1zM99 7h1v1h-1zM102 7h1v1h-1zM104 7h1v1h-1zM128 7h1v1h-1zM149 7h1v1h-1zM168 7h1v1h-1zM181 7h1v1h-1zM38 8h1v1h-1zM57 8h3v1h-3zM83 8h1v1h-1zM132 8h1v1h-1zM147 8h2v1h-2zM164 8h1v1h-1zM188 8h1v1h-1zM40 9h1v1h-1zM48 9h2v1h-2zM67 9h1v1h-1zM69 9h1v1h-1zM85 9h2v1h-2zM91 9h1v1h-1zM162 9h2v1h-2zM166 9h1v1h-1zM185 9h1v1h-1zM39 10h1v1h-1zM51 10h1v1h-1zM68 10h1v1h-1zM85 10h1v1h-1zM101 10h1v1h-1zM103 10h1v1h-1zM150 10h1v1h-1zM155 10h1v1h-1zM166 10h1v1h-1zM184 10h1v1h-1zM186 10h1v1h-1zM37 11h1v1h-1zM45 11h1v1h-1zM68 11h1v1h-1zM84 11h1v1h-1zM94 11h1v1h-1zM104 11h1v1h-1zM132 11h1v1h-1zM185 11h1v1h-1zM37 12h1v1h-1zM53 12h1v1h-1zM71 12h1v1h-1zM99 12h1v1h-1zM126 12h1v1h-1zM132 12h1v1h-1zM134 12h1v1h-1zM150 12h1v1h-1zM164 12h1v1h-1zM49 13h2v1h-2zM55 13h1v1h-1zM58 13h1v1h-1zM83 13h1v1h-1zM97 13h1v1h-1zM132 13h1v1h-1zM149 13h2v1h-2zM154 13h1v1h-1zM165 13h1v1h-1zM185 13h1v1h-1zM54 14h1v1h-1zM59 14h1v1h-1zM98 14h1v1h-1zM100 14h1v1h-1zM120 14h1v1h-1zM127 14h1v1h-1zM170 14h1v1h-1zM184 14h2v1h-2zM37 15h1v1h-1zM51 15h1v1h-1zM54 15h1v1h-1zM85 15h1v1h-1zM129 15h1v1h-1zM134 15h1v1h-1zM185 15h1v1h-1zM40 16h1v1h-1zM43 16h1v1h-1zM49 16h1v1h-1zM83 16h1v1h-1zM121 16h1v1h-1zM133 16h1v1h-1zM135 16h1v1h-1zM151 16h1v1h-1zM165 16h1v1h-1zM43 17h2v1h-2zM48 17h1v1h-1zM50 17h1v1h-1zM54 17h1v1h-1zM59 17h1v1h-1zM68 17h1v1h-1zM85 17h1v1h-1zM90 17h1v1h-1zM120 17h1v1h-1zM128 17h1v1h-1zM133 17h1v1h-1zM136 17h2v1h-2zM139 17h1v1h-1zM163 17h1v1h-1zM166 17h1v1h-1zM180 17h3v1h-3zM52 18h2v1h-2zM57 18h1v1h-1zM71 18h1v1h-1zM80 18h1v1h-1zM86 18h1v1h-1zM100 18h2v1h-2zM125 18h1v1h-1zM181 18h2v1h-2zM42 19h1v1h-1zM54 19h1v1h-1zM59 19h1v1h-1zM67 19h3v1h-3zM126 19h1v1h-1zM129 19h1v1h-1zM48 20h2v1h-2zM69 20h1v1h-1zM75 20h1v1h-1zM83 20h2v1h-2zM100 20h1v1h-1zM124 20h2v1h-2zM129 20h1v1h-1zM131 20h1v1h-1zM136 20h1v1h-1zM153 20h1v1h-1zM162 20h1v1h-1zM164 20h1v1h-1zM179 20h1v1h-1zM49 21h1v1h-1zM51 21h2v1h-2zM82 21h1v1h-1zM96 21h1v1h-1zM101 21h1v1h-1zM135 21h1v1h-1zM137 21h1v1h-1zM166 21h1v1h-1zM187 21h1v1h-1zM38 22h1v1h-1zM44 22h1v1h-1zM75 22h1v1h-1zM90 22h1v1h-1zM100 22h1v1h-1zM170 22h1v1h-1zM186 22h1v1h-1zM55 23h1v1h-1zM70 23h1v1h-1zM94 23h1v1h-1zM97 23h2v1h-2zM121 23h1v1h-1zM139 23h1v1h-1zM147 23h2v1h-2zM152 23h1v1h-1zM168 23h2v1h-2zM171 23h1v1h-1zM57 24h1v1h-1zM60 24h1v1h-1zM69 24h1v1h-1zM77 24h1v1h-1zM79 24h1v1h-1zM98 24h3v1h-3zM121 24h2v1h-2zM162 24h3v1h-3zM166 24h1v1h-1zM44 25h1v1h-1zM51 25h1v1h-1zM55 25h1v1h-1zM59 25h1v1h-1zM67 25h1v1h-1zM72 25h1v1h-1zM95 25h1v1h-1zM98 25h1v1h-1zM121 25h1v1h-1zM126 25h2v1h-2zM139 25h1v1h-1zM163 25h1v1h-1zM37 26h1v1h-1zM56 26h1v1h-1zM95 26h1v1h-1zM97 26h1v1h-1zM126 26h1v1h-1zM139 26h1v1h-1zM162 26h1v1h-1zM179 26h1v1h-1zM185 26h1v1h-1zM52 27h1v1h-1zM60 27h1v1h-1zM67 27h2v1h-2zM81 27h1v1h-1zM94 27h2v1h-2zM99 27h1v1h-1zM125 27h1v1h-1zM134 27h2v1h-2zM162 27h2v1h-2zM166 27h1v1h-1zM43 28h1v1h-1zM80 28h1v1h-1zM86 28h1v1h-1zM120 28h1v1h-1zM122 28h1v1h-1zM125 28h1v1h-1zM128 28h1v1h-1zM132 28h1v1h-1zM169 28h1v1h-1zM172 28h1v1h-1zM178 28h1v1h-1zM44 29h1v1h-1zM52 29h1v1h-1zM56 29h1v1h-1zM67 29h1v1h-1zM81 29h1v1h-1zM127 29h1v1h-1zM162 29h4v1h-4zM169 29h1v1h-1zM172 29h1v1h-1zM178 29h1v1h-1zM187 29h1v1h-1zM38 30h1v1h-1zM67 30h1v1h-1zM72 30h1v1h-1zM100 30h2v1h-2zM103 30h1v1h-1zM123 30h1v1h-1zM170 30h1v1h-1zM181 30h1v1h-1zM53 31h1v1h-1zM56 31h1v1h-1zM77 31h1v1h-1zM125 31h1v1h-1zM127 31h1v1h-1zM131 31h1v1h-1zM186 31h1v1h-1zM44 32h1v1h-1zM55 32h1v1h-1zM75 32h1v1h-1zM78 32h1v1h-1zM83 32h1v1h-1zM95 32h2v1h-2zM98 32h1v1h-1zM100 32h1v1h-1zM122 32h1v1h-1zM178 32h1v1h-1zM46 33h1v1h-1zM48 33h1v1h-1zM52 33h1v1h-1zM59 33h1v1h-1zM94 33h1v1h-1zM104 33h1v1h-1zM121 33h1v1h-1zM123 33h1v1h-1zM146 33h1v1h-1zM148 33h1v1h-1zM165 33h1v1h-1zM167 33h1v1h-1zM180 33h1v1h-1zM188 33h1v1h-1zM37 34h1v1h-1zM39 34h1v1h-1zM44 34h1v1h-1zM51 34h1v1h-1zM53 34h1v1h-1zM60 34h1v1h-1zM81 34h1v1h-1zM84 34h1v1h-1zM98 34h1v1h-1zM103 34h1v1h-1zM128 34h1v1h-1zM163 34h1v1h-1zM167 34h1v1h-1zM170 34h1v1h-1zM188 34h1v1h-1zM38 35h1v1h-1zM97 35h3v1h-3zM125 35h1v1h-1zM139 35h1v1h-1zM178 35h1v1h-1zM47 36h2v1h-2zM71 36h2v1h-2zM103 36h1v1h-1zM124 36h1v1h-1zM131 36h1v1h-1zM134 36h1v1h-1zM163 36h1v1h-1zM166 36h2v1h-2zM170 36h1v1h-1zM185 36h1v1h-1zM38 37h1v1h-1zM53 37h2v1h-2zM59 37h2v1h-2zM69 37h1v1h-1zM81 37h1v1h-1zM91 37h1v1h-1zM128 37h1v1h-1zM132 37h1v1h-1zM170 37h1v1h-1zM42 38h1v1h-1zM44 38h1v1h-1zM53 38h1v1h-1zM57 38h1v1h-1zM70 38h1v1h-1zM75 38h1v1h-1zM81 38h1v1h-1zM92 38h1v1h-1zM95 38h1v1h-1zM127 38h1v1h-1zM163 38h1v1h-1zM171 38h1v1h-1zM38 39h1v1h-1zM50 39h1v1h-1zM55 39h1v1h-1zM103 39h1v1h-1zM109 39h1v1h-1zM167 39h2v1h-2zM70 40h1v1h-1zM84 40h1v1h-1zM89 40h1v1h-1zM121 40h1v1h-1zM123 40h1v1h-1zM129 40h1v1h-1zM131 40h2v1h-2zM138 40h1v1h-1zM154 40h2v1h-2zM167 40h2v1h-2zM183 40h2v1h-2zM55 41h1v1h-1zM58 41h1v1h-1zM95 41h1v1h-1zM101 41h1v1h-1zM117 41h1v1h-1zM123 41h1v1h-1zM129 41h1v1h-1zM156 41h1v1h-1zM169 41h1v1h-1zM171 41h1v1h-1zM59 42h1v1h-1zM80 42h1v1h-1zM82 42h1v1h-1zM93 42h1v1h-1zM96 42h1v1h-1zM98 42h1v1h-1zM122 42h1v1h-1zM151 42h1v1h-1zM166 42h1v1h-1zM183 42h1v1h-1zM56 43h1v1h-1zM60 43h1v1h-1zM100 43h1v1h-1zM130 43h1v1h-1zM175 43h2v1h-2zM180 43h1v1h-1zM74 44h1v1h-1zM80 44h1v1h-1zM95 44h1v1h-1zM101 44h1v1h-1zM103 44h1v1h-1zM108 44h1v1h-1zM120 44h1v1h-1zM123 44h1v1h-1zM136 44h1v1h-1zM177 44h1v1h-1zM187 44h1v1h-1zM38 45h1v1h-1zM55 45h1v1h-1zM94 45h1v1h-1zM98 45h1v1h-1zM112 45h1v1h-1zM122 45h1v1h-1zM151 45h1v1h-1zM179 45h1v1h-1zM187 45h2v1h-2zM95 46h1v1h-1zM151 46h1v1h-1zM180 46h1v1h-1zM74 47h1v1h-1zM81 47h1v1h-1zM99 47h1v1h-1zM106 47h1v1h-1zM110 47h3v1h-3zM125 47h1v1h-1zM134 47h1v1h-1zM172 47h1v1h-1zM175 47h1v1h-1zM188 47h1v1h-1zM38 48h1v1h-1zM40 48h1v1h-1zM72 48h1v1h-1zM85 48h2v1h-2zM94 48h1v1h-1zM126 48h1v1h-1zM153 48h1v1h-1zM166 48h1v1h-1zM168 48h1v1h-1zM177 48h1v1h-1zM179 48h1v1h-1zM182 48h1v1h-1zM41 49h1v1h-1zM80 49h1v1h-1zM82 49h2v1h-2zM96 49h2v1h-2zM125 49h1v1h-1zM131 49h1v1h-1zM138 49h1v1h-1zM165 49h1v1h-1zM86 50h1v1h-1zM121 50h1v1h-1zM128 50h1v1h-1zM138 50h2v1h-2zM165 50h1v1h-1zM167 50h1v1h-1zM55 51h1v1h-1zM82 51h3v1h-3zM100 51h1v1h-1zM120 51h1v1h-1zM123 51h1v1h-1zM147 51h1v1h-1zM149 51h1v1h-1zM165 51h1v1h-1zM170 51h1v1h-1zM181 51h1v1h-1zM41 52h1v1h-1zM100 52h1v1h-1zM104 52h2v1h-2zM110 52h1v1h-1zM112 52h1v1h-1zM174 52h1v1h-1zM178 52h1v1h-1zM182 52h1v1h-1zM58 53h1v1h-1zM86 53h1v1h-1zM97 53h2v1h-2zM121 53h1v1h-1zM127 53h2v1h-2zM138 53h1v1h-1zM164 53h1v1h-1zM186 53h1v1h-1zM190 53h1v1h-1zM42 54h1v1h-1zM77 54h2v1h-2zM82 54h1v1h-1zM120 54h1v1h-1zM136 54h1v1h-1zM177 54h2v1h-2zM181 54h1v1h-1zM81 55h1v1h-1zM104 55h1v1h-1zM111 55h1v1h-1zM117 55h1v1h-1zM125 55h1v1h-1zM147 55h1v1h-1zM182 55h1v1h-1zM58 56h1v1h-1zM67 56h1v1h-1zM82 56h1v1h-1zM127 56h2v1h-2zM44 57h1v1h-1zM97 57h1v1h-1zM103 57h1v1h-1zM123 57h1v1h-1zM152 57h1v1h-1zM157 57h1v1h-1zM165 57h1v1h-1zM185 57h1v1h-1zM50 58h1v1h-1zM56 58h1v1h-1zM77 58h1v1h-1zM85 58h1v1h-1zM101 58h1v1h-1zM137 58h1v1h-1zM179 58h1v1h-1zM44 59h1v1h-1zM49 59h1v1h-1zM58 59h1v1h-1zM73 59h1v1h-1zM94 59h1v1h-1zM98 59h1v1h-1zM132 59h1v1h-1zM135 59h1v1h-1zM59 60h1v1h-1zM70 60h1v1h-1zM94 60h2v1h-2zM104 60h1v1h-1zM107 60h1v1h-1zM112 60h1v1h-1zM132 60h1v1h-1zM134 60h1v1h-1zM149 60h1v1h-1zM157 60h1v1h-1zM166 60h1v1h-1zM43 61h1v1h-1zM47 61h1v1h-1zM61 61h1v1h-1zM96 61h1v1h-1zM98 61h2v1h-2zM177 61h1v1h-1zM186 61h1v1h-1zM189 61h1v1h-1zM75 62h1v1h-1zM94 62h1v1h-1zM101 62h1v1h-1zM123 62h1v1h-1zM186 62h2v1h-2zM40 63h1v1h-1zM71 63h1v1h-1zM86 63h1v1h-1zM99 63h2v1h-2zM156 63h1v1h-1zM166 63h1v1h-1zM181 63h1v1h-1zM39 64h1v1h-1zM85 64h1v1h-1zM93 64h2v1h-2zM98 64h1v1h-1zM156 64h1v1h-1zM172 64h1v1h-1zM189 64h1v1h-1zM59 65h1v1h-1zM105 65h1v1h-1zM113 65h1v1h-1zM119 65h1v1h-1zM122 65h1v1h-1zM156 65h1v1h-1zM143 66h1v1h-1zM152 66h1v1h-1zM169 66h1v1h-1zM40 67h1v1h-1zM56 67h1v1h-1zM68 67h1v1h-1zM103 67h1v1h-1zM145 67h1v1h-1zM155 67h1v1h-1zM163 67h1v1h-1zM189 67h1v1h-1zM107 68h1v1h-1zM143 68h1v1h-1zM154 68h2v1h-2zM187 68h1v1h-1zM71 69h1v1h-1zM76 69h1v1h-1zM93 69h1v1h-1zM96 69h3v1h-3zM100 69h1v1h-1zM120 69h1v1h-1zM165 69h1v1h-1zM177 69h1v1h-1zM190 69h1v1h-1zM40 70h1v1h-1zM100 70h1v1h-1zM115 70h1v1h-1zM147 70h1v1h-1zM49 71h1v1h-1zM96 71h1v1h-1zM98 71h1v1h-1zM115 71h1v1h-1zM117 71h1v1h-1zM100 72h1v1h-1zM102 72h1v1h-1zM109 72h1v1h-1zM112 72h1v1h-1zM123 72h1v1h-1zM175 72h1v1h-1zM190 72h1v1h-1zM41 73h1v1h-1zM70 73h1v1h-1zM94 73h2v1h-2zM99 73h1v1h-1zM101 73h1v1h-1zM160 73h1v1h-1zM171 73h2v1h-2zM187 73h2v1h-2zM68 74h1v1h-1zM99 74h1v1h-1zM110 74h1v1h-1zM137 74h1v1h-1zM172 74h1v1h-1zM190 74h1v1h-1zM106 75h1v1h-1zM114 75h1v1h-1zM116 75h1v1h-1zM40 76h1v1h-1zM66 76h2v1h-2zM100 76h1v1h-1zM165 76h1v1h-1zM189 76h1v1h-1zM37 77h1v1h-1zM56 77h1v1h-1zM158 77h1v1h-1zM169 77h2v1h-2zM189 77h1v1h-1zM160 78h1v1h-1zM168 78h1v1h-1zM207 78h3v1h-3zM58 79h1v1h-1zM154 79h1v1h-1zM196 79h1v1h-1zM198 79h1v1h-1zM200 79h1v1h-1zM206 79h1v1h-1zM209 79h1v1h-1zM0 80h2v1h-2zM13 80h1v1h-1zM20 80h1v1h-1zM22 80h1v1h-1zM24 80h2v1h-2zM43 80h2v1h-2zM153 80h1v1h-1zM51 81h1v1h-1zM84 81h1v1h-1zM98 81h1v1h-1zM161 81h1v1h-1zM188 81h1v1h-1zM51 82h1v1h-1zM84 82h1v1h-1zM98 82h1v1h-1zM161 82h1v1h-1zM188 82h1v1h-1z"/><path fill="#2ab07f" d="M58 0h1v1h-1zM69 0h1v1h-1zM121 0h1v1h-1zM128 0h1v1h-1zM165 0h1v1h-1zM170 0h1v1h-1zM179 0h1v1h-1zM58 1h1v1h-1zM69 1h1v1h-1zM121 1h1v1h-1zM128 1h1v1h-1zM165 1h1v1h-1zM170 1h1v1h-1zM179 1h1v1h-1zM37 2h1v1h-1zM83 2h1v1h-1zM85 2h1v1h-1zM88 2h1v1h-1zM102 2h2v1h-2zM168 2h1v1h-1zM170 2h1v1h-1zM51 3h1v1h-1zM91 3h1v1h-1zM96 3h1v1h-1zM102 3h1v1h-1zM138 3h1v1h-1zM163 3h1v1h-1zM166 3h1v1h-1zM38 4h1v1h-1zM49 4h1v1h-1zM55 4h1v1h-1zM58 4h1v1h-1zM84 4h1v1h-1zM91 4h1v1h-1zM97 4h1v1h-1zM100 4h1v1h-1zM102 4h1v1h-1zM156 4h1v1h-1zM162 4h1v1h-1zM169 4h1v1h-1zM46 5h1v1h-1zM51 5h1v1h-1zM59 5h1v1h-1zM71 5h1v1h-1zM85 5h1v1h-1zM87 5h1v1h-1zM89 5h1v1h-1zM101 5h1v1h-1zM127 5h1v1h-1zM147 5h1v1h-1zM151 5h1v1h-1zM164 5h1v1h-1zM167 5h1v1h-1zM170 5h1v1h-1zM38 6h1v1h-1zM43 6h1v1h-1zM97 6h1v1h-1zM102 6h1v1h-1zM126 6h1v1h-1zM128 6h1v1h-1zM163 6h1v1h-1zM165 6h1v1h-1zM37 7h1v1h-1zM48 7h1v1h-1zM54 7h1v1h-1zM59 7h1v1h-1zM71 7h1v1h-1zM103 7h1v1h-1zM127 7h1v1h-1zM139 7h1v1h-1zM180 7h1v1h-1zM43 8h1v1h-1zM49 8h1v1h-1zM55 8h1v1h-1zM60 8h1v1h-1zM68 8h1v1h-1zM84 8h1v1h-1zM89 8h1v1h-1zM91 8h1v1h-1zM93 8h1v1h-1zM98 8h1v1h-1zM109 8h1v1h-1zM123 8h1v1h-1zM126 8h1v1h-1zM41 9h1v1h-1zM58 9h2v1h-2zM70 9h2v1h-2zM98 9h1v1h-1zM134 9h1v1h-1zM138 9h1v1h-1zM156 9h1v1h-1zM164 9h2v1h-2zM37 10h1v1h-1zM57 10h1v1h-1zM83 10h1v1h-1zM94 10h1v1h-1zM102 10h1v1h-1zM104 10h1v1h-1zM136 10h1v1h-1zM51 11h1v1h-1zM60 11h1v1h-1zM85 11h1v1h-1zM91 11h1v1h-1zM97 11h1v1h-1zM100 11h1v1h-1zM129 11h1v1h-1zM147 11h1v1h-1zM165 11h1v1h-1zM184 11h1v1h-1zM57 12h1v1h-1zM67 12h1v1h-1zM72 12h1v1h-1zM85 12h1v1h-1zM102 12h2v1h-2zM153 12h1v1h-1zM167 12h1v1h-1zM183 12h1v1h-1zM38 13h1v1h-1zM68 13h1v1h-1zM85 13h1v1h-1zM164 13h1v1h-1zM168 13h1v1h-1zM42 14h1v1h-1zM51 14h1v1h-1zM56 14h1v1h-1zM90 14h1v1h-1zM96 14h1v1h-1zM121 14h1v1h-1zM126 14h1v1h-1zM149 14h1v1h-1zM156 14h1v1h-1zM169 14h1v1h-1zM60 15h1v1h-1zM68 15h1v1h-1zM121 15h1v1h-1zM126 15h1v1h-1zM148 15h1v1h-1zM164 15h1v1h-1zM166 15h1v1h-1zM170 15h1v1h-1zM172 15h1v1h-1zM37 16h1v1h-1zM55 16h1v1h-1zM58 16h1v1h-1zM84 16h1v1h-1zM94 16h2v1h-2zM109 16h1v1h-1zM156 16h1v1h-1zM169 16h1v1h-1zM38 17h1v1h-1zM55 17h1v1h-1zM83 17h1v1h-1zM92 17h1v1h-1zM97 17h1v1h-1zM121 17h2v1h-2zM124 17h1v1h-1zM45 18h1v1h-1zM60 18h1v1h-1zM84 18h2v1h-2zM93 18h1v1h-1zM98 18h1v1h-1zM121 18h1v1h-1zM123 18h1v1h-1zM136 18h1v1h-1zM151 18h1v1h-1zM162 18h1v1h-1zM166 18h1v1h-1zM180 18h1v1h-1zM51 19h1v1h-1zM58 19h1v1h-1zM77 19h1v1h-1zM79 19h1v1h-1zM90 19h1v1h-1zM96 19h1v1h-1zM125 19h1v1h-1zM164 19h1v1h-1zM53 20h1v1h-1zM56 20h2v1h-2zM71 20h1v1h-1zM82 20h1v1h-1zM86 20h1v1h-1zM156 20h1v1h-1zM182 20h1v1h-1zM43 21h3v1h-3zM54 21h1v1h-1zM58 21h1v1h-1zM76 21h1v1h-1zM81 21h1v1h-1zM83 21h1v1h-1zM87 21h1v1h-1zM93 21h1v1h-1zM95 21h1v1h-1zM108 21h1v1h-1zM121 21h1v1h-1zM123 21h2v1h-2zM139 21h1v1h-1zM149 21h2v1h-2zM156 21h1v1h-1zM171 21h1v1h-1zM60 22h1v1h-1zM67 22h1v1h-1zM70 22h1v1h-1zM94 22h1v1h-1zM101 22h1v1h-1zM104 22h1v1h-1zM133 22h1v1h-1zM148 22h1v1h-1zM162 22h1v1h-1zM166 22h1v1h-1zM44 23h1v1h-1zM57 23h1v1h-1zM60 23h1v1h-1zM67 23h1v1h-1zM87 23h1v1h-1zM100 23h1v1h-1zM122 23h1v1h-1zM125 23h1v1h-1zM48 24h2v1h-2zM51 24h1v1h-1zM53 24h1v1h-1zM58 24h2v1h-2zM71 24h1v1h-1zM89 24h1v1h-1zM94 24h1v1h-1zM96 24h1v1h-1zM120 24h1v1h-1zM123 24h1v1h-1zM128 24h2v1h-2zM133 24h1v1h-1zM154 24h1v1h-1zM169 24h1v1h-1zM180 24h1v1h-1zM46 25h1v1h-1zM53 25h1v1h-1zM75 25h1v1h-1zM82 25h1v1h-1zM87 25h1v1h-1zM99 25h1v1h-1zM120 25h1v1h-1zM162 25h1v1h-1zM169 25h2v1h-2zM172 25h1v1h-1zM38 26h1v1h-1zM70 26h1v1h-1zM88 26h1v1h-1zM93 26h1v1h-1zM98 26h1v1h-1zM136 26h1v1h-1zM155 26h1v1h-1zM170 26h1v1h-1zM43 27h1v1h-1zM48 27h1v1h-1zM55 27h1v1h-1zM75 27h1v1h-1zM88 27h1v1h-1zM128 27h1v1h-1zM137 27h2v1h-2zM148 27h1v1h-1zM170 27h1v1h-1zM172 27h1v1h-1zM179 27h1v1h-1zM37 28h2v1h-2zM40 28h1v1h-1zM55 28h2v1h-2zM60 28h1v1h-1zM67 28h1v1h-1zM72 28h1v1h-1zM97 28h1v1h-1zM38 29h1v1h-1zM40 29h1v1h-1zM46 29h1v1h-1zM50 29h1v1h-1zM102 29h3v1h-3zM123 29h1v1h-1zM125 29h1v1h-1zM154 29h1v1h-1zM167 29h1v1h-1zM179 29h1v1h-1zM98 30h1v1h-1zM162 30h1v1h-1zM164 30h1v1h-1zM167 30h1v1h-1zM171 30h1v1h-1zM186 30h1v1h-1zM39 31h2v1h-2zM60 31h1v1h-1zM67 31h1v1h-1zM69 31h1v1h-1zM76 31h1v1h-1zM80 31h1v1h-1zM104 31h1v1h-1zM121 31h1v1h-1zM126 31h1v1h-1zM170 31h1v1h-1zM187 31h1v1h-1zM129 32h1v1h-1zM151 32h1v1h-1zM168 32h1v1h-1zM171 32h1v1h-1zM179 32h1v1h-1zM187 32h1v1h-1zM50 33h1v1h-1zM70 33h1v1h-1zM80 33h1v1h-1zM82 33h1v1h-1zM100 33h1v1h-1zM169 33h1v1h-1zM186 33h1v1h-1zM42 34h1v1h-1zM48 34h1v1h-1zM59 34h1v1h-1zM90 34h1v1h-1zM94 34h1v1h-1zM101 34h2v1h-2zM124 34h1v1h-1zM133 34h1v1h-1zM168 34h1v1h-1zM40 35h1v1h-1zM43 35h2v1h-2zM50 35h1v1h-1zM58 35h2v1h-2zM70 35h2v1h-2zM75 35h1v1h-1zM94 35h2v1h-2zM130 35h1v1h-1zM171 35h1v1h-1zM59 36h1v1h-1zM67 36h1v1h-1zM73 36h1v1h-1zM81 36h1v1h-1zM86 36h1v1h-1zM99 36h1v1h-1zM102 36h1v1h-1zM123 36h1v1h-1zM139 36h1v1h-1zM162 36h1v1h-1zM171 36h1v1h-1zM50 37h1v1h-1zM52 37h1v1h-1zM70 37h1v1h-1zM96 37h1v1h-1zM109 37h1v1h-1zM121 37h1v1h-1zM131 37h1v1h-1zM139 37h1v1h-1zM155 37h1v1h-1zM165 37h1v1h-1zM168 37h1v1h-1zM178 37h1v1h-1zM49 38h1v1h-1zM56 38h1v1h-1zM96 38h1v1h-1zM136 38h1v1h-1zM165 38h1v1h-1zM169 38h1v1h-1zM40 39h1v1h-1zM45 39h1v1h-1zM72 39h1v1h-1zM78 39h2v1h-2zM85 39h1v1h-1zM97 39h1v1h-1zM125 39h1v1h-1zM127 39h1v1h-1zM163 39h3v1h-3zM182 39h1v1h-1zM38 40h1v1h-1zM42 40h1v1h-1zM44 40h1v1h-1zM57 40h1v1h-1zM59 40h1v1h-1zM69 40h1v1h-1zM72 40h1v1h-1zM86 40h1v1h-1zM88 40h1v1h-1zM124 40h1v1h-1zM153 40h1v1h-1zM170 40h1v1h-1zM179 40h1v1h-1zM54 41h1v1h-1zM57 41h1v1h-1zM120 41h1v1h-1zM122 41h1v1h-1zM125 41h1v1h-1zM135 41h1v1h-1zM137 41h2v1h-2zM151 41h1v1h-1zM55 42h1v1h-1zM85 42h1v1h-1zM87 42h1v1h-1zM97 42h1v1h-1zM100 42h2v1h-2zM131 42h1v1h-1zM137 42h1v1h-1zM78 43h1v1h-1zM98 43h1v1h-1zM109 43h1v1h-1zM58 44h1v1h-1zM72 44h1v1h-1zM86 44h1v1h-1zM100 44h1v1h-1zM110 44h1v1h-1zM117 44h1v1h-1zM134 44h1v1h-1zM179 44h1v1h-1zM100 45h1v1h-1zM102 45h1v1h-1zM123 45h1v1h-1zM135 45h1v1h-1zM146 45h1v1h-1zM38 46h1v1h-1zM56 46h1v1h-1zM81 46h1v1h-1zM83 46h1v1h-1zM98 46h1v1h-1zM120 46h1v1h-1zM122 46h1v1h-1zM130 46h1v1h-1zM162 46h1v1h-1zM175 46h1v1h-1zM179 46h1v1h-1zM88 47h1v1h-1zM94 47h1v1h-1zM96 47h1v1h-1zM109 47h1v1h-1zM124 47h1v1h-1zM44 48h1v1h-1zM56 48h1v1h-1zM79 48h1v1h-1zM83 48h1v1h-1zM89 48h1v1h-1zM103 48h1v1h-1zM120 48h1v1h-1zM123 48h2v1h-2zM46 49h1v1h-1zM51 49h1v1h-1zM53 49h1v1h-1zM89 49h1v1h-1zM101 49h1v1h-1zM122 49h1v1h-1zM186 49h2v1h-2zM40 50h1v1h-1zM79 50h1v1h-1zM85 50h1v1h-1zM88 50h1v1h-1zM110 50h1v1h-1zM113 50h1v1h-1zM136 50h1v1h-1zM185 50h1v1h-1zM189 50h1v1h-1zM46 51h1v1h-1zM50 51h1v1h-1zM58 51h1v1h-1zM125 51h1v1h-1zM187 51h1v1h-1zM45 52h1v1h-1zM53 52h1v1h-1zM118 52h1v1h-1zM186 52h1v1h-1zM37 53h1v1h-1zM47 53h1v1h-1zM59 53h1v1h-1zM80 53h1v1h-1zM100 53h1v1h-1zM133 53h1v1h-1zM154 53h1v1h-1zM175 53h1v1h-1zM177 53h1v1h-1zM40 54h1v1h-1zM122 54h1v1h-1zM133 54h1v1h-1zM173 54h1v1h-1zM188 54h1v1h-1zM86 55h1v1h-1zM94 55h1v1h-1zM96 55h1v1h-1zM102 55h1v1h-1zM154 55h1v1h-1zM179 55h1v1h-1zM183 55h1v1h-1zM38 56h2v1h-2zM84 56h2v1h-2zM91 56h1v1h-1zM98 56h1v1h-1zM131 56h1v1h-1zM133 56h1v1h-1zM156 56h1v1h-1zM174 56h1v1h-1zM183 56h2v1h-2zM187 56h1v1h-1zM40 57h1v1h-1zM80 57h1v1h-1zM99 57h1v1h-1zM109 57h1v1h-1zM118 57h1v1h-1zM163 57h1v1h-1zM178 57h1v1h-1zM39 58h1v1h-1zM84 58h1v1h-1zM89 58h1v1h-1zM99 58h1v1h-1zM111 58h3v1h-3zM138 58h1v1h-1zM150 58h1v1h-1zM41 59h1v1h-1zM45 59h2v1h-2zM50 59h1v1h-1zM89 59h1v1h-1zM92 59h1v1h-1zM97 59h1v1h-1zM101 59h1v1h-1zM124 59h1v1h-1zM130 59h2v1h-2zM133 59h1v1h-1zM136 59h1v1h-1zM156 59h1v1h-1zM182 59h1v1h-1zM38 60h1v1h-1zM43 60h1v1h-1zM82 60h1v1h-1zM96 60h2v1h-2zM117 60h1v1h-1zM120 60h1v1h-1zM131 60h1v1h-1zM133 60h1v1h-1zM162 60h1v1h-1zM165 60h1v1h-1zM177 60h1v1h-1zM181 60h1v1h-1zM186 60h1v1h-1zM39 61h1v1h-1zM44 61h1v1h-1zM88 61h1v1h-1zM95 61h1v1h-1zM97 61h1v1h-1zM128 61h1v1h-1zM137 61h1v1h-1zM139 61h1v1h-1zM156 61h1v1h-1zM176 61h1v1h-1zM39 62h1v1h-1zM117 62h1v1h-1zM120 62h1v1h-1zM126 62h2v1h-2zM138 62h1v1h-1zM168 62h1v1h-1zM84 63h1v1h-1zM87 63h1v1h-1zM95 63h1v1h-1zM98 63h1v1h-1zM146 63h1v1h-1zM155 63h1v1h-1zM164 63h1v1h-1zM183 63h1v1h-1zM188 63h1v1h-1zM86 64h1v1h-1zM96 64h2v1h-2zM100 64h1v1h-1zM178 64h1v1h-1zM183 64h1v1h-1zM57 65h1v1h-1zM73 65h1v1h-1zM111 65h1v1h-1zM125 65h1v1h-1zM145 65h1v1h-1zM37 66h1v1h-1zM77 66h1v1h-1zM129 66h1v1h-1zM183 66h1v1h-1zM93 67h1v1h-1zM124 67h1v1h-1zM139 67h1v1h-1zM156 67h2v1h-2zM39 68h1v1h-1zM105 68h1v1h-1zM118 68h1v1h-1zM145 68h1v1h-1zM150 68h2v1h-2zM153 68h1v1h-1zM162 68h1v1h-1zM173 68h1v1h-1zM75 69h1v1h-1zM109 69h1v1h-1zM143 69h2v1h-2zM166 69h1v1h-1zM186 69h1v1h-1zM41 70h1v1h-1zM77 70h1v1h-1zM79 70h1v1h-1zM96 70h1v1h-1zM99 70h1v1h-1zM126 70h2v1h-2zM186 70h1v1h-1zM190 70h1v1h-1zM37 71h1v1h-1zM94 71h1v1h-1zM99 71h1v1h-1zM118 71h2v1h-2zM125 71h1v1h-1zM138 71h1v1h-1zM144 71h2v1h-2zM152 71h1v1h-1zM175 71h1v1h-1zM184 71h1v1h-1zM190 71h2v1h-2zM94 72h1v1h-1zM101 72h1v1h-1zM103 72h1v1h-1zM111 72h1v1h-1zM117 72h1v1h-1zM120 72h1v1h-1zM144 72h1v1h-1zM153 72h1v1h-1zM176 72h1v1h-1zM71 73h1v1h-1zM79 73h1v1h-1zM164 73h1v1h-1zM186 73h1v1h-1zM37 74h1v1h-1zM54 74h2v1h-2zM60 74h1v1h-1zM96 74h1v1h-1zM105 74h1v1h-1zM113 74h2v1h-2zM122 74h1v1h-1zM135 74h1v1h-1zM163 74h1v1h-1zM170 74h1v1h-1zM184 74h2v1h-2zM188 74h2v1h-2zM70 75h1v1h-1zM74 75h1v1h-1zM78 75h1v1h-1zM95 75h1v1h-1zM98 75h4v1h-4zM169 75h1v1h-1zM43 76h1v1h-1zM50 76h1v1h-1zM55 76h1v1h-1zM57 76h1v1h-1zM59 76h1v1h-1zM84 76h1v1h-1zM96 76h1v1h-1zM99 76h1v1h-1zM169 76h1v1h-1zM171 76h1v1h-1zM38 77h1v1h-1zM57 77h1v1h-1zM80 77h1v1h-1zM114 77h1v1h-1zM128 77h1v1h-1zM167 77h1v1h-1zM172 77h1v1h-1zM159 78h1v1h-1zM161 78h1v1h-1zM171 78h2v1h-2zM197 78h1v1h-1zM43 79h2v1h-2zM48 79h3v1h-3zM56 79h2v1h-2zM170 79h1v1h-1zM191 79h1v1h-1zM202 79h1v1h-1zM207 79h1v1h-1zM19 80h1v1h-1zM26 80h1v1h-1zM31 80h1v1h-1zM33 80h2v1h-2zM42 80h1v1h-1zM45 80h3v1h-3zM50 80h1v1h-1zM127 80h1v1h-1zM154 80h1v1h-1zM160 80h1v1h-1zM167 80h1v1h-1zM171 80h1v1h-1zM191 80h1v1h-1zM53 81h1v1h-1zM69 81h1v1h-1zM53 82h1v1h-1zM69 82h1v1h-1z"/><path fill="#2fb47c" d="M43 0h1v1h-1zM46 0h1v1h-1zM48 0h2v1h-2zM90 0h1v1h-1zM132 0h1v1h-1zM43 1h1v1h-1zM46 1h1v1h-1zM48 1h2v1h-2zM90 1h1v1h-1zM132 1h1v1h-1zM44 2h1v1h-1zM57 2h1v1h-1zM71 2h1v1h-1zM101 2h1v1h-1zM120 2h1v1h-1zM130 2h1v1h-1zM169 2h1v1h-1zM179 2h1v1h-1zM42 3h1v1h-1zM44 3h1v1h-1zM49 3h1v1h-1zM52 3h1v1h-1zM69 3h1v1h-1zM85 3h1v1h-1zM93 3h2v1h-2zM98 3h1v1h-1zM101 3h1v1h-1zM133 3h1v1h-1zM156 3h1v1h-1zM165 3h1v1h-1zM168 3h2v1h-2zM43 4h1v1h-1zM45 4h1v1h-1zM70 4h1v1h-1zM86 4h1v1h-1zM125 4h1v1h-1zM153 4h1v1h-1zM167 4h1v1h-1zM48 5h1v1h-1zM60 5h1v1h-1zM67 5h1v1h-1zM93 5h1v1h-1zM98 5h1v1h-1zM123 5h1v1h-1zM135 5h1v1h-1zM149 5h1v1h-1zM153 5h1v1h-1zM179 5h1v1h-1zM182 5h1v1h-1zM185 5h1v1h-1zM68 6h4v1h-4zM84 6h1v1h-1zM123 6h2v1h-2zM127 6h1v1h-1zM138 6h1v1h-1zM162 6h1v1h-1zM164 6h1v1h-1zM169 6h1v1h-1zM40 7h1v1h-1zM42 7h1v1h-1zM44 7h1v1h-1zM53 7h1v1h-1zM91 7h1v1h-1zM123 7h1v1h-1zM125 7h1v1h-1zM130 7h2v1h-2zM150 7h1v1h-1zM162 7h1v1h-1zM171 7h1v1h-1zM45 8h1v1h-1zM48 8h1v1h-1zM50 8h1v1h-1zM85 8h1v1h-1zM90 8h1v1h-1zM125 8h1v1h-1zM170 8h1v1h-1zM181 8h1v1h-1zM38 9h1v1h-1zM57 9h1v1h-1zM68 9h1v1h-1zM127 9h1v1h-1zM168 9h2v1h-2zM183 9h2v1h-2zM53 10h1v1h-1zM70 10h1v1h-1zM96 10h1v1h-1zM132 10h1v1h-1zM152 10h1v1h-1zM38 11h1v1h-1zM42 11h1v1h-1zM55 11h1v1h-1zM58 11h1v1h-1zM67 11h1v1h-1zM69 11h1v1h-1zM89 11h1v1h-1zM167 11h1v1h-1zM45 12h1v1h-1zM47 12h1v1h-1zM58 12h1v1h-1zM69 12h1v1h-1zM122 12h1v1h-1zM162 12h2v1h-2zM168 12h1v1h-1zM170 12h1v1h-1zM39 13h1v1h-1zM43 13h2v1h-2zM54 13h1v1h-1zM56 13h1v1h-1zM67 13h1v1h-1zM71 13h1v1h-1zM102 13h1v1h-1zM120 13h2v1h-2zM134 13h1v1h-1zM170 13h1v1h-1zM172 13h1v1h-1zM38 14h2v1h-2zM48 14h1v1h-1zM53 14h1v1h-1zM55 14h1v1h-1zM67 14h2v1h-2zM89 14h1v1h-1zM92 14h1v1h-1zM122 14h2v1h-2zM128 14h1v1h-1zM172 14h1v1h-1zM38 15h1v1h-1zM42 15h1v1h-1zM48 15h1v1h-1zM58 15h1v1h-1zM67 15h1v1h-1zM71 15h1v1h-1zM88 15h1v1h-1zM97 15h1v1h-1zM101 15h1v1h-1zM125 15h1v1h-1zM165 15h1v1h-1zM167 15h1v1h-1zM41 16h2v1h-2zM48 16h1v1h-1zM67 16h1v1h-1zM69 16h1v1h-1zM82 16h1v1h-1zM93 16h1v1h-1zM120 16h1v1h-1zM125 16h1v1h-1zM130 16h1v1h-1zM134 16h1v1h-1zM42 17h1v1h-1zM57 17h1v1h-1zM60 17h1v1h-1zM67 17h1v1h-1zM70 17h1v1h-1zM95 17h1v1h-1zM129 17h1v1h-1zM150 17h1v1h-1zM156 17h1v1h-1zM167 17h2v1h-2zM171 17h1v1h-1zM49 18h1v1h-1zM51 18h1v1h-1zM67 18h1v1h-1zM73 18h1v1h-1zM82 18h1v1h-1zM92 18h1v1h-1zM120 18h1v1h-1zM130 18h1v1h-1zM132 18h1v1h-1zM139 18h1v1h-1zM156 18h1v1h-1zM169 18h1v1h-1zM44 19h2v1h-2zM55 19h1v1h-1zM70 19h1v1h-1zM83 19h1v1h-1zM181 19h1v1h-1zM39 20h1v1h-1zM43 20h1v1h-1zM45 20h2v1h-2zM96 20h1v1h-1zM120 20h1v1h-1zM128 20h1v1h-1zM168 20h1v1h-1zM180 20h1v1h-1zM47 21h1v1h-1zM55 21h1v1h-1zM60 21h1v1h-1zM122 21h1v1h-1zM131 21h1v1h-1zM162 21h2v1h-2zM165 21h1v1h-1zM167 21h2v1h-2zM170 21h1v1h-1zM172 21h1v1h-1zM181 21h2v1h-2zM50 22h1v1h-1zM69 22h1v1h-1zM71 22h1v1h-1zM95 22h1v1h-1zM120 22h1v1h-1zM125 22h1v1h-1zM155 22h1v1h-1zM172 22h1v1h-1zM182 22h1v1h-1zM49 23h1v1h-1zM51 23h1v1h-1zM81 23h1v1h-1zM86 23h1v1h-1zM172 23h1v1h-1zM182 23h1v1h-1zM70 24h1v1h-1zM87 24h1v1h-1zM138 24h1v1h-1zM150 24h1v1h-1zM167 24h1v1h-1zM38 25h1v1h-1zM42 25h1v1h-1zM52 25h1v1h-1zM68 25h1v1h-1zM70 25h1v1h-1zM81 25h1v1h-1zM94 25h1v1h-1zM100 25h1v1h-1zM130 25h1v1h-1zM153 25h1v1h-1zM155 25h1v1h-1zM171 25h1v1h-1zM42 26h1v1h-1zM45 26h2v1h-2zM50 26h1v1h-1zM69 26h1v1h-1zM71 26h1v1h-1zM80 26h1v1h-1zM89 26h1v1h-1zM124 26h1v1h-1zM130 26h1v1h-1zM135 26h1v1h-1zM56 27h1v1h-1zM70 27h1v1h-1zM83 27h1v1h-1zM100 27h1v1h-1zM39 28h1v1h-1zM45 28h1v1h-1zM58 28h2v1h-2zM71 28h1v1h-1zM87 28h1v1h-1zM98 28h2v1h-2zM101 28h1v1h-1zM103 28h1v1h-1zM121 28h1v1h-1zM130 28h1v1h-1zM135 28h1v1h-1zM165 28h1v1h-1zM167 28h1v1h-1zM41 29h1v1h-1zM70 29h1v1h-1zM74 29h1v1h-1zM79 29h1v1h-1zM84 29h1v1h-1zM87 29h1v1h-1zM93 29h1v1h-1zM97 29h1v1h-1zM137 29h1v1h-1zM171 29h1v1h-1zM180 29h1v1h-1zM42 30h1v1h-1zM44 30h1v1h-1zM55 30h2v1h-2zM82 30h1v1h-1zM95 30h1v1h-1zM104 30h1v1h-1zM120 30h1v1h-1zM131 30h1v1h-1zM155 30h1v1h-1zM166 30h1v1h-1zM188 30h1v1h-1zM82 31h1v1h-1zM102 31h1v1h-1zM122 31h1v1h-1zM128 31h1v1h-1zM152 31h2v1h-2zM167 31h1v1h-1zM179 31h1v1h-1zM41 32h2v1h-2zM45 32h1v1h-1zM49 32h1v1h-1zM52 32h2v1h-2zM67 32h1v1h-1zM70 32h1v1h-1zM84 32h1v1h-1zM86 32h3v1h-3zM121 32h1v1h-1zM130 32h1v1h-1zM137 32h1v1h-1zM153 32h1v1h-1zM166 32h2v1h-2zM188 32h1v1h-1zM41 33h1v1h-1zM47 33h1v1h-1zM135 33h1v1h-1zM138 33h2v1h-2zM155 33h1v1h-1zM163 33h1v1h-1zM55 34h1v1h-1zM57 34h1v1h-1zM79 34h1v1h-1zM86 34h1v1h-1zM121 34h1v1h-1zM155 34h1v1h-1zM169 34h1v1h-1zM187 34h1v1h-1zM45 35h1v1h-1zM57 35h1v1h-1zM78 35h1v1h-1zM84 35h1v1h-1zM168 35h1v1h-1zM172 35h1v1h-1zM69 36h1v1h-1zM104 36h1v1h-1zM122 36h1v1h-1zM168 36h1v1h-1zM179 36h1v1h-1zM48 37h1v1h-1zM68 37h1v1h-1zM78 37h1v1h-1zM83 37h1v1h-1zM101 37h1v1h-1zM120 37h1v1h-1zM127 37h1v1h-1zM153 37h1v1h-1zM171 37h1v1h-1zM179 37h1v1h-1zM39 38h1v1h-1zM69 38h1v1h-1zM71 38h1v1h-1zM76 38h1v1h-1zM121 38h1v1h-1zM167 38h1v1h-1zM170 38h1v1h-1zM172 38h1v1h-1zM46 39h1v1h-1zM57 39h1v1h-1zM60 39h1v1h-1zM67 39h1v1h-1zM70 39h1v1h-1zM81 39h1v1h-1zM86 39h2v1h-2zM126 39h1v1h-1zM128 39h1v1h-1zM162 39h1v1h-1zM179 39h1v1h-1zM60 40h1v1h-1zM71 40h1v1h-1zM74 40h1v1h-1zM122 40h1v1h-1zM130 40h1v1h-1zM40 41h1v1h-1zM77 41h1v1h-1zM81 41h1v1h-1zM121 41h1v1h-1zM130 41h1v1h-1zM152 41h1v1h-1zM40 42h2v1h-2zM45 42h1v1h-1zM53 42h1v1h-1zM60 42h1v1h-1zM90 42h1v1h-1zM109 42h1v1h-1zM120 42h1v1h-1zM156 42h1v1h-1zM45 43h1v1h-1zM99 43h1v1h-1zM121 43h1v1h-1zM131 43h1v1h-1zM93 44h1v1h-1zM102 44h1v1h-1zM121 44h1v1h-1zM156 44h1v1h-1zM184 44h1v1h-1zM75 45h1v1h-1zM82 45h2v1h-2zM93 45h1v1h-1zM121 45h1v1h-1zM125 45h1v1h-1zM152 45h1v1h-1zM154 45h1v1h-1zM45 46h1v1h-1zM72 46h1v1h-1zM78 46h1v1h-1zM90 46h1v1h-1zM103 46h1v1h-1zM164 46h1v1h-1zM186 46h1v1h-1zM42 47h2v1h-2zM45 47h1v1h-1zM73 47h1v1h-1zM93 47h1v1h-1zM148 47h1v1h-1zM153 47h1v1h-1zM164 47h1v1h-1zM186 47h2v1h-2zM52 48h1v1h-1zM54 48h1v1h-1zM60 48h1v1h-1zM75 48h1v1h-1zM98 48h2v1h-2zM121 48h1v1h-1zM155 48h1v1h-1zM165 48h1v1h-1zM187 48h2v1h-2zM119 49h1v1h-1zM156 49h1v1h-1zM173 49h1v1h-1zM39 50h1v1h-1zM90 50h1v1h-1zM135 50h1v1h-1zM149 50h1v1h-1zM186 50h2v1h-2zM45 51h1v1h-1zM96 51h1v1h-1zM110 51h1v1h-1zM186 51h1v1h-1zM39 52h1v1h-1zM42 52h1v1h-1zM86 52h1v1h-1zM88 52h1v1h-1zM108 52h1v1h-1zM111 52h1v1h-1zM130 52h1v1h-1zM139 52h1v1h-1zM39 53h1v1h-1zM76 53h1v1h-1zM134 53h1v1h-1zM180 53h1v1h-1zM47 54h1v1h-1zM49 54h2v1h-2zM54 54h1v1h-1zM57 54h1v1h-1zM81 54h1v1h-1zM83 54h1v1h-1zM118 54h1v1h-1zM121 54h1v1h-1zM124 54h1v1h-1zM149 54h1v1h-1zM165 54h1v1h-1zM45 55h2v1h-2zM52 55h1v1h-1zM113 55h1v1h-1zM173 55h3v1h-3zM178 55h1v1h-1zM187 55h1v1h-1zM41 56h1v1h-1zM100 56h1v1h-1zM124 56h1v1h-1zM175 56h1v1h-1zM43 57h1v1h-1zM47 57h1v1h-1zM101 57h1v1h-1zM120 57h1v1h-1zM130 57h1v1h-1zM42 58h1v1h-1zM47 58h1v1h-1zM49 58h1v1h-1zM110 58h1v1h-1zM186 58h1v1h-1zM188 58h1v1h-1zM39 59h1v1h-1zM120 59h1v1h-1zM123 59h1v1h-1zM125 59h2v1h-2zM134 59h1v1h-1zM137 59h3v1h-3zM174 59h1v1h-1zM180 59h1v1h-1zM83 60h1v1h-1zM130 60h1v1h-1zM182 60h1v1h-1zM37 61h1v1h-1zM42 61h1v1h-1zM85 61h2v1h-2zM127 61h1v1h-1zM183 61h1v1h-1zM41 62h2v1h-2zM144 62h2v1h-2zM178 62h1v1h-1zM81 63h2v1h-2zM85 63h1v1h-1zM108 63h2v1h-2zM111 63h1v1h-1zM153 63h1v1h-1zM174 63h1v1h-1zM180 63h1v1h-1zM99 64h1v1h-1zM186 64h2v1h-2zM56 65h1v1h-1zM83 65h1v1h-1zM110 65h1v1h-1zM129 65h1v1h-1zM60 66h1v1h-1zM75 66h1v1h-1zM104 66h1v1h-1zM156 66h1v1h-1zM50 67h1v1h-1zM53 67h1v1h-1zM81 67h1v1h-1zM138 67h1v1h-1zM146 67h1v1h-1zM188 67h1v1h-1zM38 68h1v1h-1zM72 68h1v1h-1zM112 68h1v1h-1zM119 68h1v1h-1zM138 68h2v1h-2zM175 68h1v1h-1zM185 68h1v1h-1zM81 69h1v1h-1zM94 69h2v1h-2zM140 69h1v1h-1zM61 70h1v1h-1zM80 70h1v1h-1zM83 70h1v1h-1zM98 70h1v1h-1zM105 70h1v1h-1zM128 70h1v1h-1zM151 70h1v1h-1zM162 70h1v1h-1zM183 70h1v1h-1zM38 71h2v1h-2zM50 71h1v1h-1zM84 71h1v1h-1zM151 71h1v1h-1zM173 71h1v1h-1zM121 72h1v1h-1zM151 72h1v1h-1zM154 72h1v1h-1zM166 72h1v1h-1zM55 73h1v1h-1zM98 73h1v1h-1zM126 73h1v1h-1zM136 73h1v1h-1zM162 73h1v1h-1zM38 74h1v1h-1zM40 74h1v1h-1zM71 74h2v1h-2zM80 74h1v1h-1zM94 74h2v1h-2zM104 74h1v1h-1zM106 74h1v1h-1zM68 75h2v1h-2zM80 75h1v1h-1zM122 75h1v1h-1zM170 75h1v1h-1zM188 75h2v1h-2zM191 75h1v1h-1zM71 76h1v1h-1zM97 76h1v1h-1zM101 76h1v1h-1zM130 76h1v1h-1zM170 76h1v1h-1zM172 76h1v1h-1zM185 76h1v1h-1zM187 76h1v1h-1zM190 76h1v1h-1zM55 77h1v1h-1zM85 77h1v1h-1zM160 77h1v1h-1zM171 77h1v1h-1zM95 78h1v1h-1zM167 78h1v1h-1zM37 79h2v1h-2zM41 79h1v1h-1zM47 79h1v1h-1zM59 79h1v1h-1zM67 79h1v1h-1zM126 79h1v1h-1zM153 79h1v1h-1zM159 79h1v1h-1zM172 79h1v1h-1zM197 79h1v1h-1zM199 79h1v1h-1zM203 79h1v1h-1zM210 79h1v1h-1zM4 80h1v1h-1zM7 80h2v1h-2zM17 80h1v1h-1zM32 80h1v1h-1zM40 80h1v1h-1zM48 80h1v1h-1zM55 80h1v1h-1zM57 80h3v1h-3zM155 80h1v1h-1zM157 80h1v1h-1zM180 80h1v1h-1zM100 81h1v1h-1zM156 81h1v1h-1zM191 81h1v1h-1zM202 81h1v1h-1zM100 82h1v1h-1zM156 82h1v1h-1zM191 82h1v1h-1zM202 82h1v1h-1z"/><path fill="#35b779" d="M37 0h4v1h-4zM44 0h1v1h-1zM59 0h1v1h-1zM67 0h1v1h-1zM91 0h1v1h-1zM96 0h2v1h-2zM123 0h1v1h-1zM131 0h1v1h-1zM167 0h1v1h-1zM172 0h1v1h-1zM37 1h4v1h-4zM44 1h1v1h-1zM59 1h1v1h-1zM67 1h1v1h-1zM91 1h1v1h-1zM96 1h2v1h-2zM123 1h1v1h-1zM131 1h1v1h-1zM167 1h1v1h-1zM172 1h1v1h-1zM68 2h1v1h-1zM89 2h1v1h-1zM97 2h2v1h-2zM134 2h2v1h-2zM47 3h1v1h-1zM67 3h1v1h-1zM86 3h1v1h-1zM123 3h1v1h-1zM167 3h1v1h-1zM178 3h2v1h-2zM37 4h1v1h-1zM39 4h2v1h-2zM71 4h1v1h-1zM120 4h2v1h-2zM131 4h2v1h-2zM137 4h1v1h-1zM149 4h1v1h-1zM178 4h2v1h-2zM38 5h1v1h-1zM44 5h1v1h-1zM55 5h1v1h-1zM68 5h1v1h-1zM96 5h2v1h-2zM120 5h1v1h-1zM156 5h1v1h-1zM169 5h1v1h-1zM40 6h1v1h-1zM48 6h1v1h-1zM67 6h1v1h-1zM132 6h1v1h-1zM134 6h1v1h-1zM57 7h1v1h-1zM90 7h1v1h-1zM92 7h1v1h-1zM96 7h1v1h-1zM136 7h2v1h-2zM182 7h1v1h-1zM37 8h1v1h-1zM42 8h1v1h-1zM46 8h1v1h-1zM88 8h1v1h-1zM94 8h1v1h-1zM97 8h1v1h-1zM171 8h1v1h-1zM180 8h1v1h-1zM182 8h1v1h-1zM44 9h1v1h-1zM47 9h1v1h-1zM87 9h1v1h-1zM96 9h2v1h-2zM132 9h1v1h-1zM181 9h1v1h-1zM38 10h1v1h-1zM88 10h1v1h-1zM91 10h1v1h-1zM120 10h1v1h-1zM130 10h1v1h-1zM147 10h2v1h-2zM170 10h1v1h-1zM54 11h1v1h-1zM56 11h1v1h-1zM71 11h1v1h-1zM98 11h1v1h-1zM153 11h1v1h-1zM172 11h1v1h-1zM183 11h1v1h-1zM38 12h1v1h-1zM41 12h1v1h-1zM44 12h1v1h-1zM50 12h1v1h-1zM55 12h1v1h-1zM86 12h1v1h-1zM98 12h1v1h-1zM138 12h1v1h-1zM149 12h1v1h-1zM156 12h1v1h-1zM166 12h1v1h-1zM41 13h1v1h-1zM46 13h1v1h-1zM59 13h1v1h-1zM69 13h1v1h-1zM93 13h1v1h-1zM103 13h1v1h-1zM136 13h1v1h-1zM156 13h1v1h-1zM169 13h1v1h-1zM50 14h1v1h-1zM69 14h1v1h-1zM103 14h1v1h-1zM133 14h1v1h-1zM167 14h1v1h-1zM171 14h1v1h-1zM44 15h1v1h-1zM49 15h1v1h-1zM55 15h1v1h-1zM59 15h1v1h-1zM69 15h1v1h-1zM153 15h1v1h-1zM162 15h1v1h-1zM169 15h1v1h-1zM59 16h1v1h-1zM101 16h1v1h-1zM122 16h1v1h-1zM131 16h1v1h-1zM137 16h1v1h-1zM170 16h2v1h-2zM184 16h1v1h-1zM46 17h1v1h-1zM71 17h1v1h-1zM81 17h1v1h-1zM84 17h1v1h-1zM169 17h1v1h-1zM41 18h1v1h-1zM43 18h1v1h-1zM48 18h1v1h-1zM69 18h1v1h-1zM89 18h1v1h-1zM122 18h1v1h-1zM131 18h1v1h-1zM138 18h1v1h-1zM167 18h1v1h-1zM171 18h1v1h-1zM38 19h2v1h-2zM82 19h1v1h-1zM123 19h1v1h-1zM128 19h1v1h-1zM156 19h1v1h-1zM167 19h1v1h-1zM171 19h1v1h-1zM44 20h1v1h-1zM47 20h1v1h-1zM58 20h1v1h-1zM70 20h1v1h-1zM87 20h1v1h-1zM94 20h1v1h-1zM154 20h1v1h-1zM170 20h1v1h-1zM181 20h1v1h-1zM46 21h1v1h-1zM50 21h1v1h-1zM71 21h1v1h-1zM88 21h2v1h-2zM102 21h1v1h-1zM133 21h1v1h-1zM138 21h1v1h-1zM153 21h1v1h-1zM169 21h1v1h-1zM179 21h1v1h-1zM51 22h2v1h-2zM55 22h1v1h-1zM58 22h1v1h-1zM89 22h1v1h-1zM91 22h1v1h-1zM154 22h1v1h-1zM179 22h2v1h-2zM42 23h1v1h-1zM45 23h1v1h-1zM56 23h1v1h-1zM83 23h1v1h-1zM103 23h1v1h-1zM180 23h1v1h-1zM42 24h1v1h-1zM46 24h1v1h-1zM68 24h1v1h-1zM93 24h1v1h-1zM153 24h1v1h-1zM170 24h1v1h-1zM181 24h1v1h-1zM60 25h1v1h-1zM69 25h1v1h-1zM71 25h1v1h-1zM89 25h1v1h-1zM102 25h1v1h-1zM104 25h1v1h-1zM178 25h2v1h-2zM39 26h1v1h-1zM41 26h1v1h-1zM51 26h1v1h-1zM82 26h1v1h-1zM121 26h1v1h-1zM129 26h1v1h-1zM169 26h1v1h-1zM172 26h1v1h-1zM50 27h1v1h-1zM59 27h1v1h-1zM102 27h1v1h-1zM120 27h1v1h-1zM164 27h1v1h-1zM167 27h2v1h-2zM171 27h1v1h-1zM48 28h3v1h-3zM68 28h1v1h-1zM85 28h1v1h-1zM168 28h1v1h-1zM170 28h2v1h-2zM39 29h1v1h-1zM68 29h1v1h-1zM82 29h1v1h-1zM85 29h2v1h-2zM120 29h1v1h-1zM129 29h2v1h-2zM168 29h1v1h-1zM170 29h1v1h-1zM188 29h1v1h-1zM37 30h1v1h-1zM41 30h1v1h-1zM45 30h2v1h-2zM59 30h1v1h-1zM102 30h1v1h-1zM135 30h1v1h-1zM172 30h1v1h-1zM178 30h1v1h-1zM38 31h1v1h-1zM54 31h1v1h-1zM95 31h1v1h-1zM168 31h1v1h-1zM39 32h1v1h-1zM58 32h1v1h-1zM69 32h1v1h-1zM120 32h1v1h-1zM152 32h1v1h-1zM38 33h1v1h-1zM40 33h1v1h-1zM44 33h1v1h-1zM86 33h1v1h-1zM122 33h1v1h-1zM133 33h1v1h-1zM154 33h1v1h-1zM164 33h1v1h-1zM166 33h1v1h-1zM43 34h1v1h-1zM46 34h1v1h-1zM58 34h1v1h-1zM69 34h1v1h-1zM83 34h1v1h-1zM93 34h1v1h-1zM104 34h1v1h-1zM171 34h2v1h-2zM39 35h1v1h-1zM56 35h1v1h-1zM67 35h1v1h-1zM69 35h1v1h-1zM120 35h3v1h-3zM169 35h2v1h-2zM38 36h1v1h-1zM41 36h1v1h-1zM43 36h1v1h-1zM52 36h1v1h-1zM70 36h1v1h-1zM83 36h1v1h-1zM132 36h1v1h-1zM136 36h1v1h-1zM165 36h1v1h-1zM39 37h1v1h-1zM43 37h1v1h-1zM46 37h2v1h-2zM67 37h1v1h-1zM71 37h1v1h-1zM88 37h1v1h-1zM90 37h1v1h-1zM93 37h1v1h-1zM169 37h1v1h-1zM46 38h1v1h-1zM60 38h1v1h-1zM68 38h1v1h-1zM84 38h1v1h-1zM86 38h1v1h-1zM91 38h1v1h-1zM99 38h1v1h-1zM101 38h1v1h-1zM120 38h1v1h-1zM122 38h1v1h-1zM155 38h2v1h-2zM168 38h1v1h-1zM178 38h1v1h-1zM42 39h2v1h-2zM53 39h1v1h-1zM71 39h1v1h-1zM92 39h1v1h-1zM121 39h1v1h-1zM132 39h1v1h-1zM169 39h1v1h-1zM172 39h1v1h-1zM37 40h1v1h-1zM45 40h2v1h-2zM90 40h1v1h-1zM171 40h1v1h-1zM60 41h1v1h-1zM76 41h1v1h-1zM78 41h1v1h-1zM80 41h1v1h-1zM37 42h1v1h-1zM51 42h1v1h-1zM78 42h1v1h-1zM132 42h1v1h-1zM75 43h1v1h-1zM87 43h1v1h-1zM120 43h1v1h-1zM122 43h1v1h-1zM41 44h2v1h-2zM44 44h2v1h-2zM52 44h1v1h-1zM56 44h1v1h-1zM87 44h1v1h-1zM109 44h1v1h-1zM178 44h1v1h-1zM42 45h1v1h-1zM53 45h1v1h-1zM186 45h1v1h-1zM51 46h1v1h-1zM53 46h1v1h-1zM92 46h1v1h-1zM123 46h1v1h-1zM129 46h1v1h-1zM40 47h1v1h-1zM54 47h2v1h-2zM156 47h1v1h-1zM162 47h1v1h-1zM42 48h1v1h-1zM55 48h1v1h-1zM101 48h2v1h-2zM130 48h1v1h-1zM154 48h1v1h-1zM156 48h1v1h-1zM72 49h1v1h-1zM79 49h1v1h-1zM92 49h1v1h-1zM102 49h1v1h-1zM104 49h1v1h-1zM120 49h1v1h-1zM139 49h1v1h-1zM162 49h1v1h-1zM41 50h1v1h-1zM45 50h1v1h-1zM50 50h2v1h-2zM57 50h2v1h-2zM74 50h1v1h-1zM108 50h1v1h-1zM120 50h1v1h-1zM122 50h1v1h-1zM40 51h1v1h-1zM76 51h1v1h-1zM90 51h1v1h-1zM95 51h1v1h-1zM97 51h1v1h-1zM137 51h1v1h-1zM147 52h1v1h-1zM162 52h2v1h-2zM187 52h2v1h-2zM46 53h1v1h-1zM51 53h1v1h-1zM156 53h1v1h-1zM173 53h1v1h-1zM176 53h1v1h-1zM43 54h1v1h-1zM72 54h1v1h-1zM90 54h1v1h-1zM42 55h1v1h-1zM44 55h1v1h-1zM87 55h3v1h-3zM110 55h1v1h-1zM112 55h1v1h-1zM37 56h1v1h-1zM87 56h1v1h-1zM123 56h1v1h-1zM126 56h1v1h-1zM54 57h1v1h-1zM83 57h1v1h-1zM122 57h1v1h-1zM188 57h1v1h-1zM46 58h1v1h-1zM54 58h1v1h-1zM82 58h1v1h-1zM151 58h1v1h-1zM183 58h1v1h-1zM187 58h1v1h-1zM38 59h1v1h-1zM61 59h1v1h-1zM91 59h1v1h-1zM183 59h1v1h-1zM73 60h1v1h-1zM103 60h1v1h-1zM110 60h1v1h-1zM119 60h1v1h-1zM54 61h1v1h-1zM80 61h1v1h-1zM136 61h1v1h-1zM138 61h1v1h-1zM153 61h1v1h-1zM188 61h1v1h-1zM49 62h1v1h-1zM97 62h1v1h-1zM179 62h1v1h-1zM188 62h1v1h-1zM41 63h1v1h-1zM44 63h1v1h-1zM89 63h1v1h-1zM101 63h1v1h-1zM104 63h1v1h-1zM129 63h1v1h-1zM87 64h1v1h-1zM95 64h1v1h-1zM41 65h1v1h-1zM96 65h1v1h-1zM100 65h1v1h-1zM117 65h1v1h-1zM144 65h1v1h-1zM153 65h1v1h-1zM181 65h1v1h-1zM187 65h1v1h-1zM50 66h1v1h-1zM76 66h1v1h-1zM79 66h1v1h-1zM100 66h1v1h-1zM186 66h1v1h-1zM188 66h1v1h-1zM55 67h1v1h-1zM136 67h1v1h-1zM73 68h1v1h-1zM76 68h1v1h-1zM100 68h1v1h-1zM102 68h1v1h-1zM106 68h1v1h-1zM174 68h1v1h-1zM177 68h1v1h-1zM37 69h1v1h-1zM40 69h1v1h-1zM42 69h1v1h-1zM99 69h1v1h-1zM148 69h1v1h-1zM188 69h1v1h-1zM75 70h1v1h-1zM82 70h1v1h-1zM92 70h1v1h-1zM94 70h1v1h-1zM134 70h1v1h-1zM164 70h1v1h-1zM85 71h1v1h-1zM154 71h1v1h-1zM163 71h2v1h-2zM177 71h1v1h-1zM37 72h1v1h-1zM76 72h2v1h-2zM80 72h1v1h-1zM86 72h1v1h-1zM90 72h1v1h-1zM104 72h1v1h-1zM129 72h1v1h-1zM152 72h1v1h-1zM39 73h2v1h-2zM77 73h2v1h-2zM96 73h1v1h-1zM115 73h1v1h-1zM184 73h1v1h-1zM58 74h1v1h-1zM73 74h1v1h-1zM76 74h1v1h-1zM100 74h2v1h-2zM111 74h1v1h-1zM117 74h2v1h-2zM129 74h1v1h-1zM131 74h1v1h-1zM133 74h2v1h-2zM164 74h1v1h-1zM41 75h1v1h-1zM61 75h1v1h-1zM77 75h1v1h-1zM79 75h1v1h-1zM109 75h1v1h-1zM119 75h1v1h-1zM171 75h1v1h-1zM68 76h1v1h-1zM95 76h1v1h-1zM98 76h1v1h-1zM132 76h1v1h-1zM134 76h1v1h-1zM180 76h1v1h-1zM40 77h1v1h-1zM60 77h1v1h-1zM70 77h1v1h-1zM88 77h1v1h-1zM92 77h1v1h-1zM100 77h1v1h-1zM122 77h1v1h-1zM159 77h1v1h-1zM188 77h1v1h-1zM44 78h1v1h-1zM47 78h3v1h-3zM157 78h1v1h-1zM170 78h1v1h-1zM190 78h1v1h-1zM39 79h1v1h-1zM46 79h1v1h-1zM93 79h1v1h-1zM98 79h1v1h-1zM103 79h1v1h-1zM114 79h1v1h-1zM127 79h2v1h-2zM167 79h1v1h-1zM171 79h1v1h-1zM190 79h1v1h-1zM201 79h1v1h-1zM208 79h1v1h-1zM56 80h1v1h-1zM126 80h1v1h-1zM128 80h1v1h-1zM158 80h1v1h-1zM161 80h1v1h-1zM204 80h1v1h-1zM210 80h1v1h-1zM1 81h1v1h-1zM39 81h1v1h-1zM49 81h2v1h-2zM52 81h1v1h-1zM54 81h1v1h-1zM97 81h1v1h-1zM209 81h1v1h-1zM1 82h1v1h-1zM39 82h1v1h-1zM49 82h2v1h-2zM52 82h1v1h-1zM54 82h1v1h-1zM97 82h1v1h-1zM209 82h1v1h-1z"/><path fill="#3bbb75" d="M42 0h1v1h-1zM57 0h1v1h-1zM68 0h1v1h-1zM70 0h1v1h-1zM89 0h1v1h-1zM124 0h1v1h-1zM136 0h1v1h-1zM156 0h1v1h-1zM42 1h1v1h-1zM57 1h1v1h-1zM68 1h1v1h-1zM70 1h1v1h-1zM89 1h1v1h-1zM124 1h1v1h-1zM136 1h1v1h-1zM156 1h1v1h-1zM40 2h2v1h-2zM45 2h1v1h-1zM47 2h2v1h-2zM58 2h1v1h-1zM90 2h1v1h-1zM96 2h1v1h-1zM122 2h1v1h-1zM124 2h1v1h-1zM129 2h1v1h-1zM37 3h1v1h-1zM45 3h1v1h-1zM50 3h1v1h-1zM58 3h1v1h-1zM68 3h1v1h-1zM70 3h1v1h-1zM120 3h1v1h-1zM124 3h1v1h-1zM132 3h1v1h-1zM172 3h1v1h-1zM42 4h1v1h-1zM44 4h1v1h-1zM46 4h2v1h-2zM68 4h1v1h-1zM90 4h1v1h-1zM122 4h1v1h-1zM170 4h2v1h-2zM39 5h1v1h-1zM58 5h1v1h-1zM69 5h1v1h-1zM92 5h1v1h-1zM124 5h1v1h-1zM154 5h1v1h-1zM37 6h1v1h-1zM42 6h1v1h-1zM49 6h1v1h-1zM59 6h1v1h-1zM96 6h1v1h-1zM167 6h1v1h-1zM46 7h1v1h-1zM50 7h1v1h-1zM121 7h1v1h-1zM169 7h1v1h-1zM172 7h1v1h-1zM39 8h1v1h-1zM44 8h1v1h-1zM70 8h1v1h-1zM96 8h1v1h-1zM124 8h1v1h-1zM134 8h2v1h-2zM169 8h1v1h-1zM172 8h1v1h-1zM178 8h2v1h-2zM56 9h1v1h-1zM170 9h1v1h-1zM172 9h1v1h-1zM180 9h1v1h-1zM40 10h1v1h-1zM45 10h2v1h-2zM48 10h1v1h-1zM69 10h1v1h-1zM87 10h1v1h-1zM89 10h2v1h-2zM98 10h1v1h-1zM121 10h1v1h-1zM137 10h1v1h-1zM156 10h1v1h-1zM167 10h1v1h-1zM171 10h1v1h-1zM183 10h1v1h-1zM39 11h1v1h-1zM50 11h1v1h-1zM88 11h1v1h-1zM93 11h1v1h-1zM96 11h1v1h-1zM122 11h1v1h-1zM168 11h1v1h-1zM170 11h1v1h-1zM39 12h2v1h-2zM68 12h1v1h-1zM84 12h1v1h-1zM87 12h2v1h-2zM120 12h1v1h-1zM47 13h1v1h-1zM124 13h1v1h-1zM129 13h3v1h-3zM155 13h1v1h-1zM45 14h1v1h-1zM49 14h1v1h-1zM57 14h1v1h-1zM71 14h1v1h-1zM86 14h1v1h-1zM124 14h1v1h-1zM150 14h1v1h-1zM182 14h1v1h-1zM39 15h1v1h-1zM43 15h1v1h-1zM45 15h1v1h-1zM47 15h1v1h-1zM50 15h1v1h-1zM56 15h1v1h-1zM70 15h1v1h-1zM90 15h1v1h-1zM124 15h1v1h-1zM156 15h1v1h-1zM171 15h1v1h-1zM184 15h1v1h-1zM47 16h1v1h-1zM50 16h1v1h-1zM71 16h1v1h-1zM92 16h1v1h-1zM102 16h3v1h-3zM129 16h1v1h-1zM167 16h1v1h-1zM37 17h1v1h-1zM40 17h1v1h-1zM53 17h1v1h-1zM104 17h1v1h-1zM125 17h1v1h-1zM134 17h1v1h-1zM148 17h1v1h-1zM170 17h1v1h-1zM70 18h1v1h-1zM88 18h1v1h-1zM91 18h1v1h-1zM124 18h1v1h-1zM133 18h1v1h-1zM178 18h1v1h-1zM40 19h2v1h-2zM43 19h1v1h-1zM46 19h2v1h-2zM49 19h1v1h-1zM60 19h1v1h-1zM86 19h1v1h-1zM91 19h2v1h-2zM104 19h1v1h-1zM120 19h2v1h-2zM168 19h1v1h-1zM180 19h1v1h-1zM40 20h1v1h-1zM81 20h1v1h-1zM85 20h1v1h-1zM91 20h1v1h-1zM132 20h1v1h-1zM167 20h1v1h-1zM172 20h1v1h-1zM38 21h1v1h-1zM69 21h2v1h-2zM90 21h1v1h-1zM130 21h1v1h-1zM154 21h2v1h-2zM178 21h1v1h-1zM37 22h1v1h-1zM41 22h1v1h-1zM48 22h2v1h-2zM57 22h1v1h-1zM68 22h1v1h-1zM87 22h1v1h-1zM102 22h1v1h-1zM132 22h1v1h-1zM136 22h2v1h-2zM168 22h1v1h-1zM171 22h1v1h-1zM181 22h1v1h-1zM40 23h1v1h-1zM43 23h1v1h-1zM47 23h2v1h-2zM59 23h1v1h-1zM84 23h1v1h-1zM151 23h1v1h-1zM41 24h1v1h-1zM43 24h1v1h-1zM55 24h1v1h-1zM104 24h1v1h-1zM179 24h1v1h-1zM37 25h1v1h-1zM39 25h1v1h-1zM41 25h1v1h-1zM43 25h1v1h-1zM47 25h1v1h-1zM57 25h1v1h-1zM132 25h1v1h-1zM136 25h1v1h-1zM40 26h1v1h-1zM67 26h1v1h-1zM103 26h1v1h-1zM131 26h1v1h-1zM37 27h1v1h-1zM40 27h1v1h-1zM44 27h1v1h-1zM47 27h1v1h-1zM69 27h1v1h-1zM71 27h1v1h-1zM92 27h1v1h-1zM129 27h1v1h-1zM133 27h1v1h-1zM153 27h1v1h-1zM165 27h1v1h-1zM169 27h1v1h-1zM69 28h1v1h-1zM134 28h1v1h-1zM153 28h1v1h-1zM179 28h1v1h-1zM57 29h1v1h-1zM121 29h2v1h-2zM186 29h1v1h-1zM58 30h1v1h-1zM69 30h1v1h-1zM81 30h1v1h-1zM86 30h1v1h-1zM132 30h1v1h-1zM136 30h1v1h-1zM168 30h1v1h-1zM45 31h1v1h-1zM50 31h1v1h-1zM70 31h1v1h-1zM93 31h1v1h-1zM169 31h1v1h-1zM40 32h1v1h-1zM67 33h1v1h-1zM81 33h1v1h-1zM91 33h1v1h-1zM120 33h1v1h-1zM170 33h1v1h-1zM45 34h1v1h-1zM67 34h1v1h-1zM179 34h1v1h-1zM41 35h2v1h-2zM48 35h1v1h-1zM53 35h1v1h-1zM68 35h1v1h-1zM88 35h2v1h-2zM91 35h1v1h-1zM167 35h1v1h-1zM179 35h1v1h-1zM42 36h1v1h-1zM46 36h1v1h-1zM68 36h1v1h-1zM120 36h1v1h-1zM130 36h1v1h-1zM133 36h1v1h-1zM135 36h1v1h-1zM138 36h1v1h-1zM153 36h2v1h-2zM164 36h1v1h-1zM172 36h1v1h-1zM45 37h1v1h-1zM154 37h1v1h-1zM45 38h1v1h-1zM67 38h1v1h-1zM89 38h2v1h-2zM41 39h1v1h-1zM56 39h1v1h-1zM69 39h1v1h-1zM73 39h1v1h-1zM120 39h1v1h-1zM135 39h1v1h-1zM170 39h1v1h-1zM49 40h1v1h-1zM55 40h1v1h-1zM58 40h1v1h-1zM81 40h1v1h-1zM44 41h1v1h-1zM49 41h1v1h-1zM59 41h1v1h-1zM79 41h1v1h-1zM82 41h1v1h-1zM46 42h1v1h-1zM73 42h2v1h-2zM89 42h1v1h-1zM110 42h1v1h-1zM38 43h2v1h-2zM41 43h1v1h-1zM50 43h1v1h-1zM57 43h1v1h-1zM80 43h1v1h-1zM39 44h1v1h-1zM77 44h1v1h-1zM41 45h1v1h-1zM45 45h2v1h-2zM90 45h1v1h-1zM136 45h1v1h-1zM178 45h1v1h-1zM39 46h1v1h-1zM41 46h1v1h-1zM76 46h1v1h-1zM104 46h1v1h-1zM121 46h1v1h-1zM132 46h1v1h-1zM39 47h1v1h-1zM56 47h1v1h-1zM102 47h2v1h-2zM137 47h1v1h-1zM147 47h1v1h-1zM59 48h1v1h-1zM92 48h1v1h-1zM125 48h1v1h-1zM137 48h1v1h-1zM38 49h1v1h-1zM43 49h1v1h-1zM49 49h1v1h-1zM73 49h1v1h-1zM77 49h2v1h-2zM43 50h1v1h-1zM46 50h1v1h-1zM49 50h1v1h-1zM75 50h1v1h-1zM109 50h1v1h-1zM175 50h1v1h-1zM42 51h1v1h-1zM80 51h1v1h-1zM124 51h1v1h-1zM131 51h2v1h-2zM134 51h1v1h-1zM174 51h1v1h-1zM72 52h1v1h-1zM84 52h1v1h-1zM93 52h1v1h-1zM102 52h1v1h-1zM109 52h1v1h-1zM173 52h1v1h-1zM48 53h1v1h-1zM53 53h1v1h-1zM87 53h1v1h-1zM91 53h2v1h-2zM179 53h1v1h-1zM91 54h2v1h-2zM132 54h1v1h-1zM153 54h1v1h-1zM164 54h1v1h-1zM73 55h1v1h-1zM93 55h1v1h-1zM129 55h1v1h-1zM178 56h1v1h-1zM48 57h2v1h-2zM108 57h1v1h-1zM110 57h1v1h-1zM129 57h1v1h-1zM135 57h2v1h-2zM153 57h1v1h-1zM176 57h1v1h-1zM147 58h1v1h-1zM155 58h1v1h-1zM177 58h1v1h-1zM47 59h2v1h-2zM90 59h1v1h-1zM121 59h2v1h-2zM175 59h1v1h-1zM45 60h1v1h-1zM56 60h1v1h-1zM109 60h1v1h-1zM185 60h1v1h-1zM187 60h1v1h-1zM51 61h1v1h-1zM81 61h1v1h-1zM91 61h2v1h-2zM150 61h1v1h-1zM173 61h1v1h-1zM187 61h1v1h-1zM45 62h1v1h-1zM119 62h1v1h-1zM122 62h1v1h-1zM125 62h1v1h-1zM135 62h1v1h-1zM147 62h2v1h-2zM47 63h1v1h-1zM83 63h1v1h-1zM88 63h1v1h-1zM102 63h2v1h-2zM112 63h2v1h-2zM37 64h1v1h-1zM44 64h1v1h-1zM78 64h2v1h-2zM124 64h1v1h-1zM138 64h1v1h-1zM188 64h1v1h-1zM39 65h1v1h-1zM60 65h1v1h-1zM72 65h1v1h-1zM94 65h2v1h-2zM97 65h1v1h-1zM109 65h1v1h-1zM136 65h2v1h-2zM38 66h1v1h-1zM40 66h2v1h-2zM55 66h1v1h-1zM59 66h1v1h-1zM80 66h1v1h-1zM92 66h1v1h-1zM146 66h1v1h-1zM166 66h1v1h-1zM187 66h1v1h-1zM39 67h1v1h-1zM58 67h1v1h-1zM128 67h1v1h-1zM174 67h1v1h-1zM43 68h1v1h-1zM95 68h1v1h-1zM97 68h1v1h-1zM99 68h1v1h-1zM113 68h1v1h-1zM120 68h2v1h-2zM135 68h2v1h-2zM156 68h1v1h-1zM38 69h1v1h-1zM41 69h1v1h-1zM86 69h1v1h-1zM101 69h1v1h-1zM141 69h1v1h-1zM180 69h1v1h-1zM183 69h1v1h-1zM187 69h1v1h-1zM189 69h1v1h-1zM39 70h1v1h-1zM55 70h2v1h-2zM72 70h1v1h-1zM121 70h1v1h-1zM123 70h1v1h-1zM125 70h1v1h-1zM152 70h1v1h-1zM154 70h1v1h-1zM163 70h1v1h-1zM185 70h1v1h-1zM189 70h1v1h-1zM191 70h1v1h-1zM74 71h1v1h-1zM105 71h1v1h-1zM129 71h1v1h-1zM135 71h1v1h-1zM153 71h1v1h-1zM185 71h1v1h-1zM41 72h1v1h-1zM78 72h2v1h-2zM84 72h1v1h-1zM186 72h1v1h-1zM56 73h1v1h-1zM61 73h1v1h-1zM137 73h1v1h-1zM163 73h1v1h-1zM183 73h1v1h-1zM39 74h1v1h-1zM74 74h1v1h-1zM88 74h1v1h-1zM91 74h1v1h-1zM119 74h2v1h-2zM123 74h1v1h-1zM125 74h1v1h-1zM37 75h1v1h-1zM48 75h1v1h-1zM50 75h1v1h-1zM75 75h1v1h-1zM92 75h1v1h-1zM94 75h1v1h-1zM97 75h1v1h-1zM105 75h1v1h-1zM107 75h1v1h-1zM110 75h3v1h-3zM121 75h1v1h-1zM38 76h1v1h-1zM45 76h1v1h-1zM131 76h1v1h-1zM133 76h1v1h-1zM183 76h1v1h-1zM39 77h1v1h-1zM58 77h2v1h-2zM71 77h1v1h-1zM91 77h1v1h-1zM108 77h1v1h-1zM137 77h1v1h-1zM163 77h1v1h-1zM187 77h1v1h-1zM52 78h2v1h-2zM61 78h1v1h-1zM155 78h1v1h-1zM169 78h1v1h-1zM191 78h1v1h-1zM40 79h1v1h-1zM45 79h1v1h-1zM129 79h1v1h-1zM161 79h1v1h-1zM39 80h1v1h-1zM91 80h1v1h-1zM93 80h1v1h-1zM118 80h1v1h-1zM130 80h1v1h-1zM168 80h1v1h-1zM202 80h1v1h-1zM207 80h1v1h-1zM12 81h1v1h-1zM40 81h1v1h-1zM42 81h3v1h-3zM12 82h1v1h-1zM40 82h1v1h-1zM42 82h3v1h-3z"/><path fill="#42be71" d="M84 0h1v1h-1zM155 0h1v1h-1zM84 1h1v1h-1zM155 1h1v1h-1zM70 2h1v1h-1zM172 2h1v1h-1zM178 2h1v1h-1zM41 3h1v1h-1zM87 3h1v1h-1zM154 3h1v1h-1zM60 4h1v1h-1zM41 5h1v1h-1zM47 5h1v1h-1zM134 5h1v1h-1zM172 5h1v1h-1zM85 6h2v1h-2zM152 6h1v1h-1zM154 6h1v1h-1zM156 6h1v1h-1zM170 6h2v1h-2zM180 6h1v1h-1zM38 7h2v1h-2zM45 7h1v1h-1zM49 7h1v1h-1zM84 7h1v1h-1zM122 7h1v1h-1zM124 7h1v1h-1zM167 7h1v1h-1zM179 7h1v1h-1zM47 8h1v1h-1zM56 8h1v1h-1zM69 8h1v1h-1zM86 8h1v1h-1zM153 8h1v1h-1zM168 8h1v1h-1zM84 9h1v1h-1zM148 9h1v1h-1zM167 9h1v1h-1zM41 10h1v1h-1zM71 10h1v1h-1zM131 10h1v1h-1zM168 10h2v1h-2zM178 10h1v1h-1zM49 11h1v1h-1zM86 11h1v1h-1zM124 11h1v1h-1zM150 11h1v1h-1zM169 11h1v1h-1zM171 11h1v1h-1zM182 11h1v1h-1zM43 12h1v1h-1zM46 12h1v1h-1zM56 12h1v1h-1zM123 12h1v1h-1zM133 12h1v1h-1zM171 12h1v1h-1zM184 12h1v1h-1zM40 13h1v1h-1zM42 13h1v1h-1zM45 13h1v1h-1zM91 13h1v1h-1zM123 13h1v1h-1zM125 13h1v1h-1zM137 13h1v1h-1zM148 13h1v1h-1zM181 13h1v1h-1zM37 14h1v1h-1zM40 14h1v1h-1zM70 14h1v1h-1zM85 14h1v1h-1zM125 14h1v1h-1zM183 14h1v1h-1zM41 15h1v1h-1zM84 15h1v1h-1zM123 15h1v1h-1zM133 15h1v1h-1zM168 15h1v1h-1zM178 15h1v1h-1zM38 16h1v1h-1zM44 16h1v1h-1zM68 16h1v1h-1zM70 16h1v1h-1zM86 16h1v1h-1zM179 16h1v1h-1zM39 17h1v1h-1zM45 17h1v1h-1zM47 17h1v1h-1zM103 17h1v1h-1zM135 17h1v1h-1zM38 18h1v1h-1zM40 18h1v1h-1zM83 18h1v1h-1zM102 18h1v1h-1zM37 19h1v1h-1zM85 19h1v1h-1zM102 19h1v1h-1zM122 19h1v1h-1zM124 19h1v1h-1zM130 19h1v1h-1zM136 19h1v1h-1zM178 19h1v1h-1zM41 20h1v1h-1zM50 20h1v1h-1zM59 20h1v1h-1zM67 20h1v1h-1zM90 20h1v1h-1zM133 20h1v1h-1zM135 20h1v1h-1zM169 20h1v1h-1zM171 20h1v1h-1zM39 21h1v1h-1zM57 21h1v1h-1zM120 21h1v1h-1zM43 22h1v1h-1zM45 22h1v1h-1zM86 22h1v1h-1zM103 22h1v1h-1zM121 22h1v1h-1zM129 22h1v1h-1zM178 22h1v1h-1zM89 23h1v1h-1zM91 23h1v1h-1zM134 23h1v1h-1zM153 23h1v1h-1zM170 23h1v1h-1zM44 24h2v1h-2zM47 24h1v1h-1zM50 24h1v1h-1zM86 24h1v1h-1zM103 24h1v1h-1zM168 24h1v1h-1zM171 24h1v1h-1zM40 25h1v1h-1zM85 25h1v1h-1zM134 25h1v1h-1zM43 26h1v1h-1zM58 26h1v1h-1zM154 26h1v1h-1zM82 27h1v1h-1zM104 27h1v1h-1zM121 27h1v1h-1zM44 28h1v1h-1zM47 28h1v1h-1zM57 28h1v1h-1zM102 28h1v1h-1zM131 28h1v1h-1zM154 28h1v1h-1zM42 29h1v1h-1zM96 29h1v1h-1zM135 29h1v1h-1zM156 29h1v1h-1zM57 30h1v1h-1zM121 30h1v1h-1zM138 30h1v1h-1zM46 31h1v1h-1zM49 31h1v1h-1zM55 31h1v1h-1zM172 31h1v1h-1zM178 31h1v1h-1zM47 32h1v1h-1zM50 32h1v1h-1zM60 32h1v1h-1zM68 32h1v1h-1zM92 32h2v1h-2zM135 32h2v1h-2zM156 32h1v1h-1zM43 33h1v1h-1zM56 33h1v1h-1zM68 33h1v1h-1zM71 33h1v1h-1zM129 33h2v1h-2zM151 33h1v1h-1zM153 33h1v1h-1zM156 34h1v1h-1zM60 35h1v1h-1zM82 35h1v1h-1zM85 35h1v1h-1zM131 35h1v1h-1zM136 35h1v1h-1zM156 35h1v1h-1zM37 36h1v1h-1zM50 36h1v1h-1zM84 36h1v1h-1zM129 36h1v1h-1zM58 37h1v1h-1zM82 37h1v1h-1zM89 37h1v1h-1zM122 37h1v1h-1zM40 38h1v1h-1zM47 38h1v1h-1zM131 38h1v1h-1zM133 38h1v1h-1zM47 39h1v1h-1zM88 39h1v1h-1zM138 39h1v1h-1zM178 39h1v1h-1zM39 40h1v1h-1zM43 40h1v1h-1zM48 40h1v1h-1zM87 40h1v1h-1zM133 40h2v1h-2zM136 40h1v1h-1zM156 40h1v1h-1zM39 41h1v1h-1zM41 41h1v1h-1zM46 41h1v1h-1zM72 41h1v1h-1zM84 41h1v1h-1zM178 41h1v1h-1zM43 42h1v1h-1zM47 42h1v1h-1zM50 42h1v1h-1zM56 42h2v1h-2zM178 42h1v1h-1zM47 43h1v1h-1zM55 43h1v1h-1zM76 43h1v1h-1zM133 43h1v1h-1zM138 43h1v1h-1zM156 43h1v1h-1zM40 44h1v1h-1zM47 44h1v1h-1zM57 44h1v1h-1zM133 44h1v1h-1zM148 44h1v1h-1zM37 45h1v1h-1zM39 45h2v1h-2zM44 45h1v1h-1zM92 45h1v1h-1zM163 45h2v1h-2zM50 46h1v1h-1zM77 46h1v1h-1zM163 46h1v1h-1zM187 46h1v1h-1zM82 47h1v1h-1zM104 47h1v1h-1zM108 47h1v1h-1zM129 47h1v1h-1zM163 47h1v1h-1zM76 48h1v1h-1zM122 48h1v1h-1zM147 48h1v1h-1zM186 48h1v1h-1zM39 49h1v1h-1zM86 49h1v1h-1zM55 50h2v1h-2zM60 50h1v1h-1zM83 50h1v1h-1zM91 50h1v1h-1zM162 50h1v1h-1zM164 50h1v1h-1zM174 50h1v1h-1zM38 51h1v1h-1zM49 51h1v1h-1zM59 51h1v1h-1zM162 51h1v1h-1zM73 52h1v1h-1zM177 52h1v1h-1zM82 53h1v1h-1zM88 53h2v1h-2zM38 54h1v1h-1zM123 54h1v1h-1zM129 54h1v1h-1zM186 54h2v1h-2zM58 55h1v1h-1zM108 55h2v1h-2zM133 55h1v1h-1zM49 56h1v1h-1zM88 56h2v1h-2zM125 56h1v1h-1zM176 56h2v1h-2zM51 57h1v1h-1zM73 57h1v1h-1zM84 57h1v1h-1zM121 57h1v1h-1zM139 57h1v1h-1zM175 57h1v1h-1zM186 57h2v1h-2zM37 58h1v1h-1zM40 58h1v1h-1zM52 58h1v1h-1zM60 58h1v1h-1zM81 58h1v1h-1zM92 58h1v1h-1zM134 58h1v1h-1zM148 58h1v1h-1zM153 58h1v1h-1zM93 60h1v1h-1zM174 60h3v1h-3zM79 61h1v1h-1zM151 61h2v1h-2zM175 61h1v1h-1zM47 62h1v1h-1zM55 62h1v1h-1zM121 62h1v1h-1zM124 62h1v1h-1zM129 62h1v1h-1zM183 62h1v1h-1zM38 63h1v1h-1zM45 63h1v1h-1zM50 63h1v1h-1zM74 63h1v1h-1zM147 63h1v1h-1zM186 63h2v1h-2zM89 64h1v1h-1zM125 64h1v1h-1zM43 65h1v1h-1zM99 65h1v1h-1zM108 65h1v1h-1zM173 65h1v1h-1zM90 66h1v1h-1zM147 66h1v1h-1zM149 66h1v1h-1zM162 66h2v1h-2zM54 67h1v1h-1zM57 67h1v1h-1zM101 67h1v1h-1zM121 67h1v1h-1zM123 67h1v1h-1zM175 67h1v1h-1zM59 68h1v1h-1zM74 68h1v1h-1zM80 68h1v1h-1zM104 68h1v1h-1zM108 68h3v1h-3zM129 68h1v1h-1zM137 68h1v1h-1zM176 68h1v1h-1zM60 69h1v1h-1zM82 69h3v1h-3zM129 69h1v1h-1zM182 69h1v1h-1zM76 70h1v1h-1zM78 70h1v1h-1zM81 70h1v1h-1zM118 70h1v1h-1zM124 70h1v1h-1zM137 70h1v1h-1zM56 71h1v1h-1zM60 71h1v1h-1zM111 71h1v1h-1zM155 71h1v1h-1zM174 71h1v1h-1zM176 71h1v1h-1zM43 72h1v1h-1zM75 72h1v1h-1zM83 72h1v1h-1zM92 72h1v1h-1zM141 72h1v1h-1zM174 72h1v1h-1zM177 72h1v1h-1zM181 72h1v1h-1zM188 72h2v1h-2zM42 73h1v1h-1zM135 73h1v1h-1zM138 73h1v1h-1zM179 73h1v1h-1zM190 73h2v1h-2zM57 74h1v1h-1zM59 74h1v1h-1zM90 74h1v1h-1zM92 74h1v1h-1zM108 74h1v1h-1zM130 74h1v1h-1zM132 74h1v1h-1zM136 74h1v1h-1zM44 75h1v1h-1zM67 75h1v1h-1zM73 75h1v1h-1zM76 75h1v1h-1zM91 75h1v1h-1zM117 75h1v1h-1zM120 75h1v1h-1zM172 75h1v1h-1zM186 75h1v1h-1zM39 76h1v1h-1zM46 76h1v1h-1zM58 76h1v1h-1zM70 76h1v1h-1zM153 76h1v1h-1zM54 77h1v1h-1zM73 77h1v1h-1zM94 77h1v1h-1zM96 77h1v1h-1zM98 77h1v1h-1zM101 77h1v1h-1zM105 77h1v1h-1zM126 77h1v1h-1zM186 77h1v1h-1zM45 78h2v1h-2zM54 78h1v1h-1zM70 78h1v1h-1zM153 78h2v1h-2zM156 78h1v1h-1zM165 78h1v1h-1zM189 78h1v1h-1zM80 79h1v1h-1zM100 79h2v1h-2zM180 79h1v1h-1zM186 79h2v1h-2zM41 80h1v1h-1zM99 80h1v1h-1zM106 80h1v1h-1zM112 80h1v1h-1zM114 80h1v1h-1zM124 80h1v1h-1zM132 80h1v1h-1zM162 80h1v1h-1zM172 80h1v1h-1zM176 80h1v1h-1zM186 80h1v1h-1zM196 80h3v1h-3zM201 80h1v1h-1zM203 80h1v1h-1zM206 80h1v1h-1zM209 80h1v1h-1zM2 81h1v1h-1zM14 81h1v1h-1zM70 81h1v1h-1zM173 81h1v1h-1zM197 81h1v1h-1zM205 81h1v1h-1zM2 82h1v1h-1zM14 82h1v1h-1zM70 82h1v1h-1zM173 82h1v1h-1zM197 82h1v1h-1zM205 82h1v1h-1z"/><path fill="#4ac16d" d="M60 0h1v1h-1zM87 0h2v1h-2zM60 1h1v1h-1zM87 1h2v1h-2zM39 2h1v1h-1zM55 2h1v1h-1zM92 3h1v1h-1zM153 3h1v1h-1zM41 4h1v1h-1zM88 4h1v1h-1zM98 4h1v1h-1zM40 5h1v1h-1zM121 5h1v1h-1zM148 5h1v1h-1zM155 5h1v1h-1zM168 5h1v1h-1zM39 6h1v1h-1zM45 6h1v1h-1zM88 6h1v1h-1zM120 6h2v1h-2zM147 6h1v1h-1zM155 6h1v1h-1zM168 6h1v1h-1zM172 6h1v1h-1zM178 6h2v1h-2zM43 7h1v1h-1zM89 7h1v1h-1zM120 7h1v1h-1zM155 7h1v1h-1zM178 7h1v1h-1zM40 8h1v1h-1zM92 8h1v1h-1zM149 8h1v1h-1zM45 9h1v1h-1zM88 9h1v1h-1zM123 9h3v1h-3zM179 9h1v1h-1zM182 9h1v1h-1zM49 10h1v1h-1zM125 10h1v1h-1zM47 11h1v1h-1zM134 11h1v1h-1zM90 12h1v1h-1zM121 12h1v1h-1zM154 12h1v1h-1zM172 12h1v1h-1zM87 13h3v1h-3zM122 13h1v1h-1zM178 13h1v1h-1zM46 14h2v1h-2zM58 14h1v1h-1zM102 14h1v1h-1zM104 14h1v1h-1zM129 14h1v1h-1zM153 14h1v1h-1zM178 14h1v1h-1zM180 14h1v1h-1zM91 15h1v1h-1zM102 15h3v1h-3zM150 15h1v1h-1zM179 15h1v1h-1zM57 16h1v1h-1zM60 16h1v1h-1zM85 16h1v1h-1zM136 16h1v1h-1zM181 16h1v1h-1zM41 17h1v1h-1zM102 17h1v1h-1zM172 17h1v1h-1zM42 18h1v1h-1zM55 18h1v1h-1zM59 18h1v1h-1zM87 18h1v1h-1zM90 18h1v1h-1zM103 18h2v1h-2zM170 18h1v1h-1zM89 19h1v1h-1zM103 19h1v1h-1zM135 19h1v1h-1zM137 19h1v1h-1zM169 19h2v1h-2zM179 19h1v1h-1zM102 20h1v1h-1zM42 21h1v1h-1zM56 21h1v1h-1zM59 21h1v1h-1zM103 21h1v1h-1zM42 22h1v1h-1zM85 22h1v1h-1zM92 22h1v1h-1zM135 22h1v1h-1zM39 23h1v1h-1zM58 23h1v1h-1zM102 23h1v1h-1zM104 23h1v1h-1zM135 23h1v1h-1zM156 23h1v1h-1zM38 24h3v1h-3zM56 24h1v1h-1zM82 24h1v1h-1zM90 24h2v1h-2zM102 24h1v1h-1zM134 24h1v1h-1zM58 25h1v1h-1zM84 25h1v1h-1zM88 25h1v1h-1zM92 25h1v1h-1zM133 25h1v1h-1zM47 26h1v1h-1zM59 26h1v1h-1zM83 26h1v1h-1zM102 26h1v1h-1zM104 26h1v1h-1zM152 26h1v1h-1zM156 26h1v1h-1zM45 27h1v1h-1zM89 27h1v1h-1zM103 27h1v1h-1zM46 28h1v1h-1zM81 28h1v1h-1zM104 28h1v1h-1zM136 28h1v1h-1zM43 29h1v1h-1zM83 29h1v1h-1zM153 29h1v1h-1zM39 30h1v1h-1zM91 30h1v1h-1zM130 30h1v1h-1zM44 31h1v1h-1zM48 31h1v1h-1zM83 31h1v1h-1zM132 31h1v1h-1zM57 32h1v1h-1zM82 32h1v1h-1zM150 32h1v1h-1zM39 33h1v1h-1zM45 33h1v1h-1zM55 33h1v1h-1zM92 33h1v1h-1zM41 34h1v1h-1zM178 34h1v1h-1zM37 35h1v1h-1zM46 35h1v1h-1zM81 35h1v1h-1zM86 35h1v1h-1zM92 35h1v1h-1zM153 35h1v1h-1zM49 36h1v1h-1zM56 36h1v1h-1zM60 36h1v1h-1zM41 37h1v1h-1zM57 37h1v1h-1zM74 37h1v1h-1zM135 37h2v1h-2zM51 38h1v1h-1zM130 38h1v1h-1zM44 39h1v1h-1zM48 39h1v1h-1zM74 39h1v1h-1zM84 39h1v1h-1zM93 39h1v1h-1zM129 39h2v1h-2zM137 39h1v1h-1zM40 40h1v1h-1zM52 40h1v1h-1zM37 41h1v1h-1zM85 41h1v1h-1zM88 41h1v1h-1zM91 41h1v1h-1zM132 41h1v1h-1zM139 41h1v1h-1zM38 42h1v1h-1zM139 42h1v1h-1zM179 42h1v1h-1zM46 43h1v1h-1zM81 43h1v1h-1zM86 43h1v1h-1zM91 43h2v1h-2zM134 43h2v1h-2zM148 43h2v1h-2zM43 44h1v1h-1zM46 44h1v1h-1zM59 44h1v1h-1zM73 44h1v1h-1zM78 44h1v1h-1zM83 44h1v1h-1zM88 44h1v1h-1zM131 44h1v1h-1zM137 44h1v1h-1zM47 45h1v1h-1zM49 45h1v1h-1zM81 45h1v1h-1zM91 45h1v1h-1zM162 45h1v1h-1zM42 46h1v1h-1zM46 46h1v1h-1zM80 46h1v1h-1zM87 46h3v1h-3zM133 46h1v1h-1zM149 46h1v1h-1zM37 47h1v1h-1zM50 47h1v1h-1zM84 47h1v1h-1zM37 48h1v1h-1zM58 48h1v1h-1zM90 48h2v1h-2zM134 48h1v1h-1zM84 49h1v1h-1zM87 49h1v1h-1zM163 49h2v1h-2zM174 49h1v1h-1zM179 49h1v1h-1zM188 49h1v1h-1zM37 50h1v1h-1zM82 50h1v1h-1zM93 50h1v1h-1zM131 50h1v1h-1zM54 51h1v1h-1zM79 51h1v1h-1zM86 51h2v1h-2zM91 51h2v1h-2zM139 51h1v1h-1zM103 52h1v1h-1zM135 52h1v1h-1zM164 52h1v1h-1zM40 53h1v1h-1zM55 53h1v1h-1zM90 53h1v1h-1zM79 54h1v1h-1zM84 54h1v1h-1zM138 54h1v1h-1zM74 55h1v1h-1zM136 55h1v1h-1zM188 55h1v1h-1zM76 56h2v1h-2zM80 56h1v1h-1zM45 57h1v1h-1zM57 57h1v1h-1zM85 57h1v1h-1zM173 57h1v1h-1zM177 57h1v1h-1zM181 57h1v1h-1zM59 58h1v1h-1zM76 58h1v1h-1zM90 58h2v1h-2zM149 58h1v1h-1zM78 59h1v1h-1zM147 59h1v1h-1zM184 59h1v1h-1zM44 60h1v1h-1zM53 60h1v1h-1zM72 60h1v1h-1zM108 60h1v1h-1zM77 61h1v1h-1zM48 62h1v1h-1zM51 62h1v1h-1zM92 62h1v1h-1zM154 62h1v1h-1zM49 63h1v1h-1zM52 63h1v1h-1zM73 63h1v1h-1zM80 63h1v1h-1zM110 63h1v1h-1zM139 63h1v1h-1zM43 64h1v1h-1zM53 64h2v1h-2zM88 64h1v1h-1zM126 64h1v1h-1zM136 64h1v1h-1zM174 64h1v1h-1zM42 65h1v1h-1zM82 65h1v1h-1zM102 65h1v1h-1zM120 65h1v1h-1zM124 65h1v1h-1zM135 65h1v1h-1zM138 65h1v1h-1zM149 65h1v1h-1zM154 65h2v1h-2zM176 65h1v1h-1zM42 66h1v1h-1zM78 66h1v1h-1zM84 66h1v1h-1zM93 66h1v1h-1zM139 66h1v1h-1zM148 66h1v1h-1zM180 66h1v1h-1zM182 66h1v1h-1zM37 67h1v1h-1zM99 67h1v1h-1zM122 67h1v1h-1zM135 67h1v1h-1zM137 67h1v1h-1zM182 67h2v1h-2zM42 68h1v1h-1zM96 68h1v1h-1zM101 68h1v1h-1zM103 68h1v1h-1zM117 68h1v1h-1zM85 69h1v1h-1zM92 69h1v1h-1zM149 69h1v1h-1zM50 70h1v1h-1zM73 70h1v1h-1zM102 70h1v1h-1zM119 70h1v1h-1zM149 70h1v1h-1zM184 70h1v1h-1zM45 71h1v1h-1zM86 71h1v1h-1zM93 71h1v1h-1zM108 71h1v1h-1zM112 71h1v1h-1zM134 71h1v1h-1zM137 71h1v1h-1zM162 71h1v1h-1zM81 72h2v1h-2zM91 72h1v1h-1zM140 72h1v1h-1zM145 72h1v1h-1zM155 72h1v1h-1zM187 72h1v1h-1zM114 73h1v1h-1zM116 73h1v1h-1zM180 73h1v1h-1zM185 73h1v1h-1zM49 74h1v1h-1zM75 74h1v1h-1zM107 74h1v1h-1zM112 74h1v1h-1zM121 74h1v1h-1zM124 74h1v1h-1zM145 74h1v1h-1zM150 74h1v1h-1zM162 74h1v1h-1zM42 75h1v1h-1zM49 75h1v1h-1zM72 75h1v1h-1zM108 75h1v1h-1zM166 75h1v1h-1zM187 75h1v1h-1zM41 76h2v1h-2zM44 76h1v1h-1zM49 76h1v1h-1zM69 76h1v1h-1zM135 76h1v1h-1zM163 76h1v1h-1zM175 76h1v1h-1zM181 76h1v1h-1zM84 77h1v1h-1zM86 77h1v1h-1zM97 77h1v1h-1zM134 77h1v1h-1zM184 77h1v1h-1zM68 78h1v1h-1zM78 78h1v1h-1zM94 78h1v1h-1zM99 78h1v1h-1zM174 78h1v1h-1zM55 79h1v1h-1zM86 79h1v1h-1zM94 79h1v1h-1zM117 79h1v1h-1zM125 79h1v1h-1zM164 79h1v1h-1zM177 79h1v1h-1zM185 79h1v1h-1zM188 79h1v1h-1zM68 80h1v1h-1zM81 80h1v1h-1zM102 80h1v1h-1zM105 80h1v1h-1zM109 80h1v1h-1zM120 80h1v1h-1zM131 80h1v1h-1zM133 80h1v1h-1zM159 80h1v1h-1zM177 80h1v1h-1zM182 80h1v1h-1zM195 80h1v1h-1zM199 80h2v1h-2zM205 80h1v1h-1zM208 80h1v1h-1zM10 81h1v1h-1zM17 81h1v1h-1zM19 81h1v1h-1zM24 81h2v1h-2zM204 81h1v1h-1zM10 82h1v1h-1zM17 82h1v1h-1zM19 82h1v1h-1zM24 82h2v1h-2zM204 82h1v1h-1z"/><path fill="#52c569" d="M41 0h1v1h-1zM152 0h1v1h-1zM41 1h1v1h-1zM152 1h1v1h-1zM49 2h1v1h-1zM152 2h1v1h-1zM39 3h2v1h-2zM59 3h1v1h-1zM150 3h1v1h-1zM154 4h1v1h-1zM171 5h1v1h-1zM178 5h1v1h-1zM41 6h1v1h-1zM87 6h1v1h-1zM147 7h1v1h-1zM170 7h1v1h-1zM41 8h1v1h-1zM167 8h1v1h-1zM39 9h1v1h-1zM121 9h1v1h-1zM133 9h1v1h-1zM171 9h1v1h-1zM60 10h1v1h-1zM123 10h1v1h-1zM151 10h1v1h-1zM172 10h1v1h-1zM179 10h1v1h-1zM182 10h1v1h-1zM40 11h2v1h-2zM46 11h1v1h-1zM87 11h1v1h-1zM120 11h1v1h-1zM125 11h1v1h-1zM178 11h1v1h-1zM180 11h1v1h-1zM59 12h1v1h-1zM89 12h1v1h-1zM181 12h1v1h-1zM92 13h1v1h-1zM179 13h1v1h-1zM182 13h1v1h-1zM181 14h1v1h-1zM131 15h1v1h-1zM182 15h1v1h-1zM88 16h1v1h-1zM178 16h1v1h-1zM58 17h1v1h-1zM46 18h1v1h-1zM56 18h1v1h-1zM153 18h1v1h-1zM50 19h1v1h-1zM87 19h2v1h-2zM149 19h1v1h-1zM104 20h1v1h-1zM134 20h1v1h-1zM149 20h1v1h-1zM104 21h1v1h-1zM47 22h1v1h-1zM81 22h1v1h-1zM130 22h1v1h-1zM134 22h1v1h-1zM147 22h1v1h-1zM92 23h1v1h-1zM132 23h1v1h-1zM178 23h1v1h-1zM85 24h1v1h-1zM148 24h2v1h-2zM45 25h1v1h-1zM91 25h1v1h-1zM103 25h1v1h-1zM131 25h1v1h-1zM135 25h1v1h-1zM147 25h1v1h-1zM38 27h1v1h-1zM85 27h2v1h-2zM41 28h2v1h-2zM133 28h1v1h-1zM137 28h1v1h-1zM156 28h1v1h-1zM60 29h1v1h-1zM89 29h1v1h-1zM91 29h1v1h-1zM40 30h1v1h-1zM43 30h1v1h-1zM47 30h1v1h-1zM85 30h1v1h-1zM89 30h1v1h-1zM129 30h1v1h-1zM133 30h2v1h-2zM156 30h1v1h-1zM59 31h1v1h-1zM133 31h1v1h-1zM90 32h2v1h-2zM131 32h1v1h-1zM37 33h1v1h-1zM60 33h1v1h-1zM84 33h1v1h-1zM87 33h1v1h-1zM131 33h1v1h-1zM134 33h1v1h-1zM88 34h1v1h-1zM49 35h1v1h-1zM90 35h1v1h-1zM135 35h1v1h-1zM137 35h1v1h-1zM149 35h1v1h-1zM156 36h1v1h-1zM40 37h1v1h-1zM87 37h1v1h-1zM134 37h1v1h-1zM38 38h1v1h-1zM72 38h1v1h-1zM39 39h1v1h-1zM49 39h1v1h-1zM90 39h2v1h-2zM82 40h1v1h-1zM135 40h1v1h-1zM38 41h1v1h-1zM48 41h1v1h-1zM86 41h1v1h-1zM133 41h1v1h-1zM42 42h1v1h-1zM49 42h1v1h-1zM83 42h1v1h-1zM40 43h1v1h-1zM136 43h1v1h-1zM79 44h1v1h-1zM84 44h1v1h-1zM89 44h1v1h-1zM132 44h1v1h-1zM138 44h1v1h-1zM147 44h1v1h-1zM50 45h1v1h-1zM56 45h1v1h-1zM129 45h1v1h-1zM156 45h1v1h-1zM60 46h1v1h-1zM86 46h1v1h-1zM91 46h1v1h-1zM134 46h1v1h-1zM41 47h1v1h-1zM52 47h1v1h-1zM135 47h1v1h-1zM139 47h1v1h-1zM80 48h2v1h-2zM135 48h1v1h-1zM47 49h1v1h-1zM103 49h1v1h-1zM133 49h1v1h-1zM178 49h1v1h-1zM47 50h1v1h-1zM59 50h1v1h-1zM133 50h2v1h-2zM155 50h1v1h-1zM163 50h1v1h-1zM179 50h1v1h-1zM39 51h1v1h-1zM52 51h1v1h-1zM77 51h1v1h-1zM122 51h1v1h-1zM136 51h1v1h-1zM176 51h1v1h-1zM74 52h1v1h-1zM78 52h1v1h-1zM83 52h1v1h-1zM51 54h1v1h-1zM86 54h1v1h-1zM137 54h1v1h-1zM139 54h1v1h-1zM154 54h2v1h-2zM135 55h1v1h-1zM60 56h1v1h-1zM90 56h1v1h-1zM72 57h1v1h-1zM78 57h1v1h-1zM137 57h1v1h-1zM51 58h1v1h-1zM74 58h1v1h-1zM130 58h1v1h-1zM40 59h1v1h-1zM52 59h1v1h-1zM55 59h1v1h-1zM86 59h1v1h-1zM148 59h1v1h-1zM173 59h1v1h-1zM85 60h2v1h-2zM58 61h2v1h-2zM78 61h1v1h-1zM154 61h1v1h-1zM181 61h1v1h-1zM50 62h1v1h-1zM72 62h1v1h-1zM87 62h1v1h-1zM130 62h3v1h-3zM136 62h2v1h-2zM149 62h1v1h-1zM153 62h1v1h-1zM173 62h1v1h-1zM46 63h1v1h-1zM48 63h1v1h-1zM53 63h1v1h-1zM76 63h1v1h-1zM130 63h1v1h-1zM77 64h1v1h-1zM137 64h1v1h-1zM74 65h1v1h-1zM98 65h1v1h-1zM103 65h2v1h-2zM121 65h1v1h-1zM123 65h1v1h-1zM150 65h1v1h-1zM47 66h1v1h-1zM49 66h1v1h-1zM51 66h2v1h-2zM91 66h1v1h-1zM95 66h2v1h-2zM99 66h1v1h-1zM101 66h1v1h-1zM154 66h2v1h-2zM164 66h1v1h-1zM173 66h1v1h-1zM49 67h1v1h-1zM84 67h1v1h-1zM92 67h1v1h-1zM97 67h1v1h-1zM100 67h1v1h-1zM176 67h1v1h-1zM56 68h1v1h-1zM60 68h1v1h-1zM75 68h1v1h-1zM43 69h1v1h-1zM51 69h1v1h-1zM131 69h1v1h-1zM162 69h2v1h-2zM173 69h1v1h-1zM181 69h1v1h-1zM53 70h1v1h-1zM106 70h2v1h-2zM136 70h1v1h-1zM138 70h2v1h-2zM181 70h2v1h-2zM43 71h1v1h-1zM90 71h1v1h-1zM130 71h1v1h-1zM133 71h1v1h-1zM136 71h1v1h-1zM139 71h1v1h-1zM42 72h1v1h-1zM150 72h1v1h-1zM180 72h1v1h-1zM51 73h1v1h-1zM59 73h1v1h-1zM127 73h1v1h-1zM133 73h2v1h-2zM140 73h2v1h-2zM143 73h3v1h-3zM182 73h1v1h-1zM50 74h1v1h-1zM81 74h1v1h-1zM45 75h1v1h-1zM47 75h1v1h-1zM81 75h1v1h-1zM113 75h1v1h-1zM174 75h1v1h-1zM176 75h1v1h-1zM190 75h1v1h-1zM60 76h1v1h-1zM86 76h1v1h-1zM90 76h1v1h-1zM136 76h3v1h-3zM146 76h1v1h-1zM152 76h1v1h-1zM162 76h1v1h-1zM164 76h1v1h-1zM184 76h1v1h-1zM52 77h2v1h-2zM67 77h3v1h-3zM77 77h1v1h-1zM79 77h1v1h-1zM83 77h1v1h-1zM95 77h1v1h-1zM99 77h1v1h-1zM115 77h2v1h-2zM124 77h1v1h-1zM132 77h1v1h-1zM135 77h1v1h-1zM69 78h1v1h-1zM152 78h1v1h-1zM76 79h1v1h-1zM88 79h1v1h-1zM96 79h1v1h-1zM109 79h1v1h-1zM123 79h1v1h-1zM156 79h1v1h-1zM174 79h1v1h-1zM176 79h1v1h-1zM182 79h1v1h-1zM70 80h1v1h-1zM75 80h1v1h-1zM121 80h1v1h-1zM135 80h2v1h-2zM150 80h1v1h-1zM156 80h1v1h-1zM185 80h1v1h-1zM187 80h1v1h-1zM4 81h1v1h-1zM7 81h1v1h-1zM11 81h1v1h-1zM199 81h2v1h-2zM207 81h1v1h-1zM4 82h1v1h-1zM7 82h1v1h-1zM11 82h1v1h-1zM199 82h2v1h-2zM207 82h1v1h-1z"/><path fill="#5ac864" d="M45 0h1v1h-1zM45 1h1v1h-1zM92 2h1v1h-1zM151 2h1v1h-1zM45 5h1v1h-1zM152 5h1v1h-1zM122 8h1v1h-1zM156 8h1v1h-1zM46 9h1v1h-1zM122 9h1v1h-1zM47 10h1v1h-1zM124 10h1v1h-1zM153 10h1v1h-1zM180 10h1v1h-1zM121 11h1v1h-1zM124 12h1v1h-1zM155 12h1v1h-1zM179 12h1v1h-1zM57 13h1v1h-1zM104 13h1v1h-1zM180 13h1v1h-1zM41 14h1v1h-1zM134 14h1v1h-1zM147 14h1v1h-1zM151 14h1v1h-1zM40 15h1v1h-1zM46 15h1v1h-1zM87 15h1v1h-1zM132 15h1v1h-1zM180 15h1v1h-1zM155 16h1v1h-1zM180 16h1v1h-1zM151 17h2v1h-2zM178 17h1v1h-1zM39 18h1v1h-1zM168 18h1v1h-1zM57 19h1v1h-1zM150 19h1v1h-1zM154 19h1v1h-1zM172 19h1v1h-1zM148 20h1v1h-1zM178 20h1v1h-1zM40 21h1v1h-1zM91 21h2v1h-2zM147 21h1v1h-1zM46 22h1v1h-1zM88 22h1v1h-1zM156 22h1v1h-1zM46 23h1v1h-1zM149 23h1v1h-1zM130 24h2v1h-2zM178 24h1v1h-1zM137 25h1v1h-1zM91 26h1v1h-1zM39 27h1v1h-1zM49 27h1v1h-1zM87 27h1v1h-1zM90 27h2v1h-2zM150 27h1v1h-1zM154 27h1v1h-1zM45 29h1v1h-1zM88 29h1v1h-1zM90 30h1v1h-1zM92 30h1v1h-1zM84 31h1v1h-1zM156 31h1v1h-1zM132 33h1v1h-1zM156 33h1v1h-1zM40 34h1v1h-1zM89 34h1v1h-1zM91 34h1v1h-1zM40 36h1v1h-1zM55 37h1v1h-1zM137 37h1v1h-1zM151 37h1v1h-1zM156 37h1v1h-1zM41 38h1v1h-1zM59 38h1v1h-1zM85 38h1v1h-1zM87 38h1v1h-1zM50 40h1v1h-1zM137 40h1v1h-1zM50 41h1v1h-1zM87 41h1v1h-1zM89 41h1v1h-1zM44 42h1v1h-1zM48 42h1v1h-1zM37 43h1v1h-1zM42 43h1v1h-1zM58 43h1v1h-1zM90 43h1v1h-1zM139 43h1v1h-1zM37 44h1v1h-1zM60 44h1v1h-1zM129 44h2v1h-2zM43 45h1v1h-1zM60 45h1v1h-1zM47 46h1v1h-1zM85 46h1v1h-1zM156 46h1v1h-1zM49 47h1v1h-1zM78 47h1v1h-1zM83 47h1v1h-1zM130 47h1v1h-1zM132 47h1v1h-1zM149 47h1v1h-1zM41 48h1v1h-1zM163 48h2v1h-2zM178 48h1v1h-1zM45 49h1v1h-1zM56 49h1v1h-1zM85 49h1v1h-1zM48 50h1v1h-1zM129 50h1v1h-1zM132 50h1v1h-1zM44 51h1v1h-1zM138 51h1v1h-1zM155 51h1v1h-1zM177 51h1v1h-1zM47 52h1v1h-1zM87 52h1v1h-1zM89 52h1v1h-1zM45 53h1v1h-1zM81 53h1v1h-1zM153 53h1v1h-1zM56 54h1v1h-1zM59 55h2v1h-2zM75 55h1v1h-1zM82 55h2v1h-2zM155 55h1v1h-1zM55 56h1v1h-1zM79 56h1v1h-1zM81 56h1v1h-1zM92 56h1v1h-1zM179 56h1v1h-1zM42 57h1v1h-1zM86 57h2v1h-2zM89 57h1v1h-1zM75 58h1v1h-1zM131 58h3v1h-3zM173 58h1v1h-1zM85 59h1v1h-1zM129 59h1v1h-1zM178 59h1v1h-1zM57 60h1v1h-1zM84 60h1v1h-1zM88 60h1v1h-1zM139 60h1v1h-1zM60 61h1v1h-1zM75 61h1v1h-1zM90 61h1v1h-1zM135 61h1v1h-1zM37 62h1v1h-1zM52 62h1v1h-1zM85 62h1v1h-1zM91 62h1v1h-1zM150 62h2v1h-2zM155 62h1v1h-1zM56 63h1v1h-1zM75 63h1v1h-1zM45 64h1v1h-1zM58 64h1v1h-1zM60 64h1v1h-1zM176 64h1v1h-1zM101 65h1v1h-1zM152 65h1v1h-1zM180 65h1v1h-1zM86 66h2v1h-2zM150 66h1v1h-1zM45 67h1v1h-1zM95 67h1v1h-1zM98 67h1v1h-1zM57 68h2v1h-2zM98 68h1v1h-1zM180 68h1v1h-1zM55 69h1v1h-1zM79 69h1v1h-1zM91 69h1v1h-1zM156 69h1v1h-1zM48 70h1v1h-1zM103 70h2v1h-2zM108 70h1v1h-1zM117 70h1v1h-1zM148 70h1v1h-1zM156 70h1v1h-1zM44 71h1v1h-1zM48 71h1v1h-1zM59 71h1v1h-1zM73 71h1v1h-1zM104 71h1v1h-1zM107 71h1v1h-1zM110 71h1v1h-1zM113 71h1v1h-1zM132 71h1v1h-1zM142 72h1v1h-1zM178 72h1v1h-1zM52 73h1v1h-1zM57 73h1v1h-1zM132 73h1v1h-1zM178 73h1v1h-1zM181 73h1v1h-1zM45 74h1v1h-1zM47 74h1v1h-1zM103 74h1v1h-1zM152 74h2v1h-2zM82 75h1v1h-1zM87 75h1v1h-1zM102 75h2v1h-2zM118 75h1v1h-1zM126 75h1v1h-1zM128 75h1v1h-1zM147 75h2v1h-2zM154 75h1v1h-1zM165 75h1v1h-1zM175 75h1v1h-1zM129 76h1v1h-1zM174 76h1v1h-1zM177 76h1v1h-1zM51 77h1v1h-1zM74 77h1v1h-1zM78 77h1v1h-1zM82 77h1v1h-1zM109 77h1v1h-1zM113 77h1v1h-1zM117 77h1v1h-1zM123 77h1v1h-1zM129 77h2v1h-2zM182 77h1v1h-1zM96 78h3v1h-3zM101 78h1v1h-1zM166 78h1v1h-1zM175 78h1v1h-1zM186 78h1v1h-1zM69 79h1v1h-1zM72 79h1v1h-1zM74 79h1v1h-1zM82 79h1v1h-1zM97 79h1v1h-1zM104 79h1v1h-1zM106 79h1v1h-1zM110 79h1v1h-1zM113 79h1v1h-1zM119 79h1v1h-1zM121 79h1v1h-1zM133 79h1v1h-1zM137 79h1v1h-1zM181 79h1v1h-1zM184 79h1v1h-1zM60 80h1v1h-1zM71 80h3v1h-3zM77 80h1v1h-1zM80 80h1v1h-1zM83 80h2v1h-2zM88 80h1v1h-1zM95 80h1v1h-1zM97 80h1v1h-1zM100 80h2v1h-2zM104 80h1v1h-1zM108 80h1v1h-1zM115 80h1v1h-1zM125 80h1v1h-1zM134 80h1v1h-1zM174 80h2v1h-2zM183 80h2v1h-2zM188 80h1v1h-1zM0 81h1v1h-1zM6 81h1v1h-1zM13 81h1v1h-1zM18 81h1v1h-1zM21 81h2v1h-2zM26 81h1v1h-1zM30 81h1v1h-1zM198 81h1v1h-1zM201 81h1v1h-1zM203 81h1v1h-1zM208 81h1v1h-1zM0 82h1v1h-1zM6 82h1v1h-1zM13 82h1v1h-1zM18 82h1v1h-1zM21 82h2v1h-2zM26 82h1v1h-1zM30 82h1v1h-1zM198 82h1v1h-1zM201 82h1v1h-1zM203 82h1v1h-1zM208 82h1v1h-1z"/><path fill="#63cb5f" d="M47 0h1v1h-1zM47 1h1v1h-1zM46 2h1v1h-1zM153 2h1v1h-1zM122 6h1v1h-1zM41 7h1v1h-1zM156 7h1v1h-1zM120 9h1v1h-1zM151 9h2v1h-2zM123 11h1v1h-1zM154 11h1v1h-1zM125 12h1v1h-1zM178 12h1v1h-1zM180 12h1v1h-1zM60 13h1v1h-1zM151 13h1v1h-1zM88 14h1v1h-1zM154 15h1v1h-1zM181 15h1v1h-1zM89 16h1v1h-1zM149 16h1v1h-1zM179 17h1v1h-1zM47 18h1v1h-1zM147 18h1v1h-1zM150 18h1v1h-1zM103 20h1v1h-1zM155 20h1v1h-1zM90 23h1v1h-1zM90 25h1v1h-1zM129 25h1v1h-1zM156 25h1v1h-1zM133 26h2v1h-2zM147 26h1v1h-1zM151 26h1v1h-1zM41 27h1v1h-1zM46 27h1v1h-1zM156 27h1v1h-1zM92 28h1v1h-1zM148 28h1v1h-1zM152 30h1v1h-1zM41 31h1v1h-1zM58 31h1v1h-1zM59 32h1v1h-1zM136 33h1v1h-1zM47 34h1v1h-1zM87 34h1v1h-1zM136 34h1v1h-1zM47 35h1v1h-1zM132 35h1v1h-1zM148 35h1v1h-1zM39 36h1v1h-1zM89 36h1v1h-1zM147 36h1v1h-1zM92 37h1v1h-1zM152 37h1v1h-1zM132 38h1v1h-1zM152 38h1v1h-1zM83 39h1v1h-1zM155 39h1v1h-1zM148 40h1v1h-1zM43 41h1v1h-1zM45 41h1v1h-1zM90 41h1v1h-1zM131 41h1v1h-1zM39 42h1v1h-1zM129 42h1v1h-1zM149 42h1v1h-1zM44 43h1v1h-1zM59 43h1v1h-1zM154 43h1v1h-1zM91 44h1v1h-1zM58 45h2v1h-2zM37 46h1v1h-1zM49 46h1v1h-1zM79 46h1v1h-1zM135 46h1v1h-1zM46 47h1v1h-1zM131 47h1v1h-1zM136 47h1v1h-1zM162 48h1v1h-1zM88 49h1v1h-1zM132 49h1v1h-1zM42 50h1v1h-1zM44 50h1v1h-1zM81 50h1v1h-1zM153 50h2v1h-2zM175 51h1v1h-1zM40 52h1v1h-1zM136 52h1v1h-1zM42 53h1v1h-1zM60 53h1v1h-1zM44 54h1v1h-1zM85 54h1v1h-1zM130 54h1v1h-1zM38 55h1v1h-1zM134 55h1v1h-1zM50 57h1v1h-1zM56 57h1v1h-1zM88 57h1v1h-1zM180 57h1v1h-1zM41 58h1v1h-1zM44 58h1v1h-1zM58 58h1v1h-1zM80 58h1v1h-1zM182 58h1v1h-1zM77 59h1v1h-1zM79 59h1v1h-1zM58 60h1v1h-1zM74 60h1v1h-1zM87 60h1v1h-1zM89 60h1v1h-1zM48 61h1v1h-1zM76 61h1v1h-1zM84 62h1v1h-1zM86 62h1v1h-1zM89 62h1v1h-1zM134 62h1v1h-1zM57 63h1v1h-1zM133 63h1v1h-1zM185 63h1v1h-1zM92 64h1v1h-1zM173 64h1v1h-1zM175 64h1v1h-1zM177 65h1v1h-1zM184 65h1v1h-1zM45 66h1v1h-1zM48 66h1v1h-1zM85 66h1v1h-1zM88 66h1v1h-1zM97 66h1v1h-1zM153 66h1v1h-1zM44 67h1v1h-1zM94 67h1v1h-1zM173 67h1v1h-1zM44 68h1v1h-1zM54 68h1v1h-1zM82 68h1v1h-1zM94 68h1v1h-1zM90 69h1v1h-1zM46 70h1v1h-1zM120 70h1v1h-1zM122 70h1v1h-1zM173 70h1v1h-1zM53 71h2v1h-2zM88 71h2v1h-2zM109 71h1v1h-1zM156 71h1v1h-1zM89 72h1v1h-1zM156 72h1v1h-1zM179 72h1v1h-1zM58 73h1v1h-1zM84 73h3v1h-3zM128 73h1v1h-1zM142 73h1v1h-1zM46 74h1v1h-1zM48 74h1v1h-1zM52 74h2v1h-2zM82 74h1v1h-1zM89 74h1v1h-1zM138 74h1v1h-1zM140 74h1v1h-1zM89 75h1v1h-1zM104 75h1v1h-1zM127 75h1v1h-1zM146 75h1v1h-1zM153 75h1v1h-1zM155 75h1v1h-1zM162 75h1v1h-1zM93 76h1v1h-1zM115 76h1v1h-1zM126 76h1v1h-1zM143 76h1v1h-1zM148 76h1v1h-1zM151 76h1v1h-1zM179 76h1v1h-1zM72 77h1v1h-1zM75 77h2v1h-2zM102 77h1v1h-1zM112 77h1v1h-1zM118 77h1v1h-1zM131 77h1v1h-1zM162 77h1v1h-1zM183 77h1v1h-1zM185 77h1v1h-1zM67 78h1v1h-1zM71 78h1v1h-1zM77 78h1v1h-1zM100 78h1v1h-1zM150 78h1v1h-1zM60 79h1v1h-1zM68 79h1v1h-1zM70 79h1v1h-1zM75 79h1v1h-1zM89 79h2v1h-2zM95 79h1v1h-1zM102 79h1v1h-1zM105 79h1v1h-1zM118 79h1v1h-1zM131 79h2v1h-2zM135 79h2v1h-2zM152 79h1v1h-1zM162 79h1v1h-1zM183 79h1v1h-1zM67 80h1v1h-1zM74 80h1v1h-1zM76 80h1v1h-1zM78 80h1v1h-1zM87 80h1v1h-1zM89 80h1v1h-1zM92 80h1v1h-1zM94 80h1v1h-1zM96 80h1v1h-1zM98 80h1v1h-1zM107 80h1v1h-1zM110 80h2v1h-2zM113 80h1v1h-1zM116 80h2v1h-2zM179 80h1v1h-1zM181 80h1v1h-1zM3 81h1v1h-1zM9 81h1v1h-1zM15 81h1v1h-1zM20 81h1v1h-1zM23 81h1v1h-1zM29 81h1v1h-1zM3 82h1v1h-1zM9 82h1v1h-1zM15 82h1v1h-1zM20 82h1v1h-1zM23 82h1v1h-1zM29 82h1v1h-1z"/><path fill="#6ccd5a" d="M122 5h1v1h-1zM148 6h1v1h-1zM151 6h1v1h-1zM120 8h1v1h-1zM155 9h1v1h-1zM178 9h1v1h-1zM122 10h1v1h-1zM181 10h1v1h-1zM179 11h1v1h-1zM182 12h1v1h-1zM152 13h1v1h-1zM87 14h1v1h-1zM152 14h1v1h-1zM179 14h1v1h-1zM154 16h1v1h-1zM182 16h1v1h-1zM89 17h1v1h-1zM152 18h1v1h-1zM179 18h1v1h-1zM41 21h1v1h-1zM148 21h1v1h-1zM133 23h1v1h-1zM156 24h1v1h-1zM148 25h1v1h-1zM149 28h1v1h-1zM58 29h2v1h-2zM132 29h1v1h-1zM147 29h1v1h-1zM57 31h1v1h-1zM92 31h1v1h-1zM149 31h1v1h-1zM89 32h1v1h-1zM133 32h2v1h-2zM148 32h1v1h-1zM89 33h2v1h-2zM151 34h1v1h-1zM87 35h1v1h-1zM133 35h2v1h-2zM88 36h1v1h-1zM90 36h2v1h-2zM148 36h1v1h-1zM147 37h1v1h-1zM150 38h2v1h-2zM89 39h1v1h-1zM156 39h1v1h-1zM139 44h1v1h-1zM40 46h1v1h-1zM44 46h1v1h-1zM55 46h1v1h-1zM138 46h1v1h-1zM44 47h1v1h-1zM57 47h2v1h-2zM138 47h1v1h-1zM37 49h1v1h-1zM40 49h1v1h-1zM42 49h1v1h-1zM48 49h1v1h-1zM90 49h1v1h-1zM136 49h1v1h-1zM153 49h1v1h-1zM130 50h1v1h-1zM85 51h1v1h-1zM133 51h1v1h-1zM163 51h2v1h-2zM46 52h1v1h-1zM58 52h1v1h-1zM91 52h1v1h-1zM41 54h1v1h-1zM131 54h1v1h-1zM175 54h1v1h-1zM40 55h1v1h-1zM132 55h1v1h-1zM176 55h2v1h-2zM43 56h1v1h-1zM135 58h1v1h-1zM181 58h1v1h-1zM137 60h1v1h-1zM173 60h1v1h-1zM179 60h2v1h-2zM184 62h1v1h-1zM43 63h1v1h-1zM131 63h2v1h-2zM173 63h1v1h-1zM175 63h2v1h-2zM177 64h1v1h-1zM51 65h1v1h-1zM151 65h1v1h-1zM39 66h1v1h-1zM46 66h1v1h-1zM82 66h1v1h-1zM94 66h1v1h-1zM181 66h1v1h-1zM86 67h2v1h-2zM90 67h2v1h-2zM96 67h1v1h-1zM83 68h1v1h-1zM133 68h1v1h-1zM164 69h1v1h-1zM178 69h1v1h-1zM45 70h1v1h-1zM49 70h1v1h-1zM135 70h1v1h-1zM106 71h1v1h-1zM131 71h1v1h-1zM44 72h2v1h-2zM173 72h1v1h-1zM74 73h1v1h-1zM106 73h1v1h-1zM108 73h2v1h-2zM113 73h1v1h-1zM123 73h1v1h-1zM139 73h1v1h-1zM83 74h1v1h-1zM87 74h1v1h-1zM102 74h1v1h-1zM141 74h1v1h-1zM143 74h2v1h-2zM151 74h1v1h-1zM174 74h1v1h-1zM83 75h1v1h-1zM88 75h1v1h-1zM149 75h1v1h-1zM152 75h1v1h-1zM178 75h1v1h-1zM183 75h1v1h-1zM85 76h1v1h-1zM142 76h1v1h-1zM147 76h1v1h-1zM154 76h1v1h-1zM176 76h1v1h-1zM89 77h2v1h-2zM106 77h2v1h-2zM110 77h1v1h-1zM120 77h2v1h-2zM125 77h1v1h-1zM133 77h1v1h-1zM136 77h1v1h-1zM156 77h1v1h-1zM164 77h1v1h-1zM38 78h1v1h-1zM151 78h1v1h-1zM176 78h1v1h-1zM71 79h1v1h-1zM73 79h1v1h-1zM83 79h2v1h-2zM87 79h1v1h-1zM91 79h2v1h-2zM99 79h1v1h-1zM115 79h2v1h-2zM120 79h1v1h-1zM122 79h1v1h-1zM124 79h1v1h-1zM134 79h1v1h-1zM69 80h1v1h-1zM82 80h1v1h-1zM86 80h1v1h-1zM103 80h1v1h-1zM119 80h1v1h-1zM122 80h2v1h-2zM129 80h1v1h-1zM151 80h2v1h-2zM5 81h1v1h-1zM8 81h1v1h-1zM16 81h1v1h-1zM27 81h2v1h-2zM196 81h1v1h-1zM206 81h1v1h-1zM210 81h1v1h-1zM5 82h1v1h-1zM8 82h1v1h-1zM16 82h1v1h-1zM27 82h2v1h-2zM196 82h1v1h-1zM206 82h1v1h-1zM210 82h1v1h-1z"/><path fill="#75d054" d="M121 8h1v1h-1zM154 8h1v1h-1zM89 15h1v1h-1zM87 16h1v1h-1zM88 20h1v1h-1zM150 22h1v1h-1zM152 25h1v1h-1zM90 26h1v1h-1zM149 27h1v1h-1zM88 28h2v1h-2zM91 28h1v1h-1zM129 28h1v1h-1zM92 29h1v1h-1zM87 30h1v1h-1zM147 32h1v1h-1zM147 33h1v1h-1zM92 34h1v1h-1zM150 34h1v1h-1zM154 34h1v1h-1zM150 35h1v1h-1zM92 36h1v1h-1zM137 36h1v1h-1zM148 39h2v1h-2zM147 40h1v1h-1zM153 42h1v1h-1zM137 43h1v1h-1zM155 43h1v1h-1zM38 44h1v1h-1zM92 44h1v1h-1zM48 46h1v1h-1zM38 47h1v1h-1zM91 47h2v1h-2zM39 48h1v1h-1zM43 48h1v1h-1zM139 48h1v1h-1zM41 51h1v1h-1zM47 51h1v1h-1zM49 52h1v1h-1zM55 52h1v1h-1zM57 52h1v1h-1zM129 53h1v1h-1zM132 53h1v1h-1zM174 53h1v1h-1zM39 54h1v1h-1zM89 54h1v1h-1zM174 54h1v1h-1zM176 54h1v1h-1zM43 55h1v1h-1zM46 56h1v1h-1zM48 56h1v1h-1zM138 57h1v1h-1zM129 58h1v1h-1zM136 58h1v1h-1zM43 59h1v1h-1zM92 60h1v1h-1zM135 60h1v1h-1zM178 60h1v1h-1zM180 61h1v1h-1zM182 61h1v1h-1zM88 62h1v1h-1zM42 63h1v1h-1zM93 63h1v1h-1zM47 64h1v1h-1zM59 64h1v1h-1zM91 64h1v1h-1zM180 64h1v1h-1zM182 64h1v1h-1zM47 65h1v1h-1zM130 65h1v1h-1zM183 65h1v1h-1zM81 66h1v1h-1zM89 66h1v1h-1zM98 66h1v1h-1zM130 66h1v1h-1zM132 66h1v1h-1zM184 66h2v1h-2zM47 67h1v1h-1zM88 67h1v1h-1zM81 68h1v1h-1zM132 68h1v1h-1zM134 68h1v1h-1zM179 68h1v1h-1zM87 69h1v1h-1zM139 69h1v1h-1zM155 69h1v1h-1zM47 70h1v1h-1zM51 70h1v1h-1zM58 70h1v1h-1zM79 71h1v1h-1zM87 71h1v1h-1zM178 71h1v1h-1zM183 71h1v1h-1zM73 73h1v1h-1zM93 73h1v1h-1zM105 73h1v1h-1zM111 73h1v1h-1zM139 74h1v1h-1zM142 74h1v1h-1zM156 74h1v1h-1zM150 75h2v1h-2zM164 75h1v1h-1zM177 75h1v1h-1zM179 75h3v1h-3zM114 76h1v1h-1zM116 76h1v1h-1zM118 76h1v1h-1zM149 76h2v1h-2zM155 76h1v1h-1zM182 76h1v1h-1zM81 77h1v1h-1zM104 77h1v1h-1zM111 77h1v1h-1zM119 77h1v1h-1zM79 78h1v1h-1zM187 78h1v1h-1zM81 79h1v1h-1zM111 79h2v1h-2zM130 79h1v1h-1zM139 79h1v1h-1zM150 79h1v1h-1zM173 79h1v1h-1zM175 79h1v1h-1zM79 80h1v1h-1zM85 80h1v1h-1zM90 80h1v1h-1zM137 80h1v1h-1zM164 80h1v1h-1zM195 81h1v1h-1zM195 82h1v1h-1z"/><path fill="#7fd34e" d="M153 6h1v1h-1zM181 11h1v1h-1zM87 17h2v1h-2zM89 20h1v1h-1zM132 21h1v1h-1zM153 22h1v1h-1zM151 25h1v1h-1zM150 26h1v1h-1zM130 27h1v1h-1zM90 29h1v1h-1zM134 29h1v1h-1zM60 30h1v1h-1zM89 31h1v1h-1zM91 31h1v1h-1zM135 31h1v1h-1zM88 33h1v1h-1zM137 33h1v1h-1zM135 34h1v1h-1zM152 34h1v1h-1zM88 38h1v1h-1zM154 38h1v1h-1zM92 42h1v1h-1zM154 42h1v1h-1zM50 44h1v1h-1zM48 45h1v1h-1zM139 46h1v1h-1zM50 49h1v1h-1zM55 49h1v1h-1zM59 49h1v1h-1zM57 51h1v1h-1zM37 52h1v1h-1zM43 52h1v1h-1zM50 52h1v1h-1zM59 52h1v1h-1zM134 52h1v1h-1zM130 53h1v1h-1zM47 55h1v1h-1zM40 56h1v1h-1zM50 56h1v1h-1zM37 57h1v1h-1zM39 57h1v1h-1zM41 57h1v1h-1zM179 57h1v1h-1zM38 58h1v1h-1zM39 60h1v1h-1zM50 60h1v1h-1zM136 60h1v1h-1zM138 60h1v1h-1zM45 61h1v1h-1zM133 62h1v1h-1zM39 63h1v1h-1zM58 63h1v1h-1zM90 64h1v1h-1zM84 65h1v1h-1zM132 65h2v1h-2zM138 66h1v1h-1zM46 67h1v1h-1zM48 67h1v1h-1zM37 68h1v1h-1zM40 68h1v1h-1zM93 68h1v1h-1zM131 68h1v1h-1zM78 69h1v1h-1zM130 69h1v1h-1zM151 69h1v1h-1zM154 69h1v1h-1zM179 69h1v1h-1zM38 70h1v1h-1zM52 70h1v1h-1zM60 70h1v1h-1zM47 71h1v1h-1zM57 71h2v1h-2zM88 72h1v1h-1zM137 72h1v1h-1zM163 72h1v1h-1zM183 72h1v1h-1zM91 73h1v1h-1zM110 73h1v1h-1zM112 73h1v1h-1zM119 73h2v1h-2zM156 73h1v1h-1zM78 74h1v1h-1zM38 75h1v1h-1zM56 75h1v1h-1zM156 75h1v1h-1zM173 75h1v1h-1zM91 76h1v1h-1zM139 76h1v1h-1zM87 77h1v1h-1zM103 77h1v1h-1zM173 77h1v1h-1zM188 78h1v1h-1zM85 79h1v1h-1zM107 79h1v1h-1zM151 79h1v1h-1zM163 80h1v1h-1zM178 80h1v1h-1z"/><path fill="#89d548" d="M154 7h1v1h-1zM151 21h1v1h-1zM92 26h1v1h-1zM132 26h1v1h-1zM131 27h2v1h-2zM155 27h1v1h-1zM90 28h1v1h-1zM155 28h1v1h-1zM133 29h1v1h-1zM137 30h1v1h-1zM90 31h1v1h-1zM134 31h1v1h-1zM136 31h2v1h-2zM152 33h1v1h-1zM87 36h1v1h-1zM153 41h1v1h-1zM91 42h1v1h-1zM138 42h1v1h-1zM48 43h1v1h-1zM57 45h1v1h-1zM90 47h1v1h-1zM46 48h1v1h-1zM49 48h1v1h-1zM138 48h1v1h-1zM57 49h1v1h-1zM91 49h1v1h-1zM92 50h1v1h-1zM38 52h1v1h-1zM50 53h1v1h-1zM87 54h2v1h-2zM90 55h2v1h-2zM131 55h1v1h-1zM42 56h1v1h-1zM174 57h1v1h-1zM174 58h1v1h-1zM177 59h1v1h-1zM37 60h1v1h-1zM42 60h1v1h-1zM41 61h1v1h-1zM50 61h1v1h-1zM129 61h1v1h-1zM40 62h1v1h-1zM136 63h1v1h-1zM41 64h1v1h-1zM181 64h1v1h-1zM55 65h1v1h-1zM131 65h1v1h-1zM134 65h1v1h-1zM57 66h1v1h-1zM131 66h1v1h-1zM174 66h1v1h-1zM89 67h1v1h-1zM45 68h1v1h-1zM130 68h1v1h-1zM178 68h1v1h-1zM77 69h1v1h-1zM88 69h1v1h-1zM152 69h1v1h-1zM174 69h1v1h-1zM37 70h1v1h-1zM86 70h1v1h-1zM150 70h1v1h-1zM155 70h1v1h-1zM75 71h1v1h-1zM77 71h1v1h-1zM82 71h1v1h-1zM181 71h1v1h-1zM87 72h1v1h-1zM185 72h1v1h-1zM37 73h1v1h-1zM75 73h1v1h-1zM80 73h1v1h-1zM107 73h1v1h-1zM117 73h2v1h-2zM121 73h2v1h-2zM124 73h1v1h-1zM79 74h1v1h-1zM125 75h1v1h-1zM92 76h1v1h-1zM111 76h1v1h-1zM113 76h1v1h-1zM125 76h1v1h-1zM141 76h1v1h-1zM145 76h1v1h-1zM156 76h1v1h-1zM138 77h1v1h-1zM37 78h1v1h-1zM56 78h2v1h-2zM93 78h1v1h-1zM126 78h3v1h-3zM149 78h1v1h-1zM173 78h1v1h-1zM108 79h1v1h-1zM148 79h1v1h-1zM163 79h1v1h-1zM178 79h1v1h-1zM138 80h1v1h-1z"/><path fill="#95d840" d="M153 7h1v1h-1zM155 8h1v1h-1zM152 21h1v1h-1zM132 24h1v1h-1zM152 29h1v1h-1zM88 30h1v1h-1zM150 31h1v1h-1zM132 32h1v1h-1zM134 34h1v1h-1zM137 34h1v1h-1zM154 35h1v1h-1zM155 36h1v1h-1zM154 39h1v1h-1zM49 44h1v1h-1zM90 44h1v1h-1zM139 45h1v1h-1zM153 45h1v1h-1zM153 46h1v1h-1zM155 46h1v1h-1zM47 47h1v1h-1zM60 47h1v1h-1zM50 48h1v1h-1zM136 48h1v1h-1zM37 51h1v1h-1zM43 51h1v1h-1zM56 51h1v1h-1zM90 52h1v1h-1zM92 52h1v1h-1zM132 52h1v1h-1zM37 54h1v1h-1zM92 55h1v1h-1zM47 56h1v1h-1zM130 56h1v1h-1zM91 57h2v1h-2zM175 58h2v1h-2zM49 60h1v1h-1zM38 61h1v1h-1zM174 62h1v1h-1zM138 63h1v1h-1zM38 64h1v1h-1zM40 65h1v1h-1zM49 65h1v1h-1zM85 65h1v1h-1zM174 65h1v1h-1zM178 65h2v1h-2zM137 66h1v1h-1zM41 67h1v1h-1zM129 67h1v1h-1zM55 68h1v1h-1zM56 69h1v1h-1zM89 69h1v1h-1zM150 69h1v1h-1zM57 70h1v1h-1zM85 70h1v1h-1zM46 71h1v1h-1zM55 71h1v1h-1zM80 71h2v1h-2zM39 72h2v1h-2zM162 72h1v1h-1zM184 72h1v1h-1zM38 73h1v1h-1zM72 73h1v1h-1zM90 73h1v1h-1zM125 73h1v1h-1zM129 73h1v1h-1zM173 73h1v1h-1zM77 74h1v1h-1zM173 74h1v1h-1zM39 75h1v1h-1zM60 75h1v1h-1zM124 75h1v1h-1zM163 75h1v1h-1zM73 76h1v1h-1zM106 76h1v1h-1zM109 76h1v1h-1zM117 76h1v1h-1zM119 76h1v1h-1zM124 76h1v1h-1zM140 76h1v1h-1zM144 76h1v1h-1zM173 76h1v1h-1zM50 77h1v1h-1zM145 77h1v1h-1zM153 77h1v1h-1zM155 77h1v1h-1zM40 78h1v1h-1zM42 78h2v1h-2zM59 78h1v1h-1zM138 79h1v1h-1zM142 79h1v1h-1zM179 79h1v1h-1zM146 80h1v1h-1zM148 80h1v1h-1z"/><path fill="#a0da39" d="M151 22h1v1h-1zM154 23h1v1h-1zM151 29h1v1h-1zM150 30h2v1h-2zM154 30h1v1h-1zM155 35h1v1h-1zM49 43h1v1h-1zM48 44h1v1h-1zM59 46h1v1h-1zM155 47h1v1h-1zM58 49h1v1h-1zM134 49h1v1h-1zM38 50h1v1h-1zM48 51h1v1h-1zM48 52h1v1h-1zM131 52h1v1h-1zM133 52h1v1h-1zM38 53h1v1h-1zM47 60h2v1h-2zM90 60h2v1h-2zM43 62h1v1h-1zM42 64h1v1h-1zM129 64h1v1h-1zM91 65h1v1h-1zM179 66h1v1h-1zM38 67h1v1h-1zM59 67h1v1h-1zM85 67h1v1h-1zM41 68h1v1h-1zM183 68h2v1h-2zM50 69h1v1h-1zM138 69h1v1h-1zM153 69h1v1h-1zM176 69h1v1h-1zM90 70h1v1h-1zM153 70h1v1h-1zM174 70h1v1h-1zM177 70h1v1h-1zM41 71h1v1h-1zM78 71h1v1h-1zM38 72h1v1h-1zM55 72h2v1h-2zM132 72h1v1h-1zM139 72h1v1h-1zM164 72h1v1h-1zM131 73h1v1h-1zM148 73h1v1h-1zM42 74h1v1h-1zM40 75h1v1h-1zM55 75h1v1h-1zM123 75h1v1h-1zM129 75h2v1h-2zM132 75h1v1h-1zM134 75h1v1h-1zM137 75h1v1h-1zM139 75h1v1h-1zM142 75h1v1h-1zM76 76h1v1h-1zM107 76h2v1h-2zM110 76h1v1h-1zM121 76h1v1h-1zM123 76h1v1h-1zM41 77h1v1h-1zM139 77h1v1h-1zM55 78h1v1h-1zM72 78h1v1h-1zM75 78h1v1h-1zM148 78h1v1h-1zM144 79h1v1h-1zM146 79h1v1h-1zM142 80h1v1h-1zM173 80h1v1h-1z"/><path fill="#aadc32" d="M152 22h1v1h-1zM150 23h1v1h-1zM153 26h1v1h-1zM153 30h1v1h-1zM154 31h1v1h-1zM153 34h1v1h-1zM153 38h1v1h-1zM57 46h1v1h-1zM137 46h1v1h-1zM59 47h1v1h-1zM47 48h1v1h-1zM57 48h1v1h-1zM90 57h1v1h-1zM176 59h1v1h-1zM46 60h1v1h-1zM46 61h1v1h-1zM49 61h1v1h-1zM130 61h2v1h-2zM174 61h1v1h-1zM44 62h1v1h-1zM135 63h1v1h-1zM37 65h1v1h-1zM88 65h1v1h-1zM93 65h1v1h-1zM56 66h1v1h-1zM135 66h1v1h-1zM175 66h1v1h-1zM85 68h1v1h-1zM39 69h1v1h-1zM184 69h1v1h-1zM84 70h1v1h-1zM129 70h1v1h-1zM176 70h1v1h-1zM76 71h1v1h-1zM83 71h1v1h-1zM91 71h2v1h-2zM180 71h1v1h-1zM130 72h1v1h-1zM133 72h2v1h-2zM44 73h1v1h-1zM76 73h1v1h-1zM92 73h1v1h-1zM130 73h1v1h-1zM153 73h2v1h-2zM41 74h1v1h-1zM43 74h1v1h-1zM183 74h1v1h-1zM57 75h2v1h-2zM133 75h1v1h-1zM135 75h2v1h-2zM144 75h1v1h-1zM184 75h1v1h-1zM37 76h1v1h-1zM72 76h1v1h-1zM75 76h1v1h-1zM78 76h2v1h-2zM112 76h1v1h-1zM122 76h1v1h-1zM42 77h1v1h-1zM47 77h3v1h-3zM141 77h3v1h-3zM41 78h1v1h-1zM110 78h1v1h-1zM149 79h1v1h-1zM139 80h3v1h-3zM143 80h1v1h-1zM145 80h1v1h-1zM147 80h1v1h-1zM149 80h1v1h-1z"/><path fill="#b5de2b" d="M155 24h1v1h-1zM155 31h1v1h-1zM155 32h1v1h-1zM138 45h1v1h-1zM58 46h1v1h-1zM154 46h1v1h-1zM48 48h1v1h-1zM135 49h1v1h-1zM132 61h1v1h-1zM177 62h1v1h-1zM91 63h1v1h-1zM137 63h1v1h-1zM179 63h1v1h-1zM46 64h1v1h-1zM50 64h1v1h-1zM135 64h1v1h-1zM86 65h2v1h-2zM58 66h1v1h-1zM136 66h1v1h-1zM60 67h1v1h-1zM50 68h1v1h-1zM84 68h1v1h-1zM49 69h1v1h-1zM137 69h1v1h-1zM185 69h1v1h-1zM42 70h1v1h-1zM91 70h1v1h-1zM175 70h1v1h-1zM180 70h1v1h-1zM40 71h1v1h-1zM42 71h1v1h-1zM182 71h1v1h-1zM50 72h1v1h-1zM135 72h2v1h-2zM138 72h1v1h-1zM50 73h1v1h-1zM102 73h3v1h-3zM147 73h1v1h-1zM174 73h1v1h-1zM59 75h1v1h-1zM131 75h1v1h-1zM140 75h2v1h-2zM74 76h1v1h-1zM77 76h1v1h-1zM80 76h1v1h-1zM88 76h1v1h-1zM105 76h1v1h-1zM120 76h1v1h-1zM45 77h1v1h-1zM144 77h1v1h-1zM154 77h1v1h-1zM39 78h1v1h-1zM58 78h1v1h-1zM74 78h1v1h-1zM104 78h2v1h-2zM113 78h1v1h-1zM124 78h1v1h-1zM163 78h1v1h-1zM140 79h1v1h-1zM143 79h1v1h-1zM147 79h1v1h-1z"/><path fill="#c0df25" d="M137 45h1v1h-1zM136 46h1v1h-1zM133 61h1v1h-1zM90 62h1v1h-1zM92 63h1v1h-1zM178 63h1v1h-1zM182 65h1v1h-1zM43 67h1v1h-1zM181 67h1v1h-1zM87 68h1v1h-1zM92 68h1v1h-1zM133 69h2v1h-2zM136 69h1v1h-1zM175 69h1v1h-1zM43 70h1v1h-1zM60 72h1v1h-1zM131 72h1v1h-1zM43 73h1v1h-1zM81 73h1v1h-1zM146 73h1v1h-1zM177 73h1v1h-1zM147 74h1v1h-1zM179 74h1v1h-1zM143 75h1v1h-1zM185 75h1v1h-1zM81 76h2v1h-2zM43 77h2v1h-2zM140 77h1v1h-1zM73 78h1v1h-1zM84 78h1v1h-1zM91 78h1v1h-1zM102 78h2v1h-2zM107 78h1v1h-1zM116 78h2v1h-2zM123 78h1v1h-1zM133 78h1v1h-1zM141 79h1v1h-1zM144 80h1v1h-1z"/><path fill="#cae11f" d="M48 47h1v1h-1zM131 53h1v1h-1zM130 55h1v1h-1zM134 61h1v1h-1zM175 62h2v1h-2zM90 63h1v1h-1zM177 63h1v1h-1zM130 64h1v1h-1zM44 65h1v1h-1zM46 65h1v1h-1zM48 65h1v1h-1zM50 65h1v1h-1zM89 65h1v1h-1zM92 65h1v1h-1zM43 66h1v1h-1zM176 66h1v1h-1zM42 67h1v1h-1zM177 67h1v1h-1zM49 68h1v1h-1zM86 68h1v1h-1zM88 68h1v1h-1zM90 68h2v1h-2zM135 69h1v1h-1zM60 73h1v1h-1zM82 73h2v1h-2zM89 73h1v1h-1zM149 73h3v1h-3zM155 73h1v1h-1zM175 73h1v1h-1zM44 74h1v1h-1zM149 74h1v1h-1zM155 74h1v1h-1zM138 75h1v1h-1zM47 76h2v1h-2zM175 77h1v1h-1zM85 78h1v1h-1zM88 78h3v1h-3zM106 78h1v1h-1zM108 78h2v1h-2zM114 78h1v1h-1zM119 78h2v1h-2zM122 78h1v1h-1zM125 78h1v1h-1zM134 78h1v1h-1zM137 78h1v1h-1zM162 78h1v1h-1zM164 78h1v1h-1zM145 79h1v1h-1z"/><path fill="#d5e21a" d="M129 56h1v1h-1zM48 64h2v1h-2zM131 64h1v1h-1zM45 65h1v1h-1zM177 66h1v1h-1zM180 67h1v1h-1zM89 68h1v1h-1zM181 68h1v1h-1zM132 70h2v1h-2zM47 72h1v1h-1zM49 72h1v1h-1zM47 73h1v1h-1zM87 73h1v1h-1zM152 73h1v1h-1zM176 73h1v1h-1zM146 74h1v1h-1zM154 74h1v1h-1zM180 74h1v1h-1zM182 74h1v1h-1zM145 75h1v1h-1zM102 76h1v1h-1zM104 76h1v1h-1zM46 77h1v1h-1zM152 77h1v1h-1zM76 78h1v1h-1zM80 78h1v1h-1zM82 78h2v1h-2zM86 78h1v1h-1zM92 78h1v1h-1zM111 78h2v1h-2zM115 78h1v1h-1zM118 78h1v1h-1zM131 78h1v1h-1zM177 78h1v1h-1zM182 78h1v1h-1zM184 78h1v1h-1zM77 79h3v1h-3z"/><path fill="#dfe318" d="M134 63h1v1h-1zM90 65h1v1h-1zM175 65h1v1h-1zM44 66h1v1h-1zM48 68h1v1h-1zM182 68h1v1h-1zM48 69h1v1h-1zM58 69h1v1h-1zM132 69h1v1h-1zM44 70h1v1h-1zM88 70h1v1h-1zM130 70h1v1h-1zM179 71h1v1h-1zM59 72h1v1h-1zM48 73h2v1h-2zM88 73h1v1h-1zM148 74h1v1h-1zM176 74h1v1h-1zM178 74h1v1h-1zM181 74h1v1h-1zM87 76h1v1h-1zM89 76h1v1h-1zM103 76h1v1h-1zM151 77h1v1h-1zM174 77h1v1h-1zM176 77h1v1h-1zM81 78h1v1h-1zM87 78h1v1h-1zM121 78h1v1h-1zM129 78h1v1h-1zM132 78h1v1h-1zM135 78h2v1h-2zM180 78h1v1h-1zM183 78h1v1h-1zM185 78h1v1h-1z"/><path fill="#eae51a" d="M133 64h2v1h-2zM179 64h1v1h-1zM133 66h1v1h-1zM130 67h2v1h-2zM45 69h1v1h-1zM87 70h1v1h-1zM131 70h1v1h-1zM178 70h2v1h-2zM46 72h1v1h-1zM48 72h1v1h-1zM45 73h2v1h-2zM175 74h1v1h-1zM177 74h1v1h-1zM182 75h1v1h-1zM83 76h1v1h-1zM150 77h1v1h-1zM177 77h1v1h-1zM180 77h1v1h-1zM60 78h1v1h-1zM130 78h1v1h-1zM139 78h1v1h-1zM145 78h1v1h-1zM181 78h1v1h-1z"/><path fill="#f4e61e" d="M132 64h1v1h-1zM133 67h1v1h-1zM44 69h1v1h-1zM89 70h1v1h-1zM149 77h1v1h-1zM178 77h1v1h-1zM140 78h1v1h-1zM144 78h1v1h-1z"/><path fill="#fde725" d="M134 66h1v1h-1zM178 66h1v1h-1zM132 67h1v1h-1zM134 67h1v1h-1zM178 67h2v1h-2zM46 68h2v1h-2zM46 69h2v1h-2zM57 69h1v1h-1zM59 69h1v1h-1zM59 70h1v1h-1zM57 72h2v1h-2zM146 77h3v1h-3zM179 77h1v1h-1zM181 77h1v1h-1zM138 78h1v1h-1zM141 78h3v1h-3zM146 78h2v1h-2zM178 78h2v1h-2z"/></g></g>
<g shape-rendering="crispEdges"><rect x="50" y="16" width="899" height="1" fill="#000"/><rect x="50" y="221" width="899" height="1" fill="#000"/><rect x="50" y="243" width="899" height="1" fill="#000"/><rect x="50" y="448" width="899" height="1" fill="#000"/><rect x="50" y="16" width="1" height="206" fill="#000"/><rect x="948" y="16" width="1" height="206" fill="#000"/><rect x="50" y="243" width="1" height="206" fill="#000"/><rect x="948" y="243" width="1" height="206" fill="#000"/><rect x="45" y="16" width="5" height="1" fill="#000"/><rect x="45" y="42" width="5" height="1" fill="#000"/><rect x="45" y="67" width="5" height="1" fill="#000"/><rect x="45" y="93" width="5" height="1" fill="#000"/><rect x="45" y="118" width="5" height="1" fill="#000"/><rect x="45" y="144" width="5" height="1" fill="#000"/><rect x="45" y="170" width="5" height="1" fill="#000"/><rect x="45" y="195" width="5" height="1" fill="#000"/><rect x="45" y="221" width="5" height="1" fill="#000"/><rect x="45" y="243" width="5" height="1" fill="#000"/><rect x="45" y="269" width="5" height="1" fill="#000"/><rect x="45" y="294" width="5" height="1" fill="#000"/><rect x="45" y="320" width="5" height="1" fill="#000"/><rect x="45" y="346" width="5" height="1" fill="#000"/><rect x="45" y="371" width="5" height="1" fill="#000"/><rect x="45" y="397" width="5" height="1" fill="#000"/><rect x="45" y="423" width="5" height="1" fill="#000"/><rect x="45" y="448" width="5" height="1" fill="#000"/><rect x="91" y="222" width="1" height="5" fill="#000"/><rect x="241" y="222" width="1" height="5" fill="#000"/><rect x="391" y="222" width="1" height="5" fill="#000"/><rect x="541" y="222" width="1" height="5" fill="#000"/><rect x="691" y="222" width="1" height="5" fill="#000"/><rect x="841" y="222" width="1" height="5" fill="#000"/><rect x="181" y="449" width="1" height="5" fill="#000"/><rect x="314" y="449" width="1" height="5" fill="#000"/><rect x="447" y="449" width="1" height="5" fill="#000"/><rect x="580" y="449" width="1" height="5" fill="#000"/><rect x="713" y="449" width="1" height="5" fill="#000"/><rect x="846" y="449" width="1" height="5" fill="#000"/></g>
<g class="tx"><text x="16.28" y="20.00" text-anchor="start" textLength="23.36" lengthAdjust="spacingAndGlyphs">1.00</text><text x="17.48" y="46.00" text-anchor="start" textLength="21.74" lengthAdjust="spacingAndGlyphs">0.75</text><text x="17.48" y="71.00" text-anchor="start" textLength="21.67" lengthAdjust="spacingAndGlyphs">0.50</text><text x="16.74" y="97.00" text-anchor="start" textLength="22.69" lengthAdjust="spacingAndGlyphs">0.25</text><text x="17.48" y="122.00" text-anchor="start" textLength="21.67" lengthAdjust="spacingAndGlyphs">0.00</text><text x="7.02" y="148.00" text-anchor="start" textLength="32.87" lengthAdjust="spacingAndGlyphs">−0.25</text><text x="7.02" y="174.00" text-anchor="start" textLength="32.87" lengthAdjust="spacingAndGlyphs">−0.50</text><text x="7.02" y="199.00" text-anchor="start" textLength="32.87" lengthAdjust="spacingAndGlyphs">−0.75</text><text x="7.02" y="225.00" text-anchor="start" textLength="32.87" lengthAdjust="spacingAndGlyphs">−1.00</text><text x="13.72" y="247.00" text-anchor="start" textLength="25.57" lengthAdjust="spacingAndGlyphs">4000</text><text x="14.02" y="273.00" text-anchor="start" textLength="25.61" lengthAdjust="spacingAndGlyphs">3500</text><text x="14.02" y="298.00" text-anchor="start" textLength="25.61" lengthAdjust="spacingAndGlyphs">3000</text><text x="13.02" y="324.00" text-anchor="start" textLength="26.38" lengthAdjust="spacingAndGlyphs">2500</text><text x="13.50" y="350.00" text-anchor="start" textLength="26.08" lengthAdjust="spacingAndGlyphs">2000</text><text x="14.02" y="375.00" text-anchor="start" textLength="25.54" lengthAdjust="spacingAndGlyphs">1500</text><text x="14.02" y="401.00" text-anchor="start" textLength="25.54" lengthAdjust="spacingAndGlyphs">1000</text><text x="21.02" y="427.00" text-anchor="start" textLength="18.61" lengthAdjust="spacingAndGlyphs">500</text><text x="33.50" y="452.00" text-anchor="start" textLength="6.10" lengthAdjust="spacingAndGlyphs">0</text><text x="173.74" y="466.00" text-anchor="start" textLength="14.98" lengthAdjust="spacingAndGlyphs">0.5</text><text x="306.04" y="466.00" text-anchor="start" textLength="15.72" lengthAdjust="spacingAndGlyphs">1.0</text><text x="439.04" y="466.00" text-anchor="start" textLength="15.72" lengthAdjust="spacingAndGlyphs">1.5</text><text x="572.74" y="466.00" text-anchor="start" textLength="14.98" lengthAdjust="spacingAndGlyphs">2.0</text><text x="705.74" y="466.00" text-anchor="start" textLength="14.98" lengthAdjust="spacingAndGlyphs">2.5</text><text x="838.04" y="466.00" text-anchor="start" textLength="15.72" lengthAdjust="spacingAndGlyphs">3.0</text></g>
</svg></body></html>
